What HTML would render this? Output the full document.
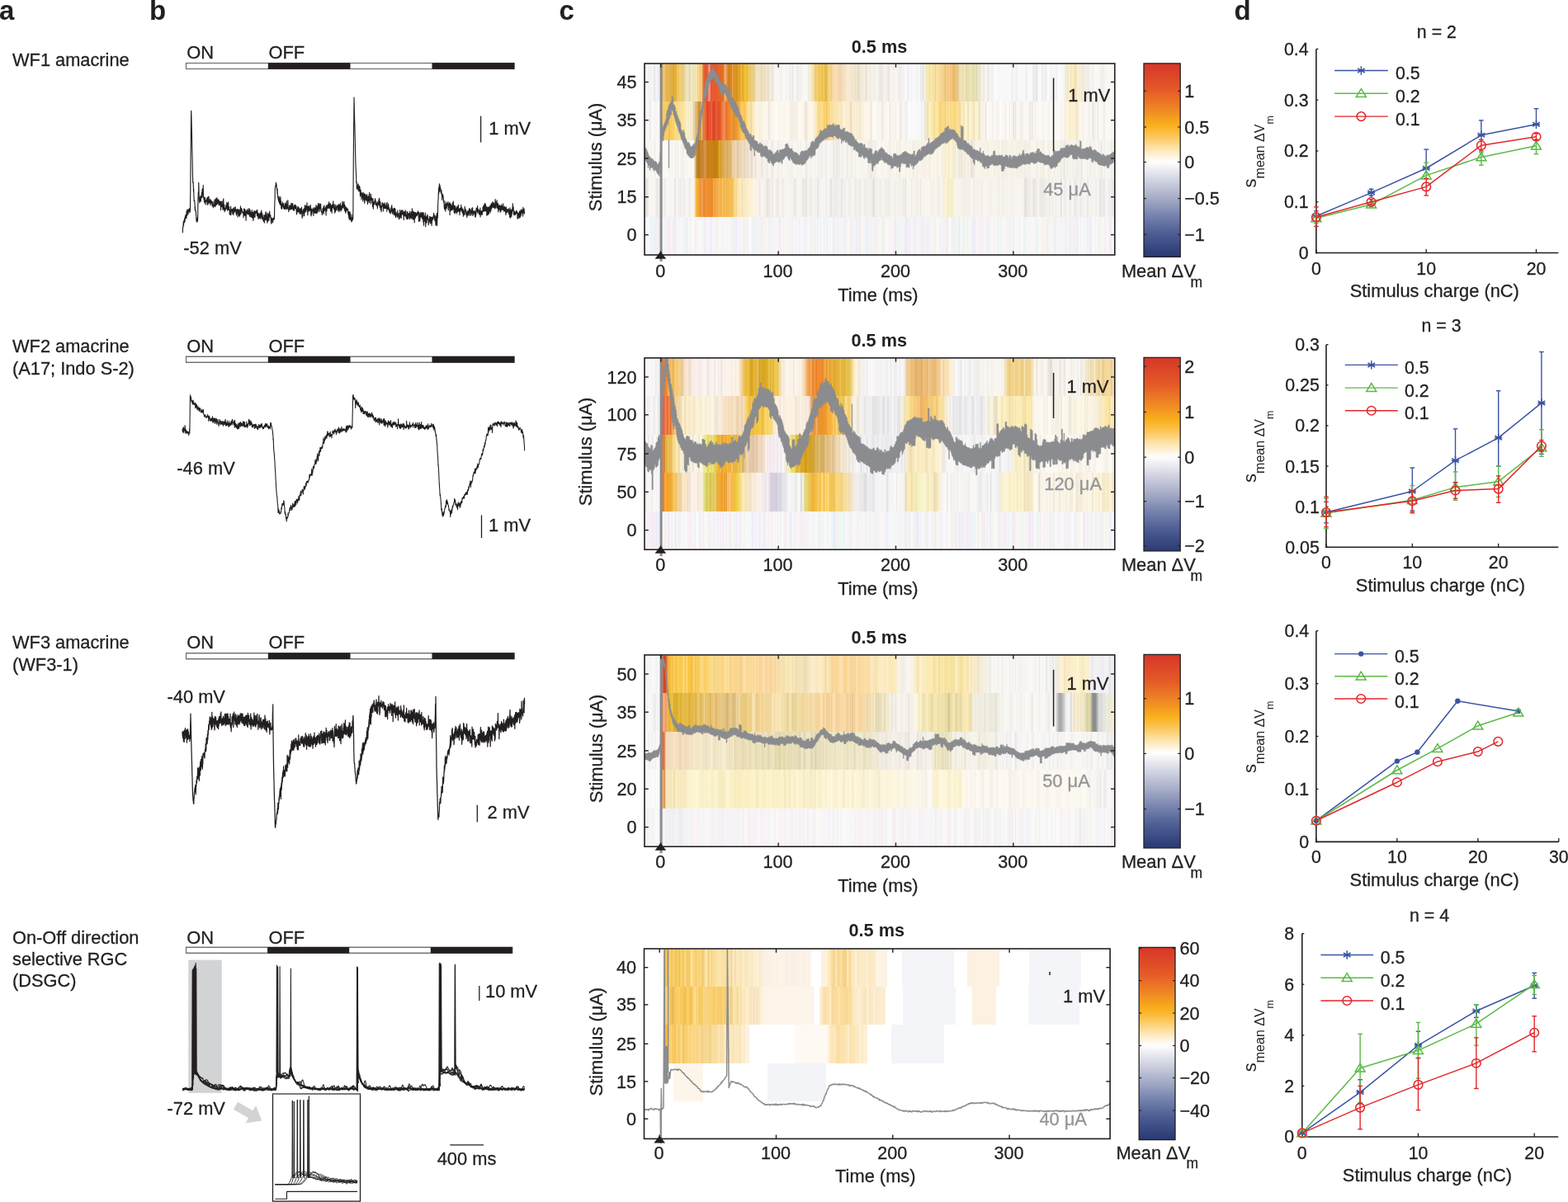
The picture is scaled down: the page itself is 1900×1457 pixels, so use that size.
<!DOCTYPE html>
<html><head><meta charset="utf-8"><title>Figure</title>
<style>
html,body{margin:0;padding:0;background:#fff;}
body{position:relative;width:1900px;height:1457px;overflow:hidden;}
svg{display:block;position:absolute;left:0;top:0;}
#hm div{position:absolute;}
text{font-family:"Liberation Sans",Arial,sans-serif;}
</style></head><body>
<div id="hm"><div style="left:781.8px;top:78.0px;width:568.2px;height:45.0px;background:linear-gradient(90deg,#f1f1f3 0.00%,#f2f2f4 0.21%,#f8f8f9 0.42%,#f6f6f8 0.63%,#eeeef0 0.84%,#f7f7f9 1.06%,#f0f0f2 1.27%,#f5f5f7 1.48%,#f6f6f8 1.69%,#e4e4e6 1.90%,#eeeef0 2.11%,#f6f6f8 2.32%,#f2f2f4 2.53%,#ededef 2.75%,#efeff1 2.96%,#f4f4f6 3.17%,#efd4a0 3.38%,#eec36e 3.59%,#ebb854 3.80%,#f3d396 4.01%,#eab145 4.22%,#eec26e 4.44%,#e2a42a 4.65%,#ebc370 4.86%,#e1a730 5.07%,#e7bd63 5.28%,#dfa62b 5.49%,#e7ba57 5.70%,#daa227 5.91%,#e5ac2c 6.12%,#e8b132 6.34%,#e2ae36 6.55%,#efc563 6.76%,#edc155 6.97%,#f1cc6f 7.18%,#f2ce72 7.39%,#f1cf75 7.60%,#e7c979 7.81%,#e6cd87 8.03%,#e4cf95 8.24%,#ead9a9 8.45%,#f0e1b3 8.66%,#efe2b6 8.87%,#f1e6c3 9.08%,#e5dab3 9.29%,#e0d7b1 9.50%,#eee6c3 9.71%,#f2ecd1 9.93%,#eadfb6 10.14%,#f0e2b4 10.35%,#f3e3b1 10.56%,#f5e4b0 10.77%,#f8e4ad 10.98%,#efd595 11.19%,#f8d890 11.40%,#f2c979 11.62%,#f8c76f 11.83%,#face8d 12.04%,#e18744 12.25%,#ea6a35 12.46%,#e7572d 12.67%,#e84f2a 12.88%,#ea5b3e 13.09%,#ea5638 13.31%,#f29a88 13.52%,#f1907c 13.73%,#ec684c 13.94%,#e84b28 14.15%,#ea5d3a 14.36%,#ea5e38 14.57%,#e25227 14.78%,#e96134 14.99%,#e45927 15.21%,#e85e27 15.42%,#e96a32 15.63%,#e56322 15.84%,#e46621 16.05%,#e66a20 16.26%,#e77023 16.47%,#e16f1c 16.68%,#efad7a 16.90%,#edad76 17.11%,#e7984f 17.32%,#e38931 17.53%,#db7c1b 17.74%,#d47b1c 17.95%,#dd841e 18.16%,#d8841f 18.37%,#e7a754 18.59%,#da8b1f 18.80%,#e19628 19.01%,#dd9320 19.22%,#d6911e 19.43%,#dc981f 19.64%,#e19d20 19.85%,#e6a62a 20.06%,#e4a320 20.27%,#eebf59 20.49%,#e3a823 20.70%,#e6ae26 20.91%,#efbe3e 21.12%,#f0c23f 21.33%,#eebf32 21.54%,#e9be3d 21.75%,#e7bf49 21.96%,#f3d67f 22.18%,#e1c15f 22.39%,#eece71 22.60%,#eed17e 22.81%,#e3ca84 23.02%,#e4cd91 23.23%,#eed8a4 23.44%,#f3e4c2 23.65%,#f2e2be 23.86%,#f3e4c4 24.08%,#f1e0bc 24.29%,#f1e1be 24.50%,#e8d8b5 24.71%,#f0dfbd 24.92%,#f0e1c1 25.13%,#f1e2c4 25.34%,#e8dbc1 25.55%,#f1e5cc 25.77%,#f3e9d4 25.98%,#e0d7c5 26.19%,#f3ebda 26.40%,#f0e9db 26.61%,#f4eee1 26.82%,#eae4da 27.03%,#e9e5dc 27.24%,#f6f2eb 27.46%,#f8f5ef 27.67%,#f8f7f3 27.88%,#f7f5f1 28.09%,#f8f7f3 28.30%,#f9f8f5 28.51%,#f0eeeb 28.72%,#f7f5f2 28.93%,#f3f1ef 29.14%,#f8f7f5 29.36%,#faf9f8 29.57%,#f8f7f5 29.78%,#f7f5f4 29.99%,#f4f2f1 30.20%,#f9f7f7 30.41%,#faf8f8 30.62%,#e9e7e6 30.83%,#f6f4f4 31.05%,#efeded 31.26%,#e7e5e5 31.47%,#f9f7f7 31.68%,#f7f5f4 31.89%,#f9f7f6 32.10%,#eeebe9 32.31%,#f1eeec 32.52%,#eeebe8 32.73%,#f8f6f2 32.95%,#f0ede9 33.16%,#f8f5f1 33.37%,#f9f7f3 33.58%,#faf7f4 33.79%,#faf8f4 34.00%,#faf8f3 34.21%,#f9f7f1 34.42%,#f8f4ed 34.64%,#eae6df 34.85%,#f8f1de 35.06%,#f9edcf 35.27%,#f7e6b8 35.48%,#f7e1a5 35.69%,#f9e5af 35.90%,#e8cc80 36.11%,#edcb74 36.33%,#f2cf73 36.54%,#f2ce6f 36.75%,#f1ca62 36.96%,#e8bd4a 37.17%,#f4d174 37.38%,#f1c44d 37.59%,#eabd43 37.80%,#f3ce6b 38.01%,#edc24b 38.23%,#dfb74a 38.44%,#deb74d 38.65%,#f2ce6b 38.86%,#f2cf71 39.07%,#f5d891 39.28%,#f4d285 39.49%,#f0ce88 39.70%,#f7d9a2 39.92%,#f9deb4 40.13%,#f5d6a7 40.34%,#fae3c2 40.55%,#f8dcb3 40.76%,#f7d9af 40.97%,#f8dbb3 41.18%,#f0d3ad 41.39%,#f1d5b0 41.61%,#f6dab5 41.82%,#f0d6b3 42.03%,#f9e3c7 42.24%,#f6debc 42.45%,#f6dfbf 42.66%,#f8e8d0 42.87%,#f7e8d0 43.08%,#f9efde 43.29%,#f4e3c6 43.51%,#f8eedd 43.72%,#f4e5ca 43.93%,#f4e6cc 44.14%,#f3e7cf 44.35%,#f3e8d0 44.56%,#ece1c8 44.77%,#eee4cb 44.98%,#f2ead4 45.20%,#e0d9c2 45.41%,#e9e1cb 45.62%,#ede5d0 45.83%,#f3ecda 46.04%,#f2ead8 46.25%,#f3ebda 46.46%,#f6f0e4 46.67%,#f2eadc 46.88%,#e6dfd3 47.10%,#f2eadf 47.31%,#f6efe5 47.52%,#f6f1e8 47.73%,#f0eae0 47.94%,#f6f0e8 48.15%,#f6f1e9 48.36%,#f6f2eb 48.57%,#f3eee8 48.79%,#f1ede7 49.00%,#f9f6f2 49.21%,#f8f5f0 49.42%,#f4f0ea 49.63%,#edeae4 49.84%,#ede9e4 50.05%,#eae7e1 50.26%,#e8e4df 50.48%,#f3efe9 50.69%,#f2eee9 50.90%,#f8f4f0 51.11%,#f3efea 51.32%,#f1ede8 51.53%,#f0ece7 51.74%,#e3dfdb 51.95%,#f7f3ee 52.16%,#f7f4ef 52.38%,#f9f6f2 52.59%,#f3efeb 52.80%,#f6f2ee 53.01%,#f5f1ed 53.22%,#fbf8f6 53.43%,#f8f4f0 53.64%,#f8f5f1 53.85%,#ece8e4 54.07%,#f7f3ef 54.28%,#ebe9e6 54.49%,#f5f3f2 54.70%,#f5f4f4 54.91%,#efeff1 55.12%,#f9f9fb 55.33%,#f9f9fa 55.54%,#f9f9fb 55.76%,#ececee 55.97%,#f1f1f3 56.18%,#f8f8fa 56.39%,#f9f9fa 56.60%,#f1f1f3 56.81%,#f9f9fa 57.02%,#fafafb 57.23%,#f8f8fa 57.44%,#f8f8fa 57.66%,#f2f2f4 57.87%,#f4f4f6 58.08%,#f8f8fa 58.29%,#f9f9fa 58.50%,#e7e7e9 58.71%,#f1f1f3 58.92%,#e8e8ea 59.13%,#e5e2da 59.35%,#faf4e1 59.56%,#f6edcd 59.77%,#f3e7bb 59.98%,#f6e7ae 60.19%,#fcecb4 60.40%,#eddca2 60.61%,#f8e5a7 60.82%,#fbe9b2 61.03%,#f6e1a2 61.25%,#fae4a6 61.46%,#f8e09e 61.67%,#ebd394 61.88%,#fae1a2 62.09%,#fae3aa 62.30%,#fae2aa 62.51%,#f3d590 62.72%,#f9de9f 62.94%,#f1d18a 63.15%,#f8d58f 63.36%,#f7d189 63.57%,#f6ce85 63.78%,#e5bb72 63.99%,#f7d195 64.20%,#f6c984 64.41%,#f5c780 64.63%,#f6ce90 64.84%,#f5c67f 65.05%,#f5c57b 65.26%,#f5c67d 65.47%,#e3b268 65.68%,#eebc6f 65.89%,#ebbf77 66.10%,#eac380 66.31%,#e7c688 66.53%,#e2c78f 66.74%,#f1daa5 66.95%,#f2e1b6 67.16%,#f1e3ba 67.37%,#efe0b3 67.58%,#ecdfb0 67.79%,#eee4bb 68.00%,#ede5bd 68.22%,#e1d9ab 68.43%,#e2daab 68.64%,#e8e0b0 68.85%,#e7dfaf 69.06%,#ece5bc 69.27%,#e9e2b4 69.48%,#e8e1b2 69.69%,#e3dbac 69.90%,#e7dfaf 70.12%,#e6deaf 70.33%,#ebe4ba 70.54%,#d6d0ab 70.75%,#efe9cb 70.96%,#efe9ce 71.17%,#e5e0c9 71.38%,#f3efdf 71.59%,#f4f0e4 71.81%,#f5f2e8 72.02%,#e6e3da 72.23%,#f7f5ee 72.44%,#f7f5ef 72.65%,#f7f5f1 72.86%,#e4e3e0 73.07%,#edecea 73.28%,#f8f8f7 73.50%,#eaeaea 73.71%,#f9f9f9 73.92%,#eaeaea 74.13%,#fafafa 74.34%,#f9f9f9 74.55%,#fcfcfc 74.76%,#f7f7f7 74.97%,#fafafa 75.18%,#f8f8f8 75.40%,#f5f5f5 75.61%,#fafafa 75.82%,#fafafa 76.03%,#f5f5f5 76.24%,#f9f9f9 76.45%,#f9f9f9 76.66%,#f8f8f8 76.87%,#f7f7f7 77.09%,#f7f7f7 77.30%,#f8f8f8 77.51%,#f9f9f9 77.72%,#fafafa 77.93%,#f2f2f2 78.14%,#ececec 78.35%,#f9f9f9 78.56%,#f6f6f6 78.78%,#f2f2f2 78.99%,#ededed 79.20%,#f8f8f8 79.41%,#f8f8f8 79.62%,#f7f7f7 79.83%,#f9f9f9 80.04%,#f9f9f9 80.25%,#f5f5f5 80.46%,#f9f9f9 80.68%,#f8f8f8 80.89%,#f2f2f2 81.10%,#ebebeb 81.31%,#f8f8f8 81.52%,#f7f7f7 81.73%,#fafafa 81.94%,#f9f9f9 82.15%,#f8f8f8 82.37%,#f9f9f9 82.58%,#e0e0e0 82.79%,#efefef 83.00%,#f0f0f0 83.21%,#dedede 83.42%,#ededed 83.63%,#f8f8f8 83.84%,#f9f9f9 84.05%,#f9f9f9 84.27%,#f8f8f8 84.48%,#e5e5e5 84.69%,#f8f8f8 84.90%,#efefef 85.11%,#f1f1f1 85.32%,#ebebeb 85.53%,#fafafa 85.74%,#fbfbfb 85.96%,#f8f8f8 86.17%,#f3f3f3 86.38%,#f2f2f2 86.59%,#f7f7f7 86.80%,#fbfbfb 87.01%,#f0f0f0 87.22%,#f9f9f9 87.43%,#f0f0f0 87.65%,#f5f5f5 87.86%,#f9f9f9 88.07%,#fbfbfb 88.28%,#f9f9f9 88.49%,#f8f8f8 88.70%,#f9f9f9 88.91%,#f8f8f7 89.12%,#f6f3ec 89.33%,#f4efe1 89.55%,#ede6d3 89.76%,#f7eed3 89.97%,#eee2c4 90.18%,#fcf1d2 90.39%,#fbecc5 90.60%,#f3e4ba 90.81%,#fdefc9 91.02%,#fcecc0 91.24%,#fcebb9 91.45%,#eedcaa 91.66%,#f3e2b5 91.87%,#fbecc6 92.08%,#fbf2d9 92.29%,#f9edd0 92.50%,#f6ecd5 92.71%,#f8f0e0 92.93%,#e9e2d4 93.14%,#f8f1e4 93.35%,#ebe5da 93.56%,#f2ede3 93.77%,#f5f1e8 93.98%,#edeae2 94.19%,#f3f0ea 94.40%,#edeae6 94.61%,#f6f4f0 94.83%,#faf8f5 95.04%,#f5f3ef 95.25%,#f0eeea 95.46%,#f8f6f3 95.67%,#f8f6f2 95.88%,#faf8f5 96.09%,#faf8f5 96.30%,#f8f7f3 96.52%,#f9f7f4 96.73%,#f8f7f3 96.94%,#f3f1ed 97.15%,#eeece8 97.36%,#f8f6f2 97.57%,#edebe7 97.78%,#f6f4f0 97.99%,#f9f7f3 98.20%,#f7f5f1 98.42%,#f9f7f4 98.63%,#faf9f6 98.84%,#f8f6f3 99.05%,#faf9f6 99.26%,#f9f7f3 99.47%,#f7f5f1 99.68%,#f9f8f5 99.89%)"></div><div style="left:781.8px;top:123.0px;width:568.2px;height:47.0px;background:linear-gradient(90deg,#f5f3f1 0.00%,#f1efee 0.21%,#f9f7f5 0.42%,#fbfaf9 0.63%,#f0eeec 0.84%,#eceae9 1.06%,#f9f7f6 1.27%,#fbfaf9 1.48%,#f9f7f5 1.69%,#f7f5f3 1.90%,#f7f5f3 2.11%,#f7f5f3 2.32%,#f9f7f5 2.53%,#faf9f7 2.75%,#f8f6f4 2.96%,#f5f3f1 3.17%,#f4dda6 3.38%,#f6cb5d 3.59%,#fcd061 3.80%,#f0c457 4.01%,#fcd168 4.22%,#fcd065 4.44%,#f7c652 4.65%,#fdd475 4.86%,#e3b54a 5.07%,#fcce61 5.28%,#f8c958 5.49%,#fcd167 5.70%,#fcd268 5.91%,#f9cf63 6.12%,#fddc85 6.34%,#fde195 6.55%,#f5d170 6.76%,#fde093 6.97%,#fce093 7.18%,#f9da83 7.39%,#fce39a 7.60%,#fadf91 7.81%,#fbe39c 8.03%,#fceab3 8.24%,#f3e2ad 8.45%,#fcedbf 8.66%,#fcf0c9 8.87%,#f8ecc6 9.08%,#f6eac6 9.29%,#fdf3d6 9.50%,#efe4c3 9.71%,#fcf2d6 9.93%,#e6dbbd 10.14%,#e3d2ae 10.35%,#ebcc95 10.56%,#dcb26d 10.77%,#e2ba7c 10.98%,#d69f4c 11.19%,#cc8a2b 11.40%,#d29541 11.62%,#ce8e36 11.83%,#e8c79e 12.04%,#d6853b 12.25%,#dd8141 12.46%,#e3763c 12.67%,#e56838 12.88%,#e64f26 13.09%,#de4526 13.31%,#e54828 13.52%,#eb5f42 13.73%,#e64928 13.94%,#ec6d51 14.15%,#de4826 14.36%,#d74625 14.57%,#e04927 14.78%,#e84e28 14.99%,#ec6643 15.21%,#e55127 15.42%,#df5126 15.63%,#e45427 15.84%,#ec5c28 16.05%,#ef6b36 16.26%,#f28756 16.47%,#f18148 16.68%,#f49966 16.90%,#ed7328 17.11%,#ee7828 17.32%,#eb7b27 17.53%,#ed8127 17.74%,#f19038 17.95%,#eb8828 18.16%,#f3a14c 18.37%,#ea8e2a 18.59%,#e88f2b 18.80%,#e18e2a 19.01%,#ef9a2e 19.22%,#e8992e 19.43%,#ec9f32 19.64%,#f6ac3a 19.85%,#f3ad39 20.06%,#f8bd54 20.27%,#fac767 20.49%,#facb6d 20.70%,#fac75e 20.91%,#f5be48 21.12%,#fccd64 21.33%,#fcd06a 21.54%,#fddd92 21.75%,#fde2a1 21.96%,#fcdf96 22.18%,#fce6ad 22.39%,#e5d3a1 22.60%,#fae8b7 22.81%,#f5e6bb 23.02%,#fcf0ce 23.23%,#fcf0d0 23.44%,#fdf4de 23.65%,#fdf5e3 23.86%,#fdf6e7 24.08%,#f8f0dd 24.29%,#f5eedc 24.50%,#fbf4e2 24.71%,#f8f1e0 24.92%,#fcf6e8 25.13%,#fcf6e7 25.34%,#fcf7e9 25.55%,#fcf6e8 25.77%,#fcf8ec 25.98%,#f6f1e4 26.19%,#e8e3d8 26.40%,#f7f2e7 26.61%,#faf5ea 26.82%,#fcf8ee 27.03%,#f8f3e9 27.24%,#fdf9f2 27.46%,#fcf8f0 27.67%,#fdfaf3 27.88%,#fdf9f3 28.09%,#fdf9f2 28.30%,#fcf8f0 28.51%,#f8f4eb 28.72%,#fcf9f1 28.93%,#fcf9f1 29.14%,#fdf9f2 29.36%,#f8f3ea 29.57%,#fcf8ef 29.78%,#fcf7ed 29.99%,#fdf9f1 30.20%,#fdf9f2 30.41%,#fdf9f0 30.62%,#f3eee3 30.83%,#fcf7ee 31.05%,#e9e3d9 31.26%,#fcf7ed 31.47%,#f1ebe0 31.68%,#fcf6ea 31.89%,#efe9de 32.10%,#fbf5e8 32.31%,#f9f2e6 32.52%,#fdf9f1 32.73%,#fefaf4 32.95%,#fdf8ee 33.16%,#fdf7ed 33.37%,#fcf6e9 33.58%,#fcf5e7 33.79%,#f6efe1 34.00%,#ebe4d6 34.21%,#ece5d8 34.42%,#fcf6e9 34.64%,#fcf5e7 34.85%,#fdf7ec 35.06%,#fbf4e4 35.27%,#fdf9f0 35.48%,#fdf6e9 35.69%,#f9eed5 35.90%,#fdf0d3 36.11%,#fce8b7 36.33%,#fde9b6 36.54%,#fadd91 36.75%,#f7d784 36.96%,#fcdc8b 37.17%,#fcdb86 37.38%,#fddd8e 37.59%,#fddf93 37.80%,#fcd36c 38.01%,#f8cc61 38.23%,#fcd677 38.44%,#f0c661 38.65%,#fcd068 38.86%,#fcd77d 39.07%,#f8d071 39.28%,#fde6ad 39.49%,#fbdb8c 39.70%,#f8dc97 39.92%,#fce5ab 40.13%,#fce4ab 40.34%,#fce7b3 40.55%,#f5e1ae 40.76%,#fae6b5 40.97%,#fae7b9 41.18%,#f9e7bc 41.39%,#fcecc5 41.61%,#f2e2be 41.82%,#fbebc7 42.03%,#fdf1d6 42.24%,#fdf2d9 42.45%,#fdf1d6 42.66%,#faebcb 42.87%,#fcf0d3 43.08%,#faebcc 43.29%,#fceecf 43.51%,#eee0c4 43.72%,#e8dbc0 43.93%,#faecd0 44.14%,#fcf1d9 44.35%,#f4e8cd 44.56%,#fcf1db 44.77%,#fcefd6 44.98%,#f4e8d0 45.20%,#fbefd7 45.41%,#f6ebd4 45.62%,#f1e6d1 45.83%,#faefda 46.04%,#fcf4e2 46.25%,#f7eedb 46.46%,#fcf5e5 46.67%,#fdf5e7 46.88%,#fcf5e7 47.10%,#fcf6e9 47.31%,#fcf5e7 47.52%,#fcf6ea 47.73%,#f7f1e5 47.94%,#ece6dc 48.15%,#f8f3e9 48.36%,#fdfaf3 48.57%,#fdfaf4 48.79%,#fcf9f2 49.00%,#fdfaf4 49.21%,#fcf9f1 49.42%,#f5f1e9 49.63%,#f6f2eb 49.84%,#fcf9f2 50.05%,#f6f2ea 50.26%,#f4f0e8 50.48%,#e5e1da 50.69%,#fdfbf6 50.90%,#f7f3eb 51.11%,#fcf8f0 51.32%,#fcf8f1 51.53%,#fbf7ef 51.74%,#fcf9f1 51.95%,#ece9e1 52.16%,#f6f2ea 52.38%,#fcf8f0 52.59%,#f8f4ec 52.80%,#f7f3eb 53.01%,#fdf9f3 53.22%,#f1ede5 53.43%,#fcf9f2 53.64%,#fdf9f3 53.85%,#fcf8f0 54.07%,#eeeae3 54.28%,#efece7 54.49%,#f2f0ed 54.70%,#f6f5f4 54.91%,#f6f6f8 55.12%,#f3f3f5 55.33%,#f0f0f2 55.54%,#efeff1 55.76%,#f7f7f9 55.97%,#fafafb 56.18%,#fbfbfc 56.39%,#f9f9fb 56.60%,#f8f8fa 56.81%,#f9f9fa 57.02%,#fafafb 57.23%,#fafafb 57.44%,#f9f9fb 57.66%,#f9f9fb 57.87%,#f9f9fb 58.08%,#f9f9fb 58.29%,#f6f6f8 58.50%,#f9f9fa 58.71%,#ebebed 58.92%,#f4f4f6 59.13%,#f9f8f2 59.35%,#ece7d8 59.56%,#ebe5cc 59.77%,#f7eeca 59.98%,#e5dbb1 60.19%,#f6e9b7 60.40%,#fdf2ca 60.61%,#fcebb2 60.82%,#fcecb8 61.03%,#fceaaf 61.25%,#f2dc9a 61.46%,#f6df98 61.67%,#fce49d 61.88%,#fde6a7 62.09%,#fde9b2 62.30%,#fce091 62.51%,#fad97f 62.72%,#f0cf75 62.94%,#fddf8f 63.15%,#f7d476 63.36%,#fcdb82 63.57%,#fddf8f 63.78%,#ebc970 63.99%,#fde4a2 64.20%,#f9d677 64.41%,#fde092 64.63%,#fcde8c 64.84%,#fcde8c 65.05%,#fcd97c 65.26%,#fcdb84 65.47%,#fddf90 65.68%,#f8d67b 65.89%,#f8d781 66.10%,#fbdb88 66.31%,#fce198 66.53%,#fcdf93 66.74%,#f3d894 66.95%,#f2da9a 67.16%,#fce6a9 67.37%,#fdf2d3 67.58%,#f4e2b0 67.79%,#f6e7b9 68.00%,#fdf2cf 68.22%,#fdf3d5 68.43%,#fcf0c8 68.64%,#e8ddb8 68.85%,#fbefc7 69.06%,#fcf1cc 69.27%,#fdf5db 69.48%,#f7ecc4 69.69%,#f8ecc5 69.90%,#ede1bc 70.12%,#faeec6 70.33%,#fdf6df 70.54%,#fdf3d4 70.75%,#fcf1ca 70.96%,#ede3c3 71.17%,#ede4ca 71.38%,#fbf4de 71.59%,#f9f2e3 71.81%,#f7f2e9 72.02%,#f8f4f0 72.23%,#f7f3ef 72.44%,#e4e0dd 72.65%,#fdf9f6 72.86%,#fdfaf7 73.07%,#fcf8f4 73.28%,#f8f4f1 73.50%,#fcf8f4 73.71%,#f9f5f1 73.92%,#f0ece8 74.13%,#fcf8f5 74.34%,#fcf9f5 74.55%,#fdf9f6 74.76%,#f0ede9 74.97%,#f9f5f1 75.18%,#f8f4f0 75.40%,#fcf9f5 75.61%,#fdfaf7 75.82%,#fdf9f6 76.03%,#fcf9f6 76.24%,#f4f0ec 76.45%,#fdfaf7 76.66%,#ede9e5 76.87%,#fdfaf6 77.09%,#fdf9f6 77.30%,#fcf8f4 77.51%,#f4f0ec 77.72%,#fcf8f4 77.93%,#f5f1ed 78.14%,#fcf9f5 78.35%,#dfdbd8 78.56%,#f9f5f1 78.78%,#e7e3df 78.99%,#fcf9f5 79.20%,#fcf8f5 79.41%,#fdf9f6 79.62%,#f4f0ec 79.83%,#f7f3ef 80.04%,#ede9e6 80.25%,#f6f2ee 80.46%,#f8f4f0 80.68%,#fcf8f4 80.89%,#f8f4f0 81.10%,#fcf8f4 81.31%,#fcf9f5 81.52%,#fcf8f4 81.73%,#e8e4e1 81.94%,#f2eeea 82.15%,#f4f0ec 82.37%,#e7e3df 82.58%,#fcf9f5 82.79%,#f8f4f0 83.00%,#f2eeea 83.21%,#fcf8f4 83.42%,#fcf9f5 83.63%,#f7f3ef 83.84%,#fcf9f6 84.05%,#fcf9f5 84.27%,#fcf8f4 84.48%,#fdfaf7 84.69%,#f0ede9 84.90%,#fdfbf9 85.11%,#fcf9f5 85.32%,#fcf8f5 85.53%,#fcf9f5 85.74%,#f5f1ee 85.96%,#f9f5f1 86.17%,#fdfbf8 86.38%,#fdf9f6 86.59%,#fcf8f4 86.80%,#fcf8f4 87.01%,#fdfaf7 87.22%,#fdfaf6 87.43%,#fcf8f4 87.65%,#fdfaf7 87.86%,#fcf9f5 88.07%,#fcf9f5 88.28%,#fcf9f5 88.49%,#f9f5f1 88.70%,#f4f0ec 88.91%,#fbf7f2 89.12%,#fcf7ef 89.33%,#f1eadc 89.55%,#fcf4e1 89.76%,#fdf5e2 89.97%,#fbf0d3 90.18%,#fcf0d1 90.39%,#f6eacb 90.60%,#fcf1d4 90.81%,#fcf1d3 91.02%,#fcf0d0 91.24%,#fcf2d6 91.45%,#fbefcf 91.66%,#f9edce 91.87%,#ece1c3 92.08%,#f6ecd1 92.29%,#fcf5e2 92.50%,#fcf6e7 92.71%,#fcf5e8 92.93%,#fbf6ee 93.14%,#f4f0ec 93.35%,#f6f2ee 93.56%,#fcf9f5 93.77%,#fcf8f5 93.98%,#f9f5f1 94.19%,#fcf9f5 94.40%,#f3efeb 94.61%,#f5f1ee 94.83%,#fdf9f6 95.04%,#f9f5f1 95.25%,#e4e0dd 95.46%,#f3efeb 95.67%,#f1eeea 95.88%,#fbf7f3 96.09%,#faf6f2 96.30%,#ebe7e4 96.52%,#f6f2ee 96.73%,#fdfaf8 96.94%,#fcf8f4 97.15%,#f8f4f0 97.36%,#fcf9f6 97.57%,#eeeae6 97.78%,#f3efeb 97.99%,#fcf9f5 98.20%,#fcf8f4 98.42%,#fcf9f5 98.63%,#fcf8f4 98.84%,#fcf8f5 99.05%,#fcf8f4 99.26%,#f5f1ed 99.47%,#f8f4f0 99.68%,#fcf8f4 99.89%)"></div><div style="left:781.8px;top:170.0px;width:568.2px;height:46.0px;background:linear-gradient(90deg,#faf7f3 0.00%,#f5f2ee 0.21%,#f8f5f1 0.42%,#f4f1ee 0.63%,#fbf8f4 0.84%,#fcfaf7 1.06%,#f0ede9 1.27%,#fcf9f6 1.48%,#fbf8f4 1.69%,#f3f0ec 1.90%,#f2efeb 2.11%,#fbf9f5 2.32%,#fbf8f4 2.53%,#f9f6f2 2.75%,#fbf8f4 2.96%,#fcfaf7 3.17%,#f6f3ef 3.38%,#fbf9f5 3.59%,#fcfaf7 3.80%,#fbf9f5 4.01%,#fdfbf8 4.22%,#fcf9f6 4.44%,#fbf9f5 4.65%,#fcf9f6 4.86%,#f5f2ee 5.07%,#f9f6f2 5.28%,#fbf8f4 5.49%,#f4f1ed 5.70%,#fbf8f4 5.91%,#fbf9f5 6.12%,#f2efec 6.34%,#f6f3ef 6.55%,#f8f5f1 6.76%,#f2f0ec 6.97%,#fcf9f6 7.18%,#fcf9f6 7.39%,#f4f1ed 7.60%,#f5f2ee 7.81%,#f1eeea 8.03%,#f5f2ef 8.24%,#fbf8f5 8.45%,#f7f4f0 8.66%,#fbf8f5 8.87%,#f8f5f1 9.08%,#fcf9f6 9.29%,#fbf9f5 9.50%,#f8f5f2 9.71%,#fcf9f6 9.93%,#fcfaf8 10.14%,#f5f2ee 10.35%,#e6cea6 10.56%,#d8af6e 10.77%,#c0801d 10.98%,#c3872d 11.19%,#af6e11 11.40%,#c48736 11.62%,#c28029 11.83%,#c88938 12.04%,#c67f27 12.25%,#d09144 12.46%,#d4974c 12.67%,#d5984b 12.88%,#cc811d 13.09%,#ca7f18 13.31%,#c78017 13.52%,#cb8518 13.73%,#c98316 13.94%,#c78114 14.15%,#ca8213 14.36%,#c27d11 14.57%,#c57e10 14.78%,#c07d0f 14.99%,#c58210 15.21%,#cb8810 15.42%,#cf8f15 15.63%,#dfb35d 15.84%,#d29319 16.05%,#daa644 16.26%,#d9a443 16.47%,#ddac56 16.68%,#dcaa53 16.90%,#e2ba74 17.11%,#deb162 17.32%,#d5a758 17.53%,#dfb56a 17.74%,#deb66e 17.95%,#d8b371 18.16%,#e2bc7d 18.37%,#eacda0 18.59%,#ecd2ac 18.80%,#e9cb9f 19.01%,#efd9bb 19.22%,#edd5b6 19.43%,#e2c5a0 19.64%,#e6caa7 19.85%,#eed7b8 20.06%,#ebd3b2 20.27%,#eed8ba 20.49%,#f0ddc2 20.70%,#eedbc0 20.91%,#e9d7be 21.12%,#e4d3bc 21.33%,#f5e8d6 21.54%,#e7d8c3 21.75%,#efe0cd 21.96%,#f5e9d8 22.18%,#f0e3d2 22.39%,#e8dccd 22.60%,#e8ded0 22.81%,#f6ede2 23.02%,#f8f0e6 23.23%,#ede4d9 23.44%,#f0e8de 23.65%,#f8f1e9 23.86%,#faf5ef 24.08%,#f4eee8 24.29%,#f9f4ef 24.50%,#ebe6e0 24.71%,#efe9e3 24.92%,#f1ebe6 25.13%,#f8f3ed 25.34%,#f6f0ea 25.55%,#f7f1ec 25.77%,#ebe6e1 25.98%,#faf6f1 26.19%,#f6f1eb 26.40%,#fbf7f4 26.61%,#f7f1ec 26.82%,#eae6e0 27.03%,#f5f0eb 27.24%,#f5f0ea 27.46%,#faf6f2 27.67%,#f9f5f0 27.88%,#f9f5f1 28.09%,#f3eee9 28.30%,#f3efe9 28.51%,#f8f4ef 28.72%,#f8f4ef 28.93%,#f4efea 29.14%,#f9f5f1 29.36%,#faf7f3 29.57%,#f9f5f1 29.78%,#f9f4f0 29.99%,#f7f3ee 30.20%,#f8f4ef 30.41%,#f4f0eb 30.62%,#f7f3ee 30.83%,#f8f4f0 31.05%,#f0ece7 31.26%,#f7f3ee 31.47%,#f8f5f0 31.68%,#faf7f4 31.89%,#f8f4ef 32.10%,#f8f5f0 32.31%,#f4f0ec 32.52%,#f9f5f1 32.73%,#f8f5f0 32.95%,#f4f0eb 33.16%,#f9f7f3 33.37%,#f9f6f1 33.58%,#f9f7f3 33.79%,#f8f5f1 34.00%,#f3f0ec 34.21%,#ebe8e3 34.42%,#f8f5f1 34.64%,#f9f7f3 34.85%,#f2f0eb 35.06%,#f8f5f1 35.27%,#f8f6f1 35.48%,#f8f5f1 35.69%,#f8f6f2 35.90%,#f8f5f1 36.11%,#f6f3ef 36.33%,#faf8f4 36.54%,#eeece7 36.75%,#f8f6f2 36.96%,#f1eeea 37.17%,#f5f3ef 37.38%,#efede9 37.59%,#f7f5f1 37.80%,#f4f2ee 38.01%,#f9f7f3 38.23%,#f0eeea 38.44%,#f1efeb 38.65%,#f8f6f3 38.86%,#f9f8f4 39.07%,#f7f5f1 39.28%,#faf9f6 39.49%,#f3f1ed 39.70%,#f8f6f2 39.92%,#e7e5e0 40.13%,#f0eee9 40.34%,#f0eee9 40.55%,#efece8 40.76%,#eae8e3 40.97%,#f0ede9 41.18%,#eceae5 41.39%,#f9f6f2 41.61%,#f4f2ed 41.82%,#f8f6f1 42.03%,#eeebe6 42.24%,#faf9f5 42.45%,#fbf9f5 42.66%,#f3f0eb 42.87%,#eeece7 43.08%,#f2efea 43.29%,#faf8f3 43.51%,#f4f1ec 43.72%,#f3f1eb 43.93%,#edeae4 44.14%,#f9f6f0 44.35%,#f9f6f1 44.56%,#f1eee8 44.77%,#f9f7f1 44.98%,#f9f6f0 45.20%,#f7f4ee 45.41%,#f9f6f0 45.62%,#f9f6f1 45.83%,#f9f6f0 46.04%,#f5f2ec 46.25%,#f9f6ef 46.46%,#f4f1ea 46.67%,#f9f5ef 46.88%,#faf7f2 47.10%,#f6f2ec 47.31%,#f2efe8 47.52%,#efebe5 47.73%,#f3f0e9 47.94%,#ebe7e0 48.15%,#f1eee7 48.36%,#f2eee7 48.57%,#f8f4ed 48.79%,#eeebe4 49.00%,#f7f3eb 49.21%,#f7f3ec 49.42%,#faf7f1 49.63%,#faf7f1 49.84%,#fbf9f4 50.05%,#f9f6ee 50.26%,#f5f1e9 50.48%,#faf7f0 50.69%,#faf6ef 50.90%,#f9f5ec 51.11%,#faf6ef 51.32%,#faf7f0 51.53%,#f7f3eb 51.74%,#f4f0e8 51.95%,#f6f1e9 52.16%,#f4efe7 52.38%,#fbf8f1 52.59%,#f6f2e9 52.80%,#f7f3ea 53.01%,#fbf8f1 53.22%,#faf6ef 53.43%,#f2eee5 53.64%,#f9f4eb 53.85%,#f9f5ec 54.07%,#eae5dd 54.28%,#faf6ed 54.49%,#faf6ed 54.70%,#fbf7f0 54.91%,#faf5ec 55.12%,#faf6ed 55.33%,#f6f1e8 55.54%,#faf5eb 55.76%,#faf6ed 55.97%,#faf6ed 56.18%,#f4f0e6 56.39%,#faf5eb 56.60%,#fbf7f0 56.81%,#f3eee4 57.02%,#f5f0e6 57.23%,#f3eee5 57.44%,#faf6ed 57.66%,#f5f0e6 57.87%,#f6f1e7 58.08%,#f6f1e7 58.29%,#faf5ea 58.50%,#faf5eb 58.71%,#f6f1e6 58.92%,#f8f2e8 59.13%,#f1ece2 59.35%,#faf6ec 59.56%,#f5f0e5 59.77%,#faf5ea 59.98%,#faf5ea 60.19%,#f6f0e5 60.40%,#f4efe4 60.61%,#f5f0e5 60.82%,#fbf7ef 61.03%,#faf4e8 61.25%,#faf5eb 61.46%,#f6f0e5 61.67%,#fcf9f2 61.88%,#faf5ea 62.09%,#f3eee2 62.30%,#f6f1e5 62.51%,#fbf5eb 62.72%,#fbf5eb 62.94%,#f7f0e3 63.15%,#f8f1e0 63.36%,#f7efdb 63.57%,#f8f0d8 63.78%,#f7eed3 63.99%,#fbf2d4 64.20%,#fcf2d4 64.41%,#f9eec9 64.63%,#f7ebc5 64.84%,#fdf5dd 65.05%,#fbf1d2 65.26%,#fbf2d6 65.47%,#ede4cb 65.68%,#faf2db 65.89%,#ebe4d0 66.10%,#f9f3e3 66.31%,#f8f2e4 66.53%,#f1ebde 66.74%,#eee8db 66.95%,#f1ebde 67.16%,#ede8db 67.37%,#eae5d8 67.58%,#f9f4e8 67.79%,#efe9dc 68.00%,#f4efe1 68.22%,#f4eee1 68.43%,#f9f4e8 68.64%,#ede8db 68.85%,#f9f4e8 69.06%,#f9f3e7 69.27%,#e5e0d4 69.48%,#ece6da 69.69%,#f0eade 69.90%,#ede7db 70.12%,#f8f3e7 70.33%,#f9f4e9 70.54%,#faf5ec 70.75%,#f8f2e5 70.96%,#f9f4e9 71.17%,#f7f2e5 71.38%,#f9f4e8 71.59%,#f8f3e6 71.81%,#f8f3e8 72.02%,#f3eee2 72.23%,#f9f4e9 72.44%,#f8f3e8 72.65%,#f8f3e7 72.86%,#f1ece0 73.07%,#faf6ec 73.28%,#f8f4e9 73.50%,#f8f3e7 73.71%,#f9f5eb 73.92%,#f9f4ea 74.13%,#f8f3e8 74.34%,#f1ece1 74.55%,#f8f4e9 74.76%,#f9f4ea 74.97%,#f5f0e5 75.18%,#f3eee3 75.40%,#f9f4ea 75.61%,#f9f4ea 75.82%,#f8f3e8 76.03%,#ece8dd 76.24%,#f8f3e8 76.45%,#f6f1e7 76.66%,#f3eee4 76.87%,#f6f1e6 77.09%,#f7f2e8 77.30%,#f8f4ea 77.51%,#f8f4ea 77.72%,#f5f0e6 77.93%,#f9f5ec 78.14%,#f2ede3 78.35%,#f8f4eb 78.56%,#f9f6ed 78.78%,#f5f0e6 78.99%,#f5f1e7 79.20%,#f2eee4 79.41%,#f8f4ea 79.62%,#f1ede3 79.83%,#f8f3e9 80.04%,#f5f0e7 80.25%,#f0ece2 80.46%,#f9f5ed 80.68%,#f2eee4 80.89%,#efebe1 81.10%,#f8f4eb 81.31%,#f7f3ea 81.52%,#eeeae1 81.73%,#f7f3ea 81.94%,#f5f1e8 82.15%,#f8f4eb 82.37%,#f9f6ef 82.58%,#f9f5ed 82.79%,#f9f6ee 83.00%,#f8f4eb 83.21%,#f9f5ed 83.42%,#ece8df 83.63%,#f8f5ec 83.84%,#faf8f2 84.05%,#f4f0e7 84.27%,#f8f5ec 84.48%,#f5f2e9 84.69%,#ece8e0 84.90%,#f8f4ec 85.11%,#f9f6ef 85.32%,#faf7f0 85.53%,#f8f5ed 85.74%,#f3efe7 85.96%,#f2efe7 86.17%,#f8f4ed 86.38%,#f7f4ec 86.59%,#f9f6f0 86.80%,#f9f5ee 87.01%,#f4f0e8 87.22%,#f6f2ea 87.43%,#f9f6f0 87.65%,#f8f5ee 87.86%,#f3f0e9 88.07%,#f9f6ef 88.28%,#f4f0e9 88.49%,#f1eee7 88.70%,#f3efe8 88.91%,#f8f5ee 89.12%,#e3e0d9 89.33%,#f5f2eb 89.55%,#f5f2eb 89.76%,#f3f0e9 89.97%,#f1eee7 90.18%,#f9f6f0 90.39%,#f3f0ea 90.60%,#f7f4ed 90.81%,#f9f7f1 91.02%,#eeebe5 91.24%,#faf8f3 91.45%,#f0ede7 91.66%,#f5f2ec 91.87%,#edebe5 92.08%,#f4f1eb 92.29%,#f1eee8 92.50%,#f4f2ec 92.71%,#f1eee8 92.93%,#e5e3dd 93.14%,#f9f7f2 93.35%,#f8f6f0 93.56%,#f9f6f1 93.77%,#f8f5f0 93.98%,#f8f6f0 94.19%,#f0eee8 94.40%,#faf9f5 94.61%,#f1efe9 94.83%,#eeece6 95.04%,#faf8f3 95.25%,#f4f2ec 95.46%,#f6f4ee 95.67%,#f0eee9 95.88%,#f8f6f1 96.09%,#f9f7f2 96.30%,#f9f7f2 96.52%,#efece8 96.73%,#f9f6f2 96.94%,#eeece7 97.15%,#e9e7e3 97.36%,#f8f6f1 97.57%,#f7f4f0 97.78%,#f4f1ed 97.99%,#f6f4ef 98.20%,#f9f7f3 98.42%,#f8f6f2 98.63%,#f4f2ee 98.84%,#f8f6f2 99.05%,#f4f2ee 99.26%,#eae8e5 99.47%,#f8f7f3 99.68%,#eceae6 99.89%)"></div><div style="left:781.8px;top:216.0px;width:568.2px;height:47.0px;background:linear-gradient(90deg,#f1edeb 0.00%,#ddd9d7 0.21%,#e9e5e3 0.42%,#f1edeb 0.63%,#f8f5f3 0.84%,#faf7f5 1.06%,#f8f4f2 1.27%,#faf7f5 1.48%,#f9f5f3 1.69%,#f8f4f2 1.90%,#f5f1ef 2.11%,#f1eeec 2.32%,#e3dfdd 2.53%,#f6f2f0 2.75%,#ece8e6 2.96%,#f9f5f3 3.17%,#fbf9f8 3.38%,#f3efed 3.59%,#f9f6f4 3.80%,#ede9e7 4.01%,#f2efed 4.22%,#f9f5f4 4.44%,#f8f5f3 4.65%,#f9f6f4 4.86%,#faf6f5 5.07%,#f8f5f3 5.28%,#f8f4f3 5.49%,#f9f6f4 5.70%,#f8f5f3 5.91%,#f9f5f3 6.12%,#dfdbd9 6.34%,#f8f4f2 6.55%,#f9f5f3 6.76%,#f6f2f0 6.97%,#f1edeb 7.18%,#eeeae8 7.39%,#eeeae8 7.60%,#f9f5f4 7.81%,#f2eeec 8.03%,#f0ecea 8.24%,#f5f1ef 8.45%,#f9f5f3 8.66%,#f9f5f3 8.87%,#f7f3f1 9.08%,#f2eeec 9.29%,#eeeae8 9.50%,#f6f2f0 9.71%,#f8f5f3 9.93%,#f8f4f2 10.14%,#f8f4f2 10.35%,#f9e3b5 10.56%,#f8c144 10.77%,#f1b13b 10.98%,#f5ad42 11.19%,#f09c34 11.40%,#f29b42 11.62%,#ed8d2e 11.83%,#f3a456 12.04%,#f1973f 12.25%,#ef8b2b 12.46%,#e78529 12.67%,#f1933b 12.88%,#f2943d 13.09%,#ee8929 13.31%,#f29131 13.52%,#ec8c2b 13.73%,#ee902c 13.94%,#e28a2b 14.15%,#ed932e 14.36%,#f6a94f 14.57%,#f5a13b 14.78%,#f29f35 14.99%,#f8b358 15.21%,#f3a63a 15.42%,#f9ba5e 15.63%,#f8b64f 15.84%,#f5af40 16.05%,#f5b041 16.26%,#fac876 16.47%,#f3b143 16.68%,#f2b244 16.90%,#f9c66d 17.11%,#edb045 17.32%,#f6b94b 17.53%,#f3b84e 17.74%,#f5bc52 17.95%,#fac157 18.16%,#efbb56 18.37%,#efbd5a 18.59%,#fccc6b 18.80%,#fcd585 19.01%,#fdde9d 19.22%,#fad78c 19.43%,#fce1a4 19.64%,#fde7b5 19.85%,#fce7b5 20.06%,#fdebc0 20.27%,#fce9b8 20.49%,#edddb2 20.70%,#fcedc3 20.91%,#f3e4bc 21.12%,#fdf0cf 21.33%,#faecc5 21.54%,#f9ebc6 21.75%,#fcf0cf 21.96%,#fcefcd 22.18%,#fcf0d1 22.39%,#fbf0d0 22.60%,#fbf0d5 22.81%,#fcf6e6 23.02%,#fbf4e4 23.23%,#faf2e2 23.44%,#faf3e9 23.65%,#f9f4ed 23.86%,#f9f3ee 24.08%,#f1ebe5 24.29%,#f1ece6 24.50%,#f9f5f0 24.71%,#f8f2ec 24.92%,#f9f4ef 25.13%,#f9f5f1 25.34%,#eee9e4 25.55%,#f8f3ee 25.77%,#e2ddd8 25.98%,#f1ece7 26.19%,#e8e3de 26.40%,#f5f0eb 26.61%,#f6f1ec 26.82%,#ede8e3 27.03%,#f2ede8 27.24%,#faf7f4 27.46%,#f8f3ef 27.67%,#f7f2ee 27.88%,#ede8e4 28.09%,#eae5e1 28.30%,#f7f2ed 28.51%,#f7f2ee 28.72%,#f7f3ef 28.93%,#f7f3ee 29.14%,#eae6e2 29.36%,#f7f3ee 29.57%,#f7f3ee 29.78%,#f7f3ef 29.99%,#f8f4f1 30.20%,#faf7f4 30.41%,#f7f3ef 30.62%,#f7f3f0 30.83%,#f7f4f0 31.05%,#f5f1ed 31.26%,#f6f3ef 31.47%,#efebe7 31.68%,#ece8e5 31.89%,#edeae6 32.10%,#f4f1ed 32.31%,#f9f6f4 32.52%,#f8f6f3 32.73%,#f6f3ef 32.95%,#f6f3f0 33.16%,#f6f3f0 33.37%,#e7e4e1 33.58%,#ece8e5 33.79%,#f0edea 34.00%,#e5e2df 34.21%,#efece9 34.42%,#f4f1ee 34.64%,#f6f3f0 34.85%,#f5f3f0 35.06%,#e6e3e0 35.27%,#f5f2f0 35.48%,#f2efec 35.69%,#f6f3f1 35.90%,#f5f2ef 36.11%,#f1eeec 36.33%,#f6f4f2 36.54%,#e3e1df 36.75%,#eeece9 36.96%,#f4f2f0 37.17%,#f7f5f3 37.38%,#f6f4f2 37.59%,#f7f5f3 37.80%,#f6f5f3 38.01%,#f8f7f5 38.23%,#f3f1ef 38.44%,#f1efed 38.65%,#f5f3f1 38.86%,#f6f5f3 39.07%,#f7f5f3 39.28%,#e4e2e0 39.49%,#e7e5e3 39.70%,#f6f4f2 39.92%,#eceae8 40.13%,#efedeb 40.34%,#f1eeec 40.55%,#edebe9 40.76%,#edebe8 40.97%,#f5f3f0 41.18%,#efecea 41.39%,#f7f5f3 41.61%,#e1dfdc 41.82%,#f5f3f0 42.03%,#ebe9e6 42.24%,#f7f5f3 42.45%,#efedea 42.66%,#f6f4f2 42.87%,#f7f5f2 43.08%,#f5f3f0 43.29%,#eeece9 43.51%,#f2efec 43.72%,#f5f3f0 43.93%,#f7f5f3 44.14%,#f6f4f1 44.35%,#f6f4f1 44.56%,#ece9e6 44.77%,#eeece8 44.98%,#f6f4f0 45.20%,#f0edea 45.41%,#f0eeea 45.62%,#ece9e5 45.83%,#f6f4f0 46.04%,#f6f3ef 46.25%,#f6f4f0 46.46%,#f1efeb 46.67%,#ece9e6 46.88%,#f7f5f2 47.10%,#eeebe7 47.31%,#f6f3ef 47.52%,#f3f0ec 47.73%,#f5f2ee 47.94%,#eeebe7 48.15%,#f7f5f1 48.36%,#e2dfdb 48.57%,#dedbd7 48.79%,#f7f5f1 49.00%,#efece8 49.21%,#f6f3ee 49.42%,#f6f3ef 49.63%,#f8f5f1 49.84%,#edeae6 50.05%,#f5f2ed 50.26%,#f7f4f0 50.48%,#f6f3ef 50.69%,#f6f3ee 50.90%,#f8f6f1 51.11%,#eae7e2 51.32%,#f6f3ee 51.53%,#efece7 51.74%,#eeebe6 51.95%,#f5f2ed 52.16%,#f6f3ee 52.38%,#f8f6f1 52.59%,#f6f3ee 52.80%,#f7f4ef 53.01%,#f4f1eb 53.22%,#f3f0eb 53.43%,#f7f4ee 53.64%,#f7f3ee 53.85%,#f0ede8 54.07%,#f8f5f1 54.28%,#f1ede8 54.49%,#f9f6f2 54.70%,#efece6 54.91%,#eeeae5 55.12%,#f4f1eb 55.33%,#e6e3de 55.54%,#f8f5f0 55.76%,#f8f6f1 55.97%,#f9f6f1 56.18%,#f9f6f2 56.39%,#f8f6f0 56.60%,#edeae4 56.81%,#f9f6f0 57.02%,#f6f3ec 57.23%,#f8f5ef 57.44%,#f5f1ea 57.66%,#f5f1ea 57.87%,#edeae3 58.08%,#f7f4ed 58.29%,#f7f4ed 58.50%,#ece8e1 58.71%,#f7f4ed 58.92%,#f8f5ef 59.13%,#f8f4ee 59.35%,#f8f4ed 59.56%,#f8f5ef 59.77%,#f8f5ef 59.98%,#f8f5ee 60.19%,#f9f6f1 60.40%,#f9f6f0 60.61%,#f6f2ea 60.82%,#f5f2ea 61.03%,#f8f4ec 61.25%,#f2eee7 61.46%,#f8f4ed 61.67%,#f9f5ee 61.88%,#f9f6ef 62.09%,#f1ede5 62.30%,#f5f1e9 62.51%,#efebe4 62.72%,#f9f5ee 62.94%,#f8f4ea 63.15%,#faf6ea 63.36%,#efead8 63.57%,#f9f4dd 63.78%,#f6f0d5 63.99%,#fbf5d7 64.20%,#fbf4d0 64.41%,#ece4bf 64.63%,#fcf5ce 64.84%,#f6eec8 65.05%,#f5eecd 65.26%,#f4eed1 65.47%,#f3edd4 65.68%,#faf5e1 65.89%,#faf5e5 66.10%,#faf6eb 66.31%,#f6f2e9 66.53%,#f4f0e8 66.74%,#f9f6f0 66.95%,#f7f3eb 67.16%,#f7f3eb 67.37%,#f5f1ea 67.58%,#f8f5ed 67.79%,#ece8e1 68.00%,#f8f4ec 68.22%,#f4f0e9 68.43%,#f1ede6 68.64%,#f9f6ef 68.85%,#ede9e2 69.06%,#f8f5ee 69.27%,#f8f5ee 69.48%,#f8f5ef 69.69%,#faf7f2 69.90%,#ece9e2 70.12%,#f8f5ee 70.33%,#f8f4ed 70.54%,#f4f0e9 70.75%,#f5f1ea 70.96%,#f8f4ed 71.17%,#f3efe8 71.38%,#f9f6f1 71.59%,#ece9e2 71.81%,#f8f4ed 72.02%,#f8f4ee 72.23%,#f8f4ee 72.44%,#f9f6f0 72.65%,#f8f4ee 72.86%,#f8f5ef 73.07%,#f5f1eb 73.28%,#f6f2eb 73.50%,#f3f0e9 73.71%,#f6f2ec 73.92%,#f8f5ef 74.13%,#f7f4ed 74.34%,#f8f5ef 74.55%,#f7f4ee 74.76%,#f5f1eb 74.97%,#f9f6f1 75.18%,#eeeae4 75.40%,#f7f3ed 75.61%,#f7f4ee 75.82%,#f5f1eb 76.03%,#f2eee8 76.24%,#f7f4ee 76.45%,#f2eee8 76.66%,#f7f4ee 76.87%,#faf7f3 77.09%,#f1eee8 77.30%,#f8f5ef 77.51%,#f7f4ee 77.72%,#f7f4ef 77.93%,#f7f4ef 78.14%,#f3efe9 78.35%,#f7f4ee 78.56%,#f7f3ee 78.78%,#f7f4ef 78.99%,#f7f3ee 79.20%,#f9f6f2 79.41%,#f7f5f0 79.62%,#f9f6f2 79.83%,#f8f5f0 80.04%,#f7f3ee 80.25%,#f6f3ee 80.46%,#f7f4ee 80.68%,#e8e5e0 80.89%,#e4e1dc 81.10%,#e2dfda 81.31%,#f6f3ee 81.52%,#ece9e4 81.73%,#efece7 81.94%,#f1eee9 82.15%,#f7f4f0 82.37%,#f0ede8 82.58%,#eae7e3 82.79%,#e6e3df 83.00%,#f1eee9 83.21%,#ece9e4 83.42%,#f6f3ee 83.63%,#f7f4ef 83.84%,#f3f0eb 84.05%,#eceae5 84.27%,#edeae5 84.48%,#efece8 84.69%,#e9e7e2 84.90%,#f1efea 85.11%,#edeae5 85.32%,#f6f3ef 85.53%,#f2efeb 85.74%,#f6f4ef 85.96%,#edeae6 86.17%,#f6f3ef 86.38%,#f7f5f1 86.59%,#ebe9e5 86.80%,#f7f4f0 87.01%,#f5f3ee 87.22%,#f3f1ec 87.43%,#f3f0ec 87.65%,#f6f4f0 87.86%,#f6f3ef 88.07%,#f6f3ef 88.28%,#f7f5f1 88.49%,#dbd9d5 88.70%,#f6f3ef 88.91%,#f7f5f2 89.12%,#f1eeea 89.33%,#efede9 89.55%,#f1eeea 89.76%,#f6f4f0 89.97%,#f8f7f4 90.18%,#f4f2ee 90.39%,#e9e7e3 90.60%,#f7f5f2 90.81%,#f6f3f0 91.02%,#f6f3f0 91.24%,#f2efec 91.45%,#e3e1de 91.66%,#f3f0ed 91.87%,#eceae7 92.08%,#f6f4f1 92.29%,#f3f1ee 92.50%,#f2f0ed 92.71%,#e7e5e2 92.93%,#f7f4f2 93.14%,#f1efec 93.35%,#f4f1ee 93.56%,#f6f5f2 93.77%,#f5f3f0 93.98%,#f5f3f0 94.19%,#e3e1df 94.40%,#f6f5f2 94.61%,#f6f5f2 94.83%,#f2efec 95.04%,#f5f2ef 95.25%,#f6f5f2 95.46%,#f6f4f1 95.67%,#f7f5f3 95.88%,#efedea 96.09%,#f5f3f1 96.30%,#f6f4f2 96.52%,#f5f3f1 96.73%,#e9e7e4 96.94%,#e8e5e3 97.15%,#eceae7 97.36%,#f6f4f2 97.57%,#e4e2e0 97.78%,#eeecea 97.99%,#f6f4f2 98.20%,#f6f4f2 98.42%,#f6f5f3 98.63%,#f1efed 98.84%,#edebe9 99.05%,#f4f2f0 99.26%,#ebe9e7 99.47%,#edebe9 99.68%,#eae8e6 99.89%)"></div><div style="left:781.8px;top:263.0px;width:568.2px;height:45.0px;background:linear-gradient(90deg,#f0f7f2 0.00%,#f9f6f2 0.21%,#fcf8f2 0.42%,#fafafc 0.63%,#faf7f9 0.84%,#f1eefa 1.06%,#ebf6ee 1.27%,#e6f6f6 1.48%,#f3f2f5 1.69%,#edf5f6 1.90%,#f0ecfa 2.11%,#f1f0f2 2.32%,#edf5f6 2.53%,#fae9f3 2.75%,#eeedf0 2.96%,#faf8f9 3.17%,#eaf6f7 3.38%,#f9f7f8 3.59%,#faf9fb 3.80%,#f5f7f6 4.01%,#f3effa 4.22%,#fcf1f7 4.44%,#ebf6f7 4.65%,#efecf6 4.86%,#f3eff9 5.07%,#fbe7f3 5.28%,#faf2f7 5.49%,#f1f8f3 5.70%,#fbe9f4 5.91%,#eee9fa 6.12%,#f1f3f5 6.34%,#eeeef1 6.55%,#f8f6f8 6.76%,#f9f8fa 6.97%,#ebf7f8 7.18%,#f9f8fa 7.39%,#faf6f1 7.60%,#eff6f7 7.81%,#f8f7f8 8.03%,#e7f6f6 8.24%,#eef8f1 8.45%,#efebf8 8.66%,#efeef1 8.87%,#f0f7f2 9.08%,#f8f7f9 9.29%,#f5f4f7 9.50%,#edf7ef 9.71%,#fdf8ee 9.93%,#f9f8fa 10.14%,#fef9ec 10.35%,#f6f5f7 10.56%,#ede8fa 10.77%,#fdf7ea 10.98%,#fbf9f8 11.19%,#f6f4fb 11.40%,#fbfafb 11.62%,#faf9fb 11.83%,#fcf6ea 12.04%,#f6f4fa 12.25%,#f6f4f6 12.46%,#ece7f4 12.67%,#f5f2f9 12.88%,#f7f5f4 13.09%,#fceaf5 13.31%,#fcf9f7 13.52%,#f3f1f5 13.73%,#efeafa 13.94%,#f3eff9 14.15%,#faf5f8 14.36%,#f6f4f6 14.57%,#eff5f7 14.78%,#f6f4fa 14.99%,#f4f2f4 15.21%,#fbebf5 15.42%,#fdf8eb 15.63%,#fcf7ee 15.84%,#faf9fb 16.05%,#fcedf6 16.26%,#f1f8f9 16.47%,#f8f7f9 16.68%,#f4f7f5 16.90%,#f8f5f1 17.11%,#fcf7ef 17.32%,#f4f1fb 17.53%,#faf9fa 17.74%,#fbf7f1 17.95%,#ebf4f5 18.16%,#f7f7f9 18.37%,#ecf6ef 18.59%,#efeef2 18.80%,#f5f3f9 19.01%,#f1f0f3 19.22%,#eee9fa 19.43%,#f5f6f8 19.64%,#f8f6f8 19.85%,#f2f1f4 20.06%,#f5f2f9 20.27%,#f2f8f9 20.49%,#fcf7ef 20.70%,#fbe9f4 20.91%,#f0eff1 21.12%,#f6f5f7 21.33%,#fbf8f5 21.54%,#eeeafa 21.75%,#f9f5f8 21.96%,#fafafb 22.18%,#fafafc 22.39%,#f0f9fa 22.60%,#eaf6f7 22.81%,#eeeaf8 23.02%,#fcf6ea 23.23%,#e6f5f6 23.44%,#edf7f0 23.65%,#f6f5f7 23.86%,#f0ecf5 24.08%,#f8f8f8 24.29%,#f4f2f2 24.50%,#f3eff8 24.71%,#f0eff2 24.92%,#f0f6f7 25.13%,#eff5f1 25.34%,#faf5ea 25.55%,#f2f0f3 25.77%,#fef8eb 25.98%,#f0f0f3 26.19%,#ecf6f7 26.40%,#faf0f6 26.61%,#e7f6f7 26.82%,#f3f2f5 27.03%,#f4f3f6 27.24%,#f5f3f6 27.46%,#fcf7f0 27.67%,#ebf7f7 27.88%,#fcf8ef 28.09%,#edf6f7 28.30%,#fce7f3 28.51%,#f0f2f4 28.72%,#fae7f2 28.93%,#f9f9fb 29.14%,#f9f0f6 29.36%,#faeef5 29.57%,#f9f6f4 29.78%,#fcf8f1 29.99%,#e8f6f7 30.20%,#fef8ea 30.41%,#faf5ec 30.62%,#eeedf1 30.83%,#f7f7f7 31.05%,#f1f0f4 31.26%,#faeef5 31.47%,#f9f7f9 31.68%,#f8f6f8 31.89%,#f2eef9 32.10%,#f7f6f7 32.31%,#f8f8fa 32.52%,#f4f2f1 32.73%,#f3effa 32.95%,#fcf4f9 33.16%,#f7f6f8 33.37%,#f9f8fa 33.58%,#fbf4f9 33.79%,#eee9fa 34.00%,#edf8f0 34.21%,#f1f7f8 34.42%,#f0f8f2 34.64%,#fef8ea 34.85%,#fcf8f1 35.06%,#ede9f8 35.27%,#f7f5f9 35.48%,#f0f7f8 35.69%,#efeef2 35.90%,#fbf6eb 36.11%,#efebfa 36.33%,#f9f9fb 36.54%,#eeeaf9 36.75%,#edf7f8 36.96%,#f9f8fa 37.17%,#eeedf0 37.38%,#f9f9fb 37.59%,#f7f6f8 37.80%,#f5f4f6 38.01%,#eef3f4 38.23%,#f4f5f7 38.44%,#f6f3f6 38.65%,#efedf0 38.86%,#f7f6f7 39.07%,#f9f8fa 39.28%,#e9f6f7 39.49%,#faf9fb 39.70%,#f2effa 39.92%,#e5f6f6 40.13%,#f0eff3 40.34%,#f9e7f2 40.55%,#faf9fb 40.76%,#efeef2 40.97%,#f1efee 41.18%,#faf7f6 41.39%,#f1edf9 41.61%,#f9f8fa 41.82%,#f5f3f6 42.03%,#ebf6f7 42.24%,#f2f0f3 42.45%,#f0edf7 42.66%,#f4f3f5 42.87%,#f7f4f9 43.08%,#fdf8ec 43.29%,#fbfafb 43.51%,#f3ecf1 43.72%,#f6f5f7 43.93%,#efecf5 44.14%,#f7f5f7 44.35%,#f6f7f7 44.56%,#eaf6f7 44.77%,#eeeef2 44.98%,#fce7f3 45.20%,#f9f4ea 45.41%,#f0eff2 45.62%,#ece6f9 45.83%,#faf9fb 46.04%,#f8eef4 46.25%,#fef8ea 46.46%,#eef7f0 46.67%,#f7f4f7 46.88%,#e8f5f6 47.10%,#ece7f8 47.31%,#f4f6f5 47.52%,#fbe8f3 47.73%,#faf7f6 47.94%,#eaf6f6 48.15%,#faedf5 48.36%,#f8f5f8 48.57%,#f1f1f4 48.79%,#ecf8ef 49.00%,#fbe7f3 49.21%,#f6f4f9 49.42%,#f1f5f2 49.63%,#fbf6ec 49.84%,#f0f8f2 50.05%,#fcf6eb 50.26%,#f4f1f6 50.48%,#e5f5f5 50.69%,#f1edf0 50.90%,#fdf7e9 51.11%,#faf6ee 51.32%,#f9f7fb 51.53%,#f9f8f9 51.74%,#fbf6ed 51.95%,#e9f4f5 52.16%,#f9f8fa 52.38%,#f5f2f7 52.59%,#f6f5f7 52.80%,#f4f1f1 53.01%,#fbe9f4 53.22%,#eee9f9 53.43%,#eff6f1 53.64%,#faf0f6 53.85%,#eaf7ee 54.07%,#f4f7f5 54.28%,#f3f2f4 54.49%,#edf7f8 54.70%,#f3f2f5 54.91%,#f7f6f8 55.12%,#f3f0f9 55.33%,#ece7f8 55.54%,#ede9f6 55.76%,#faeff6 55.97%,#f1edf9 56.18%,#f1edf8 56.39%,#f1f4f2 56.60%,#f7f5f9 56.81%,#f5f2f9 57.02%,#f5f3f5 57.23%,#ece7f8 57.44%,#f2f7f3 57.66%,#f1f0f3 57.87%,#f9f7f9 58.08%,#eef8f1 58.29%,#f6f3f1 58.50%,#fbebf5 58.71%,#ecf5f6 58.92%,#eeeef1 59.13%,#f8edf4 59.35%,#eeeef1 59.56%,#f2f7f4 59.77%,#f4f2f7 59.98%,#fbe7f3 60.19%,#f5f2f8 60.40%,#f5f2f2 60.61%,#f3f4f4 60.82%,#f3f7f4 61.03%,#fbf7f0 61.25%,#f2f3f3 61.46%,#fbf6ee 61.67%,#eeedf1 61.88%,#faf9fb 62.09%,#f0f8f2 62.30%,#faf9fa 62.51%,#fbf7f3 62.72%,#f0eff2 62.94%,#eef7f0 63.15%,#f7f6f8 63.36%,#fceaf4 63.57%,#f8f3eb 63.78%,#eef5f6 63.99%,#eeedf0 64.20%,#fbe7f3 64.41%,#f2eff8 64.63%,#faf9fb 64.84%,#f9f8fa 65.05%,#f4f3f5 65.26%,#f2f0f4 65.47%,#eaf6ed 65.68%,#f6f2ec 65.89%,#f2f1f2 66.10%,#ebf8ef 66.31%,#f3f0fa 66.53%,#f8f6f8 66.74%,#ebe6f7 66.95%,#ecf7ef 67.16%,#f8f7f9 67.37%,#f9f5ee 67.58%,#efebfa 67.79%,#ecf6ee 68.00%,#f2f6f7 68.22%,#f3f6f4 68.43%,#edf7f0 68.64%,#f1f0f3 68.85%,#fdf7ea 69.06%,#e9f7f7 69.27%,#fcfaf8 69.48%,#ede8fa 69.69%,#f1edf9 69.90%,#ededf0 70.12%,#efecf5 70.33%,#f6f4f5 70.54%,#f9f7f8 70.75%,#faf5f9 70.96%,#fbeaf4 71.17%,#f6f4f6 71.38%,#faecf4 71.59%,#f6f4f6 71.81%,#fbebf4 72.02%,#f8f8fa 72.23%,#f7f7f8 72.44%,#f2f0f2 72.65%,#f7f5f7 72.86%,#f3e9f0 73.07%,#f3f5f7 73.28%,#f5f2fb 73.50%,#f7f5f9 73.71%,#f7f7f8 73.92%,#fef9ed 74.13%,#f0f1f3 74.34%,#f1f7f3 74.55%,#f9f6f3 74.76%,#f7f5f7 74.97%,#f8eef5 75.18%,#ebf8ee 75.40%,#ecf7f7 75.61%,#eaf6f7 75.82%,#eff7f1 76.03%,#faf7f6 76.24%,#f9f9fb 76.45%,#f6f4f8 76.66%,#fdf8eb 76.87%,#faedf5 77.09%,#f8f6f8 77.30%,#f3f1f4 77.51%,#f4f3f5 77.72%,#f2f4f6 77.93%,#faf5ed 78.14%,#ecf7f8 78.35%,#ede8fa 78.56%,#fdf8ed 78.78%,#faf8f8 78.99%,#f5f4f7 79.20%,#faf9fa 79.41%,#f8f6f8 79.62%,#efeff2 79.83%,#faf9fb 80.04%,#f9f7f9 80.25%,#faf8fa 80.46%,#e7f6f7 80.68%,#edf5ef 80.89%,#ebf8ee 81.10%,#f8f6f8 81.31%,#edf6ef 81.52%,#fbfafb 81.73%,#f2f5f3 81.94%,#f4f7f5 82.15%,#f9f8fa 82.37%,#f7f6f7 82.58%,#fcf8ef 82.79%,#f9f8fa 83.00%,#f0f0f3 83.21%,#f1f8f3 83.42%,#eee9fa 83.63%,#fbfbfc 83.84%,#f4f9f6 84.05%,#fdf7ea 84.27%,#f9f8fa 84.48%,#f1f1f4 84.69%,#f4f2f4 84.90%,#fcf6e9 85.11%,#fef8e9 85.32%,#f0eef2 85.53%,#efeff1 85.74%,#f2f7f4 85.96%,#efeef2 86.17%,#fdf8ef 86.38%,#faf6f0 86.59%,#f4f3f5 86.80%,#f6f4f4 87.01%,#e7f6f6 87.22%,#f0e9ed 87.43%,#f7f7f9 87.65%,#f2eff9 87.86%,#f5f2f8 88.07%,#f9f9fb 88.28%,#e8f4eb 88.49%,#f9f8fa 88.70%,#f1f0f3 88.91%,#fbf3f8 89.12%,#f6f5f6 89.33%,#f1edfa 89.55%,#f9f1f7 89.76%,#f9ecf4 89.97%,#eff8f2 90.18%,#f1f6f7 90.39%,#eee9f9 90.60%,#f4f1f8 90.81%,#f4f2f5 91.02%,#eef6f0 91.24%,#f3f2f4 91.45%,#faecf5 91.66%,#f3f2f5 91.87%,#eeeafa 92.08%,#f0ecfa 92.29%,#f8f7f9 92.50%,#f8f8fa 92.71%,#ecf4ee 92.93%,#f3f8f9 93.14%,#fcfbfc 93.35%,#efeff2 93.56%,#faf9fb 93.77%,#f8eff5 93.98%,#edf6f7 94.19%,#efeef2 94.40%,#f7f5f7 94.61%,#ededf1 94.83%,#ede7fa 95.04%,#f8f7f8 95.25%,#f7f7f9 95.46%,#f9f8fa 95.67%,#f4f3f5 95.88%,#f7f2f6 96.09%,#f9f9fb 96.30%,#f9f4eb 96.52%,#f4f4f6 96.73%,#eff3f0 96.94%,#edf8f0 97.15%,#f5f8f6 97.36%,#fcf7f0 97.57%,#faf1f7 97.78%,#f1f3f5 97.99%,#fae7f3 98.20%,#f7f8f7 98.42%,#fcf8f0 98.63%,#f9ecf4 98.84%,#f1f0f4 99.05%,#efebf8 99.26%,#efeef2 99.47%,#faf9fb 99.68%,#eaf7ee 99.89%)"></div><div style="left:781.8px;top:435.0px;width:568.2px;height:45.0px;background:linear-gradient(90deg,#fbf9f8 0.00%,#fcfbfa 0.21%,#f9f8f6 0.42%,#f9f7f6 0.63%,#faf8f6 0.84%,#f9f7f6 1.06%,#f8f7f5 1.27%,#f8f6f4 1.48%,#f9f7f5 1.69%,#faf9f7 1.90%,#f1efed 2.11%,#efedeb 2.32%,#f6f4f2 2.53%,#f1efed 2.75%,#f8f7f5 2.96%,#f0eeec 3.17%,#efaa8d 3.38%,#ee875a 3.59%,#eb6e29 3.80%,#ef8136 4.01%,#e77a1f 4.22%,#f08928 4.44%,#ee9231 4.65%,#f4aa51 4.86%,#f7c175 5.07%,#eaae4b 5.28%,#f8cb7d 5.49%,#efb754 5.70%,#efb957 5.91%,#e7b558 6.12%,#fad693 6.34%,#f6c564 6.55%,#f9cf7d 6.76%,#eec370 6.97%,#fadaa1 7.18%,#ecc683 7.39%,#f4cf92 7.60%,#e7c694 7.81%,#edcda2 8.03%,#f9debd 8.24%,#f9dfc4 8.45%,#fae4d0 8.66%,#fbe9d9 8.87%,#f9e3cf 9.08%,#f1decd 9.29%,#eedcce 9.50%,#efdfd5 9.71%,#fceee7 9.93%,#f8ebe6 10.14%,#fbefeb 10.35%,#faefeb 10.56%,#f7ebe7 10.77%,#fcf1ed 10.98%,#fcf1ed 11.19%,#efe4e1 11.40%,#fdf4f0 11.62%,#efe5e1 11.83%,#fcf2ef 12.04%,#faf0ec 12.25%,#fdf5f2 12.46%,#fdf4f1 12.67%,#fcf2ee 12.88%,#f9efeb 13.09%,#ece3df 13.31%,#f1e8e4 13.52%,#fcf3f0 13.73%,#fcf4f0 13.94%,#f8efeb 14.15%,#fcf3f0 14.36%,#fcf4f1 14.57%,#e8e0dc 14.78%,#f9f1ed 14.99%,#fdf7f4 15.21%,#f8f0ec 15.42%,#f9f1ed 15.63%,#f5ede9 15.84%,#fcf4ee 16.05%,#e3dbd5 16.26%,#fcf5ef 16.47%,#f9f0e9 16.68%,#fdf5ef 16.90%,#f8efe7 17.11%,#fcf4ec 17.32%,#fcf4ec 17.53%,#fcf4ec 17.74%,#fcf2e8 17.95%,#fcf3ea 18.16%,#f7ede1 18.37%,#fcf1e5 18.59%,#fcf2e6 18.80%,#fdf6ed 19.01%,#f5eadc 19.22%,#fcf1e3 19.43%,#fbf0e0 19.64%,#fcf2e4 19.85%,#f8e6ca 20.06%,#f9e4be 20.27%,#efcd8b 20.49%,#f5d698 20.70%,#f0c263 20.91%,#eebe53 21.12%,#edbd4b 21.33%,#ebb93c 21.54%,#eaba3b 21.75%,#edc55a 21.96%,#e6b226 22.18%,#dcaa24 22.39%,#d4a322 22.60%,#deaa22 22.81%,#dda921 23.02%,#eac361 23.23%,#e0aa20 23.44%,#e4b53c 23.65%,#e5b947 23.86%,#e8c260 24.08%,#d2a01e 24.29%,#dca820 24.50%,#e1b02f 24.71%,#d3a11e 24.92%,#dfac25 25.13%,#d0a01f 25.34%,#deab23 25.55%,#dbaa24 25.77%,#deac26 25.98%,#e5b531 26.19%,#ecc863 26.40%,#ddae2b 26.61%,#e9bb3b 26.82%,#ebc149 27.03%,#dbaf34 27.24%,#edc550 27.46%,#edc245 27.67%,#f0cc62 27.88%,#ecc44c 28.09%,#ebc75c 28.30%,#f0d17a 28.51%,#f7e0a4 28.72%,#f3dfb1 28.93%,#faedd3 29.14%,#f9eede 29.36%,#f0e6d7 29.57%,#fcf4e9 29.78%,#fbf1e3 29.99%,#fcf6ed 30.20%,#fcf5eb 30.41%,#fcf5ec 30.62%,#fbf2e7 30.83%,#fbf3e7 31.05%,#fbf4e9 31.26%,#fbf2e7 31.47%,#ece4da 31.68%,#fcf5ec 31.89%,#fcf5ed 32.10%,#faf3e9 32.31%,#fbf3ea 32.52%,#f9f2e9 32.73%,#f4ede5 32.95%,#fcf4ec 33.16%,#fbead6 33.37%,#fae2c6 33.58%,#f9d6ad 33.79%,#fbdab5 34.00%,#f6bd7d 34.21%,#f4b36c 34.42%,#eca55a 34.64%,#ef9f4c 34.85%,#eb943c 35.06%,#f4b06c 35.27%,#f29d4c 35.48%,#e68327 35.69%,#f18b2f 35.90%,#f29644 36.11%,#f18b34 36.33%,#e97e21 36.54%,#f18e37 36.75%,#f19039 36.96%,#ee8425 37.17%,#f29744 37.38%,#e98527 37.59%,#ef8d2a 37.80%,#e98e2a 38.01%,#f2a74f 38.23%,#f2a94d 38.44%,#ea9a2e 38.65%,#efa130 38.86%,#f2b75c 39.07%,#e09d2d 39.28%,#e8a62f 39.49%,#ebac32 39.70%,#ebb33e 39.92%,#e8af30 40.13%,#d9a52d 40.34%,#deaa2f 40.55%,#e9b73e 40.76%,#e0ad31 40.97%,#e8b434 41.18%,#e7b435 41.39%,#eec869 41.61%,#e5b436 41.82%,#e9ba40 42.03%,#e4b537 42.24%,#ddb23a 42.45%,#e3b941 42.66%,#ecc34d 42.87%,#e5bf4c 43.08%,#e1be50 43.29%,#e3c256 43.51%,#e6c85f 43.72%,#ecd175 43.93%,#edd488 44.14%,#f9e8b7 44.35%,#fbebc2 44.56%,#fceece 44.77%,#fdf4e2 44.98%,#faeed4 45.20%,#fbf1dc 45.41%,#ebe4d3 45.62%,#f5efe2 45.83%,#f2ede6 46.04%,#f9f6f3 46.25%,#edecea 46.46%,#f5f3f1 46.67%,#f5f3f1 46.88%,#f8f6f5 47.10%,#ebeae8 47.31%,#f8f7f6 47.52%,#faf8f7 47.73%,#f9f8f7 47.94%,#faf9f8 48.15%,#f9f8f7 48.36%,#f8f7f6 48.57%,#f8f6f6 48.79%,#f8f7f6 49.00%,#f5f3f3 49.21%,#f1efef 49.42%,#f8f6f6 49.63%,#f0eeee 49.84%,#f8f7f7 50.05%,#edecec 50.26%,#f9f8f8 50.48%,#f5f4f4 50.69%,#f3f3f3 50.90%,#f1f1f1 51.11%,#f7f6f7 51.32%,#eae9e9 51.53%,#f7f6f6 51.74%,#f8f7f8 51.95%,#f7f6f7 52.16%,#e7e7e7 52.38%,#f7f7f8 52.59%,#f9f9f9 52.80%,#efeeef 53.01%,#f3f2f3 53.22%,#eaeaeb 53.43%,#f3f2f4 53.64%,#f6f6f7 53.85%,#f9f9fa 54.07%,#e7e7e8 54.28%,#f8f8fa 54.49%,#f5f5f7 54.70%,#f5f5f7 54.91%,#f4f4f6 55.12%,#f6ecdf 55.33%,#ebd7b9 55.54%,#ebcd9f 55.76%,#f0c887 55.97%,#f3cb8c 56.18%,#f3cd91 56.39%,#edc17c 56.60%,#e8bb78 56.81%,#f0c07a 57.02%,#eebe78 57.23%,#efbd76 57.44%,#daab6a 57.66%,#e9b671 57.87%,#e5b36f 58.08%,#e8b671 58.29%,#ebb973 58.50%,#e6b571 58.71%,#dcad6c 58.92%,#e6b572 59.13%,#f2c382 59.35%,#f1c07c 59.56%,#ecba76 59.77%,#f1bf7a 59.98%,#dfb070 60.19%,#f3c88e 60.40%,#f4cb93 60.61%,#eebc79 60.82%,#f2c382 61.03%,#e9b977 61.25%,#e9ba79 61.46%,#e8ba7a 61.67%,#e7ba7a 61.88%,#f3c685 62.09%,#ebc080 62.30%,#f5d098 62.51%,#f3c887 62.72%,#f6d49f 62.94%,#f9e4c2 63.15%,#f9e5c4 63.36%,#f1cb8c 63.57%,#f7dbaa 63.78%,#f9e5c1 63.99%,#f7dcaa 64.20%,#fae8c5 64.41%,#f8dfaf 64.63%,#fbe8c3 64.84%,#fdf2da 65.05%,#fcefd3 65.26%,#fbf2dd 65.47%,#f8f0df 65.68%,#f2ede4 65.89%,#f9f7f6 66.10%,#f8f8fa 66.31%,#fafafb 66.53%,#f2f2f4 66.74%,#efeef0 66.95%,#f6f5f6 67.16%,#e1e1e2 67.37%,#f6f6f7 67.58%,#f8f8f8 67.79%,#fafafa 68.00%,#eeeded 68.22%,#f8f7f7 68.43%,#f8f7f7 68.64%,#eeeded 68.85%,#f5f4f3 69.06%,#e5e4e3 69.27%,#f8f7f6 69.48%,#f9f8f7 69.69%,#f2f0ef 69.90%,#f5f3f1 70.12%,#f0efed 70.33%,#f2f0ee 70.54%,#ebe9e6 70.75%,#f0efec 70.96%,#f2f0ed 71.17%,#f0eeeb 71.38%,#f8f6f3 71.59%,#f9f7f3 71.81%,#eeebe8 72.02%,#f8f6f2 72.23%,#f9f7f4 72.44%,#f9f7f3 72.65%,#f6f4ef 72.86%,#f1eee9 73.07%,#f9f6f1 73.28%,#f7f4ef 73.50%,#f9f6f1 73.71%,#f3f0eb 73.92%,#f6f3ed 74.13%,#f9f6f0 74.34%,#faf7f2 74.55%,#f9f6f1 74.76%,#faf7f3 74.97%,#f8f4ed 75.18%,#faf7f1 75.40%,#f8f4ed 75.61%,#f9f6f0 75.82%,#f5f1e9 76.03%,#f9f6ef 76.24%,#f8f0de 76.45%,#f0e3c3 76.66%,#f4e3b7 76.87%,#f3dca4 77.09%,#f0d48f 77.30%,#eece7f 77.51%,#e9ca7c 77.72%,#f1d287 77.93%,#f1d48a 78.14%,#f1d48b 78.35%,#f2d691 78.56%,#f2d895 78.78%,#f0d181 78.99%,#edce7f 79.20%,#f1d48b 79.41%,#f3d896 79.62%,#f2d58f 79.83%,#f2d792 80.04%,#e8c97c 80.25%,#ebcc7d 80.46%,#f0d182 80.68%,#f7e5b9 80.89%,#f3d896 81.10%,#e8c97c 81.31%,#f2d58e 81.52%,#f2d792 81.73%,#eece7f 81.94%,#f3d99a 82.15%,#f3dba0 82.37%,#f3e0b4 82.58%,#f7eace 82.79%,#faf4e8 83.00%,#fbf7f1 83.21%,#ebe6de 83.42%,#f0ebe3 83.63%,#f9f3eb 83.84%,#fbf7f1 84.05%,#f3ede6 84.27%,#fbf7f0 84.48%,#eee9e2 84.69%,#fbf6f0 84.90%,#f8f3eb 85.11%,#fbf8f3 85.32%,#faf6ef 85.53%,#f4efe8 85.74%,#e8e3dd 85.96%,#eae6df 86.17%,#e3dfd8 86.38%,#ddd9d2 86.59%,#ede8e1 86.80%,#f9f4ed 87.01%,#f4efe8 87.22%,#f9f5ee 87.43%,#f4f0e9 87.65%,#f9f6ef 87.86%,#f9f5ee 88.07%,#eeebe4 88.28%,#ede9e2 88.49%,#ede9e3 88.70%,#faf8f3 88.91%,#f9f5ef 89.12%,#e7e4de 89.33%,#f0ece6 89.55%,#f9f5ef 89.76%,#fbf9f4 89.97%,#faf7f2 90.18%,#f9f6ef 90.39%,#faf7f2 90.60%,#f0ede7 90.81%,#f4f1eb 91.02%,#f7f4ee 91.24%,#f1eee8 91.45%,#faf8f4 91.66%,#f6f4ee 91.87%,#faf8f3 92.08%,#ebe8e3 92.29%,#f9f7f2 92.50%,#f7f5ef 92.71%,#e8e7e1 92.93%,#f0ede3 93.14%,#f5f0e2 93.35%,#f9f3e1 93.56%,#f3ebd6 93.77%,#f2e8cf 93.98%,#f0e5c9 94.19%,#f7e9c8 94.40%,#eddfbb 94.61%,#f6e6be 94.83%,#e4d4ad 95.04%,#f8e6b9 95.25%,#e9d7ab 95.46%,#f9e5b5 95.67%,#fae9c1 95.88%,#f4deab 96.09%,#ecd6a2 96.30%,#f6dea6 96.52%,#e3cc96 96.73%,#f5db9f 96.94%,#f7e3b6 97.15%,#f3d797 97.36%,#e6cb8e 97.57%,#e9cd8f 97.78%,#f4d99d 97.99%,#f4d797 98.20%,#f4d796 98.42%,#f5dba2 98.63%,#f4d99e 98.84%,#f4d697 99.05%,#f5daa2 99.26%,#dec080 99.47%,#f8e4bb 99.68%,#f3d28e 99.89%)"></div><div style="left:781.8px;top:480.0px;width:568.2px;height:47.0px;background:linear-gradient(90deg,#f6f4f2 0.00%,#f1efed 0.21%,#f2f0ee 0.42%,#f2f0ee 0.63%,#f5f3f1 0.84%,#f4f2f0 1.06%,#f9f8f6 1.27%,#f6f4f2 1.48%,#f6f4f2 1.69%,#e8e6e5 1.90%,#f5f3f1 2.11%,#faf9f8 2.32%,#faf8f7 2.53%,#e3e1df 2.75%,#f9f7f6 2.96%,#efeeec 3.17%,#df9780 3.38%,#e54f20 3.59%,#ea6034 3.80%,#ea6237 4.01%,#ed7954 4.22%,#f08864 4.44%,#ec622c 4.65%,#ee6e35 4.86%,#f4996b 5.07%,#e96c27 5.28%,#e0772e 5.49%,#f6a761 5.70%,#f7aa52 5.91%,#efaf57 6.12%,#fbd091 6.34%,#facf8b 6.55%,#f1cf93 6.76%,#f4dba8 6.97%,#e3d1a6 7.18%,#f5e3b5 7.39%,#e9d8ae 7.60%,#f8e6ba 7.81%,#fdf3d9 8.03%,#fcedc7 8.24%,#eadbb5 8.45%,#f6e6bf 8.66%,#fdf0cf 8.87%,#fcedc7 9.08%,#f8eac6 9.29%,#fbedc9 9.50%,#f6e9c7 9.71%,#fdf5e0 9.93%,#f0e4c5 10.14%,#f9eece 10.35%,#f2e7c9 10.56%,#fcf1d3 10.77%,#fcf3d9 10.98%,#fbf0d3 11.19%,#fcf1d6 11.40%,#fcf2d8 11.62%,#f0e6cc 11.83%,#fcf2da 12.04%,#fcf4de 12.25%,#fdf4df 12.46%,#fcf3de 12.67%,#f6ecd5 12.88%,#f9efd8 13.09%,#fcf3dd 13.31%,#fcf4e0 13.52%,#f7edd9 13.73%,#fcf3df 13.94%,#fcf4e2 14.15%,#fdf6e6 14.36%,#f8efdd 14.57%,#f5ecdb 14.78%,#e9e2d1 14.99%,#f2eada 15.21%,#ece5d6 15.42%,#f3ebda 15.63%,#fcf2e1 15.84%,#fbeed9 16.05%,#f2e4ce 16.26%,#fbecd7 16.47%,#eddbc2 16.68%,#fae8cf 16.90%,#f2dcbf 17.11%,#f7dfbf 17.32%,#f9e5ca 17.53%,#f1d9ba 17.74%,#f9e2c4 17.95%,#f5dcbc 18.16%,#f5dcbb 18.37%,#f1d8b7 18.59%,#f9e3c6 18.80%,#f9e3c6 19.01%,#f9e1c2 19.22%,#f2d8b6 19.43%,#e3cbab 19.64%,#f8ddbb 19.85%,#eed4b2 20.06%,#f9e1c2 20.27%,#f0d6b3 20.49%,#ebd1af 20.70%,#f9dfb8 20.91%,#f9deaa 21.12%,#f7d180 21.33%,#f9d37a 21.54%,#f9d066 21.75%,#efc145 21.96%,#f0c145 22.18%,#e4b841 22.39%,#f8cc53 22.60%,#e6ba41 22.81%,#f3c444 23.02%,#e9bc41 23.23%,#f6c644 23.44%,#f4c543 23.65%,#f0c141 23.86%,#f8ca48 24.08%,#f1c341 24.29%,#f9ce57 24.50%,#f2c340 24.71%,#e8bb3d 24.92%,#f1c33f 25.13%,#f8c945 25.34%,#f9d467 25.55%,#fada7e 25.77%,#f7ce54 25.98%,#f9d772 26.19%,#f8d567 26.40%,#f9dc82 26.61%,#f3d471 26.82%,#f7db89 27.03%,#fae6ac 27.24%,#fbe9bc 27.46%,#fbecce 27.67%,#f9eede 27.88%,#fdf3e6 28.09%,#f7ebdc 28.30%,#fdf3e7 28.51%,#ece1d2 28.72%,#faeede 28.93%,#fdf3e6 29.14%,#fbefdf 29.36%,#f7ebdc 29.57%,#faeede 29.78%,#fcf0e1 29.99%,#fdf3e7 30.20%,#fbefdf 30.41%,#fcf2e4 30.62%,#fcf1e3 30.83%,#fcf1e2 31.05%,#fcf1e1 31.26%,#fcf2e5 31.47%,#fcf2e3 31.68%,#f7ebdc 31.89%,#f2e7d7 32.10%,#f0e4d5 32.31%,#fdf3e6 32.52%,#f3e7d8 32.73%,#f6eadb 32.95%,#fcf2e4 33.16%,#fcf0e0 33.37%,#f3e7d8 33.58%,#fcf1e3 33.79%,#f6eadb 34.00%,#f3e7d8 34.21%,#f3e8d8 34.42%,#fcf0e1 34.64%,#f1e5d6 34.85%,#f3d7b7 35.06%,#e0b485 35.27%,#de9f5f 35.48%,#f29d47 35.69%,#f29c45 35.90%,#e68c2e 36.11%,#f39c41 36.33%,#f6b26a 36.54%,#f39a39 36.75%,#e9902e 36.96%,#ed942f 37.17%,#ef962f 37.38%,#e5902d 37.59%,#ed972e 37.80%,#ea952d 38.01%,#ef992e 38.23%,#ec992e 38.44%,#f29f31 38.65%,#f7a634 38.86%,#f9b24a 39.07%,#f8af3d 39.28%,#f5ae39 39.49%,#f8b643 39.70%,#f8ba45 39.92%,#fad282 40.13%,#f1b840 40.34%,#f8c44e 40.55%,#fad67e 40.76%,#f9cf63 40.97%,#e8bc45 41.18%,#efc24a 41.39%,#ecc04c 41.61%,#f9d063 41.82%,#edc252 42.03%,#e6be52 42.24%,#eec558 42.45%,#fadf97 42.66%,#fadb8b 42.87%,#f9d985 43.08%,#f4cc66 43.29%,#f3d079 43.51%,#f2d58f 43.72%,#f5dda8 43.93%,#fcedd1 44.14%,#fcf1e0 44.35%,#fbf1e3 44.56%,#faefe2 44.77%,#f9f0e5 44.98%,#ede5da 45.20%,#e8e1d8 45.41%,#f4ede5 45.62%,#f4efe8 45.83%,#f5f1ec 46.04%,#f4f1ed 46.25%,#f0edea 46.46%,#f1efee 46.67%,#e1e0e0 46.88%,#ececed 47.10%,#f2f2f4 47.31%,#ededef 47.52%,#f1f1f3 47.73%,#eeeef0 47.94%,#efeff0 48.15%,#f0f0f1 48.36%,#e0e0e2 48.57%,#e0e0e2 48.79%,#ededee 49.00%,#dddddf 49.21%,#eeeef0 49.42%,#e3e3e5 49.63%,#ededef 49.84%,#eaeaec 50.05%,#f1f1f3 50.26%,#ededef 50.48%,#dcdcdd 50.69%,#e4e4e6 50.90%,#e8e8ea 51.11%,#efeff1 51.32%,#eeeef0 51.53%,#dcdcde 51.74%,#ececee 51.95%,#eeeef0 52.16%,#ececee 52.38%,#efeff1 52.59%,#f9f9fa 52.80%,#ececee 53.01%,#e8e8ea 53.22%,#efeff0 53.43%,#eeeef0 53.64%,#e4e4e6 53.85%,#e4e4e6 54.07%,#e0e0e0 54.28%,#f5f3ea 54.49%,#f0e9d2 54.70%,#faf4db 54.91%,#f4e9ba 55.12%,#efe1ae 55.33%,#f5e3a9 55.54%,#fcebba 55.76%,#f9df99 55.97%,#fbe4a7 56.18%,#fadd92 56.39%,#f9d783 56.60%,#f8d275 56.81%,#f9d88d 57.02%,#f8d181 57.23%,#f6c973 57.44%,#f6c97b 57.66%,#f6cf8e 57.87%,#f4c072 58.08%,#f5c889 58.29%,#f4c485 58.50%,#f0b160 58.71%,#efb262 58.92%,#f1b664 59.13%,#f2b966 59.35%,#f0b967 59.56%,#f3bd69 59.77%,#f0bd69 59.98%,#edbd6a 60.19%,#f9d187 60.40%,#f5c770 60.61%,#f8cd7b 60.82%,#f1c672 61.03%,#f0c774 61.25%,#f9d489 61.46%,#f6ce7a 61.67%,#f9d588 61.88%,#e9c678 62.09%,#f1ce7e 62.30%,#f8d483 62.51%,#fadfa0 62.72%,#f9df9d 62.94%,#fbe7b5 63.15%,#f0d697 63.36%,#f8e1a9 63.57%,#f3e0b3 63.78%,#fcf2d9 63.99%,#f1e5cb 64.20%,#f5ecdb 64.41%,#fbf5ea 64.63%,#f3ede3 64.84%,#eeeae3 65.05%,#f6f4f1 65.26%,#f2f1f0 65.47%,#e4e4e6 65.68%,#e6e6e8 65.89%,#ececee 66.10%,#e7e7e9 66.31%,#e8e8e9 66.53%,#eeeef0 66.74%,#e2e2e4 66.95%,#e3e3e5 67.16%,#e3e3e5 67.37%,#f0f0f2 67.58%,#efeff1 67.79%,#f1f1f3 68.00%,#e3e3e5 68.22%,#e7e7e9 68.43%,#eeeef0 68.64%,#f0f0f2 68.85%,#efeff1 69.06%,#f6f6f7 69.27%,#eaeaec 69.48%,#e8e8ea 69.69%,#e0e0e2 69.90%,#e9e9eb 70.12%,#f3f3f4 70.33%,#f0f0f2 70.54%,#eaeaec 70.75%,#f2f2f3 70.96%,#e9e9eb 71.17%,#efeff1 71.38%,#e0e0e2 71.59%,#e2e2e3 71.81%,#efefef 72.02%,#eceae8 72.23%,#f3f0ec 72.44%,#f7f4ed 72.65%,#f8f4eb 72.86%,#eee9dd 73.07%,#ece6d8 73.28%,#f7f1df 73.50%,#faf4e2 73.71%,#f9f1da 73.92%,#fbf4df 74.13%,#eae2c7 74.34%,#ede3c6 74.55%,#e9dfc0 74.76%,#e4dab9 74.97%,#fdf5df 75.18%,#fcf0cd 75.40%,#fdf5dd 75.61%,#fceec2 75.82%,#efe1b2 76.03%,#fceebf 76.24%,#fcecb7 76.45%,#fdf1ca 76.66%,#fceec1 76.87%,#f9e9b4 77.09%,#fcecb8 77.30%,#f6e5b0 77.51%,#f0e0ab 77.72%,#f1e1ac 77.93%,#fcecba 78.14%,#f0dfa9 78.35%,#fcebb5 78.56%,#fcebb4 78.78%,#f7e5ad 78.99%,#fcecb8 79.20%,#fdefc4 79.41%,#fcecb6 79.62%,#fcecb7 79.83%,#fdedbb 80.04%,#fceaae 80.25%,#fbe8ac 80.46%,#f2e0a5 80.68%,#f4e2a6 80.89%,#efdda2 81.10%,#fceaae 81.31%,#fcecb5 81.52%,#fbe8a8 81.73%,#fce8a9 81.94%,#fcecb8 82.15%,#eedfb3 82.37%,#fcf0cd 82.58%,#f8efd7 82.79%,#fcf6e9 83.00%,#faf6ee 83.21%,#fcf8f1 83.42%,#fcf8f0 83.63%,#f5f1e8 83.84%,#fcf8f0 84.05%,#fcf8ef 84.27%,#fcf8ef 84.48%,#fdfaf4 84.69%,#fdf9f1 84.90%,#efebe2 85.11%,#fcf8f0 85.32%,#fdf9f0 85.53%,#f1ece2 85.74%,#fdf9f0 85.96%,#fdf9f1 86.17%,#fdfbf5 86.38%,#f6f1e6 86.59%,#f9f4e8 86.80%,#f5f0e5 87.01%,#f6f1e5 87.22%,#f8f3e7 87.43%,#efe9de 87.65%,#fcf7eb 87.86%,#ece7db 88.07%,#fcf7eb 88.28%,#f8f3e6 88.49%,#e8e3d7 88.70%,#fcf6e9 88.91%,#fdf9f0 89.12%,#fefbf5 89.33%,#f9f3e6 89.55%,#fcf7ec 89.76%,#fdf9ef 89.97%,#faf4e5 90.18%,#efeadc 90.39%,#ede7d9 90.60%,#efe9da 90.81%,#fcf6e7 91.02%,#fcf6e8 91.24%,#f2ebdd 91.45%,#fcf7e9 91.66%,#f3eddd 91.87%,#fcf6e6 92.08%,#fdf7ea 92.29%,#fdf7e9 92.50%,#fcf5e5 92.71%,#fbf4e3 92.93%,#f9f2e2 93.14%,#fdf7e9 93.35%,#fdf7e8 93.56%,#f1ead9 93.77%,#f8f1e0 93.98%,#f4eddb 94.19%,#f7efde 94.40%,#fdf7e9 94.61%,#fbf3e1 94.83%,#faf3e0 95.04%,#fcf6e5 95.25%,#f6efdc 95.46%,#faf2df 95.67%,#fbf3e0 95.88%,#f2ead7 96.09%,#fcf4e1 96.30%,#f0e8d4 96.52%,#f9efd5 96.73%,#f3e8c8 96.94%,#f7e9c3 97.15%,#faeabf 97.36%,#fae8b7 97.57%,#fdedc0 97.78%,#fce8ae 97.99%,#fce4a1 98.20%,#fae29f 98.42%,#fce7aa 98.63%,#fbe3a0 98.84%,#edd797 99.05%,#fde9b3 99.26%,#fdeab5 99.47%,#fce8ad 99.68%,#fce8af 99.89%)"></div><div style="left:781.8px;top:527.0px;width:568.2px;height:46.0px;background:linear-gradient(90deg,#faf9f7 0.00%,#faf8f7 0.21%,#fbfaf9 0.42%,#e2e0de 0.63%,#f8f6f4 0.84%,#f9f7f5 1.06%,#f4f2f0 1.27%,#efedeb 1.48%,#efedeb 1.69%,#fbf9f8 1.90%,#fbfaf9 2.11%,#f0eeec 2.32%,#f4f2f0 2.53%,#faf8f7 2.75%,#faf9f7 2.96%,#f8f6f4 3.17%,#e49e86 3.38%,#e57045 3.59%,#e6894c 3.80%,#d17b1e 4.01%,#e2a12b 4.22%,#e8b855 4.44%,#e6af3c 4.65%,#ecc164 4.86%,#e9b748 5.07%,#ecbd52 5.28%,#edbf56 5.49%,#e6ba51 5.70%,#f7e1ad 5.91%,#f4d381 6.12%,#f7da91 6.34%,#fbe7b2 6.55%,#fceab7 6.76%,#f4e2b1 6.97%,#e4d4ab 7.18%,#f8e7bf 7.39%,#fdf0d4 7.60%,#fceed2 7.81%,#f5e7cd 8.03%,#fdf4e5 8.24%,#fef7ef 8.45%,#fdf3e6 8.66%,#fcf2e3 8.87%,#ebe1d1 9.08%,#f8eddc 9.29%,#efe5d5 9.50%,#fdf4e6 9.71%,#fcf4e5 9.93%,#e2d9c9 10.14%,#fcf3e3 10.35%,#fcf4e4 10.56%,#fbf2df 10.77%,#f9f0de 10.98%,#fcf5e5 11.19%,#e7dfcd 11.40%,#fcf4e0 11.62%,#fdf7e8 11.83%,#fcf6e3 12.04%,#f7efbe 12.25%,#f2ea9e 12.46%,#eee787 12.67%,#ede783 12.88%,#efe991 13.09%,#ddd458 13.31%,#e8dd5b 13.52%,#eae069 13.73%,#f0e892 13.94%,#e3d654 14.15%,#f1e893 14.36%,#e6d851 14.57%,#e8d851 14.78%,#e6c845 14.99%,#efc551 15.21%,#efaf2e 15.42%,#f1b03b 15.63%,#f1ad34 15.84%,#f3b950 16.05%,#f1af36 16.26%,#db9c27 16.47%,#f3bd59 16.68%,#f1ae33 16.90%,#f0ae30 17.11%,#f0ae30 17.32%,#f3bc54 17.53%,#efad2d 17.74%,#f2b849 17.95%,#e9aa2d 18.16%,#f4c66c 18.37%,#f4c363 18.59%,#e7ab30 18.80%,#f0bc4f 19.01%,#e9b136 19.22%,#e8b239 19.43%,#ebbb48 19.64%,#ecc35e 19.85%,#e8b948 20.06%,#ebc56b 20.27%,#ecca7e 20.49%,#d8b263 20.70%,#d6b26d 20.91%,#e8c381 21.12%,#e9c792 21.33%,#eacda3 21.54%,#eed7ba 21.75%,#eed6b9 21.96%,#dec19d 22.18%,#eacca8 22.39%,#e4c6a4 22.60%,#e4c7a5 22.81%,#d9be9f 23.02%,#e9cdac 23.23%,#e9ceae 23.44%,#e4c9ac 23.65%,#dfc6a9 23.86%,#f0dac2 24.08%,#f0d8bf 24.29%,#f0dac2 24.50%,#ecd3b9 24.71%,#ecd4bb 24.92%,#f3e0cd 25.13%,#f0dac7 25.34%,#f7e8de 25.55%,#fcf4f2 25.77%,#f4e7e8 25.98%,#f3e8ec 26.19%,#fcf1f5 26.40%,#ebe1e5 26.61%,#f7edf1 26.82%,#f3eaee 27.03%,#fbf3f7 27.24%,#ebe2e6 27.46%,#f9f1f5 27.67%,#faf2f6 27.88%,#f0e8ec 28.09%,#eee7eb 28.30%,#faf3f7 28.51%,#f9f4f7 28.72%,#e9e4e8 28.93%,#f3eef2 29.14%,#fbf9fb 29.36%,#f9f6f9 29.57%,#f0eae2 29.78%,#f0e9d1 29.99%,#f1eac1 30.20%,#f6edbb 30.41%,#f8f1c4 30.62%,#f6eeb2 30.83%,#efe17a 31.05%,#eadc67 31.26%,#ead859 31.47%,#f2e18a 31.68%,#efd670 31.89%,#dbb83b 32.10%,#e3b834 32.31%,#e0b02b 32.52%,#e7bc51 32.73%,#e7bc54 32.95%,#dea620 33.16%,#dca420 33.37%,#dfab2e 33.58%,#dda625 33.79%,#d7a01f 34.00%,#cc981e 34.21%,#d69f1f 34.42%,#dca831 34.64%,#d9a225 34.85%,#d8a227 35.06%,#d09c28 35.27%,#d4a02e 35.48%,#dbab41 35.69%,#c69834 35.90%,#daac49 36.11%,#dcb155 36.33%,#ddb662 36.54%,#d8ab4d 36.75%,#ddb769 36.96%,#e0bf7b 37.17%,#d9b263 37.38%,#cda85d 37.59%,#dab469 37.80%,#cfab65 38.01%,#d8b36d 38.23%,#e8cfa1 38.44%,#e0bc7b 38.65%,#e0bc7d 38.86%,#e2bf83 39.07%,#e5c590 39.28%,#e5c590 39.49%,#eacfa3 39.70%,#e0c18f 39.92%,#dcbd8f 40.13%,#e7c99b 40.34%,#ecd0a7 40.55%,#eed5af 40.76%,#efd9b6 40.97%,#f1ddbf 41.18%,#e3d0b2 41.39%,#f2e0c3 41.61%,#f7ebd8 41.82%,#f3e5ce 42.03%,#efe3cf 42.24%,#efe4d2 42.45%,#f1e6d5 42.66%,#efe5d6 42.87%,#f9f2e6 43.08%,#ede5d9 43.29%,#f0e9de 43.51%,#e9e3d9 43.72%,#f9f5ef 43.93%,#ede8e1 44.14%,#e9e5df 44.35%,#f6f3ef 44.56%,#f4f1ef 44.77%,#f6f5f4 44.98%,#f9f9f9 45.20%,#f0f0f2 45.41%,#f8f8f9 45.62%,#efeff1 45.83%,#dcdcdd 46.04%,#f3f3f5 46.25%,#efeff1 46.46%,#ededef 46.67%,#f7f7f8 46.88%,#eeeef0 47.10%,#e4e4e6 47.31%,#eeeef0 47.52%,#f3f3f4 47.73%,#f1f1f3 47.94%,#ededef 48.15%,#e8e8ea 48.36%,#e5e5e7 48.57%,#e5e5e7 48.79%,#eeeef0 49.00%,#eeeef0 49.21%,#efeff1 49.42%,#dfdfe1 49.63%,#f2f2f3 49.84%,#f0f0f2 50.05%,#f0f0f2 50.26%,#e8e8ea 50.48%,#efeff0 50.69%,#eaeaec 50.90%,#efeff1 51.11%,#eaeaec 51.32%,#e6e6e8 51.53%,#efeff1 51.74%,#e7e7e9 51.95%,#eeeef0 52.16%,#eaeaec 52.38%,#eaeaec 52.59%,#f5f5f7 52.80%,#ededef 53.01%,#f1f1f2 53.22%,#ededef 53.43%,#f1f1f3 53.64%,#eeeef0 53.85%,#f2f2f3 54.07%,#efeff1 54.28%,#f6f6f7 54.49%,#e0e0e2 54.70%,#f1f1f3 54.91%,#f4f4f6 55.12%,#e4e0d7 55.33%,#f6efdc 55.54%,#f5e9cb 55.76%,#fcedc6 55.97%,#f5e5bb 56.18%,#f5e5bb 56.39%,#e7d8b0 56.60%,#f1e2b8 56.81%,#f5e6bb 57.02%,#f1e1b7 57.23%,#fdf2d2 57.44%,#fcecc1 57.66%,#fcefc9 57.87%,#f9e9bd 58.08%,#f1e2b8 58.29%,#fceec6 58.50%,#fcedc3 58.71%,#f8e8bd 58.92%,#fcedc4 59.13%,#fceec5 59.35%,#f8e8bd 59.56%,#f8e8bd 59.77%,#efdfb6 59.98%,#f5e5ba 60.19%,#fdf0ce 60.40%,#fceec8 60.61%,#fcedc3 60.82%,#fcefca 61.03%,#f8e9bd 61.25%,#f4e5ba 61.46%,#fbebbf 61.67%,#fceec8 61.88%,#fdf2d2 62.09%,#fcf0ce 62.30%,#fcf0d1 62.51%,#fcf4de 62.72%,#fbf2db 62.94%,#faf1dd 63.15%,#eee6d6 63.36%,#eee8dc 63.57%,#ede8e1 63.78%,#f2eeeb 63.99%,#f7f3f0 64.20%,#faf7f5 64.41%,#f9f7f4 64.63%,#f8f5f3 64.84%,#f9f6f4 65.05%,#f9f7f6 65.26%,#faf8f7 65.47%,#f9f8f6 65.68%,#f8f6f5 65.89%,#f2f0ef 66.10%,#f7f6f5 66.31%,#efeeed 66.53%,#eceaea 66.74%,#f8f7f7 66.95%,#f7f6f6 67.16%,#f0efef 67.37%,#f1f1f2 67.58%,#f7f6f7 67.79%,#f7f6f8 68.00%,#f4f4f5 68.22%,#f4f4f6 68.43%,#f6f6f7 68.64%,#f7f7f8 68.85%,#f6f6f8 69.06%,#f2f2f3 69.27%,#f3f3f5 69.48%,#eeeef0 69.69%,#f5f5f6 69.90%,#e6e6e7 70.12%,#e9e9eb 70.33%,#f7f7f8 70.54%,#f5f5f6 70.75%,#ededef 70.96%,#f7f7f8 71.17%,#f4f4f5 71.38%,#f2f2f3 71.59%,#eaeaeb 71.81%,#f0f0f1 72.02%,#f6f6f7 72.23%,#f1f1f2 72.44%,#f8f8f9 72.65%,#f7f7f8 72.86%,#f8f8f9 73.07%,#f8f8f8 73.28%,#f2f2f3 73.50%,#f8f8f8 73.71%,#ececed 73.92%,#f7f7f7 74.13%,#f7f7f7 74.34%,#f2f2f3 74.55%,#f4f4f5 74.76%,#f3f3f4 74.97%,#f8f8f8 75.18%,#efeff0 75.40%,#dfdfdf 75.61%,#e8e8e8 75.82%,#f8f8f8 76.03%,#f7f7f8 76.24%,#f6f6f6 76.45%,#f5f5f5 76.66%,#f3f3f3 76.87%,#f9f9fa 77.09%,#ececec 77.30%,#efefef 77.51%,#f0f0f0 77.72%,#f4f4f4 77.93%,#eceae4 78.14%,#f9f4e5 78.35%,#faf3db 78.56%,#f6ecca 78.78%,#f8ecc5 78.99%,#f6eac3 79.20%,#f8ecc5 79.41%,#f9edc6 79.62%,#fcf1ca 79.83%,#f5eac3 80.04%,#fcf1cd 80.25%,#fcf2ce 80.46%,#f6eac3 80.68%,#e7dcb8 80.89%,#f6eac3 81.10%,#f6ebc4 81.31%,#fcf0c9 81.52%,#e6dbb6 81.73%,#f9edc6 81.94%,#efe4c1 82.15%,#f3e9cb 82.37%,#f7eed5 82.58%,#f7f0dc 82.79%,#faf4e5 83.00%,#fcf8ef 83.21%,#f1ede5 83.42%,#fcf8f1 83.63%,#f6f2eb 83.84%,#fcf8f0 84.05%,#eae7df 84.27%,#fcf9f1 84.48%,#fcf8f1 84.69%,#f8f4ec 84.90%,#f5f1e9 85.11%,#fbf7ef 85.32%,#fcf8f0 85.53%,#fdf9f3 85.74%,#fdfaf3 85.96%,#fcf8f0 86.17%,#fcf8f1 86.38%,#fcf9f2 86.59%,#fbf7f0 86.80%,#fdf9f3 87.01%,#fcf9f2 87.22%,#fdf9f3 87.43%,#fcf8f0 87.65%,#fcf8f0 87.86%,#f7f3eb 88.07%,#f7f3eb 88.28%,#fcf8f1 88.49%,#fdfaf3 88.70%,#efebe4 88.91%,#f7f4ec 89.12%,#fcf8f1 89.33%,#fcf9f1 89.55%,#f4f0e8 89.76%,#f3f0e8 89.97%,#f9f5ed 90.18%,#fcf8f0 90.39%,#f9f6ee 90.60%,#f3efe7 90.81%,#fbf7ef 91.02%,#f4f0e8 91.24%,#f7f3eb 91.45%,#fcf8f1 91.66%,#f8f4ec 91.87%,#fcf8f1 92.08%,#fcf8f1 92.29%,#f8f4ec 92.50%,#f0ece5 92.71%,#f8f4ec 92.93%,#f3efe7 93.14%,#fdf9f3 93.35%,#fbf7ef 93.56%,#fcf8f1 93.77%,#f2eee6 93.98%,#f5f2ea 94.19%,#faf6ee 94.40%,#efebe3 94.61%,#f3efe8 94.83%,#fcf9f2 95.04%,#fcf9f2 95.25%,#f6f2ea 95.46%,#f9f5ed 95.67%,#f5f1e9 95.88%,#faf6ee 96.09%,#fdf9f3 96.30%,#fcf9f1 96.52%,#fdfbf6 96.73%,#fdfaf5 96.94%,#fdf9f3 97.15%,#fcf8f0 97.36%,#fcf9f2 97.57%,#f9f5ed 97.78%,#f7f3eb 97.99%,#f7f3eb 98.20%,#f4f0e8 98.42%,#f2eee7 98.63%,#fdf9f3 98.84%,#fcf9f1 99.05%,#fcf9f2 99.26%,#fcf9f2 99.47%,#f4f0e8 99.68%,#edeae2 99.89%)"></div><div style="left:781.8px;top:573.0px;width:568.2px;height:47.0px;background:linear-gradient(90deg,#f7f5f3 0.00%,#eceae8 0.21%,#f8f6f4 0.42%,#f9f7f6 0.63%,#f8f6f4 0.84%,#f8f6f4 1.06%,#f4f2f0 1.27%,#efedeb 1.48%,#faf9f7 1.69%,#f9f7f6 1.90%,#fbfaf8 2.11%,#f3f1ef 2.32%,#fbf9f8 2.53%,#f6f4f2 2.75%,#f8f6f4 2.96%,#f9f7f5 3.17%,#f3ba9f 3.38%,#ef9060 3.59%,#eb7520 3.80%,#eb851f 4.01%,#f9b960 4.22%,#f8a529 4.44%,#f1a026 4.65%,#f0a329 4.86%,#f8ac31 5.07%,#e9a32f 5.28%,#f4ae36 5.49%,#f0ae38 5.70%,#f9c25b 5.91%,#f9c562 6.12%,#f9c764 6.34%,#eec26b 6.55%,#ecc87c 6.76%,#f3d491 6.97%,#f2d89d 7.18%,#e4cc98 7.39%,#f0d8a6 7.60%,#f1daac 7.81%,#fdeccd 8.03%,#fce7c3 8.24%,#f6e1c1 8.45%,#fcead0 8.66%,#f0dfc8 8.87%,#efdfcd 9.08%,#f3e3d6 9.29%,#f1e2d6 9.50%,#f8e9dc 9.71%,#fdf4ec 9.93%,#fcf0e5 10.14%,#fbedde 10.35%,#fcf2e8 10.56%,#fbefe2 10.77%,#fbf0e3 10.98%,#f3e6d5 11.19%,#f5e9d7 11.40%,#f9eddb 11.62%,#f9efdf 11.83%,#f6ead3 12.04%,#f7f1d7 12.25%,#e4da99 12.46%,#e6de8e 12.67%,#dcd366 12.88%,#d5cd4f 13.09%,#d7cb4e 13.31%,#e6dc86 13.52%,#d7c74c 13.73%,#cfbc47 13.94%,#e5d374 14.15%,#e1c959 14.36%,#e4cb64 14.57%,#e4c960 14.78%,#ecd07c 14.99%,#e2b23d 15.21%,#e6ad39 15.42%,#f3b445 15.63%,#f1a42f 15.84%,#f8a830 16.05%,#e69c2d 16.26%,#efa22e 16.47%,#f9b248 16.68%,#de962b 16.90%,#f8ad3b 17.11%,#e2992c 17.32%,#fac677 17.53%,#f9b958 17.74%,#fac36f 17.95%,#fbc87d 18.16%,#f8ac37 18.37%,#f8bd53 18.59%,#f5ba38 18.80%,#f3c23c 19.01%,#e8c23b 19.22%,#eecf42 19.43%,#eccf51 19.64%,#f3d764 19.85%,#edd371 20.06%,#f7df86 20.27%,#f8e196 20.49%,#fbe7a9 20.70%,#fceab9 20.91%,#fcebbc 21.12%,#f1deb2 21.33%,#fbe9bd 21.54%,#f2e1ba 21.75%,#fceccb 21.96%,#f2e1c2 22.18%,#ebdbc0 22.39%,#f6e6cd 22.60%,#fcefdc 22.81%,#faead7 23.02%,#faebd9 23.23%,#f1e3d4 23.44%,#fbf1e7 23.65%,#fbefe5 23.86%,#faeee5 24.08%,#faefe7 24.29%,#fbf5f1 24.50%,#f9efea 24.71%,#f8eeea 24.92%,#f0e6e3 25.13%,#f7eeed 25.34%,#ece3e3 25.55%,#ede4e6 25.77%,#f9f4f5 25.98%,#ede5ea 26.19%,#f0e9ef 26.40%,#ded7e0 26.61%,#d5ced9 26.82%,#d7cfdd 27.03%,#d6cfde 27.24%,#d8d1e0 27.46%,#d5cfdd 27.67%,#d2ccd9 27.88%,#d3cddb 28.09%,#dfdae7 28.30%,#dcd7e4 28.51%,#d8d3df 28.72%,#dbd8e3 28.93%,#e2dfe9 29.14%,#eceaf1 29.36%,#dddae1 29.57%,#eae9ee 29.78%,#e9e8eb 29.99%,#eaeaec 30.20%,#f3f3f4 30.41%,#f9f9f9 30.62%,#f2f2f2 30.83%,#f8f8f8 31.05%,#eeeeed 31.26%,#f9f9f8 31.47%,#f0f0f0 31.68%,#f4f4f3 31.89%,#e3e3e2 32.10%,#f0f0ef 32.31%,#f9f9f8 32.52%,#f9f9f8 32.73%,#fafaf8 32.95%,#dcdcdb 33.16%,#dededc 33.37%,#f8f6e9 33.58%,#f1ebc1 33.79%,#e1d583 34.00%,#e6d77a 34.21%,#e8d476 34.42%,#e9d06f 34.64%,#e8c657 34.85%,#ebc558 35.06%,#edbf4e 35.27%,#eeb83f 35.48%,#f0b336 35.69%,#efb031 35.90%,#f3bc4c 36.11%,#f4bc48 36.33%,#f5c050 36.54%,#f6c458 36.75%,#f8ce72 36.96%,#f7bf44 37.17%,#f8c147 37.38%,#fbd889 37.59%,#fad57f 37.80%,#f8c650 38.01%,#f3c047 38.23%,#fbe09c 38.44%,#f6c54d 38.65%,#fbdf9a 38.86%,#f9d474 39.07%,#f3c653 39.28%,#f5ca57 39.49%,#ecc356 39.70%,#f2ca5b 39.92%,#e8c259 40.13%,#e8c35e 40.34%,#f9d675 40.55%,#f9d46f 40.76%,#fada83 40.97%,#fad880 41.18%,#f6d47c 41.39%,#fad984 41.61%,#ebcc80 41.82%,#f7d88b 42.03%,#f3d68e 42.24%,#fce7b4 42.45%,#f5d998 42.66%,#fbdfa2 42.87%,#f9e1aa 43.08%,#f7e1b1 43.29%,#ead7b0 43.51%,#f9e8c5 43.72%,#e8dac0 43.93%,#f9eeda 44.14%,#eae0d3 44.35%,#f8f0e8 44.56%,#f2ebe5 44.77%,#f3ede8 44.98%,#f2ede9 45.20%,#f2efed 45.41%,#edeae9 45.62%,#e9e7e8 45.83%,#ecebed 46.04%,#e7e7ea 46.25%,#e9e9ec 46.46%,#e1e1e5 46.67%,#dddde0 46.88%,#dfdfe2 47.10%,#ededf0 47.31%,#ececef 47.52%,#f1f1f4 47.73%,#e7e7ea 47.94%,#eaeaed 48.15%,#f1f1f3 48.36%,#dddddf 48.57%,#eeeef0 48.79%,#ebebed 49.00%,#f5f5f7 49.21%,#f7f7f8 49.42%,#ececee 49.63%,#f7f7f8 49.84%,#f6f5f6 50.05%,#f6f6f7 50.26%,#f4f3f4 50.48%,#f4f3f4 50.69%,#f5f4f5 50.90%,#f7f7f7 51.11%,#f2f1f1 51.32%,#e4e4e4 51.53%,#e4e4e4 51.74%,#f7f6f6 51.95%,#f6f5f5 52.16%,#f7f6f6 52.38%,#f6f5f5 52.59%,#f7f6f5 52.80%,#f9f7f7 53.01%,#f9f8f8 53.22%,#f9f7f7 53.43%,#ecebea 53.64%,#f8f7f6 53.85%,#f9f8f7 54.07%,#f9f7f6 54.28%,#f3f1ef 54.49%,#f8f6f4 54.70%,#f8f7f5 54.91%,#f3f1ef 55.12%,#f2ecde 55.33%,#e3dac0 55.54%,#eee0b9 55.76%,#fcedc0 55.97%,#fbe8b1 56.18%,#fcedc0 56.39%,#f8e8b2 56.60%,#ebddaa 56.81%,#f9ebb7 57.02%,#f4e7b4 57.23%,#f8edbc 57.44%,#f3e9b7 57.66%,#ece4b3 57.87%,#f8f3ce 58.08%,#f5f0c0 58.29%,#f6f1c7 58.50%,#f6f2c8 58.71%,#f7f3cf 58.92%,#f7f3cd 59.13%,#faf6dd 59.35%,#f8f2ca 59.56%,#f9f3d2 59.77%,#f8f1c9 59.98%,#f2e9bc 60.19%,#f2e8bb 60.40%,#f9f0c8 60.61%,#fbf3d2 60.82%,#f9edc0 61.03%,#faefc7 61.25%,#f2e5b9 61.46%,#e7dab1 61.67%,#eedfb5 61.88%,#f2e3b8 62.09%,#f0e2bd 62.30%,#faeece 62.51%,#fbf3de 62.72%,#f6efde 62.94%,#f6f1e7 63.15%,#f8f6f3 63.36%,#f7f5f3 63.57%,#fbfaf8 63.78%,#faf8f7 63.99%,#f9f7f6 64.20%,#e7e6e4 64.41%,#f9f8f6 64.63%,#faf9f7 64.84%,#f8f7f5 65.05%,#edebe9 65.26%,#f9f7f6 65.47%,#f0eeed 65.68%,#f5f3f2 65.89%,#f6f4f3 66.10%,#f8f7f5 66.31%,#edecea 66.53%,#f8f6f5 66.74%,#f9f7f6 66.95%,#f7f6f5 67.16%,#f2f1f0 67.37%,#f7f6f5 67.58%,#f6f5f3 67.79%,#f2f0ef 68.00%,#f7f6f5 68.22%,#f5f4f3 68.43%,#f3f1f0 68.64%,#f3f2f1 68.85%,#ebeae9 69.06%,#f8f7f6 69.27%,#f8f7f6 69.48%,#f7f6f5 69.69%,#f6f5f4 69.90%,#fafaf9 70.12%,#f7f6f5 70.33%,#f9f9f8 70.54%,#f1f0f0 70.75%,#f0efee 70.96%,#ececeb 71.17%,#ebeae9 71.38%,#ecebeb 71.59%,#eeedec 71.81%,#f7f6f6 72.02%,#f3f3f2 72.23%,#f7f7f6 72.44%,#f1f0f0 72.65%,#f0efef 72.86%,#eeeeee 73.07%,#f3f3f2 73.28%,#f7f7f7 73.50%,#dcdcdb 73.71%,#f6f6f5 73.92%,#f7f7f7 74.13%,#f4f4f3 74.34%,#f7f7f6 74.55%,#f8f7f7 74.76%,#ececec 74.97%,#f6f6f6 75.18%,#ececea 75.40%,#eeebe0 75.61%,#f2ecd8 75.82%,#f9f0d2 76.03%,#fcf1cb 76.24%,#fbefc7 76.45%,#fdf5d9 76.66%,#fdf4d7 76.87%,#fdf3d4 77.09%,#fdf5da 77.30%,#fcf1cb 77.51%,#f8ecc5 77.72%,#f8ecc5 77.93%,#fdf4d6 78.14%,#fdf3d1 78.35%,#f6eac3 78.56%,#fcf1ca 78.78%,#fdf3d4 78.99%,#fcf0c9 79.20%,#efe4be 79.41%,#fcf1ca 79.62%,#fdf3d4 79.83%,#f7ebc4 80.04%,#fcf0c8 80.25%,#fcf0c8 80.46%,#fcf1cc 80.68%,#eadfba 80.89%,#f3e8c1 81.10%,#f2e7c0 81.31%,#f3e7c1 81.52%,#f3e7c1 81.73%,#eee3bd 81.94%,#faefca 82.15%,#efe5c6 82.37%,#f5ecd1 82.58%,#faf2db 82.79%,#fdf7ea 83.00%,#fdfaf2 83.21%,#fcf7ed 83.42%,#fcf6ea 83.63%,#faf4e7 83.84%,#dbd6cb 84.05%,#f4eee2 84.27%,#fcf7ec 84.48%,#f8f2e5 84.69%,#faf4e6 84.90%,#fdf8ee 85.11%,#f8f2e5 85.32%,#f7f1e3 85.53%,#f7f0e3 85.74%,#fdf8ee 85.96%,#faf4e6 86.17%,#f4ede0 86.38%,#fcf6e9 86.59%,#fdf8ed 86.80%,#f4eee0 87.01%,#ece6d8 87.22%,#fdf7eb 87.43%,#faf3e4 87.65%,#fdf7eb 87.86%,#fdf7ec 88.07%,#f3ecdd 88.28%,#f1eadc 88.49%,#fdf7ea 88.70%,#f9f2e2 88.91%,#fcf6e6 89.12%,#f7f0e0 89.33%,#fdf7e9 89.55%,#f5eede 89.76%,#f7f0e0 89.97%,#fdf7ea 90.18%,#fcf5e6 90.39%,#f0e9d9 90.60%,#fcf5e3 90.81%,#ebe4d4 91.02%,#fcf6e8 91.24%,#fdf8eb 91.45%,#fcf6e6 91.66%,#f3ecda 91.87%,#eae3d2 92.08%,#f8f0de 92.29%,#efe8d6 92.50%,#f9f2df 92.71%,#f0e8d6 92.93%,#f6eedc 93.14%,#fcf5e2 93.35%,#faf2df 93.56%,#fcf5e4 93.77%,#fcf5e3 93.98%,#f5edda 94.19%,#fdf8ec 94.40%,#fcf5e4 94.61%,#fcf5e3 94.83%,#fdf5e4 95.04%,#fcf5e1 95.25%,#e8e0ca 95.46%,#fdf7e6 95.67%,#fdf6e3 95.88%,#faf0d6 96.09%,#fcf3dc 96.30%,#fcf3db 96.52%,#f6ebce 96.73%,#fcf3d9 96.94%,#fcf2d8 97.15%,#fdf6e2 97.36%,#ebe0c2 97.57%,#f9edcd 97.78%,#f0e4c6 97.99%,#fdf3d8 98.20%,#f3e7c8 98.42%,#f6eacb 98.63%,#f6eacb 98.84%,#fcf2d5 99.05%,#fcf2d7 99.26%,#fcf1d3 99.47%,#f2e6c7 99.68%,#f1e6c7 99.89%)"></div><div style="left:781.8px;top:620.0px;width:568.2px;height:45.0px;background:linear-gradient(90deg,#f9f9fb 0.00%,#f7f6f8 0.21%,#fbe7f3 0.42%,#f9f7f9 0.63%,#f1edf9 0.84%,#f4f1fb 1.06%,#faeef5 1.27%,#fbe7f3 1.48%,#f1f0f3 1.69%,#fae9f3 1.90%,#f5f4f6 2.11%,#ece7fa 2.32%,#edf7f8 2.53%,#eee9f9 2.75%,#e5f6f6 2.96%,#fcf7eb 3.17%,#f5f3f6 3.38%,#f8f6fa 3.59%,#faf7f5 3.80%,#fbf7f1 4.01%,#fbe6f3 4.22%,#faf6ee 4.44%,#f7f5f7 4.65%,#f1eef5 4.86%,#eee9f9 5.07%,#f9f7f5 5.28%,#f9f5f8 5.49%,#efeff2 5.70%,#f7f6f8 5.91%,#faf9fb 6.12%,#ece8f8 6.34%,#fbe8f4 6.55%,#f4f4f6 6.76%,#f5f7f6 6.97%,#f1eef8 7.18%,#ebf5f6 7.39%,#f4f6f8 7.60%,#faf4f8 7.81%,#f7f8f7 8.03%,#f5f2f8 8.24%,#faf9fb 8.45%,#fbf9f6 8.66%,#f6f4f9 8.87%,#f9f2f7 9.08%,#fbeaf4 9.29%,#f9f2f6 9.50%,#fbeaf4 9.71%,#f3f4f4 9.93%,#f9f5f1 10.14%,#f9f7f9 10.35%,#eeeaf9 10.56%,#f7f5f7 10.77%,#fafafc 10.98%,#faf9fb 11.19%,#f4f5f5 11.40%,#eeeaf8 11.62%,#f2f0f5 11.83%,#f9f7f5 12.04%,#f3f0f8 12.25%,#f9ecf4 12.46%,#fbf8f2 12.67%,#fbf8fa 12.88%,#f8f8f8 13.09%,#faf5f9 13.31%,#f5f2ee 13.52%,#f3eff9 13.73%,#f2f1f3 13.94%,#f9f8fa 14.15%,#f4f2f4 14.36%,#f4f1f7 14.57%,#f3f5f4 14.78%,#f4f1f7 14.99%,#f8f7f9 15.21%,#efebf9 15.42%,#f9f5f8 15.63%,#fceef6 15.84%,#fce7f3 16.05%,#f6f7f9 16.26%,#f4f1f9 16.47%,#fbe9f4 16.68%,#f9f8fa 16.90%,#ebf7ee 17.11%,#f3f0f5 17.32%,#f6f5f7 17.53%,#f8f6f8 17.74%,#ededf1 17.95%,#f0ecf8 18.16%,#f8f5f2 18.37%,#fbf6eb 18.59%,#fcf7eb 18.80%,#e7f6f6 19.01%,#faf2f7 19.22%,#ede7fa 19.43%,#f6f5f7 19.64%,#eff7f8 19.85%,#fce7f3 20.06%,#f6eff4 20.27%,#f4f2f4 20.49%,#f9f7f9 20.70%,#f3f7f4 20.91%,#fdf7e9 21.12%,#ebf7f7 21.33%,#f9f8fa 21.54%,#f8f8fa 21.75%,#f4f7f8 21.96%,#faf7f5 22.18%,#faf7fa 22.39%,#ecf8f9 22.60%,#ece6fa 22.81%,#eff7f8 23.02%,#faebf4 23.23%,#faf8f7 23.44%,#ede8fa 23.65%,#f4f8f9 23.86%,#f7f6f8 24.08%,#e9f2f3 24.29%,#edebee 24.50%,#fcf9f3 24.71%,#f6f3fa 24.92%,#f0eff3 25.13%,#fbeaf4 25.34%,#f9ebf4 25.55%,#f5f3f5 25.77%,#faf9fb 25.98%,#fae7f2 26.19%,#f7f6f8 26.40%,#f8f6f8 26.61%,#f8f3e9 26.82%,#faeff6 27.03%,#f8f7f9 27.24%,#f9f8fa 27.46%,#edf7f0 27.67%,#fcf8f1 27.88%,#faf9fb 28.09%,#efebfa 28.30%,#fdf8ed 28.51%,#fdf8ec 28.72%,#f1f0f3 28.93%,#faf9fb 29.14%,#f9f8fa 29.36%,#f8f4f1 29.57%,#faecf4 29.78%,#ededf1 29.99%,#f8f6f8 30.20%,#faf9fb 30.41%,#f0f3f4 30.62%,#f3f7f4 30.83%,#ede7fa 31.05%,#f3eff9 31.26%,#f9f7f9 31.47%,#f3f8f4 31.68%,#f1edf8 31.89%,#f0f5f6 32.10%,#f7f6f8 32.31%,#f7f6f8 32.52%,#faeff6 32.73%,#f5f4f6 32.95%,#f1f0f3 33.16%,#edf8f0 33.37%,#faecf5 33.58%,#fbeaf4 33.79%,#f6f4f6 34.00%,#f7f4f4 34.21%,#f8eef4 34.42%,#faf2f7 34.64%,#f3f7f8 34.85%,#f4f2f5 35.06%,#faf7f4 35.27%,#faf9fb 35.48%,#ebf6ee 35.69%,#f5f4f7 35.90%,#f9f7f9 36.11%,#fbf5f9 36.33%,#f8f6f9 36.54%,#fdf7ec 36.75%,#f2f0f3 36.96%,#f5ecf2 37.17%,#edf6ef 37.38%,#f9f8fa 37.59%,#eaf8ed 37.80%,#f4f3f5 38.01%,#f9f8fa 38.23%,#fafafc 38.44%,#f5f4f6 38.65%,#f0f8f8 38.86%,#edf8f0 39.07%,#fdf7ea 39.28%,#faf9fb 39.49%,#e9f6f7 39.70%,#e5f5f6 39.92%,#f5f1f4 40.13%,#ebe6f7 40.34%,#edecf0 40.55%,#f7f6f8 40.76%,#eeeaf7 40.97%,#fbf6ed 41.18%,#ecf7ef 41.39%,#ebf7ee 41.61%,#fcf7f0 41.82%,#e9f6f7 42.03%,#eef6f7 42.24%,#e5f6f6 42.45%,#f5f9fa 42.66%,#f9f5f2 42.87%,#f4f7f5 43.08%,#f1f7f2 43.29%,#f7f2f6 43.51%,#f2eef9 43.72%,#f3f2f4 43.93%,#f5f4f6 44.14%,#faf8f7 44.35%,#f9f9fb 44.56%,#fcf7e9 44.77%,#f6f5f7 44.98%,#eaf7f7 45.20%,#fbecf5 45.41%,#faf0f6 45.62%,#f7f5f8 45.83%,#f4f5f5 46.04%,#f1f4f6 46.25%,#fef8e9 46.46%,#f3f8f4 46.67%,#f3f1f4 46.88%,#f7ecf3 47.10%,#fbf7f3 47.31%,#efeff2 47.52%,#f9f9fb 47.73%,#f0eff3 47.94%,#f5f3f4 48.15%,#f4f7f5 48.36%,#f3f7f4 48.57%,#fbebf4 48.79%,#fbedf5 49.00%,#f4f1f9 49.21%,#eaf8ed 49.42%,#eef8f1 49.63%,#efeef1 49.84%,#faf8f8 50.05%,#f7f6f8 50.26%,#f9f9fb 50.48%,#f9f8fa 50.69%,#fbf4f8 50.90%,#f3f2f5 51.11%,#f8f7f8 51.32%,#eee9f9 51.53%,#f6f3f9 51.74%,#f4f5f5 51.95%,#f5f4f7 52.16%,#f5f8f9 52.38%,#fafafc 52.59%,#eaf8ee 52.80%,#f9f9fa 53.01%,#ebf7ee 53.22%,#f9f6f1 53.43%,#f9f7f9 53.64%,#eaf7ed 53.85%,#f8f6f8 54.07%,#f5f3f7 54.28%,#f3f1f5 54.49%,#f7f5f7 54.70%,#f7f6f8 54.91%,#f2f8f4 55.12%,#f1f5f3 55.33%,#ede9f8 55.54%,#eff5f0 55.76%,#f6f5f7 55.97%,#f6eff4 56.18%,#efeef1 56.39%,#f6f4f6 56.60%,#faf9fb 56.81%,#f7f5f8 57.02%,#f8f0f5 57.23%,#ecf6ee 57.44%,#e8f3f4 57.66%,#f0eff2 57.87%,#fbe6f2 58.08%,#ece6fa 58.29%,#fbf9f8 58.50%,#f2eef8 58.71%,#f2f8f9 58.92%,#fdf8eb 59.13%,#f3f7f4 59.35%,#f7f5f7 59.56%,#eaf6ed 59.77%,#f3f1f3 59.98%,#f1edf6 60.19%,#f5f4f6 60.40%,#f7f6f8 60.61%,#faf9fb 60.82%,#f9f5ee 61.03%,#fbe9f4 61.25%,#eef5f6 61.46%,#ecf8ef 61.67%,#ece7f9 61.88%,#f9f5ec 62.09%,#fcf7eb 62.30%,#faf7f4 62.51%,#faf6f0 62.72%,#faebf4 62.94%,#f3f6f8 63.15%,#ecf6f7 63.36%,#faf9fb 63.57%,#faf9fb 63.78%,#f9f8fa 63.99%,#f3f1f3 64.20%,#f7f5f9 64.41%,#f8f8f8 64.63%,#fafafc 64.84%,#fdf7ec 65.05%,#fae9f3 65.26%,#f9f1f6 65.47%,#f0eff2 65.68%,#f7f5f8 65.89%,#faecf5 66.10%,#ece6fa 66.31%,#f9f8f9 66.53%,#eef4ef 66.74%,#fce6f3 66.95%,#ece7fa 67.16%,#f7f6f8 67.37%,#f5ebf1 67.58%,#f2f0f5 67.79%,#f3f0ef 68.00%,#f8f5f2 68.22%,#f0edf7 68.43%,#fae9f3 68.64%,#efebf8 68.85%,#f4f3f6 69.06%,#fbe8f3 69.27%,#eff8f9 69.48%,#edf6f0 69.69%,#f1f0f3 69.90%,#f7f7f9 70.12%,#e5f6f6 70.33%,#fafafb 70.54%,#f8f7f9 70.75%,#eeedf0 70.96%,#f7f3f6 71.17%,#faf8fa 71.38%,#fff8e8 71.59%,#ededf1 71.81%,#efeff2 72.02%,#f4f2f4 72.23%,#fae7f2 72.44%,#f8f7f9 72.65%,#f3f2f5 72.86%,#f0eff2 73.07%,#faf9fb 73.28%,#efeef2 73.50%,#eeeef1 73.71%,#fdf7e9 73.92%,#eff0ef 74.13%,#f9f9fb 74.34%,#faf7f5 74.55%,#faf9fb 74.76%,#f1f7f8 74.97%,#f6f7f6 75.18%,#f0eff1 75.40%,#efecf6 75.61%,#f4f2f4 75.82%,#f3f1f3 76.03%,#faf5e9 76.24%,#f9ecf4 76.45%,#f3eff9 76.66%,#fbeaf4 76.87%,#f9f3f7 77.09%,#f3f3f4 77.30%,#e9f6f6 77.51%,#f9f9fa 77.72%,#ebf7ee 77.93%,#fbf7f2 78.14%,#efeafa 78.35%,#fbebf4 78.56%,#f6e9f1 78.78%,#f6f5f7 78.99%,#faf5ed 79.20%,#f6f4f6 79.41%,#faf7f6 79.62%,#f2f1f4 79.83%,#f6f9f7 80.04%,#e9f8ed 80.25%,#eff0ef 80.46%,#f9f5f0 80.68%,#faf6ef 80.89%,#f4f7f9 81.10%,#ebf6f7 81.31%,#f8f7f9 81.52%,#fce7f3 81.73%,#eeeaf5 81.94%,#efebf9 82.15%,#f2f5f3 82.37%,#fbe5f2 82.58%,#f4f2f2 82.79%,#f7f6f8 83.00%,#fafafc 83.21%,#f2f4f6 83.42%,#f1edf8 83.63%,#edf8f0 83.84%,#eff8f8 84.05%,#f4edf1 84.27%,#f9f6f9 84.48%,#f8f5f3 84.69%,#fafafb 84.90%,#fbe8f3 85.11%,#fcf7ee 85.32%,#f9f8fa 85.53%,#f8edf4 85.74%,#fcf7eb 85.96%,#e7f6f7 86.17%,#f0eff2 86.38%,#e5f6f6 86.59%,#f0f6f8 86.80%,#f5f4f6 87.01%,#edecf0 87.22%,#f9f8f9 87.43%,#faf9fa 87.65%,#eef8f1 87.86%,#f5f4f6 88.07%,#f8f1f6 88.28%,#f7f8f9 88.49%,#f4f2f4 88.70%,#faf9fb 88.91%,#faf9fb 89.12%,#f2f1f3 89.33%,#f6f3f9 89.55%,#faeaf4 89.76%,#f5f3fa 89.97%,#f2eef7 90.18%,#f6f3f0 90.39%,#eff1f2 90.60%,#f8f6f8 90.81%,#fafafc 91.02%,#f9f7f9 91.24%,#f8f6f8 91.45%,#edecef 91.66%,#f4f2f4 91.87%,#e7f6f6 92.08%,#fef7e8 92.29%,#f5f4f6 92.50%,#fef8e8 92.71%,#faf9fb 92.93%,#faf9fb 93.14%,#fef8eb 93.35%,#ece6fa 93.56%,#fbe6f3 93.77%,#fafafc 93.98%,#f3f0f7 94.19%,#f0edf8 94.40%,#f4f7f5 94.61%,#f0f4f5 94.83%,#f1f3f2 95.04%,#fae8f3 95.25%,#f8f6f8 95.46%,#faf7f9 95.67%,#e9f7f7 95.88%,#f0eef0 96.09%,#fbf5e8 96.30%,#eff2f0 96.52%,#f9f7f9 96.73%,#f2eff4 96.94%,#ecf5f6 97.15%,#efedf0 97.36%,#f6edf3 97.57%,#f1f5f6 97.78%,#fef8ea 97.99%,#ebf8ee 98.20%,#f2f1f4 98.42%,#f9f8fa 98.63%,#edf8f0 98.84%,#f2eef9 99.05%,#f0ecf9 99.26%,#f6f5f7 99.47%,#f9f8fa 99.68%,#f1f8f3 99.89%)"></div><div style="left:781.8px;top:795.0px;width:568.2px;height:45.0px;background:linear-gradient(90deg,#f6f6f8 0.00%,#eeeef0 0.21%,#f4f4f6 0.42%,#f8f8fa 0.63%,#f0f0f2 0.84%,#f9f9fb 1.06%,#f3f3f5 1.27%,#f9f9fb 1.48%,#f9f9fa 1.69%,#f8f8fa 1.90%,#f8f8fa 2.11%,#f1f1f3 2.32%,#f2f2f4 2.53%,#fafafb 2.75%,#f9f9fb 2.96%,#f8f8fa 3.17%,#e99f90 3.38%,#e16c53 3.59%,#de5b40 3.80%,#d74020 4.01%,#d33f1f 4.22%,#de5f44 4.44%,#e48635 4.65%,#eeb54c 4.86%,#f1b131 5.07%,#f5bc3d 5.28%,#f9c752 5.49%,#f8c242 5.70%,#f7c143 5.91%,#fbcf67 6.12%,#fbcc5b 6.34%,#f2c044 6.55%,#fbc748 6.76%,#fcce5d 6.97%,#fccc57 7.18%,#f9c647 7.39%,#fccc56 7.60%,#f7c447 7.81%,#fdd778 8.03%,#fdd981 8.24%,#fcc848 8.45%,#fcc848 8.66%,#fddc89 8.87%,#f9c647 9.08%,#f9c647 9.29%,#fcc849 9.50%,#efbf47 9.71%,#f0c049 9.93%,#f7c64e 10.14%,#fddc89 10.35%,#f3c450 10.56%,#f5c753 10.77%,#fcce5c 10.98%,#f2c555 11.19%,#fbcd5a 11.40%,#fccf5c 11.62%,#fdde8e 11.83%,#fcd061 12.04%,#fdde8f 12.25%,#f8ce63 12.46%,#fad065 12.67%,#fcd26c 12.88%,#f6cd67 13.09%,#fcd67a 13.31%,#fcd67a 13.52%,#fddc8d 13.73%,#fcd67b 13.94%,#fdde96 14.15%,#fddc90 14.36%,#f9d176 14.57%,#fcd886 14.78%,#fbd47a 14.99%,#fddd95 15.21%,#f4cf79 15.42%,#fddd95 15.63%,#fcd67f 15.84%,#fcd888 16.05%,#fcdb8f 16.26%,#f5d17f 16.47%,#fcd98a 16.68%,#fcda8d 16.90%,#fde7b4 17.11%,#fbd788 17.32%,#fcde9b 17.53%,#fcde9b 17.74%,#fcdb93 17.95%,#f2cf85 18.16%,#f8d589 18.37%,#fcdb95 18.59%,#fcda92 18.80%,#f8d58a 19.01%,#fcd88d 19.22%,#f8d48b 19.43%,#fad68d 19.64%,#fcda94 19.85%,#f5d28b 20.06%,#f7d48d 20.27%,#f2cf8a 20.49%,#fad68f 20.70%,#fcdc9d 20.91%,#fde6b7 21.12%,#fcd995 21.33%,#fcdda0 21.54%,#fad692 21.75%,#fcd997 21.96%,#fcd998 22.18%,#fcdca0 22.39%,#fbd795 22.60%,#fcdca1 22.81%,#fbd796 23.02%,#fcd898 23.23%,#fde4b6 23.44%,#f7d395 23.65%,#fcda9d 23.86%,#fcd899 24.08%,#f9d598 24.29%,#f7d497 24.50%,#fbd79a 24.71%,#f7d498 24.92%,#fde0b0 25.13%,#fde2b6 25.34%,#f6d299 25.55%,#f7d49a 25.77%,#fad79d 25.98%,#fcd89e 26.19%,#fcdba6 26.40%,#f8d59d 26.61%,#f3d09a 26.82%,#fcdba8 27.03%,#fbd9a2 27.24%,#fbdba4 27.46%,#f5d6a0 27.67%,#fadba5 27.88%,#fbe1b0 28.09%,#f5d9a4 28.30%,#fae1ae 28.51%,#f3daa6 28.72%,#fae6b9 28.93%,#f7e0ac 29.14%,#f7e2ae 29.36%,#f0ddaa 29.57%,#f9e7b9 29.78%,#f8e5b2 29.99%,#f9e7bb 30.20%,#f8e6b8 30.41%,#f5e2b1 30.62%,#f9eac1 30.83%,#f9eac3 31.05%,#f7e5b6 31.26%,#f4e2b4 31.47%,#f8e6b9 31.68%,#f8e6b8 31.89%,#f2e1b4 32.10%,#ecdbb1 32.31%,#f7e6ba 32.52%,#f2e1b7 32.73%,#f2e1b7 32.95%,#f7e6bc 33.16%,#f5e4bb 33.37%,#efdfb7 33.58%,#f0e0b9 33.79%,#f2e2bb 34.00%,#e6d7b2 34.21%,#f2e3bd 34.42%,#f0e1bc 34.64%,#f8e8c2 34.85%,#f3e4bf 35.06%,#fbebc6 35.27%,#fcefd0 35.48%,#faeac6 35.69%,#fdefd2 35.90%,#f9e8c3 36.11%,#fcebc4 36.33%,#f5e4be 36.54%,#fcebc4 36.75%,#fcecc7 36.96%,#fbe9bf 37.17%,#fdeecb 37.38%,#fce9bd 37.59%,#fce9bc 37.80%,#fae7b9 38.01%,#f7e4b5 38.23%,#eddaad 38.44%,#f3ddad 38.65%,#fdeac0 38.86%,#fce4b2 39.07%,#fbdfa7 39.28%,#fce1ab 39.49%,#f5d69c 39.70%,#f6d599 39.92%,#f8d596 40.13%,#fcda9e 40.34%,#fbd798 40.55%,#f8d495 40.76%,#fcd99a 40.97%,#fcd99b 41.18%,#fcdea8 41.39%,#fde2b2 41.61%,#fddfaa 41.82%,#fde0ac 42.03%,#fcda9c 42.24%,#f8d596 42.45%,#f7d495 42.66%,#fbd797 42.87%,#fcd898 43.08%,#fde3b6 43.29%,#fbd797 43.51%,#fcda9d 43.72%,#f4d193 43.93%,#fbd798 44.14%,#f9d696 44.35%,#fcd99c 44.56%,#f3d193 44.77%,#fde0ac 44.98%,#fcdea6 45.20%,#fad899 45.41%,#fcdb9e 45.62%,#f6d598 45.83%,#fcdca1 46.04%,#fcdfa8 46.25%,#f9d89c 46.46%,#fcdda2 46.67%,#fcdfa8 46.88%,#fcdea5 47.10%,#fce0a9 47.31%,#f6d9a1 47.52%,#f9dda5 47.73%,#fce1ab 47.94%,#fde8bc 48.15%,#fce8bc 48.36%,#fce9bc 48.57%,#f3dfaf 48.79%,#fdecc5 49.00%,#eddaad 49.21%,#fbe7b7 49.42%,#fce9bb 49.63%,#fce8b8 49.84%,#fdefce 50.05%,#fceabe 50.26%,#fdecc5 50.48%,#fbe7b8 50.69%,#fdf2d7 50.90%,#f7e4b5 51.11%,#fcebc2 51.32%,#fdeeca 51.53%,#fdecc6 51.74%,#fce9bb 51.95%,#fce9bc 52.16%,#f8e5b5 52.38%,#fcebc0 52.59%,#fce8b9 52.80%,#fceabf 53.01%,#fce8b8 53.22%,#fcedc9 53.43%,#f9eac7 53.64%,#fbf2dd 53.85%,#faf4e7 54.07%,#f3efe7 54.28%,#f4f0e8 54.49%,#efebe3 54.70%,#f6f2ea 54.91%,#ede9e1 55.12%,#f8f4ec 55.33%,#f4f0e8 55.54%,#f9f5ee 55.76%,#f9f5ee 55.97%,#fbf9f4 56.18%,#f9f5ee 56.39%,#f7f3eb 56.60%,#f8f4ec 56.81%,#f9f4e8 57.02%,#faf1dc 57.23%,#f7ebcd 57.44%,#fceeca 57.66%,#fcecc0 57.87%,#eddeb3 58.08%,#f9e9ba 58.29%,#fcedc1 58.50%,#fdf2d2 58.71%,#fdefc8 58.92%,#fcecbd 59.13%,#fcecbb 59.35%,#fcedbd 59.56%,#fceab4 59.77%,#fdeec1 59.98%,#f9e7ae 60.19%,#fdedbd 60.40%,#fbe8ac 60.61%,#fceab2 60.82%,#fcebb3 61.03%,#fcebb4 61.25%,#eedb9e 61.46%,#fce8aa 61.67%,#f4e1a2 61.88%,#fbe7a7 62.09%,#fcecb8 62.30%,#f8e4a4 62.51%,#ebd89b 62.72%,#fbeab2 62.94%,#f8e4a4 63.15%,#f9e5a4 63.36%,#fbeab2 63.57%,#f7e3a2 63.78%,#f7e3a2 63.99%,#f3e0a0 64.20%,#f9e5a3 64.41%,#f6e3a1 64.63%,#f7e4a2 64.84%,#fae6a4 65.05%,#f2df9e 65.26%,#f6e2a0 65.47%,#f8e4a2 65.68%,#f0dd9c 65.89%,#faecba 66.10%,#fbefc6 66.31%,#f9e8ae 66.53%,#fae9b0 66.74%,#f9e7aa 66.95%,#f2de9c 67.16%,#f5e29e 67.37%,#f7e4a2 67.58%,#f6e3a5 67.79%,#faebb9 68.00%,#faeab8 68.22%,#fae9b5 68.43%,#f6e5b2 68.64%,#f5e5b5 68.85%,#fcebbe 69.06%,#fcefca 69.27%,#f3e5bd 69.48%,#f8e9c3 69.69%,#fbefce 69.90%,#f5e9c6 70.12%,#f8ebca 70.33%,#f6eacb 70.54%,#f7ecce 70.75%,#ebe1c6 70.96%,#f0e6cd 71.17%,#f9f0da 71.38%,#efe7d1 71.59%,#faf3e3 71.81%,#f2ebd9 72.02%,#f9f3e4 72.23%,#f4eee0 72.44%,#f2ede1 72.65%,#f8f4ea 72.86%,#f5f1e9 73.07%,#f8f5ee 73.28%,#ebe8e4 73.50%,#f0eeea 73.71%,#f9f8f5 73.92%,#f9f7f3 74.13%,#f6f4f0 74.34%,#f8f6f2 74.55%,#f9f7f3 74.76%,#f6f4f0 74.97%,#f5f3ef 75.18%,#f4f2ee 75.40%,#f9f7f3 75.61%,#f9f8f5 75.82%,#f5f3ef 76.03%,#efede9 76.24%,#f9f7f3 76.45%,#faf8f5 76.66%,#f9f7f4 76.87%,#f8f6f2 77.09%,#f9f7f4 77.30%,#fbfaf7 77.51%,#f0eeea 77.72%,#f9f7f3 77.93%,#f8f6f2 78.14%,#f5f3ef 78.35%,#f6f4f0 78.56%,#f7f5f1 78.78%,#f1efec 78.99%,#f8f6f2 79.20%,#faf8f5 79.41%,#f6f4f0 79.62%,#f0eeea 79.83%,#f8f6f2 80.04%,#f3f1ed 80.25%,#f7f5f1 80.46%,#f7f5f1 80.68%,#f5f3ef 80.89%,#f8f7f3 81.10%,#f5f3f0 81.31%,#f9f7f4 81.52%,#f7f5f1 81.73%,#faf9f6 81.94%,#f9f8f4 82.15%,#f9f8f5 82.37%,#f9f7f4 82.58%,#f9f7f4 82.79%,#f6f4f0 83.00%,#f0eeea 83.21%,#faf8f5 83.42%,#f9f7f3 83.63%,#f8f6f2 83.84%,#eceae6 84.05%,#faf9f6 84.27%,#f7f6f2 84.48%,#f7f6f4 84.69%,#f5f5f2 84.90%,#f7f7f5 85.11%,#f6f6f4 85.32%,#e6e6e4 85.53%,#efefed 85.74%,#f4f4f2 85.96%,#f5f5f3 86.17%,#ececea 86.38%,#f4f4f2 86.59%,#f0f0ee 86.80%,#e7e7e5 87.01%,#f5f5f4 87.22%,#efefed 87.43%,#eeeeec 87.65%,#f4f1e8 87.86%,#ebe4d4 88.07%,#faefd7 88.28%,#fcf1d7 88.49%,#fcefcf 88.70%,#fdf2d8 88.91%,#fdf2d9 89.12%,#f3e4c1 89.33%,#f8e9c5 89.55%,#f8e9c5 89.76%,#fceeca 89.97%,#f6e8c3 90.18%,#faecc7 90.39%,#fcedc8 90.60%,#fcefcd 90.81%,#fbecc7 91.02%,#fcf0ce 91.24%,#fcefca 91.45%,#fcf0cf 91.66%,#fcf0ce 91.87%,#fcefcb 92.08%,#fdf7e3 92.29%,#fcefc9 92.50%,#fcefc8 92.71%,#fbeec7 92.93%,#f2e6c0 93.14%,#faedc6 93.35%,#f7eac4 93.56%,#fbeec7 93.77%,#fdf3d4 93.98%,#fcefc8 94.19%,#fbf0ca 94.40%,#f8f1db 94.61%,#f4f0e4 94.83%,#f1f1f2 95.04%,#e9e9ed 95.25%,#e9e9ed 95.46%,#f2f2f5 95.67%,#f0f0f4 95.88%,#f1f1f4 96.09%,#f4f4f7 96.30%,#eeeef2 96.52%,#f2f2f5 96.73%,#f1f1f5 96.94%,#ececf0 97.15%,#efeff3 97.36%,#eeeef1 97.57%,#eeeef2 97.78%,#f4f4f7 97.99%,#f2f2f5 98.20%,#f4f4f7 98.42%,#f1f1f5 98.63%,#efeff3 98.84%,#e2e2e6 99.05%,#ebebef 99.26%,#f0f0f4 99.47%,#ebebef 99.68%,#eeeef2 99.89%)"></div><div style="left:781.8px;top:840.0px;width:568.2px;height:47.0px;background:linear-gradient(90deg,#f9f9f9 0.00%,#f9f9f9 0.21%,#f1f1f1 0.42%,#f9f9f9 0.63%,#f6f6f6 0.84%,#fafafa 1.06%,#f2f2f2 1.27%,#f9f9f9 1.48%,#eeeeee 1.69%,#f0f0f0 1.90%,#e6e6e6 2.11%,#f9f9f9 2.32%,#efefef 2.53%,#f9f9f9 2.75%,#efefef 2.96%,#f9f9f9 3.17%,#f5cbaf 3.38%,#ec8e4f 3.59%,#f29d64 3.80%,#f6bf9b 4.01%,#f09253 4.22%,#f2a16c 4.44%,#f5b14f 4.65%,#f1bb3d 4.86%,#dead36 5.07%,#eab737 5.28%,#eebc3a 5.49%,#eec554 5.70%,#e5b62f 5.91%,#dcae2e 6.12%,#daad2d 6.34%,#deb02e 6.55%,#d7aa2d 6.76%,#e3b430 6.97%,#e8bf4e 7.18%,#e4b433 7.39%,#deaf2f 7.60%,#e4b73d 7.81%,#e6be51 8.03%,#e3b842 8.24%,#e6bf56 8.45%,#e0b032 8.66%,#e6bf59 8.87%,#e3b742 9.08%,#dfb13a 9.29%,#deb13d 9.50%,#e2b541 9.71%,#e4ba4c 9.93%,#e2b646 10.14%,#e8c364 10.35%,#e2b74b 10.56%,#dbb24c 10.77%,#e3b951 10.98%,#ebc976 11.19%,#e9c469 11.40%,#e8c163 11.62%,#d5b056 11.83%,#eac66f 12.04%,#e0b95e 12.25%,#efd28f 12.46%,#edce87 12.67%,#e2bb61 12.88%,#ebc878 13.09%,#e6be65 13.31%,#e9c26b 13.52%,#e2bb65 13.73%,#dbb563 13.94%,#e9c473 14.15%,#e9c371 14.36%,#ecca83 14.57%,#ebc982 14.78%,#ddb769 14.99%,#e0ba6b 15.21%,#e9c479 15.42%,#ebc884 15.63%,#e4be70 15.84%,#edd097 16.05%,#e6c074 16.26%,#e9c98a 16.47%,#e5c178 16.68%,#e9cb90 16.90%,#dcba76 17.11%,#debc78 17.32%,#d0b172 17.53%,#e3c485 17.74%,#e1c07f 17.95%,#e8d1a2 18.16%,#e3c487 18.37%,#debf7d 18.59%,#dcbd7b 18.80%,#dcbd7b 19.01%,#ddbe7b 19.22%,#efd9a8 19.43%,#e9ca82 19.64%,#eed599 19.85%,#f0d69b 20.06%,#efd492 20.27%,#e8c87c 20.49%,#ebcc7e 20.70%,#e7c97c 20.91%,#eccc7f 21.12%,#e4c67c 21.33%,#e8c97f 21.54%,#efcf84 21.75%,#f3d692 21.96%,#e6c880 22.18%,#f4d692 22.39%,#e5c782 22.60%,#f8e3b5 22.81%,#f7dfaa 23.02%,#f8e5b9 23.23%,#f6d898 23.44%,#edce8b 23.65%,#e7c988 23.86%,#f6d897 24.08%,#ebcd8c 24.29%,#f8dba1 24.50%,#f7d99a 24.71%,#eccd8f 24.92%,#f9dba1 25.13%,#f4d597 25.34%,#f3d698 25.55%,#f4d79b 25.77%,#eed298 25.98%,#f7dba0 26.19%,#eed49c 26.40%,#f5dca3 26.61%,#ead39d 26.82%,#f9e5b5 27.03%,#f9e6b8 27.24%,#f5dea6 27.46%,#f7e2af 27.67%,#f7e2ae 27.88%,#f9e8bf 28.09%,#f7e2af 28.30%,#f6e3b1 28.51%,#f9ecca 28.72%,#f6e3b1 28.93%,#f5e0aa 29.14%,#f4dfa6 29.36%,#f5e2ae 29.57%,#edd99f 29.78%,#f4e3b1 29.99%,#e7d39b 30.20%,#dfcb95 30.41%,#f3e1ac 30.62%,#f4e3b2 30.83%,#f2e0aa 31.05%,#eeda9f 31.26%,#decc94 31.47%,#f1dea5 31.68%,#e1ce96 31.89%,#efda9f 32.10%,#edd79d 32.31%,#f4e1af 32.52%,#efd99e 32.73%,#f4dea8 32.95%,#f3dba0 33.16%,#eed69d 33.37%,#e9d199 33.58%,#f5dfaa 33.79%,#ebd29a 34.00%,#f7e1b2 34.21%,#f1d79d 34.42%,#f6daa0 34.64%,#f8e1b1 34.85%,#eed39b 35.06%,#f8deaa 35.27%,#f1d49c 35.48%,#f8deaa 35.69%,#f9ddaa 35.90%,#f9deac 36.11%,#f1d39b 36.33%,#f6d79e 36.54%,#efd09a 36.75%,#f7d79e 36.96%,#f6d69e 37.17%,#fbdca8 37.38%,#fce5c0 37.59%,#fbdaa4 37.80%,#efcd98 38.01%,#fcd9a3 38.23%,#fcdaa4 38.44%,#f0ce99 38.65%,#f0ce98 38.86%,#f9d59e 39.07%,#edcb96 39.28%,#fcdeae 39.49%,#edcb97 39.70%,#fad79f 39.92%,#fde5bf 40.13%,#fcddac 40.34%,#fcddad 40.55%,#ecca96 40.76%,#fbd79f 40.97%,#f4d19b 41.18%,#f8d49d 41.39%,#fcdaa5 41.61%,#f8d49d 41.82%,#fde0b3 42.03%,#f9d59e 42.24%,#fcdcaa 42.45%,#fcdaa4 42.66%,#f3d09a 42.87%,#f1cf99 43.08%,#f3d09a 43.29%,#fddfb2 43.51%,#eac995 43.72%,#f8d59e 43.93%,#e2c28f 44.14%,#f8d49d 44.35%,#f0ce99 44.56%,#f8d59d 44.77%,#fddfb0 44.98%,#fcdaa6 45.20%,#fcd8a0 45.41%,#f4d29d 45.62%,#fad9a3 45.83%,#efd19e 46.04%,#f8daa6 46.25%,#f9dca9 46.46%,#efd4a4 46.67%,#f9e1b3 46.88%,#f5ddad 47.10%,#ebd5a8 47.31%,#f0daad 47.52%,#f5e1b4 47.73%,#ebd8ac 47.94%,#f4e3bb 48.15%,#f4e5c1 48.36%,#f0e0b6 48.57%,#f3e7c8 48.79%,#f1e7c6 49.00%,#dfd3ad 49.21%,#ede2bc 49.42%,#e0d5b0 49.63%,#e0d6b2 49.84%,#eee4c1 50.05%,#e4dab7 50.26%,#f0e8c9 50.48%,#f2eacd 50.69%,#e8dfbe 50.90%,#e4dbbb 51.11%,#f0e7c6 51.32%,#f1eacd 51.53%,#f2ebd1 51.74%,#f1ead1 51.95%,#f5f0dd 52.16%,#f6f1e1 52.38%,#e6e2d6 52.59%,#efebe3 52.80%,#f9f5ee 53.01%,#f3efe7 53.22%,#e8e4dd 53.43%,#f8f4ec 53.64%,#f9f5ee 53.85%,#f8f4ec 54.07%,#f8f4ed 54.28%,#f9f5ed 54.49%,#eeebe3 54.70%,#f6f2ea 54.91%,#f9f6ef 55.12%,#f8f4ed 55.33%,#f8f4ed 55.54%,#f0ece5 55.76%,#faf7f1 55.97%,#e3dfd8 56.18%,#f6f2ea 56.39%,#f3efe7 56.60%,#f5f1e9 56.81%,#f5f1e9 57.02%,#f4f1e9 57.23%,#f9f6ee 57.44%,#fbf5e6 57.66%,#fbf4dd 57.87%,#fcf2cf 58.08%,#f9edc4 58.29%,#f2e6be 58.50%,#fcf1ce 58.71%,#fbeec2 58.92%,#ecdfb5 59.13%,#f3e5b9 59.35%,#ecdfb2 59.56%,#f4e6b7 59.77%,#faedc1 59.98%,#faeec2 60.19%,#f3e4b2 60.40%,#f2e4b0 60.61%,#f0e1ad 60.82%,#e7d8a5 61.03%,#eddea8 61.25%,#f1e1aa 61.46%,#f6e6ae 61.67%,#f6e7b4 61.88%,#f5e6b1 62.09%,#f5e8b8 62.30%,#ecdca6 62.51%,#f3e4b0 62.72%,#f1e1a9 62.94%,#f2e5b8 63.15%,#ebdca4 63.36%,#f2e6bd 63.57%,#eddea8 63.78%,#eddda8 63.99%,#e9d9a1 64.20%,#ebdda9 64.41%,#d6c794 64.63%,#d2c491 64.84%,#ecddaa 65.05%,#ebdba3 65.26%,#f1e3b3 65.47%,#f0e0a8 65.68%,#f6ecc7 65.89%,#e9daa4 66.10%,#e6d7a2 66.31%,#e2d3a0 66.53%,#f8e8b0 66.74%,#eddda8 66.95%,#eadba6 67.16%,#e8d9a5 67.37%,#eedea9 67.58%,#f9ebb9 67.79%,#f6e6af 68.00%,#f8e9b4 68.22%,#f8e9b5 68.43%,#faedc2 68.64%,#f8e9b3 68.85%,#f2e2ab 69.06%,#f0e1ae 69.27%,#e1d6af 69.48%,#f4eccf 69.69%,#f2ecd7 69.90%,#f1eee3 70.12%,#eeeadf 70.33%,#f1ede1 70.54%,#f1eee3 70.75%,#f1ede2 70.96%,#ede9dd 71.17%,#f1ede2 71.38%,#f1ede1 71.59%,#f0ece0 71.81%,#ece8dc 72.02%,#f3f0e7 72.23%,#e2ded3 72.44%,#f3efe5 72.65%,#f0ede1 72.86%,#f0ece0 73.07%,#f0ece1 73.28%,#ede9dd 73.50%,#ebe7dc 73.71%,#efebdf 73.92%,#ece8dc 74.13%,#f2efe4 74.34%,#e4e0d5 74.55%,#eae6db 74.76%,#e7e3d8 74.97%,#f2efe5 75.18%,#f2eee4 75.40%,#f4f2e9 75.61%,#f7f5ef 75.82%,#f3f1eb 76.03%,#f1efeb 76.24%,#f9f7f4 76.45%,#f8f7f3 76.66%,#f9f7f4 76.87%,#faf9f6 77.09%,#f6f4f0 77.30%,#f8f7f3 77.51%,#f5f3ef 77.72%,#eeece8 77.93%,#f0eeea 78.14%,#f8f6f2 78.35%,#f5f3ef 78.56%,#faf8f5 78.78%,#f8f6f2 78.99%,#f6f4f0 79.20%,#f3f1ed 79.41%,#f9f7f3 79.62%,#f7f5f1 79.83%,#f1efeb 80.04%,#f3f1ee 80.25%,#f4f2ee 80.46%,#f9f8f4 80.68%,#f5f3ef 80.89%,#faf9f6 81.10%,#f9f8f5 81.31%,#f9f8f5 81.52%,#f8f7f3 81.73%,#f9f7f4 81.94%,#f5f3ef 82.15%,#f1efeb 82.37%,#e7e5e2 82.58%,#f9f7f3 82.79%,#f9f7f3 83.00%,#f8f7f3 83.21%,#f8f7f3 83.42%,#f9f7f4 83.63%,#f9f7f3 83.84%,#efede9 84.05%,#f9f7f4 84.27%,#f7f5f1 84.48%,#f7f5f1 84.69%,#f9f7f3 84.90%,#faf8f5 85.11%,#f6f4f0 85.32%,#f3f1ed 85.53%,#f4f2ee 85.74%,#f0eeea 85.96%,#eae9e5 86.17%,#f9f7f4 86.38%,#f3f1ed 86.59%,#f9f7f3 86.80%,#faf8f5 87.01%,#f8f6f3 87.22%,#f7f5f1 87.43%,#e1e0de 87.65%,#cccccc 87.86%,#b8b8b8 88.07%,#acacac 88.28%,#a4a4a4 88.49%,#aeaeae 88.70%,#b5b5b5 88.91%,#c2c2c2 89.12%,#cecece 89.33%,#dddddd 89.55%,#f0f0f0 89.76%,#f2f2f2 89.97%,#f4f4f4 90.18%,#f3f3f3 90.39%,#f0f0f0 90.60%,#d6d6d6 90.81%,#eeebe3 91.02%,#f7f1e1 91.24%,#eee4ca 91.45%,#f2e6c7 91.66%,#fcf1d3 91.87%,#f8edcd 92.08%,#eee2c4 92.29%,#fcf0d0 92.50%,#f4e8c9 92.71%,#f1e5c7 92.93%,#f2e7c8 93.14%,#f0e5c6 93.35%,#f3eac8 93.56%,#e7deb4 93.77%,#e6dfb8 93.98%,#d1c99c 94.19%,#e0d8a8 94.40%,#ddd5a6 94.61%,#ded6a7 94.83%,#d1ccad 95.04%,#a6a394 95.25%,#8d8d8d 95.46%,#8f8f8f 95.67%,#8e8e8e 95.88%,#8e8e8e 96.09%,#a8a8a8 96.30%,#bebebe 96.52%,#d9d9d9 96.73%,#d9d9d9 96.94%,#e0e0e0 97.15%,#d3d3d3 97.36%,#e2e2e2 97.57%,#e4e4e4 97.78%,#e4e4e1 97.99%,#e9e7de 98.20%,#efece0 98.42%,#f1edda 98.63%,#e9e5d2 98.84%,#ece8d4 99.05%,#f0ecd8 99.26%,#ede9d5 99.47%,#f2eedd 99.68%,#f2efde 99.89%)"></div><div style="left:781.8px;top:887.0px;width:568.2px;height:46.0px;background:linear-gradient(90deg,#fbfbfb 0.00%,#fafafa 0.21%,#fbfbfb 0.42%,#f3f3f3 0.63%,#efefef 0.84%,#fbfbfb 1.06%,#f3f3f3 1.27%,#f3f3f3 1.48%,#f5f5f5 1.69%,#f9f9f9 1.90%,#ededed 2.11%,#fbfbfb 2.32%,#f5f5f5 2.53%,#fbfbfb 2.75%,#fbfbfb 2.96%,#fbfbfb 3.17%,#e5a788 3.38%,#e57942 3.59%,#e2682c 3.80%,#e57b46 4.01%,#eb9c6d 4.22%,#f9e3c6 4.44%,#f4ddbd 4.65%,#efd8b9 4.86%,#f7dfbf 5.07%,#eed7b8 5.28%,#f7dfbf 5.49%,#f5ddbd 5.70%,#f7dfc0 5.91%,#fae7cf 6.12%,#f5ddbd 6.34%,#f8e0c0 6.55%,#f8e1c3 6.76%,#f4ddbd 6.97%,#eed7b8 7.18%,#f0d9ba 7.39%,#e7d0b3 7.60%,#f9e6cc 7.81%,#f0d9ba 8.03%,#f9e3c7 8.24%,#eed7b8 8.45%,#f2dbbc 8.66%,#f2dcbd 8.87%,#f1dcbd 9.08%,#f3dfc0 9.29%,#f7e6c9 9.50%,#f4e2c2 9.71%,#efdebf 9.93%,#f7e8cc 10.14%,#f6e9cd 10.35%,#f4e6c6 10.56%,#f5e8ca 10.77%,#f4e8c8 10.98%,#eee3c3 11.19%,#f5eacd 11.40%,#f5eacc 11.62%,#f4e8c8 11.83%,#f5eacd 12.04%,#f3e7c7 12.25%,#eee2c3 12.46%,#f5e9cb 12.67%,#ece1c2 12.88%,#eadec0 13.09%,#f5e9cb 13.31%,#eee3c3 13.52%,#f3e7c7 13.73%,#f8efda 13.94%,#f5ebcf 14.15%,#f5eace 14.36%,#ece1c2 14.57%,#ede1c2 14.78%,#eee2c3 14.99%,#f4e9c9 15.21%,#f1e5c6 15.42%,#f2e6c6 15.63%,#f5ebcf 15.84%,#efe3c3 16.05%,#f4e9cb 16.26%,#f5ebd0 16.47%,#f5ecd3 16.68%,#f7efda 16.90%,#f4e9cc 17.11%,#f0e5c2 17.32%,#f1e6c4 17.53%,#f1e5c2 17.74%,#e9ddbb 17.95%,#f1e6c4 18.16%,#ede1bd 18.37%,#f1e6c5 18.59%,#f4ebd1 18.80%,#e1d6b3 19.01%,#e9ddb8 19.22%,#e9ddb8 19.43%,#ede1bb 19.64%,#eadeb8 19.85%,#eee3be 20.06%,#ede2bc 20.27%,#e9ddb6 20.49%,#eadeb6 20.70%,#e3d7b1 20.91%,#e5d9b2 21.12%,#efe5c3 21.33%,#e6dab3 21.54%,#eee3be 21.75%,#eee3bf 21.96%,#e8dcb4 22.18%,#e3d7b0 22.39%,#eee4c0 22.60%,#eee3c0 22.81%,#f0e7c9 23.02%,#eadeb5 23.23%,#ece1bb 23.44%,#e3d7af 23.65%,#e9ddb4 23.86%,#eee4c2 24.08%,#ebdfb6 24.29%,#ebdfb7 24.50%,#eee4c1 24.71%,#e3d8af 24.92%,#e9ddb3 25.13%,#e8dcb3 25.34%,#ede2be 25.55%,#ede3c0 25.77%,#eadeb4 25.98%,#e3d7ae 26.19%,#e2d7ae 26.40%,#eadfb7 26.61%,#ede4c1 26.82%,#eadeb5 27.03%,#f2ead0 27.24%,#e7dbb0 27.46%,#eadeb4 27.67%,#dcd0a8 27.88%,#ebe1ba 28.09%,#e7dbb0 28.30%,#dfd3aa 28.51%,#dfd3aa 28.72%,#e7dbaf 28.93%,#ebe0b9 29.14%,#e8dcb0 29.36%,#e4d9ad 29.57%,#e3d7ad 29.78%,#e9deb5 29.99%,#eadfb6 30.20%,#e9deb5 30.41%,#e0d5ad 30.62%,#ece2be 30.83%,#e1d7af 31.05%,#eae0b8 31.26%,#ebe1ba 31.47%,#e8deb6 31.68%,#e4dab4 31.89%,#ede4c2 32.10%,#e2d9b3 32.31%,#ece4c0 32.52%,#dcd4b0 32.73%,#dfd6b2 32.95%,#e8dfba 33.16%,#ede5c3 33.37%,#f1ecd2 33.58%,#dbd4b2 33.79%,#dfd8b6 34.00%,#eae2be 34.21%,#efe8c9 34.42%,#ece4c1 34.64%,#f1ebd0 34.85%,#ece5c1 35.06%,#e6debb 35.27%,#dfd7b5 35.48%,#e0d9b6 35.69%,#ece4c0 35.90%,#e8e0bc 36.11%,#d5cead 36.33%,#e4dcb9 36.54%,#e8e0bd 36.75%,#e6debb 36.96%,#e7e0bc 37.17%,#e1d9b7 37.38%,#eee6c6 37.59%,#e1d9b7 37.80%,#e9e1bd 38.01%,#f0eace 38.23%,#e8e0bc 38.44%,#e5debb 38.65%,#eee7c6 38.86%,#ebe3c0 39.07%,#f0eace 39.28%,#e5ddbb 39.49%,#efe9cb 39.70%,#eae2bf 39.92%,#efe8ca 40.13%,#ede6c4 40.34%,#e5debc 40.55%,#f0e9cb 40.76%,#eee6c4 40.97%,#efe8c9 41.18%,#ede5c3 41.39%,#efe8c8 41.61%,#efe7c7 41.82%,#f1eace 42.03%,#f1eace 42.24%,#e9e1c0 42.45%,#ede5c3 42.66%,#eee6c4 42.87%,#e6debe 43.08%,#e9e1c0 43.29%,#f2ecd1 43.51%,#ebe4c2 43.72%,#ebe3c2 43.93%,#efe7c7 44.14%,#f1eacd 44.35%,#ded7b8 44.56%,#e7dfbf 44.77%,#efe7c6 44.98%,#f1eace 45.20%,#f0e9ca 45.41%,#eee6c6 45.62%,#f0e8c7 45.83%,#f0e8c8 46.04%,#f3ecd2 46.25%,#e9e1c2 46.46%,#e4dcbe 46.67%,#e7dfc0 46.88%,#ebe3c4 47.10%,#f2ebd0 47.31%,#e8e0c3 47.52%,#f1e9cc 47.73%,#e6dfc5 47.94%,#efe8ce 48.15%,#ede6ce 48.36%,#f3ecd7 48.57%,#efe8d3 48.79%,#eee7d2 49.00%,#f2ecd8 49.21%,#ebe4d3 49.42%,#eae4d3 49.63%,#f5efe1 49.84%,#efe9db 50.05%,#f5f0e5 50.26%,#e9e3d8 50.48%,#f4eee3 50.69%,#f4efe5 50.90%,#ebe5dc 51.11%,#f0eae1 51.32%,#e7e1d8 51.53%,#f6f2ea 51.74%,#f3ede4 51.95%,#f2ece3 52.16%,#f0eae1 52.38%,#f8f3ed 52.59%,#f5f0e7 52.80%,#f7f2ea 53.01%,#f5f0e7 53.22%,#f1ebe3 53.43%,#f5f0e7 53.64%,#f1ece3 53.85%,#f6f1e9 54.07%,#e7e2da 54.28%,#f4eee6 54.49%,#f5f0e7 54.70%,#f2ede5 54.91%,#f4efe7 55.12%,#f4efe7 55.33%,#e8e4dc 55.54%,#efebe3 55.76%,#f5f0e8 55.97%,#dbd7d0 56.18%,#f3eee6 56.39%,#f7f3ec 56.60%,#f4f0e8 56.81%,#f8f4ee 57.02%,#f4efe8 57.23%,#f7f3ec 57.44%,#f7f3ed 57.66%,#f2ede6 57.87%,#e4e0d9 58.08%,#ede9e2 58.29%,#f5f1ea 58.50%,#eeeae3 58.71%,#ece8e1 58.92%,#f0ece5 59.13%,#f9f5ef 59.35%,#f0ece6 59.56%,#eeeae4 59.77%,#f1ede7 59.98%,#f8f4ed 60.19%,#f1ede7 60.40%,#f8f4ee 60.61%,#f3efe9 60.82%,#f4efe5 61.03%,#f2ecd9 61.25%,#f3eed9 61.46%,#ebe3bf 61.67%,#e4dcba 61.88%,#f1ebcf 62.09%,#efe8ca 62.30%,#e9e1be 62.51%,#eee7c6 62.72%,#eae2be 62.94%,#eee6c5 63.15%,#e0d8b6 63.36%,#e8e0bd 63.57%,#eee7c8 63.78%,#e5ddba 63.99%,#e6dfbc 64.20%,#ece4c0 64.41%,#e5debf 64.63%,#f0ead1 64.84%,#eae4cc 65.05%,#e5e0cd 65.26%,#f5f1e4 65.47%,#f5f1e6 65.68%,#f6f2e8 65.89%,#ebe8dc 66.10%,#efebdf 66.31%,#f3efe3 66.53%,#f7f4eb 66.74%,#f3efe3 66.95%,#f5f1e5 67.16%,#f4f0e5 67.37%,#efebdf 67.58%,#f4f0e4 67.79%,#f4f1e5 68.00%,#e2ded3 68.22%,#f6f3e9 68.43%,#f5f1e5 68.64%,#f5f1e6 68.85%,#f6f2e8 69.06%,#f1ede2 69.27%,#f7f4ec 69.48%,#f8f5ed 69.69%,#f5f1e6 69.90%,#f7f4eb 70.12%,#f7f4eb 70.33%,#f4f0e4 70.54%,#f5f2e7 70.75%,#f5f1e6 70.96%,#e6e2d7 71.17%,#efebdf 71.38%,#f4f0e5 71.59%,#f0ece1 71.81%,#f5f1e6 72.02%,#ede9dd 72.23%,#f2eee2 72.44%,#efebdf 72.65%,#f5f1e6 72.86%,#f5f1e6 73.07%,#f3efe3 73.28%,#f5f1e6 73.50%,#f6f3ea 73.71%,#f2eee4 73.92%,#f6f3eb 74.13%,#f7f4ed 74.34%,#f1eee7 74.55%,#ece9e4 74.76%,#eae7e3 74.97%,#f5f3f0 75.18%,#f5f3f1 75.40%,#f9f8f6 75.61%,#f4f2f0 75.82%,#f6f4f2 76.03%,#f6f4f2 76.24%,#f2f0ee 76.45%,#f8f6f4 76.66%,#f9f7f6 76.87%,#e8e7e5 77.09%,#f9f7f6 77.30%,#f2f0ee 77.51%,#f4f2f0 77.72%,#eeecea 77.93%,#f9f7f5 78.14%,#f9f7f5 78.35%,#f9f7f5 78.56%,#f8f6f4 78.78%,#e2e0de 78.99%,#f3f1ef 79.20%,#f3f1ef 79.41%,#f7f5f3 79.62%,#f9f7f5 79.83%,#f5f3f1 80.04%,#f8f6f4 80.25%,#f8f6f5 80.46%,#f9f7f5 80.68%,#f9f7f5 80.89%,#f9f7f5 81.10%,#f6f4f2 81.31%,#f1efed 81.52%,#f9f7f6 81.73%,#f9f7f5 81.94%,#faf8f7 82.15%,#f3f2f0 82.37%,#f3f1ef 82.58%,#eeecea 82.79%,#f9f7f5 83.00%,#f8f6f4 83.21%,#faf9f8 83.42%,#f6f4f2 83.63%,#f8f7f5 83.84%,#f8f7f5 84.05%,#f8f6f4 84.27%,#f8f6f4 84.48%,#f7f5f3 84.69%,#f2f0ee 84.90%,#f8f6f4 85.11%,#f0efed 85.32%,#faf8f7 85.53%,#f9f7f6 85.74%,#faf8f6 85.96%,#edebe9 86.17%,#f8f6f4 86.38%,#f8f6f4 86.59%,#f8f6f4 86.80%,#f0eeec 87.01%,#f6f4f2 87.22%,#f8f7f5 87.43%,#f9f7f5 87.65%,#f2f0ee 87.86%,#edebe9 88.07%,#f8f6f4 88.28%,#f5f3f1 88.49%,#f3f1ef 88.70%,#f5f3f1 88.91%,#f8f7f5 89.12%,#f1efed 89.33%,#f9f7f5 89.55%,#f9f7f6 89.76%,#f9f7f5 89.97%,#faf8f7 90.18%,#f8f6f4 90.39%,#f5f3f1 90.60%,#f4f2f0 90.81%,#f2f0ee 91.02%,#f8f6f4 91.24%,#f6f4f2 91.45%,#f8f6f5 91.66%,#f9f7f5 91.87%,#f9f8f6 92.08%,#f8f7f5 92.29%,#f8f6f4 92.50%,#f9f8f6 92.71%,#f9f7f5 92.93%,#f5f3f1 93.14%,#f5f3f1 93.35%,#f5f3f1 93.56%,#f8f6f4 93.77%,#f8f6f4 93.98%,#edebe9 94.19%,#f8f6f4 94.40%,#f5f3f1 94.61%,#f8f6f5 94.83%,#efedeb 95.04%,#ebeae8 95.25%,#f9f7f5 95.46%,#faf8f7 95.67%,#faf9f8 95.88%,#f8f6f4 96.09%,#f7f5f3 96.30%,#f3f1ef 96.52%,#eeecea 96.73%,#f9f7f6 96.94%,#faf8f7 97.15%,#f8f6f4 97.36%,#edebe9 97.57%,#f8f7f5 97.78%,#f7f5f3 97.99%,#f9f7f5 98.20%,#edecea 98.42%,#ebe9e7 98.63%,#eceae9 98.84%,#f8f6f4 99.05%,#eceae8 99.26%,#eae8e6 99.47%,#f1efed 99.68%,#f6f4f2 99.89%)"></div><div style="left:781.8px;top:933.0px;width:568.2px;height:47.0px;background:linear-gradient(90deg,#f7f7f7 0.00%,#fafafa 0.21%,#f9f9f9 0.42%,#f8f8f8 0.63%,#fafafa 0.84%,#f7f7f7 1.06%,#fafafa 1.27%,#fbfbfb 1.48%,#fbfbfb 1.69%,#fbfbfb 1.90%,#f5f5f5 2.11%,#fbfbfb 2.32%,#fafafa 2.53%,#fafafa 2.75%,#fbfbfb 2.96%,#f7f7f7 3.17%,#f5c595 3.38%,#f4b06b 3.59%,#f5b371 3.80%,#e5892e 4.01%,#e7ab64 4.22%,#fdefcb 4.44%,#f5e6bb 4.65%,#f4e5ba 4.86%,#f6e7bc 5.07%,#f5e6bb 5.28%,#f1e2b8 5.49%,#fcedc3 5.70%,#faeabe 5.91%,#ebddb3 6.12%,#f4e5ba 6.34%,#fcecc1 6.55%,#fcefc9 6.76%,#f5e5bb 6.97%,#fcecc0 7.18%,#f8e8bd 7.39%,#f6e6bb 7.60%,#fcedc2 7.81%,#faeabe 8.03%,#f8e9bf 8.24%,#f4e8c1 8.45%,#f5ecc7 8.66%,#fcf4d0 8.87%,#f6eecb 9.08%,#fcf4d2 9.29%,#fcf4d0 9.50%,#fcf4d0 9.71%,#fcf3ce 9.93%,#fcf4d1 10.14%,#fcf4cf 10.35%,#fcf4cf 10.56%,#fdf6d8 10.77%,#fdf6db 10.98%,#fdf7dd 11.19%,#fcf3cd 11.40%,#f8efc9 11.62%,#f9f1ca 11.83%,#fbf2cb 12.04%,#f8efc8 12.25%,#f8efc8 12.46%,#fdf5d5 12.67%,#f6edc6 12.88%,#fcf4d1 13.09%,#faf1c9 13.31%,#fcf3cd 13.52%,#fcf4d0 13.73%,#fbf1c8 13.94%,#fbf1c8 14.15%,#f9efc6 14.36%,#f8eec5 14.57%,#fdf5d3 14.78%,#fcf2c8 14.99%,#fdf5d4 15.21%,#f8eec4 15.42%,#f8eec4 15.63%,#f5ebc1 15.84%,#faefc5 16.05%,#efe5bc 16.26%,#faefc4 16.47%,#f5eac0 16.68%,#faefc4 16.90%,#fcf2c8 17.11%,#fcf3cd 17.32%,#fdf6d8 17.53%,#fdf6d9 17.74%,#fcf2c9 17.95%,#f8edc0 18.16%,#fcf2c8 18.37%,#f8edc0 18.59%,#fcf2c9 18.80%,#fbefc1 19.01%,#f2e7bb 19.22%,#fcf2c7 19.43%,#f5eabc 19.64%,#fcf0c1 19.85%,#f7ecbd 20.06%,#f9edbe 20.27%,#f8ecbe 20.49%,#fcf0c1 20.70%,#fbefbf 20.91%,#fcf3cb 21.12%,#fcf1c5 21.33%,#f9eebf 21.54%,#fbefc0 21.75%,#fcf2c8 21.96%,#faeec0 22.18%,#fcf2ca 22.39%,#fcf3cb 22.60%,#fcf1c3 22.81%,#fdf5d4 23.02%,#fcf2c8 23.23%,#fdf5d3 23.44%,#f7ecbf 23.65%,#f4e9bd 23.86%,#faefc2 24.08%,#fcf2c9 24.29%,#fcf3cc 24.50%,#fcf2c9 24.71%,#fcf2ca 24.92%,#fcf1c6 25.13%,#f6ebbf 25.34%,#fcf2c7 25.55%,#fcf1c5 25.77%,#fdf4cf 25.98%,#fcf3ca 26.19%,#fcf1c5 26.40%,#fcf2c8 26.61%,#fdf6db 26.82%,#faefc4 27.03%,#fcf1c6 27.24%,#f6ecc1 27.46%,#fcf2c7 27.67%,#fcf3cd 27.88%,#f8eec4 28.09%,#fbf1c6 28.30%,#fcf2c9 28.51%,#f8eec4 28.72%,#fdf4d1 28.93%,#fbf1c6 29.14%,#fdf4d2 29.36%,#f5ebc3 29.57%,#f3e9c1 29.78%,#f8eec5 29.99%,#fcf3cd 30.20%,#fbf1c8 30.41%,#f9f0c7 30.62%,#f4eac2 30.83%,#fbf1c8 31.05%,#fcf4cf 31.26%,#fcf4d1 31.47%,#faf0c8 31.68%,#f9f0c8 31.89%,#fbf2ca 32.10%,#fdf6d9 32.31%,#fdf5d5 32.52%,#fcf4d0 32.73%,#f8efc8 32.95%,#fcf4ce 33.16%,#fcf3ce 33.37%,#fcf3cc 33.58%,#eae2be 33.79%,#fdf6d7 34.00%,#f6eec8 34.21%,#fbf2cc 34.42%,#f9f0ca 34.64%,#fcf3ce 34.85%,#f6eec8 35.06%,#f6edc8 35.27%,#f2eac5 35.48%,#fcf4cf 35.69%,#f6edc9 35.90%,#f4ecc8 36.11%,#f4ebc7 36.33%,#fcf5d4 36.54%,#fcf5d3 36.75%,#f4ecc8 36.96%,#f8efcb 37.17%,#fcf3cf 37.38%,#f5edc9 37.59%,#fcf6d6 37.80%,#fcf5d3 38.01%,#fdf7dd 38.23%,#f4edca 38.44%,#fbf3d0 38.65%,#fdf6db 38.86%,#fcf4d2 39.07%,#fcf4d0 39.28%,#fdf7dd 39.49%,#fdf7df 39.70%,#fcf4d1 39.92%,#faf2d0 40.13%,#fcf5d5 40.34%,#f7efcd 40.55%,#f8f0ce 40.76%,#fcf4d3 40.97%,#fcf4d3 41.18%,#fcf6d9 41.39%,#fdf6da 41.61%,#fcf4d3 41.82%,#faf2d1 42.03%,#f8f0cf 42.24%,#f0e8c8 42.45%,#fcf4d3 42.66%,#fdf7de 42.87%,#fbf3d2 43.08%,#f9f1d0 43.29%,#fdf7e0 43.51%,#fdf6dc 43.72%,#fcf5d9 43.93%,#f8f0d0 44.14%,#f4eccd 44.35%,#fcf6db 44.56%,#fdf6dc 44.77%,#fcf4d4 44.98%,#fcf4d6 45.20%,#fcf4d6 45.41%,#fbf3d4 45.62%,#f8f0d1 45.83%,#faf2d3 46.04%,#f9f1d2 46.25%,#f3ecce 46.46%,#f3ebce 46.67%,#fcf5d8 46.88%,#fcf5d9 47.10%,#f8f0d2 47.31%,#f9f2d3 47.52%,#fdf6de 47.73%,#fcf5d8 47.94%,#fcf5d9 48.15%,#fdf6df 48.36%,#f9f1d4 48.57%,#fdf6df 48.79%,#f5eed1 49.00%,#fcf4d7 49.21%,#f4edd0 49.42%,#fcf4d8 49.63%,#f2eace 49.84%,#f5edd1 50.05%,#fcf6dd 50.26%,#fcf4d9 50.48%,#fcf5dc 50.69%,#fdf7e2 50.90%,#fdf6df 51.11%,#faf2d6 51.32%,#fcf5da 51.53%,#fcf5db 51.74%,#fcf5da 51.95%,#fcf5dc 52.16%,#fcf5dd 52.38%,#fcf5dc 52.59%,#fcf6e0 52.80%,#fdf7e5 53.01%,#fcf5dd 53.22%,#fdf7e5 53.43%,#fcf5df 53.64%,#f9f2db 53.85%,#f8f1db 54.07%,#fcf6e2 54.28%,#fcf6e3 54.49%,#fdf9ea 54.70%,#fcf6e3 54.91%,#fcf5e1 55.12%,#f5efdb 55.33%,#f7f0dd 55.54%,#fbf5e2 55.76%,#fcf7e7 55.97%,#faf4e2 56.18%,#fcf7e8 56.39%,#fbf6e4 56.60%,#fcf6e6 56.81%,#fdf8eb 57.02%,#fcf8ea 57.23%,#fcf7e7 57.44%,#fdf9ee 57.66%,#fbf6e7 57.87%,#fcf8ec 58.08%,#f7f2e5 58.29%,#fcf8ed 58.50%,#fcf7eb 58.71%,#f7f2e6 58.92%,#f5f0e5 59.13%,#fcf8ed 59.35%,#f9f4e9 59.56%,#f4f0e6 59.77%,#f3eee5 59.98%,#fcf9f1 60.19%,#fdfaf3 60.40%,#fdfaf3 60.61%,#fdfaf4 60.82%,#fcf9ee 61.03%,#faf4e0 61.25%,#f5eed2 61.46%,#fcf4d1 61.67%,#faf2cf 61.88%,#f9f1ce 62.09%,#f8f0cd 62.30%,#fcf4d0 62.51%,#fdf7dd 62.72%,#fdf6d9 62.94%,#fefae9 63.15%,#fdf8df 63.36%,#fcf5d3 63.57%,#fcf5d5 63.78%,#fdf7dd 63.99%,#fdf8e2 64.20%,#f8f0cd 64.41%,#fcf4d1 64.63%,#f3ebc9 64.84%,#fcf5d4 65.05%,#fcf5d6 65.26%,#fdf7dd 65.47%,#fdf7dc 65.68%,#f7efcc 65.89%,#faf2ce 66.10%,#fcf5d5 66.31%,#fcf4d0 66.53%,#fcf4d2 66.74%,#f9f1ce 66.95%,#f6eecb 67.16%,#fcf4d0 67.37%,#fdf7de 67.58%,#fdf8e5 67.79%,#fdf9ec 68.00%,#fcf8ee 68.22%,#faf6ee 68.43%,#f9f5ed 68.64%,#fdf9f3 68.85%,#fcf8f0 69.06%,#fbf7ef 69.27%,#f7f3eb 69.48%,#faf6ee 69.69%,#fcf9f2 69.90%,#f7f3ec 70.12%,#f8f4ec 70.33%,#fcf8f0 70.54%,#fdfaf4 70.75%,#fcf8f0 70.96%,#fdfbf6 71.17%,#fbf7ef 71.38%,#f7f3eb 71.59%,#f9f5ed 71.81%,#f1ede5 72.02%,#f9f5ed 72.23%,#fcf8f1 72.44%,#fcf8f1 72.65%,#fcf9f1 72.86%,#fcf9f2 73.07%,#fcf8f0 73.28%,#f7f3eb 73.50%,#f5f1ea 73.71%,#f6f2ea 73.92%,#f6f2ea 74.13%,#fcf9f2 74.34%,#fcf9f2 74.55%,#f7f3eb 74.76%,#faf6ee 74.97%,#f6f2ea 75.18%,#fcf8f1 75.40%,#fdf9f3 75.61%,#fcf9f1 75.82%,#fcf9f2 76.03%,#fcf8f0 76.24%,#fbf7ef 76.45%,#fdf9f3 76.66%,#fcf9f1 76.87%,#fdfaf5 77.09%,#fdfaf4 77.30%,#f6f2ea 77.51%,#f5f1e9 77.72%,#f3efe8 77.93%,#f8f4ec 78.14%,#f7f3ec 78.35%,#fcf8f0 78.56%,#f3efe7 78.78%,#fcf8f0 78.99%,#f8f4ec 79.20%,#fcf9f1 79.41%,#f8f4ec 79.62%,#fcf9f2 79.83%,#fdfaf5 80.04%,#fcf9f1 80.25%,#fcf8f0 80.46%,#f5f1e9 80.68%,#faf6ee 80.89%,#f8f4ec 81.10%,#fdfaf4 81.31%,#fcf8f0 81.52%,#fcf8f0 81.73%,#fcf8f0 81.94%,#fcf9f2 82.15%,#f9f5ed 82.37%,#fcf8f0 82.58%,#f9f5ed 82.79%,#fdfaf5 83.00%,#fcf9f2 83.21%,#faf6ee 83.42%,#fbf7ef 83.63%,#f4f0e9 83.84%,#f9f5ed 84.05%,#fcf8f1 84.27%,#fcf8f1 84.48%,#fcf9f1 84.69%,#fcf9f1 84.90%,#faf6ee 85.11%,#fdfaf3 85.32%,#f5f1ea 85.53%,#f9f5ed 85.74%,#f7f3ec 85.96%,#fcf8f1 86.17%,#fbf7ef 86.38%,#fcf8f0 86.59%,#fcf8f1 86.80%,#fdfaf5 87.01%,#fdfaf4 87.22%,#fcf8f1 87.43%,#f7f3ec 87.65%,#faf6ee 87.86%,#fcf8f1 88.07%,#f6f2ea 88.28%,#fcf8f0 88.49%,#f8f4ec 88.70%,#fcf8f0 88.91%,#fdfaf3 89.12%,#fcf9f2 89.33%,#fcf8f0 89.55%,#fcf8f0 89.76%,#fcf8f0 89.97%,#fcf9f2 90.18%,#faf6ee 90.39%,#fcf8f0 90.60%,#fdf9f3 90.81%,#fcf9f1 91.02%,#fcf8f0 91.24%,#fcf9f2 91.45%,#fcf8f1 91.66%,#fcf8f1 91.87%,#fdfaf3 92.08%,#faf6ee 92.29%,#fdfaf4 92.50%,#f8f4ec 92.71%,#fcf8f0 92.93%,#fcf8f1 93.14%,#fcf9f2 93.35%,#fdfaf4 93.56%,#fcf8f1 93.77%,#fdf9f3 93.98%,#f7f3ec 94.19%,#fcf8f0 94.40%,#f8f4ec 94.61%,#f0ede7 94.83%,#f8f6f3 95.04%,#f9f7f5 95.25%,#f8f6f4 95.46%,#f7f5f3 95.67%,#f8f6f4 95.88%,#f7f5f3 96.09%,#f5f3f1 96.30%,#eeecea 96.52%,#f7f5f3 96.73%,#ebeae8 96.94%,#f0eeec 97.15%,#f7f5f3 97.36%,#f8f7f5 97.57%,#f4f2f0 97.78%,#ebe9e8 97.99%,#f4f2f0 98.20%,#f3f1ef 98.42%,#f9f7f6 98.63%,#fbf9f8 98.84%,#faf8f6 99.05%,#f6f4f2 99.26%,#f7f5f3 99.47%,#f8f6f4 99.68%,#f0eeec 99.89%)"></div><div style="left:781.8px;top:980.0px;width:568.2px;height:45.0px;background:linear-gradient(90deg,#efedf7 0.00%,#faf5f9 0.21%,#f1f1f3 0.42%,#f5f6f8 0.63%,#f6f0f5 0.84%,#f2f8f4 1.06%,#f5f5f8 1.27%,#f6f7f9 1.48%,#f1f1f3 1.69%,#f6f8f8 1.90%,#f7f8fa 2.11%,#f7f9fa 2.32%,#fafafc 2.53%,#f5f5f8 2.75%,#faf6ed 2.96%,#f3f2f1 3.17%,#ebe9f3 3.38%,#ece9f6 3.59%,#ecf5f0 3.80%,#f5f7f8 4.01%,#f3f3f6 4.22%,#eeeef2 4.44%,#f3eef4 4.65%,#ecf3f0 4.86%,#f7eef5 5.07%,#ececf0 5.28%,#f2f2f5 5.49%,#efeef6 5.70%,#eeeef2 5.91%,#f9eff6 6.12%,#edf1f1 6.34%,#f0eff6 6.55%,#f5f5f8 6.76%,#f0f0f3 6.97%,#eeebf8 7.18%,#eeedee 7.39%,#e6eef0 7.60%,#ededf1 7.81%,#f0f0f4 8.03%,#f4f4f7 8.24%,#f3eaf2 8.45%,#f1f8f4 8.66%,#f8eff5 8.87%,#f5f3f6 9.08%,#faf7fa 9.29%,#edf3ee 9.50%,#f8f3f6 9.71%,#fbf2f7 9.93%,#fcebf5 10.14%,#fdf6f7 10.35%,#f1f9f3 10.56%,#fdf5f4 10.77%,#fbf3f7 10.98%,#f0f5f7 11.19%,#fbf3f7 11.40%,#f9eff5 11.62%,#fbf8fa 11.83%,#edf6f7 12.04%,#f2f6f2 12.25%,#f1f7f2 12.46%,#faf3f7 12.67%,#faf6f9 12.88%,#fdf6f0 13.09%,#f9f5f8 13.31%,#fbf8fa 13.52%,#faf7f9 13.73%,#f0f3f5 13.94%,#faf3ee 14.15%,#f6eff8 14.36%,#f9f4f7 14.57%,#f2f4f6 14.78%,#f4f6f8 14.99%,#f1f8f2 15.21%,#eff5ef 15.42%,#fbf6f9 15.63%,#fbeaf4 15.84%,#eef6f8 16.05%,#edf1f3 16.26%,#f7f0f9 16.47%,#f4f1f2 16.68%,#fbedf5 16.90%,#fcf5f8 17.11%,#f7f4f4 17.32%,#f9edf3 17.53%,#fdf3f8 17.74%,#f1f6f1 17.95%,#eef6f7 18.16%,#f4f7f9 18.37%,#f4edf7 18.59%,#f8f6f9 18.80%,#f4f3f6 19.01%,#f8f2f5 19.22%,#eff5f0 19.43%,#f2f5f8 19.64%,#f3eff3 19.85%,#f0f4f6 20.06%,#fbf5f9 20.27%,#faf3f6 20.49%,#f4f2f5 20.70%,#f5eff2 20.91%,#f8f4f7 21.12%,#fef8f0 21.33%,#fbf7fa 21.54%,#fdf6ef 21.75%,#fbecf4 21.96%,#f5f0fa 22.18%,#f9f4fa 22.39%,#f6f2f5 22.60%,#f9f3f9 22.81%,#fcebf4 23.02%,#f8f7f9 23.23%,#f5f8f4 23.44%,#fcebf5 23.65%,#f4f8f9 23.86%,#faf7f9 24.08%,#fbf8fa 24.29%,#fceef6 24.50%,#eef6f7 24.71%,#f6f3f6 24.92%,#f5f2f5 25.13%,#f9f3f9 25.34%,#fdf8f7 25.55%,#f3eef0 25.77%,#fcf5f7 25.98%,#f1f9f3 26.19%,#f0f6f7 26.40%,#f5f1f4 26.61%,#fcf7fa 26.82%,#fdf8fb 27.03%,#f4f5f7 27.24%,#f7f7f6 27.46%,#f0f6f1 27.67%,#f8f4f7 27.88%,#fbf8fb 28.09%,#fdf7f5 28.30%,#fcf6f9 28.51%,#f5f1f4 28.72%,#f5f5f8 28.93%,#faf5f8 29.14%,#f9f3f6 29.36%,#fcf3f7 29.57%,#f1f5f7 29.78%,#edf3f4 29.99%,#f8f7f9 30.20%,#f9f5f8 30.41%,#f6f6f5 30.62%,#fbf4f2 30.83%,#f6f1f4 31.05%,#f2f3f1 31.26%,#fceff6 31.47%,#fbf4ef 31.68%,#faf5f8 31.89%,#eef6f8 32.10%,#f3f4f2 32.31%,#fbf8fb 32.52%,#f7eff3 32.73%,#fceff6 32.95%,#f7f1f5 33.16%,#f5f7f4 33.37%,#fdf7f2 33.58%,#efefee 33.79%,#f9f4f7 34.00%,#fcf9fb 34.21%,#f3f7f8 34.42%,#f2ecf9 34.64%,#fcf6f2 34.85%,#f5f6f8 35.06%,#fdf8f2 35.27%,#f9f5f8 35.48%,#fcf1f7 35.69%,#f6f2f5 35.90%,#f3f0f3 36.11%,#f6f6f8 36.33%,#fcf7f5 36.54%,#fcf9fb 36.75%,#fcf5f8 36.96%,#fdf7f1 37.17%,#fdf8fa 37.38%,#f5f6f4 37.59%,#f5f2f5 37.80%,#fbf7fa 38.01%,#fcf6f7 38.23%,#faeef5 38.44%,#f8f7f9 38.65%,#fbf8fb 38.86%,#f3edf6 39.07%,#f5f7f4 39.28%,#f5f5f7 39.49%,#fbf6f8 39.70%,#f1f6f8 39.92%,#f2f0f4 40.13%,#f7f5f5 40.34%,#fcf7f9 40.55%,#f6f5f4 40.76%,#eef6f7 40.97%,#f2f6f7 41.18%,#fdf9fb 41.39%,#f8f6f6 41.61%,#eef5f6 41.82%,#fbf9fb 42.03%,#f9f8f9 42.24%,#fbf8fa 42.45%,#fbf9fb 42.66%,#faf8f8 42.87%,#f2f8f3 43.08%,#fbf7fa 43.29%,#f4f6f4 43.51%,#f8f6f8 43.72%,#f9f4f7 43.93%,#f8f5f7 44.14%,#faf7f9 44.35%,#f3f6f7 44.56%,#f9f3ed 44.77%,#f8f2f7 44.98%,#fbf7f9 45.20%,#f3f3f1 45.41%,#faf7fa 45.62%,#f9ebf3 45.83%,#f9f3f6 46.04%,#fdf7ef 46.25%,#f3f2f4 46.46%,#fbf8fa 46.67%,#fcf0f6 46.88%,#fcf6f9 47.10%,#f7f6f5 47.31%,#f3eef4 47.52%,#fbf3f7 47.73%,#f9f3f6 47.94%,#fbf7f9 48.15%,#f2f7f3 48.36%,#fdf7f0 48.57%,#f2eff2 48.79%,#fbf1f6 49.00%,#f3f2f1 49.21%,#f8f4f7 49.42%,#f5f1f4 49.63%,#f7f4f6 49.84%,#f5ebf0 50.05%,#f8f6f8 50.26%,#f4eff5 50.48%,#f2eff2 50.69%,#fcf8fa 50.90%,#f6f4f6 51.11%,#ebf4f5 51.32%,#edf6f7 51.53%,#fcfafb 51.74%,#fcf7f9 51.95%,#fdfbfc 52.16%,#fdf8f3 52.38%,#fbf4f7 52.59%,#f2ecf9 52.80%,#f9f3ec 53.01%,#f5edf1 53.22%,#f6f2f4 53.43%,#fbf9fb 53.64%,#faf7f7 53.85%,#f7f2f9 54.07%,#faf6f8 54.28%,#f8f3f8 54.49%,#f4eef8 54.70%,#fcf0f7 54.91%,#faeff5 55.12%,#fbf7f9 55.33%,#f5f8f4 55.54%,#f8f3f7 55.76%,#f6f1f3 55.97%,#f3f2f1 56.18%,#f6f3f5 56.39%,#f8f8f7 56.60%,#f7f2f9 56.81%,#fbf8f9 57.02%,#f5f1f4 57.23%,#f8f3f7 57.44%,#fbf9fb 57.66%,#f7f4f7 57.87%,#f8f6f8 58.08%,#fcf4f8 58.29%,#f8ecf3 58.50%,#f1f4f5 58.71%,#f8f5f6 58.92%,#f8f3f8 59.13%,#faf5f5 59.35%,#f9f1f5 59.56%,#fbf8fa 59.77%,#f4eff7 59.98%,#fbf8fa 60.19%,#f6f6f8 60.40%,#edf7f8 60.61%,#fcf9f7 60.82%,#f0ebf9 61.03%,#fcfafb 61.25%,#edf5f6 61.46%,#fbf5f0 61.67%,#f9ecf3 61.88%,#f2f1f2 62.09%,#fbf9fa 62.30%,#eef3f4 62.51%,#fdf9f4 62.72%,#f3f2f4 62.94%,#f1f6f7 63.15%,#f9f4f4 63.36%,#fcf8f7 63.57%,#f9f7f8 63.78%,#fbf7f6 63.99%,#faf6f8 64.20%,#fcf3f8 64.41%,#f1eef0 64.63%,#f4eff9 64.84%,#f2eff2 65.05%,#fbf4f7 65.26%,#fcf9fa 65.47%,#fcf9f8 65.68%,#f2f6f7 65.89%,#f2eff2 66.10%,#f0f4f5 66.31%,#fbf7f9 66.53%,#fbfafb 66.74%,#fbfafb 66.95%,#f8f8f9 67.16%,#fcf3f7 67.37%,#fbf9fa 67.58%,#faf8f9 67.79%,#edf6f7 68.00%,#f3eff9 68.22%,#f0eff2 68.43%,#fcf7ed 68.64%,#eff5f5 68.85%,#faf1f6 69.06%,#fef9f0 69.27%,#f6f5f6 69.48%,#fbf8f9 69.69%,#fbf8f9 69.90%,#faf1f6 70.12%,#f3f1f4 70.33%,#f1eff1 70.54%,#f6eff2 70.75%,#fbf8f9 70.96%,#f0eef1 71.17%,#f7f4f6 71.38%,#faf7f8 71.59%,#f6f5f6 71.81%,#edf6f7 72.02%,#f3f0f1 72.23%,#f8f4f7 72.44%,#f4f0f6 72.65%,#eff6f0 72.86%,#f2eef4 73.07%,#f5eff1 73.28%,#f0f8f9 73.50%,#f8f5f7 73.71%,#f8f8f9 73.92%,#fcfbfb 74.13%,#fdf9f2 74.34%,#efeaf3 74.55%,#f0f6f7 74.76%,#fbf5f8 74.97%,#f2f0f3 75.18%,#f8f6f7 75.40%,#f5f3f5 75.61%,#edf6f6 75.82%,#fcf8f3 76.03%,#faf5f7 76.24%,#f6f8f6 76.45%,#f8f8f6 76.66%,#fbf8fa 76.87%,#faf7fa 77.09%,#f2f7f2 77.30%,#f3f2f1 77.51%,#f3eff4 77.72%,#f3f1f4 77.93%,#f0f3f4 78.14%,#faecf4 78.35%,#f6f2f9 78.56%,#fdf9f2 78.78%,#eee9f4 78.99%,#fbf9fa 79.20%,#faf8f9 79.41%,#f5f7f8 79.62%,#f5f2f3 79.83%,#f8eef3 80.04%,#f1f8f2 80.25%,#eeecee 80.46%,#f3f8f3 80.68%,#f9f7f8 80.89%,#fbf3f6 81.10%,#ebf4f5 81.31%,#fbeff6 81.52%,#f4f0fa 81.73%,#f3f8f8 81.94%,#f4f0fa 82.15%,#fbf8fa 82.37%,#fdf9f5 82.58%,#f5f9f5 82.79%,#fcfaf9 83.00%,#f3f1f3 83.21%,#f1f5f5 83.42%,#fdf8f0 83.63%,#f8f5f6 83.84%,#f7eef2 84.05%,#faf8f9 84.27%,#f6f6f4 84.48%,#fdf9f3 84.69%,#fbfafb 84.90%,#f7f9f6 85.11%,#f8f5fa 85.32%,#f5f9f9 85.53%,#f7f5f7 85.74%,#f9f7f9 85.96%,#fbf9fa 86.17%,#fbfafa 86.38%,#f3f2f4 86.59%,#f6f9fa 86.80%,#f8f6fb 87.01%,#fdf9f2 87.22%,#f1f5f6 87.43%,#faf9fa 87.65%,#fcfafb 87.86%,#fdf8ef 88.07%,#faf9f9 88.28%,#f4f5f6 88.49%,#f8f0f4 88.70%,#f6f4f5 88.91%,#f8f4f5 89.12%,#f9f7f8 89.33%,#fcf1f7 89.55%,#f9f6f3 89.76%,#fcf9f9 89.97%,#f7f4fa 90.18%,#fbedf4 90.39%,#fbf0f6 90.60%,#fcfbfb 90.81%,#f6f9f6 91.02%,#faf8fa 91.24%,#faf7f8 91.45%,#f9f5f6 91.66%,#ecf3f3 91.87%,#f2f8f8 92.08%,#f8f6f9 92.29%,#f3f1ef 92.50%,#f0ecf7 92.71%,#eeeced 92.93%,#f9f4f6 93.14%,#f7f4f0 93.35%,#f3f2f4 93.56%,#f1eff2 93.77%,#fcf9f3 93.98%,#f5f4f6 94.19%,#f3f2f1 94.40%,#fcf8f0 94.61%,#ecf7f7 94.83%,#f5f6f4 95.04%,#f7f5f5 95.25%,#fbf9fa 95.46%,#f6fafa 95.67%,#faf7f8 95.88%,#f7f6f8 96.09%,#fbf1f6 96.30%,#edf4f4 96.52%,#f0f7f7 96.73%,#f6f5f4 96.94%,#f2eef9 97.15%,#fcfbfc 97.36%,#fbf4f7 97.57%,#f6f4f5 97.78%,#f2eef6 97.99%,#fcf9f5 98.20%,#f8f7f9 98.42%,#fbf1f6 98.63%,#fbf1f6 98.84%,#fcf9f5 99.05%,#f4f3f5 99.26%,#f1edf7 99.47%,#f9edf4 99.68%,#f2f8f2 99.89%)"></div><div style="left:781.0px;top:1151.0px;width:205.0px;height:45.0px;background:linear-gradient(90deg,#ffffff 0.00%,#ffffff 0.59%,#ffffff 1.17%,#ffffff 1.76%,#ffffff 2.34%,#ffffff 2.93%,#ffffff 3.51%,#ffffff 4.10%,#ffffff 4.68%,#ffffff 5.27%,#ffffff 5.85%,#ffffff 6.44%,#ffffff 7.02%,#ffffff 7.61%,#ffffff 8.20%,#ffffff 8.78%,#ffffff 9.37%,#ffffff 9.95%,#ffffff 10.54%,#ffffff 11.12%,#e8a62d 11.71%,#edb037 12.29%,#facc67 12.88%,#e1b242 13.46%,#f5c24a 14.05%,#fcdc94 14.63%,#facc61 15.22%,#facb5c 15.80%,#f1c152 16.39%,#fcda8d 16.98%,#f5c558 17.56%,#facb5c 18.15%,#ebbf59 18.73%,#fbd06d 19.32%,#fbcd63 19.90%,#e6bc5a 20.49%,#facd62 21.07%,#fbd373 21.66%,#fbd06a 22.24%,#efc45f 22.83%,#f8cc64 23.41%,#fcdc90 24.00%,#fcd780 24.59%,#ecc361 25.17%,#fbd372 25.76%,#e9c161 26.34%,#fcd77d 26.93%,#fcdd91 27.51%,#fde6b0 28.10%,#fbd371 28.68%,#fcd475 29.27%,#fcd374 29.85%,#f5cd6e 30.44%,#fcd375 31.02%,#fcd67f 31.61%,#f9d174 32.20%,#fbd376 32.78%,#fcd67d 33.37%,#f5cf76 33.95%,#efca74 34.54%,#f4cf79 35.12%,#fde09c 35.71%,#fde4aa 36.29%,#fde8b8 36.88%,#f0ce7e 37.46%,#f1d081 38.05%,#fcdf99 38.63%,#fcdd94 39.22%,#f3d387 39.80%,#fcdf9a 40.39%,#fcdf99 40.98%,#f5d68e 41.56%,#fde4aa 42.15%,#fce19f 42.73%,#fde2a1 43.32%,#fde7b2 43.90%,#fde09c 44.49%,#fde8b5 45.07%,#f8dd9c 45.66%,#fde4a9 46.24%,#f8dea0 46.83%,#fde4a8 47.41%,#f6dea3 48.00%,#f8e0a5 48.59%,#fde8b5 49.17%,#f7e0a8 49.76%,#fde5ae 50.34%,#f4dea9 50.93%,#ead4a3 51.51%,#fde9b9 52.10%,#fdebc1 52.68%,#f6e0af 53.27%,#f2ddae 53.85%,#fde9bc 54.44%,#fbe7b7 55.02%,#fdecc4 55.61%,#f7e3b7 56.20%,#fae6ba 56.78%,#fae7bc 57.37%,#fbe8be 57.95%,#fef0d3 58.54%,#fce9c1 59.12%,#f7e5be 59.71%,#f8e6bf 60.29%,#f9e7c1 60.88%,#fdecc8 61.46%,#fdedcb 62.05%,#f8e8c4 62.63%,#fdecc9 63.22%,#f7e7c4 63.80%,#fdeecf 64.39%,#fdeece 64.98%,#fdefd3 65.56%,#fdeed0 66.15%,#fdefd1 66.73%,#fdf0d4 67.32%,#f9eacc 67.90%,#f9eacf 68.49%,#faedd6 69.07%,#faeedd 69.66%,#fdf3e6 70.24%,#f6ece0 70.83%,#fcf2e5 71.41%,#fcf2e5 72.00%,#f8efe2 72.59%,#fcf2e5 73.17%,#fcf2e6 73.76%,#faf0e3 74.34%,#fbf1e4 74.93%,#fcf2e6 75.51%,#fdf3e6 76.10%,#fdf3e6 76.68%,#fdf4e8 77.27%,#fcf2e6 77.85%,#faf0e4 78.44%,#fdf3e7 79.02%,#fdf5ea 79.61%,#fdf4e8 80.20%,#fdf3e6 80.78%,#fdf4e8 81.37%,#fdf3e7 81.95%,#fcf2e6 82.54%,#fbf1e5 83.12%,#fbf1e5 83.71%,#f7ede2 84.29%,#fcf2e6 84.88%,#fbf1e5 85.46%,#fcf2e6 86.05%,#faf0e4 86.63%,#faf0e4 87.22%,#f9efe4 87.80%,#faf0e5 88.39%,#fbf1e6 88.98%,#fbf2e6 89.56%,#f9efe4 90.15%,#faf0e5 90.73%,#fcf2e7 91.32%,#fdf3e7 91.90%,#fdf3e8 92.49%,#f9efe4 93.07%,#fcf2e7 93.66%,#fbf1e6 94.24%,#f9efe4 94.83%,#fdf3e8 95.41%,#fdf4ea 96.00%,#fbf1e6 96.59%,#fbf1e6 97.17%,#fdf3e9 97.76%,#fefaf5 98.34%,#ffffff 98.93%,#ffffff 99.51%)"></div><div style="left:781.0px;top:1196.0px;width:205.0px;height:46.0px;background:linear-gradient(90deg,#ffffff 0.00%,#ffffff 0.59%,#ffffff 1.17%,#ffffff 1.76%,#ffffff 2.34%,#ffffff 2.93%,#ffffff 3.51%,#ffffff 4.10%,#ffffff 4.68%,#ffffff 5.27%,#ffffff 5.85%,#ffffff 6.44%,#ffffff 7.02%,#ffffff 7.61%,#ffffff 8.20%,#ffffff 8.78%,#ffffff 9.37%,#ffffff 9.95%,#ffffff 10.54%,#ffffff 11.12%,#ffffff 11.71%,#e9d39f 12.29%,#eacd89 12.88%,#f9d37b 13.46%,#fcd988 14.05%,#fbce68 14.63%,#f1c45b 15.22%,#f3c55b 15.80%,#e3b754 16.39%,#ecbe57 16.98%,#f2c358 17.56%,#fbc95b 18.15%,#fbcc64 18.73%,#fbd06f 19.32%,#f7c657 19.90%,#fcd683 20.49%,#fac858 21.07%,#fac756 21.66%,#fbce6b 22.24%,#f4c152 22.83%,#fac85a 23.41%,#eebc4f 24.00%,#f6c251 24.59%,#fbd279 25.17%,#fbcb66 25.76%,#fbcc67 26.34%,#f4c152 26.93%,#f2c155 27.51%,#f6c65a 28.10%,#fcd478 28.68%,#fcdb8e 29.27%,#fcda8b 29.85%,#fcdd94 30.44%,#f8ca62 31.02%,#fcda8b 31.61%,#f0c460 32.20%,#f9cc64 32.78%,#f9cc65 33.37%,#f6ca65 33.95%,#f8cc66 34.54%,#fde1a4 35.12%,#f5c966 35.71%,#fcdb90 36.29%,#f7cb69 36.88%,#fcd786 37.46%,#f7cc6b 38.05%,#fbd47b 38.63%,#fbcf6e 39.22%,#fbd06f 39.80%,#fbd071 40.39%,#f4ca6d 40.98%,#f7cc6c 41.56%,#fbd276 42.15%,#fbd47b 42.73%,#f4c966 43.32%,#f7cb65 43.90%,#fbd275 44.49%,#f5c860 45.07%,#fbcd64 45.66%,#fbd171 46.24%,#fcd886 46.83%,#ecc772 47.41%,#f3cf7f 48.00%,#fddf9e 48.59%,#e4c47e 49.17%,#f5d48a 49.76%,#f7d68e 50.34%,#f0d18c 50.93%,#f0d18e 51.51%,#f4d592 52.10%,#fde9bc 52.68%,#fde2a9 53.27%,#fde2a9 53.85%,#f9dd9f 54.44%,#efd49a 55.02%,#fde5b0 55.61%,#fde7b7 56.20%,#f8dea8 56.78%,#fae0ab 57.37%,#feecc6 57.95%,#fde8bb 58.54%,#fde6b6 59.12%,#fdebc6 59.71%,#fef0d4 60.29%,#fdecc9 60.88%,#fdecc7 61.46%,#fde9c0 62.05%,#fbe6bb 62.63%,#f5e1b8 63.22%,#feefd2 63.80%,#efdcb7 64.39%,#f9e6c0 64.98%,#fdeac5 65.56%,#f5e3c0 66.15%,#f9e7c5 66.73%,#f6e5c4 67.32%,#fcebca 67.90%,#fdeed1 68.49%,#fdf1dc 69.07%,#fdf3e2 69.66%,#fdf3e6 70.24%,#fdf3e6 70.83%,#fdf3e6 71.41%,#fcf2e5 72.00%,#fdf3e7 72.59%,#fdf4e7 73.17%,#fdf4e8 73.76%,#fdf4e7 74.34%,#faf1e4 74.93%,#fdf3e7 75.51%,#fdf3e7 76.10%,#fdf4e9 76.68%,#fdf4e8 77.27%,#fdf4e8 77.85%,#f9efe3 78.44%,#faf0e4 79.02%,#fdf3e7 79.61%,#fdf4e8 80.20%,#f9efe3 80.78%,#fcf2e6 81.37%,#fdf3e7 81.95%,#fdf3e8 82.54%,#fdf4ea 83.12%,#f9efe3 83.71%,#faf0e4 84.29%,#fdf4e8 84.88%,#fdf4e8 85.46%,#fdf4ea 86.05%,#fdf4ea 86.63%,#fbf1e5 87.22%,#fdf5ea 87.80%,#fdf4ea 88.39%,#faf0e5 88.98%,#fcf2e6 89.56%,#fdf4e9 90.15%,#fdf3e8 90.73%,#fdf4e9 91.32%,#fcf3e7 91.90%,#fdf5eb 92.49%,#fcf2e7 93.07%,#fdf3e8 93.66%,#fdf3e7 94.24%,#fbf1e6 94.83%,#fdf3e8 95.41%,#fdf3e9 96.00%,#fdf3e8 96.59%,#f8efe4 97.17%,#fdf4e9 97.76%,#fbf1e6 98.34%,#fbf1e6 98.93%,#fbf1e6 99.51%)"></div><div style="left:781.0px;top:1242.0px;width:181.0px;height:47.0px;background:linear-gradient(90deg,#ffffff 0.00%,#ffffff 0.66%,#ffffff 1.33%,#ffffff 1.99%,#ffffff 2.65%,#ffffff 3.31%,#ffffff 3.98%,#ffffff 4.64%,#ffffff 5.30%,#ffffff 5.97%,#ffffff 6.63%,#ffffff 7.29%,#ffffff 7.96%,#ffffff 8.62%,#ffffff 9.28%,#ffffff 9.94%,#ffffff 10.61%,#ffffff 11.27%,#ffffff 11.93%,#ffffff 12.60%,#f8c567 13.26%,#f8c666 13.92%,#f3b337 14.59%,#f8bd49 15.25%,#f8c04d 15.91%,#fad17b 16.57%,#facf72 17.24%,#fbd47d 17.90%,#fbcb5f 18.56%,#f7c95f 19.23%,#fbcc62 19.89%,#eabf5d 20.55%,#fcd782 21.22%,#fbcf69 21.88%,#fbd173 22.54%,#f3c865 23.20%,#fbd06f 23.87%,#fcdc93 24.53%,#fbd277 25.19%,#eac166 25.86%,#f4ca6c 26.52%,#f8cd6f 27.18%,#fbd275 27.85%,#f8cf73 28.51%,#fbd276 29.17%,#fcda8d 29.83%,#fad279 30.50%,#f9d27b 31.16%,#fcd98a 31.82%,#fcd785 32.49%,#fad581 33.15%,#f7d281 33.81%,#fcde9b 34.48%,#f2cf82 35.14%,#fcda8e 35.80%,#f7d487 36.46%,#fcdc95 37.13%,#fcd98d 37.79%,#eece86 38.45%,#f0cf88 39.12%,#fcde9d 39.78%,#f3d38d 40.44%,#f6d690 41.10%,#f9d892 41.77%,#fcdb95 42.43%,#edcf8e 43.09%,#f7d895 43.76%,#ecce90 44.42%,#fcde9d 45.08%,#fadc9b 45.75%,#fcdfa0 46.41%,#f4d79a 47.07%,#fde3ad 47.73%,#f3d89d 48.40%,#fde3ac 49.06%,#fde5b1 49.72%,#fde4b1 50.39%,#f3d8a1 51.05%,#fde7b8 51.71%,#efd6a2 52.38%,#fdeac1 53.04%,#fde9c0 53.70%,#fde6b6 54.36%,#feeecc 55.03%,#fde8bb 55.69%,#eed8a9 56.35%,#fde8bb 57.02%,#fde9bf 57.68%,#fde7ba 58.34%,#fce6b9 59.01%,#f6e1b6 59.67%,#fdeac3 60.33%,#fde9be 60.99%,#f8e5bb 61.66%,#fdeac3 62.32%,#fbe8c1 62.98%,#f5e3bd 63.65%,#fae8c2 64.31%,#fcebc6 64.97%,#fdecc9 65.64%,#fdefd1 66.30%,#f5e7ca 66.96%,#fef3dd 67.62%,#fef2dd 68.29%,#fef3e1 68.95%,#f9efe0 69.61%,#fefaf3 70.28%,#ffffff 70.94%,#ffffff 71.60%,#ffffff 72.27%,#ffffff 72.93%,#ffffff 73.59%,#ffffff 74.25%,#ffffff 74.92%,#ffffff 75.58%,#ffffff 76.24%,#ffffff 76.91%,#ffffff 77.57%,#ffffff 78.23%,#ffffff 78.90%,#ffffff 79.56%,#ffffff 80.22%,#ffffff 80.88%,#ffffff 81.55%,#ffffff 82.21%,#ffffff 82.87%,#ffffff 83.54%,#ffffff 84.20%,#ffffff 84.86%,#ffffff 85.52%,#ffffff 86.19%,#ffffff 86.85%,#ffffff 87.51%,#ffffff 88.18%,#ffffff 88.84%,#ffffff 89.50%,#ffffff 90.17%,#ffffff 90.83%,#ffffff 91.49%,#ffffff 92.15%,#ffffff 92.82%,#ffffff 93.48%,#ffffff 94.14%,#ffffff 94.81%,#ffffff 95.47%,#ffffff 96.13%,#ffffff 96.80%,#ffffff 97.46%,#ffffff 98.12%,#ffffff 98.78%,#ffffff 99.45%)"></div><div style="left:816.0px;top:1289.0px;width:36.0px;height:46.0px;background:#fef5ea"></div><div style="left:983.0px;top:1151.0px;width:12.0px;height:45.0px;background:#ffffff"></div><div style="left:995.0px;top:1151.0px;width:8.0px;height:45.0px;background:#fdf2dc"></div><div style="left:1003.0px;top:1151.0px;width:72.0px;height:45.0px;background:linear-gradient(90deg,#f7e1ac 0.00%,#feeec9 2.08%,#fde6b3 4.17%,#fbde9f 6.25%,#f8da99 8.33%,#f3d492 10.42%,#fada95 12.50%,#fde8bd 14.58%,#f7d58f 16.67%,#f8d58e 18.75%,#fcdd9e 20.83%,#fcdd9d 22.92%,#fcd88f 25.00%,#f3cf86 27.08%,#f5d28a 29.17%,#f5d38c 31.25%,#fdecc7 33.33%,#fcde9f 35.42%,#f3d492 37.50%,#fde5b3 39.58%,#fde8bc 41.67%,#fde9c3 43.75%,#fdeac6 45.83%,#fef3dd 47.92%,#f9e5be 50.00%,#fdeac5 52.08%,#fce8c1 54.17%,#feefd3 56.25%,#fbe7c1 58.33%,#fdebc7 60.42%,#f8e6c0 62.50%,#fef1d6 64.58%,#fdecca 66.67%,#fdebc6 68.75%,#fae8c3 70.83%,#fae9c5 72.92%,#fbeac5 75.00%,#fdecc7 77.08%,#f9e8c5 79.17%,#fef5e4 81.25%,#fef5e7 83.33%,#fef4e5 85.42%,#fef5e7 87.50%,#fef5e6 89.58%,#fef4e5 91.67%,#fcf2e2 93.75%,#fef4e4 95.83%,#fdf3e4 97.92%,#fcf2e2 100.00%)"></div><div style="left:1092.5px;top:1151.0px;width:63.0px;height:45.0px;background:#f4f5f8"></div><div style="left:1172.0px;top:1151.0px;width:38.7px;height:45.0px;background:#fdf1e2"></div><div style="left:1247.2px;top:1151.0px;width:63.0px;height:45.0px;background:#f4f5f8"></div><div style="left:930.0px;top:1196.0px;width:55.0px;height:46.0px;background:#fdf4ea"></div><div style="left:993.0px;top:1196.0px;width:80.0px;height:46.0px;background:linear-gradient(90deg,#fbedd9 0.00%,#feeed3 1.88%,#fde9c4 3.75%,#fae3b6 5.62%,#fae0aa 7.50%,#fbdea3 9.38%,#fde1a7 11.25%,#fde3ae 13.12%,#fde5b3 15.00%,#feecc8 16.88%,#f7da9d 18.75%,#f4d79a 20.62%,#fcde9f 22.50%,#f6d89b 24.38%,#fdde9f 26.25%,#fde0a2 28.12%,#fde6b6 30.00%,#fcdd9c 31.87%,#fbdc9b 33.75%,#fadb9a 35.62%,#f6d897 37.50%,#f9da98 39.38%,#f2d494 41.25%,#fcdc99 43.12%,#fcdd9b 45.00%,#f8da9a 46.88%,#fde5b4 48.75%,#fae2b2 50.62%,#feeed0 52.50%,#fde9c4 54.37%,#fde8c1 56.25%,#fef0d6 58.13%,#feefd4 60.00%,#fdedcf 61.88%,#fdeccc 63.75%,#fce8c3 65.62%,#f8e5c0 67.50%,#f8e4c0 69.38%,#fbe8c3 71.25%,#fef2db 73.12%,#fbe8c4 75.00%,#f8e5c2 76.88%,#fdeac7 78.75%,#fdebc8 80.62%,#fef0d6 82.50%,#fdedcd 84.38%,#fae8c6 86.25%,#fdedcd 88.12%,#fdedce 90.00%,#fceac9 91.88%,#fdf0d6 93.75%,#fdedce 95.62%,#fdedce 97.50%,#fdeed2 99.38%)"></div><div style="left:1093.6px;top:1196.0px;width:64.1px;height:46.0px;background:#f4f5f8"></div><div style="left:1177.6px;top:1196.0px;width:29.8px;height:46.0px;background:#fdf1e2"></div><div style="left:1246.0px;top:1196.0px;width:62.0px;height:46.0px;background:#f4f5f8"></div><div style="left:963.0px;top:1242.0px;width:40.0px;height:47.0px;background:#fefaf3"></div><div style="left:1003.0px;top:1242.0px;width:47.5px;height:47.0px;background:linear-gradient(90deg,#fdefd1 0.00%,#fef4df 3.16%,#fdeac3 6.32%,#fbe6bb 9.47%,#fce5b7 12.63%,#fde8bd 15.79%,#fde7bb 18.95%,#fbe0ab 22.11%,#f9dda5 25.26%,#fbdea7 28.42%,#f9dda5 31.58%,#fde5b7 34.74%,#fce0a8 37.89%,#fde2ad 41.05%,#fde4b2 44.21%,#fde6ba 47.37%,#fde7bd 50.53%,#fef0d4 53.68%,#f7dba4 56.84%,#fde5b5 60.00%,#fde6b9 63.16%,#fbdea7 66.32%,#fde9c1 69.47%,#fdeac4 72.63%,#f9e6bf 75.79%,#fdf1d6 78.95%,#fdeecf 82.11%,#fdedcc 85.26%,#fbeccc 88.42%,#fdefd0 91.58%,#fdf1d7 94.74%,#fbeed1 97.89%)"></div><div style="left:1080.3px;top:1242.0px;width:64.1px;height:47.0px;background:#f4f5f8"></div><div style="left:930.4px;top:1289.0px;width:70.3px;height:46.0px;background:#f3f4f7"></div></div>
<svg width="1900" height="1457" viewBox="0 0 1900 1457">
<text x="-1.0" y="23.6" font-size="33" text-anchor="start" font-weight="bold" fill="#231f20" >a</text>
<text x="181.0" y="23.6" font-size="33" text-anchor="start" font-weight="bold" fill="#231f20" >b</text>
<text x="677.5" y="23.6" font-size="33" text-anchor="start" font-weight="bold" fill="#231f20" >c</text>
<text x="1495.5" y="23.6" font-size="33" text-anchor="start" font-weight="bold" fill="#231f20" >d</text>
<text x="15.0" y="79.8" font-size="21.8" text-anchor="start" font-weight="normal" fill="#231f20" stroke="#231f20" stroke-width="0.3" >WF1 amacrine</text>
<text x="15.0" y="426.5" font-size="21.8" text-anchor="start" font-weight="normal" fill="#231f20" stroke="#231f20" stroke-width="0.3" >WF2 amacrine</text>
<text x="15.0" y="453.6" font-size="21.8" text-anchor="start" font-weight="normal" fill="#231f20" stroke="#231f20" stroke-width="0.3" >(A17; Indo S-2)</text>
<text x="15.0" y="785.8" font-size="21.8" text-anchor="start" font-weight="normal" fill="#231f20" stroke="#231f20" stroke-width="0.3" >WF3 amacrine</text>
<text x="15.0" y="812.5" font-size="21.8" text-anchor="start" font-weight="normal" fill="#231f20" stroke="#231f20" stroke-width="0.3" >(WF3-1)</text>
<text x="15.0" y="1143.7" font-size="21.8" text-anchor="start" font-weight="normal" fill="#231f20" stroke="#231f20" stroke-width="0.3" >On-Off direction</text>
<text x="15.0" y="1170.0" font-size="21.8" text-anchor="start" font-weight="normal" fill="#231f20" stroke="#231f20" stroke-width="0.3" >selective RGC</text>
<text x="15.0" y="1196.0" font-size="21.8" text-anchor="start" font-weight="normal" fill="#231f20" stroke="#231f20" stroke-width="0.3" >(DSGC)</text>
<rect x="225.50" y="76.50" width="397.60" height="7.00" fill="#fff" stroke="#6d6e71" stroke-width="1.2" />
<rect x="324.90" y="76.20" width="99.40" height="7.60" fill="#231f20" stroke="none" stroke-width="1" />
<rect x="523.70" y="76.20" width="99.40" height="7.60" fill="#231f20" stroke="none" stroke-width="1" />
<rect x="225.50" y="76.50" width="397.60" height="7.00" fill="none" stroke="#6d6e71" stroke-width="1.0" />
<rect x="324.90" y="76.20" width="99.40" height="7.60" fill="#231f20" stroke="none" stroke-width="1" />
<rect x="523.70" y="76.20" width="99.40" height="7.60" fill="#231f20" stroke="none" stroke-width="1" />
<text x="226.3" y="70.9" font-size="21.85" text-anchor="start" font-weight="normal" fill="#231f20" stroke="#231f20" stroke-width="0.3" >ON</text>
<text x="325.5" y="70.9" font-size="21.85" text-anchor="start" font-weight="normal" fill="#231f20" stroke="#231f20" stroke-width="0.3" >OFF</text>
<rect x="225.50" y="432.30" width="397.60" height="7.00" fill="#fff" stroke="#6d6e71" stroke-width="1.2" />
<rect x="324.90" y="432.00" width="99.40" height="7.60" fill="#231f20" stroke="none" stroke-width="1" />
<rect x="523.70" y="432.00" width="99.40" height="7.60" fill="#231f20" stroke="none" stroke-width="1" />
<rect x="225.50" y="432.30" width="397.60" height="7.00" fill="none" stroke="#6d6e71" stroke-width="1.0" />
<rect x="324.90" y="432.00" width="99.40" height="7.60" fill="#231f20" stroke="none" stroke-width="1" />
<rect x="523.70" y="432.00" width="99.40" height="7.60" fill="#231f20" stroke="none" stroke-width="1" />
<text x="226.3" y="426.5" font-size="21.85" text-anchor="start" font-weight="normal" fill="#231f20" stroke="#231f20" stroke-width="0.3" >ON</text>
<text x="325.5" y="426.5" font-size="21.85" text-anchor="start" font-weight="normal" fill="#231f20" stroke="#231f20" stroke-width="0.3" >OFF</text>
<rect x="225.50" y="791.70" width="397.60" height="7.00" fill="#fff" stroke="#6d6e71" stroke-width="1.2" />
<rect x="324.90" y="791.40" width="99.40" height="7.60" fill="#231f20" stroke="none" stroke-width="1" />
<rect x="523.70" y="791.40" width="99.40" height="7.60" fill="#231f20" stroke="none" stroke-width="1" />
<rect x="225.50" y="791.70" width="397.60" height="7.00" fill="none" stroke="#6d6e71" stroke-width="1.0" />
<rect x="324.90" y="791.40" width="99.40" height="7.60" fill="#231f20" stroke="none" stroke-width="1" />
<rect x="523.70" y="791.40" width="99.40" height="7.60" fill="#231f20" stroke="none" stroke-width="1" />
<text x="226.3" y="785.8" font-size="21.85" text-anchor="start" font-weight="normal" fill="#231f20" stroke="#231f20" stroke-width="0.3" >ON</text>
<text x="325.5" y="785.8" font-size="21.85" text-anchor="start" font-weight="normal" fill="#231f20" stroke="#231f20" stroke-width="0.3" >OFF</text>
<rect x="225.50" y="1148.30" width="395.20" height="7.00" fill="#fff" stroke="#6d6e71" stroke-width="1.2" />
<rect x="324.30" y="1148.00" width="98.80" height="7.60" fill="#231f20" stroke="none" stroke-width="1" />
<rect x="521.90" y="1148.00" width="98.80" height="7.60" fill="#231f20" stroke="none" stroke-width="1" />
<rect x="225.50" y="1148.30" width="395.20" height="7.00" fill="none" stroke="#6d6e71" stroke-width="1.0" />
<rect x="324.30" y="1148.00" width="98.80" height="7.60" fill="#231f20" stroke="none" stroke-width="1" />
<rect x="521.90" y="1148.00" width="98.80" height="7.60" fill="#231f20" stroke="none" stroke-width="1" />
<text x="226.3" y="1143.7" font-size="21.85" text-anchor="start" font-weight="normal" fill="#231f20" stroke="#231f20" stroke-width="0.3" >ON</text>
<text x="325.5" y="1143.7" font-size="21.85" text-anchor="start" font-weight="normal" fill="#231f20" stroke="#231f20" stroke-width="0.3" >OFF</text>
<path d="M221.3 282.3l.2-4.8.2-3 .3-.6.2-4.4.2.8.1 3.6.1-5.6.2-1 .3 2.4.2.2.2-1.4.2-3.9.2 2.3.1 1.9.2-5.9.2 3 .2-4.4.2.8.2-2 .3 3.8.2-3.1.2 3.5.2.1.1-.6.1-8.2.3 4.8.2.9.2-1.3.2-6.3.2 2.7.3-1.7.2.6.2 4.5.1-5.3.1.8.2 2.2.3-3.9.2 1.1.2.7.2-.3.2-2.5.3 3 .2 2 .2-4.5.2 3.2.2-.9 0-4.9.3-22.7.2-25.6 0-2.9.2-18.3.2-20.5.2-20.7.1-5.6.2 5.9.2 8.1.2 8.4.1 3.1.1 6.2.2 10.6.3 11.9.2 9.5.2 11.3.1 5.2.1 3.7.2 3.3.3-1.4.2 4.8.2 7 .2-2.8.2 8.4.1 1.4.2 4.6.2.2.2-1 .2 1.6.2 2.2.3 7.9.2-3.7 0 .8.2 3.9.2-.7.2 1.4.3-.3.2 4.8.2 1.4.2 6.1 0-1.8.2-1.8.3 2.6.2-2.9.2 4.9.2-3.2.2 2.1.3-5.5 0 4.1.2-14.5.2-11.3.2-3.9 0-2.1.2-2.4.3-.1 0-11 .2 4.5.2 9.9.2 6.6.1 1.1.1 0 .3 2.3.2-2 .2-4.2.2 2.7.2-.9.3-3.9.1 4.3.1-2.7.2 5.1.2-2.5.2-1.2.3-3.3.2 2.1.2-5.9.2.7.2 3.3.2-7.5.1 9.5.2-9.9.2 5.8.2-7 .2 4.2.3-3.7 0-4.3.2 10.5.2 4.2.2-.1.2 2.3.3-2.3.2 6.2.2-3.9.2 2 .2-2.5.3.6.2-2 .2 8 .2-3.4 0 3.5.2-2.5.3-2 .2.6.2-.8.2 1.4.2-1.5.3 0 .2-2.4.2 2.1.2 5.8.2-7.3.3-2 .2 4.2.2 4.5.2-9 .2 4.5.3-1.8.2-3.4.2 7.9.2-2.2.2-.5 0-.5.3 3.3.2-2.1.2 1.4.2-3.5.2-.4.3 7.4.2-5.5.2 2.4.2-.6.2-2.2.3.5.2 3.2.2-2 .2.6.2.9.3 3.5.2-.6.2-.2.2-1.7.2-3.1.3 7.2.2.6.2-3.5.2 1.5.2-.2.3-.1.2-.6.2-4 .2 5 0-7.9.2 5.7.3-.3.2.4.2 2.8.2-1.5.2-7.6.3-.8.2 7.7.2-5.7.2 2.7.2 2.9.3-8 .2-.6.2 7.6.2-.4.2-1.2.3.8.2-3.2.2-1.5.2 3.8.2-1.7.3-2.1.2 7 .2-1.1.2.3.2-4.5.3.8.2.2.2.5.2 3.6.2-3.8.3 3.2.2.2.2 6.5.2-10.7.2 6.8.3-2.5.2 0 .2-4 .2 2.5.2 3.8.3-1 .2.3.2-.3.2 4.4.1-4.9.1-6 .3 4.6.2-3.8.2-3.1.2 8.7.2 4.9.3-2.9.2-3.4.2 2.1.2 6.6.2-3.6.3-.1.2-.6.2-.3.2 2.7.2-1.2.3-1.3.2-3.6.2 4 .2-4.4.2 4.6.3-7.7.2 4.9.2 0 .2-4 .2 9.1.3-.6.2-4.4.2 4 .2-.5.2-9 .3 9.1.2-1 .2 1.5.2-3.6.2 3.1.3 1.1.2 4.9.2-2.3.2-2.4.2 5.1.3-6 .2.4.2-4.6.2 10.5.2-2.8.3-1.4.2-1.1.2-1.2.2.9.2-1.7.3 1.2.2.1.2 4.6.2-2.3.2-2.3.3-1.8.2.4.2 7.4.2-3.3.2-1.7.3-2.1.2-2.1.2 2.7.2 3 .2-3.6.3.4.2.3.2 1.3.2-4.7.2 4.6.3-.8.2 4.4.2-4.9.2 3.5.2 3 .3-5.5.2-1.1.2 2.9.2-.1.2-3.2.3 4.7 0 4.8.2-7.6.2 1.3.2-2.7.2 4.8.3-4.8.2.2.2 7.3.2-7.2.2 5.9.3 2 .2-4.4.2.2.2 2.9.2-6.8.3-1.7.2-2.6.2 4.8.2 4.8.2-1.5.3-5.5.2.2.2.7.2 2.1.2-1.6.3 3.4.2.3.2-.6.2.6.2.3.3-1 .2 2.1.2 4.6.2-3.7.2-1.6.3-5.3.2 7.4.2-7.7.2 1.6.2 7 .3.2.2-2.4.2-4.8.2 4.9.2-1.1.3 4.1.2 5.1.2-6.4.2-4.3.2-.8.3 3.7.2-1.1.2-4 .2 3 .2-3.8.2 5.2.1.1.2.3.2-3.2.2 4 .2-1.6.3-1.2.2-1.5.2-3 .2.1.2 7.8.3-2.5.2 2.2.2 2.1.2-8.4.2 2.3.3 2.1.2.8.2-2.5.2 6.5.2-1.5.3-3.8.2-.1.2 5.1.2-1.3.2-7.1.3 9.4.2-2.6.2 2.6.2-4.6.2 1.1.3-3.3.2 10.4.2-8.6.2 6.3.2-6.9.3 2.8.2-5.7.2 3.3.2 4.4.2-7 .3 7 .2-2.1.2-4.7.2 1.3.2.2.3.6.2-1.8.2-.7.2 1.7.2-1.2.3-1.4.2 4.4.2 2.2.2-7.3.2 5.6.3-1.5.2-.8.2 5.4.2-3.5.2 6 .3-6.8.2 3 .2-1.3.2-.6.2 4.3.3-2 .2 2.2.2-3 .2-2.8 0 3.1.2 1 .3 2.6.2-5.8.2 2.9.2-5.2.2 5.8.3-5 .2-2.9.2 5.1.2 5 .2-7 .3 1.9.2.6.2-.4.2 5.3.2-2.6.3.7.2 4.1.2-3.8.2 4.3.2-3.9.3-.9.2-3.1.2 9.9.2-6.9.2.3.3-1.2.2-.1.2-1.5.2 6 .2-8.5.3-1.6.2 2.3.2-.1.2 6.1.2 1.6.3-4.8.2-.1.2 3.5.2 5 .2-12.1.3 9.4.2-5.5.2 6.3.2-7.6.2 1.1.3-2.8.2 1.1.2 7.1.2-2.6.2-4.4.3-1.3.2-2.7.2 4.6.2 1.9.2-.1.3.7.2-2.6.2 3.3.2 0 .2 4.3.3 2.9.2-5.6.2-1.6.2 2.4.2-.9.3-.3.2 2.3 0-2.6.2 5 .2-2 .2 1.3.3-2.8.2-1.3.2-.7.2 1.5.2-1.3.3 1.5.2-.2.2-4.1.1 3.2.1-9 .2-7.6.3-7.2.2-13.9.1-.1.1 0 .2-1 .2-1.2.3-.9.2-2.9.1 2.4.1-.6.2 3.1.2-3.1.3 5.4.2 1.3.2.9.2.5.1 3.6.1-5.8.3 8.9.2.3.2-.1.2 3.3.2-2.4.3 2.5.2 3.1.2-.2.1-.6.1-5.6.2 6 .3 2.6.2.1.2-1.9.2-4 .2 7.3.3-3.2.2-6.4.2 8.6.2-4.1.1 1.5.1 2.3.3 5.4.2-4.9.2 1.1.2 5 .2-.7.3-5.6.2.5.2-2.8.2 1.9.2 3.4.3-.4.2-.9.2 3.3.2-5.7.2 2.4.3 2 .2.3.2 2.5.2-2.5.2-1.6.3 2.3.2-4.5.2-1.3.2 7 .2-.9.3 1.6.2-6.3.2 4.7.2-1.6.2-1.5.3-5.4.2 5.6.2 4.1.2-1.3.2-2.9.3 2.4.2 1.3.2-10.2.2 8.1.2 1.3.3 1.1.2 3.4.2-.9 0-2.7.2-.5.2.8.3-4.1.2.6.2 2.2.2 2.3.2-5.1.3-.2.2.5.2 3.5.2-3.1.2 3.8.3-7.3.2 2.8.2.2.2 2.9.2 1 .3-6.6.2 1.5.2 4.7.2-3.3.2-2.7.3 7.6.2-.7.2-.4.2-2.8.2 4.1.3-3.9.2 4.6.2-6.3.2-.5.2 3.3.3-3.1.2 4 .2-1 .2-3.8.2 4.1.3-1.8.2 3.3.2-4 .2.7.2 6 .3 3.6.2-1.2.2-4.8.2.2.2 3.1.3-3.9.2-2.8.2 4.2.2 2 .2-3.1.3-2.5.2.3.2 5.6.2-4.4.2 2.2.3 2.1.2 2.2.2-3.9.2 2.5.2-4.7.3 2.1.2-2.5.2 6.7.2-3.8.2-1.2.3 2.1 0 .1.2 1.6.2-6.9.2 2.6.2 1.7.3 9 .2-5 .2-3 .2 2.5.2 3.2.3-7.1.2-1.1.2 4 .2-1.3.2.2.3-4.1.2 8.9.2-.2.2-3.5.2-.4.3-8.7.2 8.3.2-3 .2 2 .2.8.3-3.4.2-4.3.2 5.2.2-5.3.2 1.1.3-1 .2 1.6.2-5.1.2 10.9.2-2.3.3 2.4.2 4 .2-5.3.2-5.1.2 2.9.3-.1.2 1.1.2 1.4.2-6.4.2 6.7.3-5.6.2 5.5.2-1 .2-1.5.2 0 .3-1.6.2.5.2-3.8.2 6.7.2 5.7.3 1 .2-2.5.2-1.3.2-5.1.2 6.3.3-4.6.2.6.2-.9.2 1.5.2-1.5.3.3.2-2.5.2 1.5.2 7.7.2-6.6.3.3.2 2.8.2 0 .2-6.5.2 2.7.3 3.1.2-1.7.2-1 .1 4 .1-6.3.2 2.8.3-2.8.2 6.3.2-9.9.2 4.2.2.9.3 3.4.2-.9.2 2.2.2-8.5.2 7.3.3-3.7.2-.9.2 3.9.2-5.4.2-4.7.3 4.8.2-3.6.2 2.9.2 3.4.2-.5.3 3.3.2-5.6.2-4.2.2 1.9.2-.4.3-.6.2 5.4.2-3 .2-2.8.2 7.9.3-1.8.2 2.5.2.4.2 1.2.2-1 .3 3.9.2-2.8.2-.2.2.7.2-5.6.3 2.9.2.5.2.5.2-5.8.2 8.6.3-3.9.2-4.4.2-2.1.2 4.8.2.9.3-1.4.2 1.8.2-2.1.2 2.8.2-4.2.3 2.1.2 3.2.2 4.2.2-11.6.2 2.4.3-1.2.2 5.1.2-7 .2 2.5.2 1.6.3-3 .2.3.2 2.1.2-4.7.2 1.6.3 2.2.2.6.2-1.9.2-5.3.2 4.5.3 3.7.2-1.6.2-1.5.2-2.6.2 4.1.1-4.6.2-.1.2 2.6.2 7 .2-3.7.2 2.6.3-5.9.2 4 .2-4.7.2 1.6.2 8.2.3-5.5.2-4.2.2-.5.2.8.2 2.9.3-4.1.2-3.9.2 5.6.2 1.2.2.6.3 2.3.2-3.4.2 2.2.2-4.6.2 6.5.3 4 .2-4 .2-2.3.2-.3.2 4.8.3-8.1.2 2.3.2 2.4.2 1.7.2-3.8.3 1.2.2-1.1.2 1 .2-.6.2-2.3.3 4.1.2 2.2.2-5.5.2 1.8.2 2.6.3-6.5.2 4.1.2-4.2.2 6.1.2 3 .3-1.3.2-7.5.2 2.5.2-1.6.2.5.3 4.9.2-7.9.2 7.8.2-3.5.2 5.2.3-4.2.2-2.3.2 3.3.2 1.5.2-2.1.3.9.2-4.2.2-4.7.2 7.9.2-.6.3-1.3.2-1.5.2 2.7.2-4.1.2-1.5.3 2.6.1 2.8.1-6.8.2 9.1.2-5.1.2-.4.3 7.8.2-4.8.2-1.7.2 2.9.2 3.8.3 2.3.2-6.2.2 3.8.2.7.2-5.1.3 3.5.2-.6.2-2 .2.8.2 1.3.3.4.2-1.3.2 0 .2 5.8.2-2.5.3 2.7.2 1.9.2-1.7.2 5 .2-8.5.3 4.7.2-2.5.2 7.6.2.7.2-9.7.3 3 .2 5.4.2.4.2.1 0-2.1.2 2.5.3.7.2-1.7.2 3.6.2-8.8.2 6.9.3-3.8.2 4.4.2-2.3.2-1 .2 1.8.3-1.3.1.1.1-11.9.2-30.2.2-31.3.1-11.4.1-14.6.3-22.6.2-22.7 0-2.1.2 8 .2 8.8.2 8.4.2 6.5.1 2.6.2 9.5.2 8.1.2 11.5.2 7.4.3 11.5 0-1.1.2 6.2.2 4 .2 2.1.2 10.3.3-1.8.2 7 .2 2 0-4.6.2 1.3.2 3.2.3-.7.2.7.2-1.4.2-4.5.2 5.5.2-5.5.1 8.3.2-2.3.2-.3.2.8.2 2.2.3-5.3.2-1.1.2 2.9.2-1.6.2 4.1.3 7.2.2-7.9.2 6.4.2-6.3.2 4.3.3-.6.2 1.5.2 2.8 0 3.6.2-3.9.2-.5.3-3.5.2 5.1.2-2.2.2 2.7.2-1.8.3 6.2.2-10.8.2 4.9.2 3.8.2-3.7.3-2.4.2 2.4.2-3.4.2 4.7.2 7.1.3-4.4.2-7.1.2 1.4.2 0 .2 4.6.2-4.7.1 1 .2 5.5.2 0 .2-2.2.2-2.6.3-1.1.2 2.8.2-4.1.2 8.5.2-2.7.3 2.8.2 3.3.2-2.3.2-7.2.2 5.7.3.1.2-5.6.2.1.2 2.6.2-5.2.3 9.7.2-12.2.2 4.4.2 2.6.2.6.3 1.6.2.2.2-1.3.2 5.6.2-11.5.3 6.6.2-1.3.2 1.7.2.1.2-2.6.3.7.2 5.2.2-1.1.2-2.7.1 8.4.1.2.3-9.7.2 5.6.2 6.6.2-4.5.2-.4.3-1.8.2-1.1.2-.2.2-1 .2 3.7.3-3.7.2-.7.2-2.8.2 3.5.2-2 .3 2.2.2 4.1.2-2.4.2 2.4.2.4.3-.7.2-.4.2-1.5.2 3.7.2-5.3.3 8.1.2-4.9.2-1.4.2-.1.2-.1.3 0 .2-2.9.2 5.3.2-5.1.2-3.1.3 4.3.2-3.4.2 5.5.2 4.3.2-1.5.3-5.3.2 1.5.2 8.3.2-5 .2-.1.3 3.3.2 4.3.2-3 .2-3.8.2.4.3.5.2-4.3.2-.8.2 3.6.2-2.6.3 2.8.2-.3.2 6.8.2-9.1.2 2.3.3 0 .2 1.8.2 1.6.2-3.6.2-1.7.3-1.4.2 2.2.2 5 .2-.6.2-3.5.3 1.1.2 1 .2 1.5.2-2.9.2 1.6.3-4.7.2 2.3.2 7.5.2-11 .2 5.6.3 1.7.2-1.2.2-.5.1 2.9.1 0 .2-.9.3-5.7.2 5.2.2-2.3.2 1.6.2 2.4.3 1.8.2 1.2.2-4 .2 4 .2.6.3.2.2 1 .2-3.8.2.1.2 2.7.3-6.4.2 4.7.2-2.6.2-.1.2-4.8.3 3.1.2 2.8.2 3.5.2 1.1.2-3.1.3-.8.2-2.2.2 2.9.2-2.2.2 3.2.3 3.6.2-4.2.2-4.1.2 2.3.2-2.3.3.7.2 7.6.2-2.6.2-4.8.2 6.8.3 3.5.2-5.2.2-1 .2.1.2 1 .3 1.3.2 1.6.2.2.2.6.2 1.3.3-2.1.2-6.2.2 3.4.2 1.6.2-1.7.3 4.3.2-2.4.2-1.8.2 7.3.2-1.8.3-1.7.2 1.3.2 1.1.2-1.8.2-8.3.3 5.2.2.1.2-1.6.2 2.5.2 2.8.3-5 .2-3.3.1 9.2.1-7.4.2-2.3.2 3.2.3 1 .2-3.7.2 4.4.2-4.1.2-.8.3 3.7.2 2.2.2-3.2.2 2.4.2-1.8.3 8.3.2-10.2.2 5 .2-3.9.2.6.3 3 .2.8.2.3.2-3.9.2-3.2.3 1.3.2 3.9.2.5.2 3.1.2-2.3.3 2.6.2 1.3.2-4.1.2-4.8.2 1.1.3-.6.2 8.8.2-7.7.2 5.8.2-1.7.3 2.7.2-1.3.2-4.1.2-.8.2 1.6.3.6.2-1.6.2 1.2.2 5.3.2-9.7.3 6 .2-2.8.2 2.9.2 1.7.2-2.8.3 3.5.2-7.7.2 8 .2-5.5.2 3.8.3-1.5.2-8.8.2 5.1.2 2.8.2 5.2.3-3.9.2-.2.2-5.7.2 8.3.2 1.4.3-4.9.2.2.2-3.9.2 6.9.2 5.7.3-7 .2 1.3.2-2.2.2-4.5.2 6.9.3-6.7.2 2.1.2.9.2 1.6.2-1.5.3.6.2-2.8.2-.3.2 3.1.2-2.3.3-1.4.2.3.2 1.6.2-3.7.2 2.4.3-1 .2 5.8.2.9.2 4.6.2-11.3.3 3.7.2 4.9.2-3.3.2-.3.2 5.8.3-6.3.2-3.4.2-.1.2 4.7.2-.5.1-5 .2 1.5.2 3.4.2.9.2-3.6.2 3.8.3.8.2-6.6.2 4.7.2 3.1.2-3.1.3-4.2.2 5.9.2 2.4.2 3.3.2-11.9.3 15.5.2-11.5.2 5.8.2 1.2.2-.4.3-4 .2-3.2.2 5.5.2-4.2.2-4.4.3 16.6.2-6.3.2 2.5.2-8.2.2 7.1.3.2.2-.3.2-4.1.2-4 .2 3.8.3-5.3.2.9.2 5.1.2-3.5.2 3 .3.9.2 6.2.2-2 .2-3.7.2 3.3.3-5.3.2.4.2 3.1.2-6.2.2 3.3.3-3 .2 4.2.2 4 .2-6.8.2 2.9.3-3.3.2-.2.2-.1.2 7.6.2 2.6.3-6.3.2-3.5.2 3.5.2-4 .2 3.1.3-1 .2-.4.2.9.2-3.7.2-.7.3-3.1.2 4 .2-2.3.2 3.8.2-1.7.3 3.7.2 1.6.2-6.1.2 3.3.2-.3.3 5.5.2 3.4 0-2.7.2-3.4.2 4.8.2-9.9.3 8.9.2-6.8.2-5.6.2 14.9.2-4 .3-7.9.2 2.8.1-1.2.1-1.8.2-11.9.2-4.7.3-4.1.2-7.4.1-.2.1-4.4.2 6.6.2-8.9.3 2.3.2-5.7.2 2 .2 7.2.2-7.9 0 5.6.3.3.2-3.6.2 1.7.2 1.1.2 1.7.3 3.2.2.5.2-3.6.2-.3 0 3.6.2-.4.3 3.3.2 5.1.2-4.1.2-1.6.2-.6.3-.5.2 1.3.2.4.2 2.8.2.9.3 4.9.2-2.3.1 2 .1-2.4.2 9.2.2-3.1.3 4.6.2-3 .2 2.3.2-5.5.2 2.2.3 6.2.2-11.6.2 7.7.2.6.2-3.7.3 1.2.2 2.2.2-5.7.2 3 .2-3.8.1.4.2.7.2.6.2.8.2.7.2-4.7.3 10.2.2-2.5.2-1.2.2-3.6.2 1.5.3 2.5.2.1.2-5.9.2 8.3.2 6.5.3-14.2.2 9.1.2-2.1.2-1.3.2 3.5.3-7.7.2 3.8.2 3 .2-4.5.2-.3.3 1.4.2-1.7.2 5.4.2-7.9.2 5.1.3-6.5.2 7.9.2-2.2.2-7.2.2 8.9.3-3.8.2 1.7.2 6.7.2-8.4.2.9.3 8 .2-2.9.2 3.9.2-4.9.2-4.4.3 2.9.2 4.4.2 0 .2-3.2.2-.4.3 0 .2-1.4.2 6.9.2-6.3.2-2.4.3 2.6.2 4 .2-1.5.2-2.7.2-1.9 0 2.5.3-4.9.2.9.2 6.8.2-3.6.2 2.7.3 1.9.2-2.1.2-1.3.2 7 .2-4.9.3-3.3.2 4 .2-.7.2-2.9.2 2.6.3-.8.2-6.2.2 5.8.2.6.2-.4.3-2.9.2 4.9.2 1.2.2-.2.2-3.8.3 5.2.2-5.4.2 3.4.2 5.5.2-6.2.3-.2.2 4.4.2-4.3.2-.9.2 1.5.3 3.8.2-10.2.2 3.5.2-.8.2.2.3.6.2.7.2 3.7.2-3.3.2 4.1.3 1.9.2-3.6.2 1.4.2 5 .2-3.3.3-2.6.2 1.3.2-3.1.2 3.7.2 1.6.3-5 .2-.2.2 3.8.2-4.9.2 2.3.3-4.5.2.6.2.6.2 7.6.2-7.3.3-.9.2.4.2.3.2 3 .2-1.8.3 5.7.2-5 .2 4.1.2-3.5.2.6.3-4.7.2 4.7.2 1.1.2-1.5.2-5 .3 9.7.1-3.1.1-.1.2.3.2-.3.2 2.1.3-4.7.2.3.2 2.9.2-.8.2-1.3.3.2.2-.8.2 2.7.2 4 .2-6.6.3 7 .2-2.1.2-4.1.2 3.5.2-6.7.3-1.7.2 1.4.2 2.4.2.3.2-1.3.3 1.1.2-6.4.2 8.7.2-5.3.2 2.3.3.3.2-1.8.2.7.2.6.2 3.3.3 1 .2.8.2-4.5.2-.8.2.1.3 3.6.2-6.6.2 10.9.2-5.4.2-1.8.3 3.7.2 1.2.2-2.4.2 1.3.2-3.8.3 4 .2-.3.2-3.4.2 4 .2-4.9.3-.3 0-3.5.2 1.8.2 2.4.2-5.4.2 6.2.3-.4.2-.4.2-7.1.2 5.3.2 2 .3-4.5.2 2 .2-6.9.2 9.7.2-3.6.3 3.3.2-7.9.2 7.6.2-2.4.2 2.7.3-5.1.2 1.5.2 9.1.2-8.6.2-.2.3.5.2-1.7.2 7.7.2 1.7.2-6 .3-3.5.2 8.6.2-.2.2-1.7.2.6.3-7 .2 2.8.2-3.9.2-.2.2 5.8.3-5.2.2 7.3.2-6.5.2-3 .2 3.6.3 3.4.2-4.3.2-4.7.2 4 .2 2.4.3-5.8.2-.1.2 4.3.2-2 .2-4.6.3 2.4.2-1.1.1 2.3.1.9.2 2.4.2-.7.3-5.3.2 4.9.2.6.2-.5.2 1.3.3-4.2.2-.2.2 5.5.2-6.1.2-5.4.3 10.4.2-6 .2 1 .2-2.2.2.4.3 1.1.2 3.1.2 2.5.2-9 .2 9.2.3-5.5.2 1.4.2 4.7.2-1.6.2-4.4.3 10.3.2-7.7.2 3.2.2-.5.2 2.1.3-5.3.2 4.6.2-4.6.2 5.7.2-5.2.3.8.2 7 .2-5 .2-.6.2 5.5.3-5.4.2-2.5.2 4.2.2-5.4.2 6.3.3.5.2-5 .2.7.2 2.7.2-.5.3-2.7.2 4.4.2-7.3.2 5.3.2 1.5.3 1.2.2-4 .2 5.4.2-2.7.2-1.8.3-1.5.2.9.2 4.5.2-4.1.2 2.7.3 2.2.2.9.2 3 .2-6.3.2-3.2.3 6.4.2-1.9.2 2.2.2-4 .2 3.9.3-2 .2 0 .2 0 .2-.5.2-1.2.3.3.2 3.4.2-4.7.2 6.5.2-4.5.3 4 .2-2.4.2-.1.2 6.9.2-8.1.3-3.3.2 2.6.2 2.1.2 7.7.2-5.2.3 2.3.2-6.9.2 3.9.2.9.2 3.3.1-7 .2 4.2.2-1.7.2-4.9.2 1.4.2-1.8.3-6 .2 8.7.2.2.2-2.3.2-2.4.3 8.6.2-3.4.2 2.8.2 2 .2-5.1.3 4.2.2-2.9.2 0 .2.3.2 0 .3 2.8.2-3 .2 0 .2-.6.2 2.3.3-3.9.2.9.2 2.2.2-1.3.2 1.2.3-1 .2 7.9.2-2.4.2-2.8.2-1.3.3 6.5.2-5.6.2-1.2.2 1.1.2-.4.3 3.4.2-3.2.2 5.1.2-8.1.2 4.8.3-5.4.2 8 .2-6.2.2.5.2 2.4.3 1.4.2-7.2.2 3.5.2-4 .2 5.2.3-1.9.2-.5.2-1.4.2.9.2-1.4.3 4 .2 3.4.2-10.7.2 6.5.2-2.4.3 2 .2-4.2.2 2.4.2-2.6.2 6.2.3-2.5 0-.3" stroke="#231f20" stroke-width="1.15" fill="none" stroke-linejoin="round" />
<line x1="582.60" y1="140.70" x2="582.60" y2="172.60" stroke="#231f20" stroke-width="1.3" />
<text x="592.2" y="162.6" font-size="21.85" text-anchor="start" font-weight="normal" fill="#231f20" stroke="#231f20" stroke-width="0.3" >1 mV</text>
<text x="222.3" y="308.4" font-size="21.85" text-anchor="start" font-weight="normal" fill="#231f20" stroke="#231f20" stroke-width="0.3" >-52 mV</text>
<path d="M221 520l.4 4 .3-5 .3.7.4-2 .3 7 .4-4.5.3.4.4-1.8.2 3.3.1-6.6.4 4.3.3 5.4.4-4.4.3 1.5.4 2.5.3-2.4.4 1.3.3 2 .1-1.4.3.2.3-1.4.4 1.5.3-.4.4 3.4.3-2.1.4-2.4.3-3.8.1 5.8.3-17.7.3-24.3.1-4.4.3 2 .3 4.5.4-3.9 0 1.5.3 2 .4 2.5.3-1.8 0 .4.4.1.3 4.1.3-.7.1-2.3.3-2 .4 1.8.2 2.5.1-2.4.4 3.5.3-.6.2-.2.2.7.3-.1.4-2.1.1 1.1.2 5.4.4-5.7.3 1.3.1 3.4.3-2.6.3-.6.4.2 0 3.5.3 1.4.4 1.3.3-2.5 0 1.5.4-3.5.3 2.8.3-1.1.1 1.3.3 1.5.4 1.4.2-4.1.1 4.1.4-2.7.3-.6.2 2.2.2-2.3.3 3.4.4 1.3.1-.7.2.9.4-1.7.3 1.5.1-3.2.3 3.5.3-2 .4 1.2 0 .2.3.9.4-3.8.3 1.1 0 2.7.4 2.3.3.5.3.7.1 1.5.3-1.1.4-.2.2-1.2.1-.1.4 1.5.3 2.2.2-.6.2-.3.3-.6.4 1.4.1-.6.2-.5.4-.4.3-1.1.1-1.1.3 3.3.3-.4.4-1.1 0 .7.3 5.4.4-6.4.3 2.2 0 1.6.4-2.6.3 1.8.3 3 .1-1.1.3-.5.4-.2.2.4.1 1.7.4-2.8.3-.7.2.9.2 2.3.3-1 .4 1 .1-5.2.2 6.2.4 1.5.3-1.6.1-3.2.3-.6.3 2.7.4-2.6 0 3.5.3-2 .4 3.5.3 1.2 0-6.5.4 4.5.3-2.1.3-1.5.1 1.4.3 1.4.4 2.5.2-5.5.1 4.6.4 2.2.3-2.7.2.1.2-.4.3-2.9.4 3.2.1 0 .2 1.3.4 3.7.3-3.4.1-1.1.3 2.2.3-5.5.4-.1 0 2.2.3-.1.4 2.5.3-2.8 0 4.2.4-.7.3-.6.3-2.3.1 1.4.3 1.3.4-3.5.2 2.6.1 1.2.4-.9.3 2.8.2 0 .2-5.1.3 2.3.4-1.6.1 2.5.2-3.5.4 4 .3-2 .1 1.2.3-2.4.3-3.2.4 7.6 0-4.6.3 3 .4-1.9.3.8 0 2.5.4-2.4.3 2.4.3-5.7.1 5.1.3-2.4.4.8.2.4.1.2.4 3.3.3-6.9.2 3.6.2-1.3.3 3.8.4-3.4.1 1.4.2-1.9.4 2.2.3.9.1-3.5.3.8.3-3.1.4 3.4 0 .7.3-2.6.4 3.5.3-6.7 0 .2.4 1.5.3 1.7.3 1 .1-.2.3.2.4 2.2.2-2.8.1-1.5.4.3.3 7.4.2-9.1.2 4.5.3 3.4.4-1.5.1-2.6.2 2.1.4 2.3.3 1 .1-3.9.3 3.3.3-.8.4 1.8 0 1.1.3-3.8.4-2.5.3 3.3 0 2.7.4-2.3.3-1.5.3 3.7.1-6.8.3 3.4.4-3.5.2 1.3.1.5.4 3.4.3-4.7.2.5.2-2.1.3 4.6.4-2 .1 1.7.2-3.1.4 1.4.3 2.7.1-3 .3 1.6.3-.3.4-1.5 0-2.7.3 5.1.4-.5.3 1.6 0-5.9.4.3.3-.4.3 2.3.1 4.2.3-.7.4-1 .2.6.1.9.4-2.1.3 1.4.2-.2.2-5.2.3 4 .4 3.1.1-3.5.2.6.4-1.6.3.1.1 3 .3-2.9.3-1.2.4-4.5 0 5 .3-3.3.4 0 .3 5.3 0-.4.4-5.6.3 5.8.3-.8.1-2.8.3 3.3.4-4.2.2 1.5.1-.5.4 1.3.3 4.8.2-4 .2.7.3.4.4 2.6.1-.8.2 1.5.4-2.8.3-.9.1.8.3.7.3-1.5.4 2 0 3 .3-4.8.4 1.3.3 2.4 0-4.1.4-.1.3 0 .3 3.7.1 0 .3-.9.4.8.2 2.2.1-.4.4-3.6.3 2.8.2.5.2 1.3.3-2.6.4-.6.1.2.2-3 .4 3.7.3-1.3.1 1.8.3-3.4.3.8.4-1.1 0-.1.3 3.1.4-2.6.3 1.6 0-3.1.4 2.3.3-3.1.3 2.9.1.1.3 2.3.4-.2.2-.7.1 2.3.4-1 .3.6.2 0 .2-2.3.3-.9.4.6.1-1.7.2 1.3.4 1.6.3-.6.1-2.4.3-1.9.3 2.5.4-.4 0 1.9.3-3.2.4.7.3 1.3 0-2.3.4 1 .3 3.4.3.2.1-1.2.3 0 .4-1.1.2 3.7.1-1.6.4 1 .3-1.7.2.2.2-.6.3 1.2.4 1.6.1-2.4.2-4.9.4 1.2.3-1.1.1 1.3.3 2.9.2 0 .1-.9.4 3.4.3 1 .4 1.3.3 3 .4 3.5.1 5.2.2-2 .4 10.7.3 5.2.4 2.4.3 5.9.4 3.6 0 1.2.3 6.9.4 4.3.3 8 .4 6.8.3 4.7.3 5.6.1.2.3 4.1.4.8.3 6.4.4 3.2.3 2.2.2 7.9.2-5 .3 1.4.4 3.5.3-2.8.4 4.5.1-1.2.2.3.4.7.3-.4.4 0 .3-2.4.2 1.1.2-2.2.3-3.5.4 1.6.3-4.8.4-2 .3 2.5.1-1.2.3-.9.3 1.4.4-.6.3-4.7.2 2.7.2-1.5.3 5.9.4 1.4.3 7.2.3-.2.1-2 .3 3.4.4-.2.3 4.4.4 2.3.3 1.8 0-5.1.4 1.6.3.2.4-1.3.3.1.3-5.7.1 3.9.3-3.4.4.4.3-1 .4-.4.3-3.5 0 1.4.4-3.5.3-.5.4 3.5.3-2.5.4-3.8.3 1.3.4 1.8.3 2.9.4-1.1.3-1.7.4-5.4.3 2.8 0 1.7.4-.6.3-.9.4-1.5.3 2.9.4-1.7.3-4.1.4-1.1.3 5.8.4-5.8.3 2.2.4 1.6.3-6 .4 1.8.3-2 .1 2.5.3-.6.3 2.7.4-3.6.3-2 .4 2.1.3-4.6.4-.2.3 5 .4-6.4.3-.3.4.5.3-2.6.4-2.5.3 5.8.4-4.5.3.1.4-.7.3-2 .4-.7.3 1.9.4 4 .3-4.2.4-.5.3-4.9.4 2.6.3-2.5.4 3.7.3-3.1.3.5.1-.8.3-1.8.4-2.7.3 3.6.4-4.9.3-.7.4 1.3.3-1.7.4 1.7.3.4.4-1.7.3-.9.4-1.1.3.2.4-6.3.3 3.9.4-3.2.3-1.3.4 1.6.3-1.2.4.8.3 0 .4-7.7.2 4.1.1 4.1.4-2.9.3-.3.4-4 .3-3.8.4-.2.3 2.7.4-.7.3-4.1.4 0 .3-.7.4-5.1.3 1.8.4 3.4.3 0 .4-5.7.3 3.1.4-5.4.3-1.7.4-3 .2 6.8.1-2.7.4 4.9.3-5.7.4-1.3.3-5.1.4 5.8.3-4.9.4 0 .3-5 .4 4.9.3-1 .4-4.4.3 1.2.4.2.3.2.4-3.1.3 2.6.4-5.3.3-2 .4-.1.2-5 .1 3.7.4 3.2.3-2.7.4-2.9.3 2.2.4-5.5.3 2.3.4 1.1.3-.4.4-3.9.3 2.2.4.8 0-4.4.3 2 .4-5.1.3-.6.4 5.5.3-1.6.4 0 .3-1.7.4.5.3 2.1.4 2.1.3-3.9.4-2.6.3 5.4.4-1.4.3.4.4-1 .3 4.4.4-4.5.3.8.4-5.2 0 2.3.3-.5.4.8.3 0 .4-2.2.3 3.8.4-5.1.3.7.4 1.3.3-3.2.4 3.9.3-.2.4-1.6.3 4.6.4-3.7.3 1.1.4-2.6.3-1.4.4 1.9.3 0 .4-.3 0 2.8.3-6.4.4 2.7.3-1.4.4 5.9.3-3.9.4 0 .3-1.7.4 4.2.3-3 .4 1.1.3-4.7.4 6 .3-2.3.4.2.3 1 .4-2.8.3.7.4 1.9.3-.5.4-1.5.3.7.4-.6.3 2 .4.3.3-1.9.4 3.7.3-7.5.4 2.6.3 4 .4-4.5.3-3 .4 5.4.3-1.5.4-3.3.3 3.5.4-3.5.3-.3.4 1.9.3-1.1.4-1.5.3 2 .4-.8.3 2.3.4-.1.3 1.4.4-2.9.3-1.2.4-.3 0 2.7.3-12.4.4-18.7.1-8.5.2 3.4.4-3.5.3 5.1.1-2.8.3 2.4.3.8.4-1.5 0 .8.3-1.3.4 2.8.3 3.6 0 5.7.4-6.3.3-.4.3-1.9.1 3.7.3-4.9.4 2 .2 2 .1-2.4.4 5.3.3-.2.2-3 .2.7.3-1.2.4.5.1 3.5.2.8.4.2.3.1.1-1.1.3 2.2.3-3.1.4 2.9 0 3 .3.5.4-2.6.3 1.1 0 3.3.4.7.3-6.7.3 2.4.1.7.3 2.2.4-3.6.2 2.9.1-2.3.4 6 .3-3 .2-.5.2.4.3 3.4.4 0 .1-2.6.2 2.5.4-2.8.3 1.5.1-1.5.3-.5.3 1.6.4-.3 0 2.7.3 1.1.4-2.2.3-1.5 0 4.3.4-5.2.3.5.3 5.9.1 0 .3.6.4-2.4.2-2.1.1 1.3.4 2.6.3-3 .2.1.2-1.5.3.7.4 4.3.1-.7.2-3.1.4.6.3.7.1 1.5.3-2.9.3 1.9.4-3.8 0 1.4.3 3.7.4.8.3-3.7 0 .7.4 3.3.3-1.8.3 0 .1 2.8.3 0 .4 2.8.2-.6.1-2.3.4 1 .3.5.2-2.3.2 1 .3 4.5.4-5.6.1 5.1.2-1.7.4-.7.3 1.1.1-.1.3 1.4.3-3.3.4.8 0-.7.3 4.7.4-1.6.3-4.1 0 1.3.4-.5.3 1.8.3.6.1 4.6.3-8.4.4 5.7.2-1.2.1-2.4.4 1.8.3-.4.2 1.1.2 1.9.3-5.4.4 5.1.1-3.3.2 3.8.4-2.2.3 1.2.1-1.4.3.6.3-2.3.4-1.1 0 3.5.3.8.4 3.3.3-8.2 0 4.5.4 2.7.3-5.1.3 2.3.1 5 .3-1.6.4-5 .2 4.6.1-.6.4-.4.3-.8.2.2.2-1.1.3.6.4 2.9.1-1.3.2 3.8.4-4.2.3-4.2.1 3.8.3.6.3.1.4-1.7 0-1.5.3 4.2.4-3.9.3 3.4 0-1.6.4-1.7.3 5.3.3-7.2.1 3.6.3 3.2.4-1.8.2 3 .1-2.5.4-1.1.3 4.5.2-4.9.2.5.3-2.3.4.5.1 2.9.2.1.4-1.1.3-1.8.1 2.9.3-4.1.3 2.6.4-.3 0-.8.3 1.8.4-2 .3 0 0 4.8.4-1.3.3.6.3-2.4.1 2.6.3.1.4.1.2 2.8.1-5 .4.6.3-.1.2-7.5.2 5 .3 2.6.4 1.4.1-2.5.2 3.7.4.2.3-3.3.1 4.1.3.6.3-2.3.4-3.3 0 5.3.3-3.7.4-.7.3 1.1 0-1.1.4 3.4.3-.9.3.2.1-.7.3-3.3.4 1.2.2 1.9.1-2.8.4 7 .3-6.6.2-.5.2 4.4.3-.4.4-1.6.1.3.2 1.1.4.9.3.8.1-2.3.3 1.6.3.3.4-.8 0-7.8.3 4.3.4.3.3 1.2 0 .7.4 1 .3-.9.3-1.6.1.7.3 4.2.4-4.4.2 1.3.1 2.4.4-3 .3-4.5.2 5.2.2-.9.3.4.4 1.5.1-1.5.2-1.6.4 2.4.3-1 .1-.1.3 0 .3-.3.4-1.5 0-.2.3 1.1.4-2.1.3-.8 0 5.5.4-3.3.3.9.3.2.1-.1.3-.3.4.1.2-1.2.1 4.3.4-3.4.3 3 .2-5.7.2 1.5.3 4.1.4-2.1.1-.9.2 2.3.4-2.8.3 1.9.1-4.3.3 3.7.3-.3.4 2.6 0 1 .3-3.7.4 5.5.3-4.1 0-3.3.4-1.5.3 8 .3-3 .1-1 .3-.5.4-1 .2 5 .1-3.3.4 3.2.3-3.9.2-4 .2 6.5.3-2.8.4-.1.1 3.5.2-3.1.4 3.1.3-2.2.1-1 .3 2.7.3-2.2.4 3.8.3-1.3.4 1.6.3-.2 0-1.8.4 2.2.3-2.3.3 1.7.1-2.8.3 1.7.4.2.2-3.2.1.7.4-.1.3 2.4.2-2.5.2 2.6.3 1.9.4-2.6.1-4.3.2 4 .4 2.2.3-3 .1 2 .3-.9.3-.3.4-1.8 0-.4.3.8.4.6.3.6 0-.1.4-1.5.3 1 .3.7.1-4.3.3 1.7.4.2.2 1 .1 0 .4-.2.3-1.2.2 3.6.2-.2.3-4.1.4 3.6.1-2 .2 5.6.4-4.2.3.6.1 1.7.3-.5.1.3.2 4.3.4-.4.3 3.4.4 2.7.3-2.4.4 7.2 0-2.2.3 4.9.4 2.2.3 8.4.4 4.5.3 3.5.3 9.6.1-1.9.3 4.7.4 7.6.3 7.3.4 6.8.3 4.4.2 4.3.2 2.7.3-1.5.4 4.9.3 2.9.4 5.8.3 5.8.1-.8.3-1.5.3 4.3.4 4.1.3-1.3.3 1.8.1.8.3-5.6.4 4.5.3-1.4.4-.8.3-4 .1-.8.3-1 .3-.4.4-1.8.3-2 .4 1.7.3-2.4 0-4.5.4-.8.3 3.6.4-4.7.2 3 .1 2.2.4-2.9.3 2.3.4 2.4.3-.2.2.5.2 2 .3 3.4.4-1 .3 2.2.4.2.3-.1.4 6.8.2-7.3.1 2.8.4 1.2.3-5.1.4 3.3.3.3.4-5.8.1 2 .2-4 .4 1.2.3-1.9.4-1.6.3.4.4-3 .3.1.2-2 .2-2.8.3 3.6.4.8.3-2.7.3 6.3.1-2.1.3 1.7.4-1.7.3 3.3.4 1.4.3-.3.2 1 .2-4.4.3 6.6.4-5.7.3-3.2.4 2.1.3-.6.1 2.9.3-3.1.3 2.1.4-2.6.3 5.7.4-3.5.3 2.1.4-5.7.3 2.6.4-3.6.3 2.2.4-.3.3-5.6.4.7.3.3.4-1.9.3 1 .4-1.5.1-.9.2 2.6.4 0 .3-4.6.4 1.1.3-.2.4-1.9.3-1.3.4 2.4.3-.2.4-1 .3-2.2.4 3.4.3-1.3.4-4.7.3-.2.4 1.5.3-4.3.4 1.6.3-2.4.4-2.3.3.3.4-2.9.3 1.5.1-3.4.3 7.8.3-2.6.4-2.1.3-2.6.4 1.6.3-.6.4-1.7.3-1.1.4-5.4.3 1.1.4-2.9.3-1.5.4-.7.3 1.6.4.2.3-5.8.4 5.7.3-1.6.4-3.9.3-.4.4-.1.3 1.4.4-3.2 0-.7.3 2.4.4-5.6.3 3.5.4 1.2.3-3 .4-.2.3-1.5.4-.9.3-2.4.4-2.7.3-.2.4-.5.3 1.1.4-.3.3-2.8.4-3 .3-.6.4.1.3 1.9.4-3.4 0-1 .3-3.2.4 2.5.3-2.8.4-1.9.3-1.8.4 1.8.3-5.3.4 2.6.3-2.5.4-3.4.3.6.4-3.8.3-2.5.4-.3.1-1.5.2 2.4.4-1.5.3.1.4.6.3-9.4.4 5.8.3-5.4.4 2.8.3-3.5.4 2.4.3 1.5.3-6.3.1 4.1.3-1.5.4-3 .3 5.5.4-.8.3-1.1.4-.4.3 6.2.4-7.7.3-3.4.4 1.3.3.8.4-.4.3-.1.4-2.2.3 3.2.4-2.4.3-1.4.4.7.3.3.4 2.3.3-1.1.4-1.7.2.5.1.2.4 3.5.3-5.5.4 1.8.3.7.4-3.1.3 2.9.4-.2.3-1.4.4 2.1.3 1.4.4-.1.3-3.2.4 1.3.3 4.2.4-7 .3 1.4.4 1.6.3-1.6.4 1.2.3-1 .4 1 .3 1.9.2-3.5.2 1.2.3-.4.4-.1.3.9.4-2 .3 3.6.4 1.7.3 0 .4-.5.3-4.4.4 5.2.3-4.4.4 1.5.3 3.4.4-5.2.3 3.8.4-1.5.3-.6.4-1.2.3 2.9.4-2.3.3 2.9.4.4.1-4.9.2 1.1.4.5.3-.7.4.1.3 2.3.4-.9.3-2.6.4 2.7.3 2 .4-3.4.3.9.4 5.4.3-1.2.4-5.7.3.4.4 3.6.3-3 .4 1.5.3-.5.4 2.2.1-6.4.2.2.4 2.4.3 4.6.4-2.5.3-2.5.4 5.3.3 1.2.4-2 .3.8.4 1.8.3 2.2.4-2.1.3 1 .4-.3.2-.6.1-1.5.4 2.3.3-.2.4.5.3 3.4.4-.6.3 1.5.4-4.4.3 4.2.1-2.2.3 1 .3 1.1.4 5.4.3.8.2-2.9.2 1.9.3 6.3.4 3.2.2 7" stroke="#231f20" stroke-width="1.1" fill="none" stroke-linejoin="round" />
<line x1="583.50" y1="624.50" x2="583.50" y2="652.00" stroke="#231f20" stroke-width="1.3" />
<text x="592.0" y="643.6" font-size="21.85" text-anchor="start" font-weight="normal" fill="#231f20" stroke="#231f20" stroke-width="0.3" >1 mV</text>
<text x="214.3" y="574.8" font-size="21.85" text-anchor="start" font-weight="normal" fill="#231f20" stroke="#231f20" stroke-width="0.3" >-46 mV</text>
<path d="M221 886.7l.2 5.2.2-.1.2 1.8.2 1.2.2-8.4.2 1.5.2 10.8.2-4.7.2.2.2-.2.2 5.4.2-14.1.2 10.6.2-10.2.2 7 .2 2.6.2-12.6.2 7.7.2-3 .2 1.4 0 1.6.2-4.8.2 0 .2 7.8.2 1 .2-6.3.2-4 .2 16.1.2-5.2.2-2.6.2-7 .2 1 .2 2.2.2-4.7.2 12.3.2-5.7 0 1 .2-5.4.2 2 .2 1.4.2 5.4.2-2.8.2-.7.2 2.5.2.8.2 3.9.2-5.3.2-2 .1 3.7.1.3.2-13.8.2-6.9.2-9.4 0 2 .2 7.6.2 5.6.2 9.8.2 10.5 0 .7.2 7.2.2 7.6.2 5.9.2 7.5.2 9.2.2 4.8.2 9.2.2 5.1.1 6.4.1.4.2.8.2 5.1.2 0 .2 2 .1 1.4.1-2.2.2 2.6.2-6.6.2-.4.2-6.8.2-.4.2-2 .2-1.7 0-1.5.2 1.5.2 3.3.2-6.9.2-1.4.2.2.2 11.3.2-5.8.2-4.3.2.3.2-7.4.2 1.6.2 1.8.2-4 .2-4.1.2-.3.2 3.6.2-2.8.2-10.7.2 7.9.2 5.3 0-8.1.2 2.4.2-7.4.2 10.2.2-8.3.2-1.2.2 4.7.2 10 .2-13.7.2-3.2.2 6.5.2-.6.2 4.5.2-14.1.2-2.6.2 5.4 0 3.3.2-.1.2 1.8.2-13.3.2 2.6.2 2.6.2 4 .2-4 .2-4.9.2-3.9.2 7.8.2-.7.2 8.4.2-13.8.2 7.7.2-12.4.2 1.6.2-2 .2.9 0-1 .2.3.2 1.3.2-2.2.2 4.4.2-4 .2.5.2 5.6.2-7.8.2-1.1.2-2.2.2-.6.2.7.2-6.5.2 7.6.2 1.6.2-3 .2-9.1 0-3.7.2 2.7.2 2 .2 2.2.2-6.5.2-1.6.2 7.3.2-11.1.2 6.7.2-.1.2-11 .2 5.4.2-4 .2-4.1.2-4.2.2-.9.2 6.6.2-6.1.2 1 0-5.4.2 1.4.2.9.2-6.8.2-.5.2 8.6.2-1.5.2-5 .2 2.2.2 3.4.2 4.4.2-11.1.2 6.8.2 7.7.2-9.6.2 6.1.2-17.6.2 19.5.2-5.9.2-8.9.2 11.2.2 1.4.2.1.2-5.7.2-4.2.2.8.2 2 .2 2.3.2-4.8.2 2.9.2 4.3.2-2.7.2 9.4.2-1 .2-15.7.2 3.7.2-2.1.2.4.2 6.8.2-7.8.2-.2.2 4.3.2 5.7.2-4.7.2-.3.2 6.2.2-2.6.2 1.8.2 2.5.2-8.3.2 5.3.2-4.9.2 8.2.2-2 .2-7.4.2 10.7.2-12.4.2 8.9.2-4.5.2-5.2.2-1.7.2 4.5.2.4.2-3.6.2 6.9.2-8.4.2 5.8.2-.8.2-8.3.2 10.6.2-7.5.2-5.4.2 8.4.2 1.6.2 5 .2-6.3.2 7.9.2-1.4.2-.3.2.6.2-4.4.2-3.7.2 4.9 0 3.1.2-2.1.2-2.7.2-5.3.2 10.4.2-1.9.2-6.4.2 5.5.2.9.2-4.1.2 4.3.2-1.8.2-9.5.2 5.6.2 1.5.2 3.1.2 3.8.2-14.4.2 7.3.2 4.3.2 1.1.2.7.2-11.2.2 2 .2-4 .2 8.4.2-8.1.2 11.7.2-.5.2-.7.2-11.3.2 7 .2 6.6.2-10.3.2 4.6.2-.2.2 4.9.2-2 .2-1 .2-3.1.2 2.7.2-1 .2 3.9.2-3.4.2 5.1.2-13.4.2 15.5.2-4.9.2 6.1.2-4.3.2 5.9.2 3.2.2-10.1.2 3 .2-3 .2.5.2-8.6.2 6 .2-2.2.2-3.5.2 3.7.2-7.4.2 13.9.2-4 .2 6.6.2-14.3.2-.2.2 5.8.2-9.9.2 10 .2-5.1.2 1.4.2 1 .2.3.2 7.3.2-4 .2-8.4.2 10.1.2-9.9.2 6.3.2-5.1.2 3.5.2 9 .2-8.1.2-.2.2 1.2.2.4.2 8.8.2-11.3.2-1.6.2 9 .2-11.2.2 5.5.2 5.6.2-4.2.2-2.6.2-2.2.2-1 .2 1.2.2 3.2.2 6 0-.8.2-6.9.2-1.2.2 7.2.2-10.5.2 5.4.2 1.3.2-4.3.2 0 .2 5.6.2-9.3.2 3.8.2-.2.2 3.4.2-5.9.2 10.7.2-7.4.2.8.2-.2.2-3.9.2-.6.2 11.1.2-4.9.2.1.2 6.3.2-7.9.2 5.9.2-.4.2-3 .2 7.2.2-10.4.2 7.4.2-7.1.2 4.7.2 5.5.2-4.2.2-6 .2 1.6.2-.4.2-3.1.2.6.2 7.8.2 1.9.2-10.5.2 7.8.2 3.9.2-2.4.2-5.5.2 9.3.2-13.3.2 9.6.2 4.9.2-17.2.2 10.3.2 0 .2.1.2-3.6.2 3.3.2-7.2.2 7.8.2 3.1.2-5 .2-1.1.2 2.2.2 1.7.2 1.7.2.9.2.9.2-7.7.2-6.5.2 15.4.2 3.3.2-14.5.2 1.7.2 3.9.2 2.3.2-1 .2 2.1.2-6.7.2 3.2.2 1.4.2-3 .2 7.3.2-2.7.2 1.5.2-5.6.2 6.2.2-8.4.2 6.2.2-13.7.2 6.8.2 7.5.2-5 .2 2.4.2-8.2.2 12.5.2-4.2.2-2.9.2 2.9.2.6.2 4.6 0-6.7.2-7.2.2 5.1.2 6.1.2-2.5.2-4.4.2 3.5.2-2.4.2 3.5.2-10.8.2 4.7.2 7.7.2-3.4.2 1.6.2 8.4.2-10.2.2 3.3.2-3.1.2 0 .2 2.5.2-7.9.2-2.3.2 15.4.2-5.9.2 6 .2-3.3.2-2 .2 2.5.2-.5.2-8.7.2 11 .2-10.9.2 3.6.2 10.2.2-9.6.2 8.5.2-7.4.2 5 .2-1.8.2 2.3.2-4.9.2-.9.2 6 .2-8.8.2 4 .2 6.4.2-7.2.2-1.4.2-1.8.2 6.5.2-1.5.2.1.2-3.8.2 10.2.2-10.8.2-6 .2 9.4.2 0 .2.4.2-6.1.2 14.3.2-6.1.2 1.5.2-5.9.2 10.9.2-3.3.2 5.4.2-8.2.2-4.2.2 6.2.2-5.4.2 5.3.2-7.4.2 5 .2.2.2 1.5.2-2.7.2-.3.2 4.1.2-2.4.2 3.7.2-1.4.2-8.2.2 9.5.2 7.2.2-6.9.2 1.3.2-1 .2-4.5.2-2.8.2 7.5.2 1 .2-1.2.2 1 .2.5.2-2.2.2.8.2-1.8.2 1.9.2-3.3.2.6 0 3.4.2-9.7.2-11.8.2.7.1-9.7.1 19.1.2 14 .2 17.6.2 14.7.1 7.6.1 5.7.2 8 .2 6.4.2 9 .2 8.2.2 7.8.2 5.4.2 6.6.2 10.3.2 6.6 0 1.8.2.4.2-.7.2-4.1.2.6.2-1 .2-3.9.2-.5.2.3 0-2.3.2-3 .2-2.5.2 1.6.2-3.5.2 2.4.2-6.6.2 5.8.2-1 .2-11.2.2 8 .2-7.2.2 6.3.2-5.6.2-2.6.2 1.1 0-6.5.2 3.6.2-1.1.2-5.5.2 1.6.2-6.6.2 6.2.2-9.2.2 6.9.2-2.5.2-.1.2-6.4.2 14.4.2-15.6.2.2.2-3.5.2 7.8.2-10.4.2 4.5.2-9.1.2 3.8 0-2.7.2 4.8.2-8.4.2-3.4.2 4.5.2-6.6.2 1.7.2 6.3.2-13.3.2 10.2.2-4.2.2-1.2.2 5.7.2.8.2-6.6.2 1.7.2 5.9.2-.9.2-5.6.2-4.8.2-2.6.2.5.2 5.4.2-1.6.2-2.4.2 5.5.2-7.1.2-1.5.2-.2.2 9.1.2-19.5 0 10.3.2-1 .2-3.9.2 9.3.2-5.8.2-.7.2-7.1.2 6.8.2-4.1.2 2.4.2-.2.2-2.9.2 5.6.2 1.8.2-4.3.2-3.6.2-9 .2 11.1.2-.4.2-7.3.2-3.2.2 4.7.2-7.2.2 4.7.2-9.2.2-.6.2 3.7.2-7.2.2 6.6.2 2.3.2-7.5 0 10.4.2-6.4.2 5.3.2-1.6.2-3.7.2-1 .2-5.3.2 3.5.2-.6.2 9.2.2-1.7.2-11.2.2 10.2.2-2.4.2-2.6.2 3.4.2.4.2-6.5.2.1.2 1.4.2-5 .2 6 .2-3.3.2-3.3.2.1.2 6.9.2 2.8.2-1.4.2-5.2.2 6.3.2-.1.2 3 .2 1.4.2-10.1.2 3.2.2-2.8.2-1.8.2 11.6.2-6.2.2-11.7.2 9.9 0-4.6.2 6.7.2-4.1.2.4.2 1.9.2 2.4.2-1.7.2-2.3.2 1.3.2 2.7.2-8 .2 2.7.2.4.2-3.6.2 4.5.2-6.6.2 4.1.2-2.7.2 6.8.2-4 .2.9.2 2.9.2-8.5.2 7.8.2-4.7.2 2 .2.4.2 4.6.2-1.1.2 3.5.2-7.4.2-2.5.2-1.5.2 6.6.2 5 .2-5.7.2-3.5.2 4.2.2.8.2-1.9.2-2.2.2-8.1.2 8.4.2 5.8.2-2.8.2-9.2.2 9.8.2-8.1.2 15.7.2-7.9.2-6.4.2 9.3.2-7.1.2 4 .2-2.6.2-4.7.2 7.9.2-7.9.2 11 .2-5 .2-5.6.2-3.4.2 14.4.2.6.2-12.3.2 12.6.2-7.1.2-2.2.2 1.7.2-.1.2 6.8.2-7.2.2-7.5.2 15.2.2-3.9.2-8.8.2 2.5.2-1.3.2 5.8.2 2.8.2-2.2.2-2.6.2-1.3.2 7.3.2-3.2.2 7.4.2-14 .2 6.4.2-2.8.2-2.6.2 8.2.2-5.3.2-5.2.2 2.1.2 4.5.2-10.4.2 12.2.2-3.6.2-2.9.2 7.1.2.1 0-3.3.2-1.3.2 8.6.2-1.2.2-9.6.2 3.1.2.3.2-.1.2-4.9.2 9.8.2-3.7.2-1.7.2 3.9.2-9.5.2 1.2.2 2.4.2-3.5.2 2.3.2 2.4.2-1.6.2 5.4.2-7.8.2 5.8.2-9.1.2 5.4.2-2.9.2 10.3.2-4 .2-.4.2 4.6.2-2.9.2-2.3.2-5 .2-5.1.2 4 .2.1.2-1.5.2 1.4.2-4.9.2 15.1.2-11.3.2 3.7.2 7 .2-10.4.2 9.7.2 1 .2-7 .2-3.3.2 2.7.2-6.1.2 13.1.2-6 .2-2 .2-1.4.2 6.4.2 3.5.2-12.7.2 4.2.2-4.6.2 9.8.2-4 .2 9.9.2-10.5.2-2.1.2-1.7.2 4.9.2-11.3.2 9.2.2-1.4.2-4.5.2-.3.2 9 .2 3.5.2-8.9.2 4.9.2 6.5.2-10.2.2 1.9.2-3.9.2 4.4.2-1 .2-1.1.2-.2.2-3.8.2 3.4.2 1.8.2 6 .2-5.5.2-.4.2 5.1.2-2.9 0-6.5.2-1.1.2 4.9.2-1.8.2-4.7.2 4.4.2-.3.2 5.6.2-7.6.2 6.9.2-1.2.2-7.3.2 7.9.2-.8.2-9.8.2 15.4.2-12.4.2 1.1.2 3.2.2 5.5.2.8.2-2.4.2 6.6.2-5.4.2 3.3.2 7.3.2-13 .2-12.3.2 8.1.2-2.2.2 6.1.2-.1.2-7.7.2-.6.2 5.1.2-.9.2-10.4.2 15 .2-7 .2.5.2 3.5.2-6.2.2 3.2.2 5.4.2-.1.2-2.4.2-2.4.2-2 .2 9.5.2-5.2.2-2.4.2-7.3.2 5.8.2-5 .2 13.6.2-5.7.2-6.1.2 2.8.2 12.6.2-5.5.2-11.3.2 4.6.2-3 .2-2.5.2 10.3.2 11.2.2-5.6.2-7.1.2-3.2.2 4.2.2 2 .2-11.6.2-2.5.2 16.9.2-6 .2 5.6 0-4.3.2 4.8.2-8.5.2 4.1.2 3.6.2-4.5.2-7.4.2 5.7.2-7.6.2-3.7.2 8.7.2 4.5.2-2 .2-9.4.2 10.5.2-.2.2-6 .2-9.7.2 16.4.2 1.1.2-1.2.2-8.8.2.9.2 9.6.2-.6.2-1.3.2-4.3.2 3.2.2-3.3.2 1 .2-4.1.2 6.9.2-2.2.2 5.8.2-.9.2-9.5.2 11.4.2-13.2.2 8.5.2 2.6.2 1 .2-16 .2 14.5.2 2.7.2 1.3.2-17.8.2 6.6.2 2.7.2-1.7.2 8.3.2-9 .2 7.7.2-2.2.2-8.1.2 1.2.2 1.8.2 1 .2 3.5.2-4.5.2 4.1.2-9.5 0-4.6.2 7 .2-1.7.2-6.1.2-5.5.2 0 0 3.5.2 5.5.2 9.4.2 10.2.2 15.8.2 7.5 0 1.1.2 3.4.2 1.8.2-.8.2 5 .2 2 .2 2.2.2 3.1.2 0 .2 2.7.2 1.4.2 5 .2-.9.2 4.4.1-1.6.1 1.7.2-2.5.2-.9.2-.2.2-3 .2-2.2.2-7.1.2 9.1.2-8 .2.4.2-3.2.2 6.5 0-7.9.2 5.7.2 1.1.2 1 .2-2.9.2-4 .2-9.6.2 10.8.2-1.3.2-2.3.2-1.2.2-3.9.2-3.9.2 6.9.2-.5.2-13 0 10.2.2-3.5.2 1.7.2-3.4.2 2.9.2-1.6.2-.6.2-11.4.2 8.3.2-5.2.2-5.4.2 6.2.2-11.3.2 10.7.2 2.4.2-9.6.2 6.4.2-2.1.2.3.2-8.7.2 9.1.2-4 .2 2.6.2-6.8.2 3.5.2-4.8.2.6.2 2.4.2-5.5.2 3.6.2-4.8 0 3.9.2-5.7.2 4.7.2 2 .2-7.2.2 4.1.2-2.7.2-8.8.2 5.6.2 4.9.2-8.9.2-6.1.2 9 .2-6.5.2 10.6.2-9.2.2-.7.2-4 .2 3.7.2-6.4.2-4 0 3.3.2-5.2.2 8.5.2-13.8.2 3.3.2-4 .2-2.9.2 13.2.2-17.6.2 16.1.2-12.7.2 6.6.2 8.9.2-21.4.2 1.5.2 11.1.2-6.5.2-3.6.2-.2.2-4.7.2 2.8.2 6.4.2-8.6.1 1.2.1 5.3.2 2 .2-10.6.2 4 .2-1.3.2-2.4.2 1.4.2-.9.2-4.5.2.1.2 6.1.2 3.9.2 3 .2-7 .2.9.2 4.9.2-.9.2-4.8.2-.9.2 7.7.2-10.4.2 0 .2-3.8.2 9.4.2-3 .2 10.2.2-10.1.2 6.1.2 1.9.2 2.9.2-14.2.2 11.9.2-7.5.2-2 .2-.2.2-.4.2.2.2-9.6.2 12.3.2-1.8.2-2.5.2 5.2.2 10 0-8.3.2-4 .2 10 .2-12.1.2 2.7.2-3.6.2.2.2 5 .2-1.6.2-5.8.2 3.5.2 1.9.2-1 .2 2.5.2-1.1.2-.7.2 3.9.2-5.4.2 5.5.2-2.3.2-5.7.2 2 .2-.4.2 2.4.2 1.4.2-1.4.2-3 .2 9.2.2-.7.2-4 .2 4.7.2-3.8.2-1.9.2 1.2.2 12.6.2-7 .2.3.2-6 .2 4.7.2 8.4.2-8.2.2 4.1.2.6.2-1.3.2 3.4.2-5 .2.9.2-6 .2 14.1.2-10.9.2-.2 0 4.3.2-7.8.2 1.5.2-4.7.2 5 .2-2.8.2 5.3.2-2.9.2-1.7.2.3.2.8.2-.2.2 6.6.2-.6.2-4 .2-7.1.2 7 .2-5.6.2 6 .2-1.1.2-3.3.2-1.6.2 1.1.2 12.3.2-9.9.2-1 .2 6.5.2-1.6.2 2.1.2-9.6.2 1.5.2 19.4.2-14.5.2-.9.2 1.6.2 3.3.2-8.8.2 6.4.2-1.6.2 3 .2-1 .2-3.1.2-1.9.2-6.3.2 15.3.2-10.1.2 4.5.2 9.4.2-11 .2 4.2.2-2.7.2 3.2.2-3.1.2-2.7.2 8.8.2-5.2.2-4.7.2 5.4.2 3.2.2-7 .2 9.1.2-.6.2 6.2.2-13.4.2 5.8.2-9.5.2 6.1.2 3.3.2.1.2-1.3.2-1 .2-1.9.2 2.4.2 1 .2.6.2-.4.2 3.3.2 1.1.2-13.7.2 5.2.2.1.2-1.3.2 7.5.2-1.4.2-4.2.2.1.2 7.5.2-6.1.2 1.4.2 5.1.2-3.3.2 4 .2-4.9.2 4.3.2-6.3.2-2.9.2 4.5.2-9.9.2 15 .2 4 .2-3.5.2-3.2.2 4.2.2-4.6.2 4.4.2 3.7.2-7.5.2.6.2-4 .2.7.2.7.2-.3.2 5.1.2-11.8.2 6.3.2 5.3.2-4.9.2 2 .2-2 .2 5.2.2 1.6.2 3.7.2-3.6.2-6.8.2 4.7.2 2.5.2 3.7.2-15.1.2 9.7.2-9.3.2 12.6.2-.2.2.3.2.3.2-2.7.2-5.7.2 5.2.2 3.3.2-7.9.2-.6.2-5.3.2 11.7.2-7.8.2-1.1.2.1.2-2 .2 6.1.2 7.3.2-2.6.2 1.9.2.5 0-11.5.2 7.2.2 4.8.2 2.2.2-17.4.2.6.2 9.7.2-4 .2-1.1.2 5.1.2-4.5.2-6.5.2 11.1.2.6.2 1 .2 2.9.2-2.9.2-.8.2-2.3.2-5 .2 6 .2 5.1.2-.9.2 5.5.2-10 .2-6.3.2 11.9.2 1.6.2-10.8.2-1.1.2 7.2.2 3 .2-8.2.2 2.6.2-2.8.2-2.6.2-.2.2 7.2.2-1.7.2-.5.2-8.3.2 18.1.2-11.1.2 2.7.2-3.3.2 7.3.2-8.1.2 6.6.2-2.2.2 4.6.2-9 .2 2.9.2.2.2 9.4.2-15.4.2 8 .2-2.1.2 6.4.2 1.7.2-1.9.2 2 .2-.6.2-3 .2 1.9.2-7.5.2 4.8.2 1.1.2 2.8.2 4.7.2.4.2.3.2 2.4.2-14.6.2 12.2.2-4 .2-1.8.2-5.6.2 7.4.2 1 .2.7.2-6 .2 4.5.2.5.2 5.3.2-3.2.2-3.4.2 1.6.2.3.2 1.7.2-3.4.2 6.1.2-6.7.2.5.2 3.6.2-4.8.2-.6.2-8.7.2 12.6.2-3.8.2-.1.2 2.2.2-1.8.2-4.4.2 12.3.2-10.6.2 5.7.2 4.9.2-11.6.2 1.9.2-2.7.2 8.5.2-5.5.2-1.4.2 11.8.2-2 .2-6.5.2 10.6.2-4 .2 10.9.2-4.7.2-11.8.2 1.4.2-1.9.2 3.4.2.4.2 2.2.2-1.5.2-6.1.2 3.6.2 7.9.2-2.2.2-4.7.2-.4.2-.3.2-.5.2-4.4 0 7.7.2-11.4.2-3.9.2-14.1.2 1.9.2-2.1 0-8.7.2 23.9.2 12.9.2 14.3.2 15.1.2 21.2 0-1 .2 7.9.2 6.7.2 6.6.2 9.8.2 4.5.2 9.5.2 4.2.2 8 .1 2.6.1 3.1.2-5.8.2-.5.2 2.4.2-1.6.2 2.3.2-2.6.2-4 .2-1.6.2-9.9.2 1.4.2-.5 0 .9.2-5.9.2 1 .2-1.6.2 6.1.2-3.2.2-4.7.2-.6.2-.3.2-6.1.2.1 0-5.5.2 8.3.2-1 .2-4.1.2-1.6.2-1.6.2 7 .2-10.5.2-7.9.2.5.2 6.1.2 1.3.2-2.6.2 0 .2-5.3.2-6.6.2 1.1.2-8.1.2 5.9.2-6.9.2 4 .2-3.7.2-9.8.2 9.6.2-1.5.2-9.7 0 7.2.2 2 .2-5 .2 3.7.2-2.5.2 3.5.2-5 .2-2.9.2 1.9.2.4.2-2.7.2-1.9.2-3 .2.4.2-2.5.2 3.2.2-1.2.2-1.2.2-1.3.2-.9.2 6.7.2-2.6.2-5.8.2 3.8.2-5.1.2-.3.2-1.8.2-2 .2-3.9.2-5.9.2 9.7 0 4.8.2-7.8.2 5.2.2-3.9.2.1.2-6 .2 1.4.2-.4.2-10.5.2 9.5.2-2.1.2-9.1.2 14.7.2-3 .2 2.4.2-.4.2-4.8.2-1.3.2 3 .2-1.8.2 11.3.2-2.5.2-12.2.2.5.2 3.5.2-.9.2-5.5.2-2.2.2 11.8.2-3.3.2-11.5 0 .2.2 4.3.2 3.7.2 1.5.2-3.5.2-4.5.2 8.4.2 3.5.2-3.6.2-2 .2 5.9.2-2.6.2-5.8.2 4.9.2-6.8.2 8.9.2-2.6.2-6.5.2 5.9.2 4.1.2-13.6.2 9 .2 7.9.2-13.9.2 7.7.2-6.5.2 4.7.2-11.1.2 4.3.2 5.3.2 3.1.2.6.2-.6.2 3.5.2-2.1.2.2.2-8.3.2 3.8.2 14.6.2-4.8.2-5.8.2-.6.2 1.9.2-6 .2 9.9.2-11.8.2 1.2.2 9.9.2-19.6.2 10.6.2-9.9.2 5.5.2 3 .2.2.2 3.3.2-4.9.2 2.2.2-4.8.2 4.8.2-5.1.2 9.6.2-8 .2 8.2.2-3.9.2 1.1.2 7.1 0-4.9.2-8.3.2 11.3.2-16.3.2 14.5.2-3.2.2-4.9.2 5.9.2-2.2.2 10.7.2-11.7.2 10.6.2-2.1.2-8.6.2-.3.2 12.2.2-7.3.2 1.2.2-1.3.2-3.8.2 3.7.2-3.3.2-3.1.2 5 .2 11.2.2-1.3.2-7.7.2 1.4.2 2.7.2 4.8.2-3.9.2-3.4.2-1.2.2 7.6.2 5.4.2-16.3 0-7.7.2 12 .2-3.9.2 1.2.2 5.8.2-5.3.2-5.2.2-1.7.2 9.6.2-3.7.2 6.1.2-8.2.2 4.3.2-4.4.2 5.1.2.9.2 4.7.2 4.3.2-7.4.2-2.9.2 13.8.2-7.4.2 1.5.2.5.2 4.2.2-2.6.2-.9.2 2.1.2-7.1.2 1.3.2 1.4.2 0 .2-.6.2 1.6.2-.2.2-3.5.2-5.8.2 11.8.2.2.2-7 .2 6 0-1.1.2-3.1.2-7.8.2 2.7.2 1.3.2 9.9.2-12.1.2.7.2-2.4.2 4.3.2 2.1.2-11.8.2-2.7.2 15.7.2-2.8.2-1.2.2 6.1.2-1.3.2-13.1.2 9.1.2 5 .2-8 .2 1 .2 6.9.2-6.7.2-4.1.2 2.3.2-2.7.2 9.2.2-9.8.2 12.8.2-13.4.2 8.9.2-7.3.2 4.5.2 6.6.2-.3.2-.5.2-6 .2.7.2.4.2 1.8.2-4.1.2 6 .2-3 .2 4.9.2-3.6.2 2 .2-7 .2 1.9.2-4.3 0 4.3.2-1.2.2 4.6.2-9.7.2 18.9.2-14.5.2 5.8.2 0 .2-15.3.2 12 .2 7 .2-17.1.2 14.2.2-8.5.2 2 .2 1.5.2-10.7.2 7.9.2-3.6.2-.2.2 6.5.2 12.8.2-13.8.2 1.4.2-3.8.2-2.9.2 4.4.2 6 .2-6.2.2 3.1.2-6.8.2 12 .2-18.4.2 10.7.2-1.3.2-1.3.2-5.9.2-.4.2 5.3.2 1.6.2-6.5.2 1.1.2 7.2.2 1.1.2-6.7.2-.2.2-1.1.2 14.6.2-10.3.2-3.4.2 5.6 0 6 .2-5.8.2-12.8.2 5.7.2-1.6.2 1.4.2-3.3.2 3.5.2-4.1.2 6.2.2-1.5.2-6.4.2-2.9.2 4.5.2 3.5.2-.5.2-2.4.2-14.9.2 13.9.2-1.7.2 3.9.2-2.9.2 3.9.2-.5.2 14.6.2-10.2.2-5.2.2 1.6.2-1.3.2-.4.2-2.5.2.6.2 7.3.2.7.2-2.3.2 3.6.2-4.9.2-5 .2-3.3.2 5 .2 1 .2 1.3.2 2.7.2-7.4.2-.4.2 8.3.2 1.5.2-8.5.2 4 .2 4.9.2-4.2.2-.5.2-10.1.2 14.5.2-1.7.2-1.3.2-2.4.2-3.2.2 3.7.2-1.4.2 4.9.2-9.3.2 10.1.2-7.6.2 5.7.2-10.5.2 6.7.2 5.4.2-5.8.2-7.9.2 5.8.2 4.4.2-10.1.2-1.3.2 8 .2-7.6.2 8.6.2-9.1.2-2.4.2 4.1.2 10.1.2-10.1.2 4.5.2.5.2-5.8.2 9.9.2-5.8.2.8.2-9 .2-1.3.2-5.9.2 14.2.2-1 .2 3.3.2 2.9.2-8.3.2-1.4.2 4.9.2 6.1.2-12.9.2 8.5 0-3 .2.8.2 6.4.2-6.5.2-3 .2 5.9.2-3.1.2-2.5.2-.3.2 2.4.2-4 .2 4.2.2-.7.2 5.6.2-.5.2-2.7.2-4.8.2 1.3.2-5.2.2 16.4.2-14.9.2 4.3.2 3.7.2-12.6.2 1.9.2.7.2-2.4.2-.6.2 4.3.2 8.2.2-2.8.2-2.2.2.5.2-7.4.2 10.8.2-1.4.2-7.3.2 5.4.2-2.3.2-2.3.2-3 .2 1.9.2-2.1.2 5.7.2-1.7.2-.6.2-1.2.2-.5.2 11 .2-17.1.2 14.2 0-3.3.2-1.3.2-3 .2.1.2-4.3.2-1.2.2 4.4.2-5.2.2 10.4.2 1.7.2-21.7.2 8.1.2 6.6.2 0 .2-.4.2-.8.2 2 .2-.6.2 3 .2-9 .2 3.3.2-13.1.2 6.2.2-5.3.2 10.6.2 3.2.2-8.6.2-9.1.2 6.2 0 .6" stroke="#231f20" stroke-width="1.25" fill="none" stroke-linejoin="round" />
<line x1="578.30" y1="975.80" x2="578.30" y2="996.60" stroke="#231f20" stroke-width="1.3" />
<text x="590.5" y="992.0" font-size="21.85" text-anchor="start" font-weight="normal" fill="#231f20" stroke="#231f20" stroke-width="0.3" >2 mV</text>
<text x="202.5" y="851.8" font-size="21.85" text-anchor="start" font-weight="normal" fill="#231f20" stroke="#231f20" stroke-width="0.3" >-40 mV</text>
<rect x="228.30" y="1163.60" width="40.40" height="161.20" fill="#d1d3d4" stroke="none" stroke-width="1" />
<path d="M221.2 1320l.4-.4.3-.3.3.4.4.1.3-.2.4-.3.3.1.4.1.3.9.4-.1.3-.5.4.5.3.5.4 0 .3-.6.4-.3.3-.4.4.6.3 1.1.4-.7.3 1 .4-.2.3-.5.4.4.3-1.3.4-.1.3-.3.4 0 .3-.7.4-.6.3.8.4-.4.3.4.4-2.8-.3-7 .4-133.2.4 134.2.5 5-.7-9.4.4-10.4.3.6.4.4-.3-3.6.4-118.8.4 119.8.5 5-.7-1 .4-.3.3 0 .4.6-.1-4.2.4-123.9.4 124.9.5 5-.9-2 .4 1.1.3-.3.4.5.3-.2.4 0 .3.1.4.2.3.6.4 1.2.3 1.2.4.9.3 1.6.4.5.3.3.4-.2.3 1 .4.8.3.4.4.1.3.9.4.4.3.3.4 1.2.3.1.4.5.3.6.4-.5.3.3.4.2.3-.3.4 1.5.3-.3.4-.1.3.9.4.9.3.8.4-.9.3.8.4-.3.3.1.4 1.1.3-.7.4-.3.3 0 .4.6.3-.5.4-.8.3.9.4-.9.3-.4.4-.6.3.4.4-.5.3.4.4.4.3.1.4.5.3 1.2.4.6.3 1 .4.6.3 0 .4 1.6.3.3.4-.6.3.2.4-.1.3.3.4.5.3-.6.4.2.3-.5.4.7.3.6.4.3.3 0 .4-.2.3.2.4 0 .3.4.4 0 .3-.5.4 0 .3.2.4-.3.3-.3.4.6.3-.5.4 0 .3-1 .4-.7.3-.8.4-.4.3-1 .4-.3.3-.2.4.6.3 0 .4.8.3.5.4 1 .3.5.4.8.3-.6.4-.2.3.1.4.4.3-1.1.4.6.3 1.5.4-.7.3-.9.4.3.3.7.4-.3.3.2.4-.5.3.1.4-.6.3-.3.4-.5.3-.5.4.6.3-.7.4.6.3-.1.4.7.3.9.4.8.3 0 .4.4.3 0 .4-.3.3-.8.4.6.3-.9.4.2.3-.7.4.8.3-.7.4.8.3-.1.4.6.3-.1.4-.9.3 0 .4.2.3.2.4-1.1.3-.2.4-.5.3 0 .4-.1.3-.3.4-.4.3.1.4.2.3.4.4-.4.3 1 .4-.7.3 0 .4-.1.3.8.4-.5.3.9.4.3.3-.3.4.8.3 1 .4-1.1.3-.5.4-.5.3.1.4-.2.3.3.4-.3.3.6.4.3.3-.6.4.7.3-.2.4-.5.3.5.4.3.3-.3.4.1.3-.4.4.9.3.2.4-.2.3-.5.4.1.3-.1.4.8.3-.4.4.5.3-1 .4.5.3-.6.4-.1.3-.3.4.5.3.1.4.8.3.2.4-.8.3.1.4.1.3.2.4-.5.3 0 .4-.2.3-.1.4 1 .3-.6.4.5.3.4.4-.6.3.3.4 0 .3.6.4.3.3-.2.4-.3.3.3.4.1.3.2.4-.9.3.3.4.1.3-.8.4.8.3-.9.4.6.3 0 .4-.1.3.2.4-.1.3.7.4 0 .3-.8.4.4.3-.4.4.3.3.2.4-.4.3.1.4-.3.3.3.4-.5.3-.2.4-.2.3-.2.4-.3.3.7.4-.7.3.5.4 0 .3.1.4.4.3-.2.4.9.3-.2.4-.5.3.1.4-.1.3-.4.4.5.3-.1.4.5.3-.8.4.3.3.2.4 0 .3-.7.4-.4.3.2.4-.2.3.3.4-6.2.3-7 .4-3.4-.3-3.9.4-129.2.4 130.2.5 5-.7-1.9.4.6.3-.5.4.5.3-.1.4.2.3.7.4-1 .3.8.4 0 .3-.9.4.6.3.3.4.7.3-.9.4 0 .3.3.4.6.3.4.4-.2.3-.8.4-.9.3.5.4.3.3-.3.4.2.3-.2.4.5.3-.1.4.3.3-.9.4-.8.3-.2.4-.4.3-.2.4-.2.3-.4.4 1.4.3.3.4 0 .3 1.1.4.7.3.8.4-2.2.3-4.5.4-2.5.3.5.4 1.2-.1-3.9.4-120.7.4 121.7.5 5-.9-1.9.4 1.4.3 1.2.4 1.1.3.9.4 1.5.3.5.4.4.3 1 .4.2.3 1 .4.4.3-.4.4.9.3.8.4.2.3 1.5.4.4.3.1.4 1.3.3.9.4.1.3.3.4.3.3-.7.4.9.3-.3.4.6.3-.4.4 1.2.3.3.4.6.3.5.4 1.4.3.8.4 0 .3-1.5.4 1.3.3-.2.4-.8.3-.1.4.2.3-.1.4-.4.3.2.4-.6.3.3.4 0 .3.4.4-.3.3-.7.4.5.3-.8.4 1 .3.6.4-.6.3.1.4.4.3.5.4 0 .3.6.4-.1.3-.1.4-.3.3.8.4.4.3-1.2.4-1 .3.4.4.3.3 0 .4.1.3 0 .4.4.3-.2.4.6.3-.1.4-.4.3.6.4-.6.3-.3.4-.2.3.7.4-.6.3.2.4.8.3-.7.4.2.3.5.4.1.3-.5.4.4.3-.5.4.6.3 0 .4-.2.3.3.4-.3.3 0 .4 0 .3.6.4-1 .3.1.4-.7.3.6.4.4.3-1 .4.7.3.2.4-.4.3-.4.4.9.3-.8.4 0 .3-.4.4.6.3-.5.4.4.3.6.4-.1.3-.1.4.6.3.2.4-.5.3.7.4-.3.3-.1.4.4.3-1.1.4-.4.3 1.5.4-.4.3-.6.4.8.3.7.4-.6.3.3.4.1.3-.5.4-.7.3 0 .4-.4.3-.1.4.4.3.4.4-.1.3 1.5.4-.4.3-.2.4-.2.3.6.4-.1.3-.9.4.3.3 0 .4-.2.3 0 .4.4.3.1.4-.9.3-.1.4 0 .3.8.4.2.3-.3.4.8.3-.4.4.8.3-.7.4 1 .3-1.2.4-1 .3-.2.4.5.3-.7.4-.6.3.5.4-.6.3.8.4 0 .3-.2.4.1.3.3.4.5.3-.3.4.4.3-.9.4 0 .3.8.4-.5.3-.1.4.2.3.4.4.4.3.1.4-.3.3-.7.4 1 .3-.8.4.5.3-.7.4 0 .3.6.4-.3.3-.3.4-.6.3-.2.4-.2.3-.1.4.5.3-.7.4-.5.3-1.2.4-.3.3-.3.4.7.3-.2.4.9.3-.2.4 1.3.3 1.1.4.4.3.7.4-.8.3-.5.4.3.3-.3.4.1.3-.6.4-3.3.3-11.3-.3-5.3.4-127 .4 128 .5 5-.6-10.2.3 3 .4 1 .3 2.7.4 2 .3 1 .4 1.4.3 1.6.4.2.3-.2.4 1.2.3.8.4-.1.3 1.5.4.7.3.8.4 1.1.3.5.4.2.3.3.4.6.3-.8.4 0 .3-1.4.4-.8.3-1.8.4-.4.3.9.4.8.3 1.2.4 1.6.3 2.5.4 1.2.3.7.4.3.3.4.4 0 .3.2.4-.7.3-.4.4-.3.3-.3.4 0 .3.9.4 0 .3-.8.4.2.3 1.5.4-.7.3-.5.4-.3.3-.1.4 0 .3.2.4-.3.3.1.4.3.3.3.4 0 .3.6.4-.1.3.8.4.5.3 0 .4-1 .3.5.4.2.3 1 .4-.5.3.4.4-1.3.3-.5.4 1.1.3-.7.4.4.3-.7.4-.3.3.4.4-.1.3.8.4-1 .3.5.4.3.3-.1.4.1.3-.7.4.6.3.1.4 0 .3-.1.4.3.3-.3.4 0 .3.1.4.5.3-.6.4 0 .3.3.4-.1.3.5.4.5.3-.3.4.4.3-.5.4-.5.3-.7.4-.3.3-.5.4-.9.3-1.2.4-.9.3 0 .4.8.3.2.4.9.3.2.4 1.3.3.3.4 0 .3.2.4 0 .3 0 .4-.4.3-.1.4.4.3.4.4.7.3.3.4-.1.3-.3.4-.2.3-.4.4-.4.3 0 .4-.6.3-.2.4.5.3.3.4 1.3.3-.2.4 0 .3.3.4-.1.3 0 .4-.4.3.5.4-1.7.3.3.4-.1.3-.3.4.9.3-.4.4.3.3.6.4.5.3-.8.4 0 .3.4.4-.3.3.4.4-1 .3-.5.4-.4.3-.2.4.2.3.3.4.5.3-.5.4.5.3.7.4-.1.3 0 .4-.6.3-.5.4-.9.3-1 .4-.5.3-.1.4-.2.3.9.4.6.3.5.4.8.3.6.4-.1.3.8.4-.2.3-.3.4.1.3.3.4-.4.3-.7.4-.5.3-.3.4.5.3 0 .4.5.3-.9.4.9.3-.3.4.4.3.2.4.3.3.1.4.7.3 0 .4-.6.3.1.4-.6.3.9.4-.4.3-1 .4 0 .3 0 .4.1.3.7.4 0 .3.2.4-.2.3.6.4-.5.3.8.4 0 .3-.5.4 0 .3.2.4.4.3-.7.4 1.4.3-.7.4.5.3-.3.4.4.3 0 .4-.8.3.6.4-1.3.3 1 .4 0 .3.1.4-.9.3-.5.4-.3.3-.2.4.5.3.2.4-.6.3-.1.4.9.3.7.4.8.3-.5.4.3.3-.8.4-.4.3.1.4-.9.3-.4.4.1.3-.1.4-.1.3.6.4-.4.3.9.4.3.3.7.4-.1.3 0 .4-.3.3.2.4-.7.3.9.4-1.6.3 1.5.4-1.1.3.9.4-.1.3 1 .4-.4.3-.3.4-.4.3-.6.4-5.8-.1-13 .4-133.4.5 134.4.4 5-.9-3.5.4-6.9.3-.1.4.7.3.1.4 0 .3-.1.4.3.3-.2.4 1.4.3-.2.4.2.3-.2.4.5.3.8.4-.1.3.2.4-.1.3-.5.4.2.3-.2.4.3.3.3.4.3.3.1.4 0 .3-.5.4-.1.3.2.4.3.3-.8.4.3.3-.1.4 0 .3.4.4.5.3-.7.4 1 .3-1.4.4.5.3.3.4.3.3-.6.4.3.3.7.4-.9.3.7.4.4.3-.1.4-.2.3.2.4.5.3.1.4-1.3.3-3.9.4-3.4-.4-4 .4-120.4.5 121.4.4 5-.6-2.5.4-.8.3 1.8.4 1.1.3.2.4.7.3 1 .4 1 .3.6.4 3.1.3-.1.4.8.3.7.4 1.4.3 1.3.4.3.3.4.4.7.3 1.3.4-.1.3-1.5.4-2.7.3.7.4 1.3.3.4.4 1.3.3-.2.4-.1.3 1.1.4.8.3.5.4.4.3 1.2.4-.2.3.7.4 1.2.3.2.4 1.1.3 0 .4 0 .3.5.4.4.3.1.4 0 .3-.1.4-.4.3.3.4-.3.3-.7.4 0 .3-.9.4.1.3-.4.4.6.3.5.4 1.2.3 1 .4 1.1.3.4.4 0 .3.3.4.1.3.7.4-1.2.3.9.4-.5.3-.2.4-.5.3-.4.4-.6.3-.1.4.5.3-.4.4.4.3 1 .4-.3.3.8.4-.4.3.3.4-.8.3-.5.4-.3.3.1.4 0 .3 1.2.4.4.3.6.4-.6.3.6.4.6.3-.1.4-.8.3.1.4.4.3-.1.4-.3.3-.2.4.6.3.6.4-.7.3.2.4-.3.3-1.7.4.3.3.4.4-.3.3 0 .4.4.3.6.4-.1.3 1.7.4-.6.3.2.4.6.3.3.4-1 .3.1.4-.3.3.1.4-.2.3-.2.4.4.3.8.4.8.3-.3.4-.8.3.8.4-1.3.3-.5.4-.9.3-.7.4.1.3-.2.4.4.3.1.4.8.3-.2.4.8.3.2.4.3.3.3.4.2.3-.2.4.6.3.1.4.1.3-.1.4.8.3-.4.4.6.3-.9.4.3.3-.4.4-.2.3-.8.4.3.3-.5.4.8.3-.8.4.6.3.6.4.1.3.4.4-.6.3.3.4-.9.3.1.4-.1.3-1.2.4 1.6.3-.7.4.1.3-.5.4 1.1.3-.2.4-.6.3.3.4.1.3-.5.4-.2.3-.2.4.4.3-1.2.4-.1.3 0 .4 0 .3.7.4 1.1.3-.7.4.3.3.2.4-.3.3-.1.4-.5.3-.7.4 0 .3 0 .4.3.3.3.4-.4.3.8.4 1.2.3.2.4.1.3.6.4-.4.3-.9.4.9.3-.8.4-1.2.3.2.4-1.2.3-1.2.4-.2.3.1.4.3.3.6.4 0 .3 1.1.4.8.3-.3.4.5.3.4.4-.2.3.1.4-.1.3-.3.4.4.3.3.4.7.3-.6.4.4.3-.3.4.1.3 1.1.4 0 .3-1 .4-.4.3.3.4-.6" stroke="#231f20" stroke-width="1.05" fill="none" stroke-linejoin="round" />
<path d="M221.2 1321.6l.4.2.3.1.3-.5.4 0 .3-.9.4.3.3-.9.4-.4.3-.8.4-.2.3.3.4.1.3 0 .4-.2.3.6.4-.5.3.9.4-.2.3.5.4.1.3-.1.4.7.3 0 .4.7.3.1.4-1 .3-.5.4.1.3 0 .4.1.3-.4.4-.2.3-.2.4.6.3-6.5.4-9.6-.3-4 .3-124.9.4 125.9.5 5-.6-7.2.4.2.3.8.4-.4 0-3.5.3-123.8.4 124.8.5 5-.9-1.9.4.2.3 1.2.4-.3.3 0-.1-3.6.4-130.1.4 131.1.5 5-.8-1.8.3.3.4-.8.3-.5.4-.1.3.1.4 1 .3.7.4.1.3.9.4.8.3 1.3.4-.3.3.8.4 1.3.3-.4.4 1.9.3-.3.4 1 .3.6.4.4.3 1 .4-.6.3.3.4-.4.3-.2.4.1.3-.5.4.4.3.4.4-.9.3.2.4.7.3.8.4 1.2.3 0 .4-.2.3 0 .4.6.3-1.2.4-.4.3.6.4.2.3.2.4.5.3.6.4 1.2.3.5.4.3.3.1.4 1.5.3.3.4.4.3-.8.4-.1.3-.1.4-.1.3 0 .4-.7.3-.8.4 1.1.3.6.4-1 .3 0 .4.1.3-.7.4-.7.3-.1.4-.4.3 0 .4.1.3.6.4 1.7.3.9.4.5.3.9.4 1 .3-.4.4.2.3.1.4-1.1.3 1.3.4.2.3-.6.4-.6.3-.1.4.3.3.2.4-.4.3.5.4-.7.3.5.4 0 .3 1 .4-.3.3-.2.4.8.3-.6.4 0 .3 0 .4.2.3.2.4.5.3-.4.4-.2.3.1.4-.1.3.3.4-.5.3-.8.4-.5.3.1.4.9.3-.6.4-.4.3-.3.4.8.3.2.4.8.3-.2.4 0 .3 1.2.4-.9.3.6.4-.5.3-.6.4-.1.3-.4.4-.8.3.3.4-.2.3-.3.4 1.7.3-.9.4.7.3.4.4.3.3.1.4.1.3.1.4-.3.3.3.4-.6.3.3.4.1.3.4.4.2.3-.1.4-.3.3 0 .4.9.3-1.3.4.2.3-.7.4-.8.3.3.4.3.3 0 .4-.2.3.7.4-.4.3-.1.4-.2.3.9.4.2.3-1 .4 0 .3-.3.4.2.3-.3.4-.2.3.3.4-.1.3.9.4 0 .3.1.4-.3.3.3.4-.2.3-.6.4-.8.3.2.4.9.3-.7.4 0 .3 1 .4 0 .3-.4.4 0 .3 0 .4.6.3-.4.4.2.3-.1.4-.9.3.3.4-.6.3.7.4-.7.3.9.4.7.3-.3.4.2.3.1.4.6.3-.3.4.1.3-.5.4 0 .3 0 .4-.1.3.1.4.9.3 0 .4-.7.3-.6.4-.6.3-.4.4.4.3-.4.4-1.5.3-.3.4.7.3-.6.4-.2.3.8.4.3.3-.4.4.4.3.9.4-.3.3 0 .4 1.1.3.3.4-.5.3.4.4.2.3-.1.4.5.3-.9.4-.3.3-.7.4-.4.3.1.4.9.3-1 .4-.2.3-.1.4-.1.3.1.4-.1.3-.9.4-1.3.3.4.4.4.3 0 .4.6.3 1.8.4 0 .3.2.4.5.3.4.4-.7.3.6.4.2.3 0 .4-.6.3.9.4 0 .3.1.4.5.3-.1.4-.3.3.7.4-.5.3.4.4-.7.3-.2.4.5.3-8.6.4-8.7.3-2.6.4.3.3.2.4-.6-.4-4 .4-125 .4 126 .5 5-.6-1.5.4.2.3-.1.4 1 .3.1.4-.9.3.7.4.1.3.6.4.2.3-.2.4.2.3-.4.4.3.3.2.4-.1.3 0 .4-.2.3 0 .4-.3.3.3.4 0 .3.8.4.4.3.2.4-.3.3-.3.4-.4.3 0 .4-.1.3-.3.4-.1.3.7.4-.2.3-.3.4 2 .3-.5.4.4.3-.4.4-.4.3-1.5.4-3.7.3-3.5.4-1.8.3.1.4.4.3 1.2.4 1.4.3 1.5.4 2.1.3.6.4 1.6.3 1.4.4.2.3.8.4 1.5.3 1 .4.7.3.7.4.5.3.8.4.7.3-.3.4 1.1.3.6.4 0 .3-.1.4.8.3-.2.4-.4.3-.2.4.2.3-.1.4 1.2.3 0 .4 0 .3.5.4.1.3 0 .4.7.3.4.4-.2.3.8.4-.6.3 1.1.4.4.3-.6.4.4.3-.3.4.9.3.7.4.5.3-.1.4.1.3.2.4-.3.3.4.4-.4.3.8.4-1.2.3 0 .4.1.3 0 .4.6.3.4.4-.2.3.9.4-.7.3.7.4-.4.3-.8.4-.1.3 1.6.4.2.3-.7.4.3.3.2.4 0 .3 1.4.4-.4.3-1.1.4.3.3-1 .4.6.3 0 .4-.9.3.3.4-.3.3.8.4.1.3-.4.4-.2.3.3.4-.4.3 1.1.4-.3.3-.3.4.7.3.5.4.2.3.3.4-1.1.3.6.4 0 .3-1.1.4.8.3-.3.4.4.3.1.4-.8.3.7.4-.9.3.6.4-.9.3-.2.4.6.3-.3.4-.3.3.1.4.4.3.9.4-.9.3.4.4-.5.3-.2.4.6.3-.5.4.1.3-.4.4-.2.3.2.4.6.3 1 .4-.2.3-.2.4.2.3-.9.4.9.3-.7.4-.2.3-.5.4-1.6.3.2.4-.3.3-.3.4-.3.3-.5.4-.2.3.7.4.9.3.7.4 1.1.3.7.4-.6.3.1.4.7.3.8.4-1 .3 0 .4-.1.3.6.4-.4.3.8.4.2.3-.3.4.3.3-.6.4.7.3-1.4.4.4.3-.7.4-.4.3.6.4-.8.3.3.4.5.3.2.4.1.3-.4.4-.2.3 0 .4.2.3.8.4-.1.3.3.4-.3.3-.2.4-.1.3-.5.4 1 .3-.7.4 0 .3.7.4-1 .3.4.4.1.3-.2.4-.5.3-.1.4.7.3-1 .4-.1.3.9.4-.2.3-.7.4.1.3-.2.4.8.3-1.1.4-.1.3.3.4-.3.3.3.4-.5.3.5.4 0 .3.6.4-.5.3.9.4-.3.3.8.4-.3.3-.5.4 1 .3-.3.4 0 .3.1.4-.6.3.4.4.1.3.7.4.4.3-.6.4.5.3-5.2.4-10.4-.4-4 .4-128.8.5 129.8.4 5-.6-10 .4 2.2.3 1.1.4 1.2.3 1.5.4.2.3 1.3.4.2.3.9.4 1.9.3.3.4.9.3 1.3.4.5.3.2.4.9.3.3.4.9.3.8.4.9.3-.3.4.4.3.9.4-.2.3 1 .4.3.3-1.2.4.5.3.2.4.2.3.8.4.3.3-.8.4 0 .3.4.4.1.3.4.4.3.3-.1.4.3.3-.3.4.7.3-.6.4-.2.3.9.4 0 .3-.3.4.5.3 0 .4-.1.3.5.4-.3.3 0 .4-1.6.3.9.4.1.3-.4.4.1.3-.1.4 0 .3.9.4 1.1.3-.6.4.1.3-.2.4.4.3.6.4-.2.3-.4.4-.7.3.1.4.1.3.6.4-.3.3-.7.4.7.3-.8.4.4.3-.3.4-.6.3.1.4.1.3-.3.4.2.3.1.4-.2.3.2.4-.2.3-.4.4.7.3.2.4 0 .3.1.4.6.3.1.4-.6.3-.2.4.9.3-.2.4 1 .3.4.4-.2.3.2.4-.6.3.1.4 0 .3-.3.4-.2.3 0 .4-.9.3 1.2.4-.2.3-.1.4 1.1.3-1.4.4 1.1.3.2.4.2.3-.5.4.1.3-.4.4-.1.3.5.4-.1.3-.1.4-.4.3 1 .4-.5.3-.2.4-.7.3-.3.4.1.3-.6.4.9.3-1.6.4 1.4.3-.8.4-.2.3.2.4.3.3-.3.4-.9.3.5.4 0 .3-.8.4.6.3-.1.4 0 .3-.2.4 1.1.3-1 .4-.9.3.2.4-1.2.3-1.3.4 0 .3.3.4.1.3 1.2.4 1.9.3 1.3.4 0 .3.3.4 0 .3-.1.4-.5.3.2.4-.5.3.3.4.5.3.1.4 1 .3-.8.4.7.3.5.4 1.1.3-.5.4-.7.3.1.4-.4.3-.1.4-.1.3-.3.4-.3.3.3.4-.5.3.4.4-.1.3.3.4-.3.3-.1.4-.1.3.9.4-.2.3-.8.4.5.3-.6.4-.2.3.4.4-.6.3-.4.4.1.3.4.4.3.3.3.4.5.3 0 .4.4.3-.4.4-.3.3 0 .4-.4.3.9.4-.2.3-.1.4-.2.3-.2.4 1.3.3-.1.4-.2.3-.4.4-.7.3.1.4.2.3 0 .4-.7.3.6.4-.2.3-.5.4 1 .3 0 .4-.6.3.2.4.2.3-.8.4-.2.3 1 .4.7.3-1 .4.3.3-.5.4.7.3.3.4-.9.3-.1.4-.5.3.6.4-.2.3.8.4-.1.3.4.4-.3.3.2.4-.9.3-.9.4-.7.3-.1.4 0 .3-.1.4-.1.3.6.4.7.3-.4.4 1.2.3.5.4-.4.3.7.4-.2.3.3.4-.7.3-.2.4-.2.3-.4.4.4.3-.9.4-.2.3.1.4-.7.3.2.4-.5.3-.6.4-1 .3-6.1.4-10.3.3-9-.1-3.5.3-119.8.5 120.8.4 5-.7-1.3.3.5.4 1.2.3.4-.2-3.4.4-121.2.5 122.2.4 5-.7-1.2.3 1.5.4-.6.3-.2.4.4.3.1.4-1.4.3.6.4.2.3-.4.4.7.3-.3.4.5.3-.8.4-.2.3-.7.4-.1.3-.5.4-.9.3-.7.4.2.3.3.4-.7.3 1 .4 1.2.3.2.4 1.4.3.2.4-.2.3.9.4.2.3.7.4-.4.3-.7.4-.3.3-.9.4 0 .3-1.4.4-.7.3.8.4.8.3.1.4.6.3.4.4.8.3-.5.4-.1.3-1.2.4-.8.3.3.4-2 .3-1.9.4 1 .3 1.2.4 1.7.3 1.7.4 1.7.3 1.2.4 1.9.3.9.4.3.3.8.4 0 .3.5.4.8.3.9.4.1.3.8.4.9.3.2.4 1.6.3-.2.4.7.3 1.4.4-.4.3-.5.4 1.1.3-.1.4.2.3.8.4-.2.3-.2.4.2.3.9.4.1.3.2.4-.6.3-.2.4.4.3-1 .4.2.3-1.3.4-.8.3.4.4.5.3.4.4.5.3 2 .4-.2.3.7.4 1 .3 0 .4.6.3.5.4-.1.3 1.2.4-1 .3.7.4.3.3.9.4-1.5.3-.2.4.8.3-1.2.4.4.3-.3.4-.7.3.7.4-.7.3.8.4-.9.3.1.4-.7.3.4.4 0 .3-.1.4.2.3.2.4.9.3 1.8.4-.8.3-.1.4.7.3 0 .4.5.3-.5.4-.4.3.1.4.3.3.4.4.1.3.5.4.3.3 1.3.4 0 .3-.8.4.1.3-.5.4-.3.3.3.4.2.3-.7.4-.3.3-.9.4.6.3.6.4.1.3-1.1.4 0 .3.8.4-.3.3.6.4-.9.3-.5.4-.5.3.1.4-.8.3-.4.4-.5.3-.8.4.4.3-.5.4 1 .3 0 .4.7.3.9.4 1.2.3.2.4 0 .3 1.1.4-.7.3 1.3.4-.4.3 0 .4-.7.3 1 .4.1.3-1 .4.3.3.7.4-.3.3.5.4 0 .3-1.1.4.2.3-.2.4.7.3-1.8.4.5.3.2.4-.4.3.2.4-.4.3.2.4-.7.3-.2.4.1.3-.5.4-.3.3-.5.4-.5.3 1.2.4-1 .3 1 .4.7.3.5.4.9.3 0 .4.1.3.5.4-.9.3-.3.4.5.3-.4.4 0 .3.2.4-.1.3.2.4-.1.3 0 .4.2.3 0 .4.4.3-.6.4.7.3-.3.4.8.3-.3.4-.2.3.7.4-.4.3.7.4-.2.3.4.4-.2.3-.3.4.2.3-1 .4.7.3-.9.4-.1.3 0 .4.7.3-.4.4.5.3 0 .4-.5.3.2.4 0 .3 0 .4.2.3-.9.4.5.3.7.4 0 .3.4.4-.4.3.3.4-.6.3 0 .4 0 .3 0 .4.2.3-.8.4.6.3-.7.4.1.3.7.4-.3.3.6.4-.4.3.2.4 0 .3.5.4-1.1.3.3.4.1.3-1.3.4.2" stroke="#231f20" stroke-width="1.05" fill="none" stroke-linejoin="round" />
<path d="M221.2 1320l.4.1.3-.6.3.4.4-.7.3-.1.4-.1.3.1.4.2.3.5.4.3.3.3.4 0 .3.3.4-.1.3.3.4.3.3-.7.4-.2.3 0 .4-.3.3.1.4-.4.3-.2.4.8.3-1.1.4.2.3.6.4-.6.3.4.4.1.3.2.4-.1.3.1.4.5.3-2.6.4-8.2.3-9-.3-4.3.4-120.5.4 121.5.5 5-.6-3.5.3.6.4.5.3-1.1.4.9.3.4.4.1-.1-4 .3-125.4.4 126.4.5 5-.8-2 .4 1 .3-.2.4.1.3.1.4-.1.3.5.4.5.3-.8.4.2.3.5.4 1.2.3.3.4.9.3.3.4-.2.3.5.4.8.3-.1.4-.4.3.5.4 1.1.3 0 .4 0 .3.3.4-.8.3 2 .4.2.3.5.4.9.3-.8.4.6.3.2.4.7.3-.6.4-1.5.3.6.4-.5.3-.1.4.1.3.3.4.2.3.7.4.6.3 1.3.4-.2.3.6.4 0 .3.4.4.5.3.7.4.5.3-.1.4-.3.3.1.4.1.3.2.4.5.3-.2.4-.4.3.7.4.6.3.1.4.1.3.2.4-.9.3.1.4 1 .3.3.4.4.3-.5.4-.1.3.6.4.5.3-.4.4.4.3-.3.4-1.3.3-.2.4-.1.3-.3.4-.8.3.7.4-.3.3.1.4.4.3-.2.4 0 .3-.5.4 1.3.3-.7.4.2.3.5.4-.8.3.2.4.1.3 0 .4.3.3.2.4 1 .3-.1.4 1.4.3.7.4-.6.3.3.4.5.3.1.4-.1.3.9.4-.6.3 1.4.4-.4.3.7.4 0 .3-.2.4-.1.3-.4.4-.5.3-.6.4-.1.3.5.4-.7.3.6.4.6.3 0 .4-.6.3.5.4.1.3-.3.4-1 .3 1.1.4-1.2.3 1.2.4-.4.3-.3.4-.2.3-.4.4-.3.3 0 .4 0 .3-.6.4 1.2.3.1.4.3.3.4.4-.1.3.2.4.2.3 0 .4-.7.3 1.1.4.8.3-.7.4-.1.3.7.4-.2.3-.4.4.1.3-.4.4-1 .3-.5.4.5.3-.2.4-.1.3-.2.4-.3.3 0 .4.3.3 0 .4 1 .3.6.4-.9.3-.4.4 0 .3-.7.4 0 .3-.3.4 0 .3.4.4-.2.3 1 .4-.2.3.3.4-.6.3.3.4-.1.3-.5.4.4.3-.5.4.5.3 0 .4.9.3-.4.4-.2.3.1.4.3.3.5.4-.5.3-.1.4-.4.3.2.4-.1.3-1.2.4 0 .3.4.4 0 .3-.1.4.5.3.1.4.5.3.6.4-.4.3.5.4-.6.3.3.4 0 .3-.2.4.7.3-.4.4.1.3-.2.4-.2.3.8.4 0 .3-.6.4.6.3.8.4-.7.3 1.2.4-.1.3-.3.4-.3.3 1.2.4-1.3.3.4.4.7.3-1.2.4-.5.3.5.4-.8.3-.2.4 0 .3-.6.4.1.3-.5.4-.5.3.9.4-.2.3.6.4-.2.3.4.4-.6.3.3.4 0 .3-.8.4 1.9.3-.2.4-.3.3.5.4.7.3-.5.4-.2.3 1.4.4-.3.3-.9.4.1.3.6.4-1.1.3.5.4-.8.3-.6.4-.8.3.9.4-1.3.3.5.4-.6.3 1.2.4.3.3-.3.4.1.3-2 .4-6.3.3-5.6.4-1.1.3.8.4.4.3.6.4-1.3.3.3.4-.4.3 0 .4.9 0-4.7.3-129.6.5 130.6.4 5-.9-2.1.4.9.3-.4.4.5.3.2.4.1.3-.4.4-.5.3-1.2.4-.5.3 0 .4 0 .3.4.4-.4.3.8.4 1 .3.7.4 1 .3-.2.4.1.3 0 .4-.1.3.7.4-.5.3-.2.4-.4.3.7.4-.1.3-.5.4.4.3 0 .4 0 .3.2.4-2.8.3-6.5.4-3.8.3-.1.4-.3.3 2 .4 1.2.3.8.4.8.3.7.4 2.2.3.3.4 1.3.3.6.4.8.3 1.4.4 1.5.3.6.4.1.3.8.4 1 .3.7.4 1 .3.1.4 0 .3.1.4-.2.3.8.4.4.3-.1.4-.4.3.2.4.9.3 1.1.4.1.3-.1.4.6.3-.4.4-.6.3.5.4-.5.3-1 .4-2.1.3-.6.4-1.2.3.1.4-.5.3 1.5.4.1.3 1.4.4 1.6.3 1.4.4 1 .3.4.4.7.3.5.4-.2.3 1 .4-.5.3-.1.4.3.3-.6.4-.2.3.2.4.2.3 0 .4-.3.3.1.4.8.3-.4.4-.1.3-.3.4 1.2.3.6.4-.3.3.1.4-.1.3 0 .4 0 .3.3.4-.6.3.5.4-1.5.3-.1.4-.5.3-.1.4-.6.3.5.4 1.4.3-.2.4 1.1.3.2.4.3.3.9.4-.7.3.8.4-.3.3 0 .4.4.3-.3.4-.3.3.3.4-.4.3-.2.4.3.3-.3.4.1.3.4.4-.6.3.1.4.3.3-.7.4-.7.3-1.2.4-.1.3-1.1.4-.6.3-.4.4-.7.3 1.5.4 1 .3 1.3.4.5.3 1.2.4 0 .3.5.4 1 .3 0 .4-1.5.3.4.4-.3.3-.2.4.4.3-.6.4-1.1.3.2.4.2.3-.1.4.8.3.1.4-.4.3.1.4.6.3-.6.4-.2.3.2.4.3.3 0 .4-.1.3-1.9.4.2.3-1 .4-.1.3-.4.4-.8.3.2.4.5.3 1.3.4.6.3 0 .4 1.1.3.5.4-.3.3-.4.4-.3.3-.6.4-.4.3-1.2.4-.4.3-.2.4.9.3-.5.4 1.6.3.2.4 0 .3 1 .4 1 .3-.2.4.5.3-.3.4.2.3-.1.4-.2.3-.7.4-.2.3.8.4 0 .3-.6.4-.1.3.4.4-.6.3.3.4.7.3-.3.4-1.3.3.6.4.2.3.9.4-.6.3-.1.4.6.3.2.4.5.3-.7.4 1.6.3-.1.4-.4.3-.3.4 0 .3-.4.4.1.3-.2.4-.5.3-.6.4.7.3-.6.4.2.3.5.4 0 .3.1.4.4.3 0 .4-.3.3 1.1.4-1.3.3-.2.4 0 .3.3.4-1.2.3-.1.4.6.3-.4.4 1 .3-.8.4-.1-.2-4.2.4-142.2.4 143.2.5 5-.8-2.2.4-8 .3-9.3.4-3.1.3 1.5.4 1.2.3 2.8.4 1.2.3 1.5.4 1 .3 1.7.4 1.2.3.5.4.2.3 1.3.4-.4.3 1.1.4.7.3.5.4.2.3.3.4.2.3 1.3.4.8.3-.5.4 1.3.3-.1.4.3.3.3.4-.3.3-.1.4.9.3-.6.4-.5.3 1.3.4-.7.3.5.4.4.3.5.4-.2.3-.3.4.9.3-.7.4.6.3-.8.4.5.3-.3.4.2.3-.4.4.2.3-.1.4.4.3 0 .4.2.3.3.4-.3.3.3.4-.2.3.3.4.1.3-.1.4.2.3.3.4.1.3-.7.4 1.3.3-.6.4-.4.3-.1.4-1.2.3.4.4-1.1.3 1 .4-.1.3-.4.4.4.3.5.4-.3.3 0 .4.3.3.2.4 0 .3 0 .4 0 .3-.2.4 1.1.3-1 .4-.7.3.1.4-.7.3-.2.4 1.1.3-.5.4.3.3.8.4 0 .3-.2.4 1.1.3-.6.4.4.3-.7.4.2.3-.3.4-.4.3-.1.4.1.3.2.4-.3.3.4.4 0 .3-.1.4-.5.3.6.4.3.3 0 .4-1.3.3 1.1.4-.8.3.6.4-.7.3.4.4-.9.3 1.1.4-.2.3-.8.4-.7.3.9.4.2.3-.5.4-.5.3-.6.4-.3.3.1.4.6.3-.6.4 0 .3.8.4.5.3-.6.4 1.2.3-.3.4.3.3-.1.4.8.3-.4.4.2.3-.7.4-.7.3.8.4-.4.3-.3.4-.5.3.2.4.3.3 0 .4 0 .3.2.4.7.3.1.4.4.3 0 .4-.4.3.4.4.2.3.5.4-1.3.3.3.4.5.3-.1.4.5.3-.4.4-.3.3-.8.4-.3.3-.4.4-.6.3.4.4-.2.3.9.4-.3.3-.2.4 0 .3.2.4-.7.3-.7.4.3.3-1.5.4-.2.3.6.4-.1.3.9.4.9.3.1.4.7.3.8.4.6.3.1.4.1.3.4.4-.2.3.2.4.5.3-.9.4.7.3-.6.4-.1.3.4.4-.2.3-.3.4.7.3-1 .4-.9.3.1.4.9.3-.2.4-.4.3 0 .4-.6.3.7.4.2.3.1.4-.8.3.8.4-.1.3 0 .4.2.3 0 .4-.1.3-.2.4-.3.3.6.4.1.3 0 .4-.1.3-.3.4.4.3-.5.4.5.3-.2.4-.2.3.2.4-.8.3.9.4-.5.3.2.4.4.3-.1.4.1.3.5.4-.5.3.6.4-.2.3.1.4-.5.3-.1.4.6.3-.9.4.4.3-.5.4 1 .3-.7.4.2.3.4.4.4.3.8.4-.2.3-.9.4-.4.3.2.4-.1.3-1.2.4.6.3-.5.4.4.3.2.4.1.3.7.4.8.3-.5.4-.3.3.5.4-.6.3-.3.4.7.3.6.4-5.4-.3-6.3.4-143.2.4 144.2.5 5-.7-7.5.4-6.5.3.2.4-.1.3-.7.4.3.3-.1.4-.4.3.4.4.2.3-1.2.4.1.3-.1.4.2.3-1 .4.3.3 0 .4.1.3 0 .4.6.3-.6.4.6.3-.3.4-1.1.3.3.4-.3.3-.4.4.7.3.5.4-.7.3.2.4.5.3.4.4.5.3.2.4.4.3.1.4.7.3.2.4-.2.3 0 .4-.1.3.6.4-.5.3.6.4-.3.3-.5.4.6.3-1 .4.9.3-1 .4.1 0-4.7.3-127.4.5 128.4.4 5-.9-2.1.4-.8.3-.8.4-.1.3.9.4-.4.3.7.4.2.3 1 .4-.3.3 1.8.4 0 .3.2.4.2.3-1 .4-4.1.3-2.2.4.6.3.5.4.6.3.9.4.5.3 1.9.4.8.3 1.6.4 1 .3.8.4 2 .3.6.4.8.3.8.4.3.3.3.4-.3.3 1.3.4.1.3.8.4.7.3-.5.4.4.3 1.7.4.2.3-.7.4 0 .3-.2.4-.7.3.6.4.9.3-.2.4.5.3.2.4.5.3.5.4-.1.3.6.4.1.3-.2.4 0 .3.1.4-.3.3.7.4-.5.3-.2.4.4.3.9.4-.4.3.8.4-.2.3 1.4.4-.7.3-.1.4.1.3-.9.4-.5.3.5.4-1 .3-.5.4.8.3-.4.4.9.3.3.4.8.3.3.4.9.3.3.4-.4.3-.4.4-.6.3.7.4-.3.3.4.4.4.3.1.4 0 .3.5.4.7.3-.5.4-.1.3-1.3.4.3.3-.8.4-1.2.3.1.4.5.3-.2.4.3.3 0 .4-.1.3 0 .4 1.4.3.8.4-.6.3.6.4-.9.3 1 .4.4.3-.3.4-.2.3-.6.4.5.3.1.4.3.3-.9.4.1.3.4.4-.2.3.4.4.4.3-1 .4-.2.3.1.4-.5.3-.6.4-.6.3.2.4.2.3.5.4.6.3-.3.4-.6.3.1.4.4.3-.2.4-.5.3.3.4-.3.3.1.4.6.3-.9.4.3.3.6.4.6.3 0 .4-.4.3 0 .4.2.3.1.4-.3.3.1.4-.1.3.3.4-.8.3.7.4-.1.3 1.1.4.3.3-.8.4.1.3-.4.4-.1.3.2.4.3.3-.2.4-.1.3.1.4.4.3-.1.4.4.3 0 .4-.2.3.2.4-.3.3 0 .4 0 .3.4.4-.5.3.1.4-.7.3.2.4.1.3.5.4-.4.3-.6.4.3.3.1.4.1.3-.9.4.8.3-.7.4.6.3-.5.4.5.3-.6.4.1.3.9.4.3.3.2.4-.1.3-.6.4.6.3-.4.4 0 .3 0 .4-.9.3-.2.4-1.6.3.9.4-1.2.3.4.4 0 .3-.5.4 1.2.3 1 .4 0 .3.1.4.7.3.7.4-.2.3.4.4.4.3 0 .4-.3.3-1 .4-.4.3-.9.4-.1.3-1.5.4-.5.3-.1.4.7.3-.1.4 1" stroke="#231f20" stroke-width="1.05" fill="none" stroke-linejoin="round" />
<path d="M221.2 1319.3l.4.6.3.3.3-.2.4.6.3-.1.4.5.3-.1.4-.8.3.3.4.3.3-.2.4-.9.3.2.4.4.3.4.4.3.3-.6.4-.5.3.1.4.6.3-.7.4-.6.3.1.4 0 .3.6.4.7.3.5.4-.8.3-.5.4.2.3.4.4 1 .3-.6.4-3.2.3-10.1-.2-5.4.3-124.1.4 125.1.5 5-.6-10.4.3.3.4.4.3.4-.1-4 .3-121.8.4 122.8.5 5-.7-2 .3.2.4.8.3 0 0-3.8.3-125 .4 126 .5 5-.8-1.9.3 0 .4.2.3.2.4-.6.3.7.4 0 .3.4.4 1.2.3.8.4 1 .3 1 .4.9.3.9.4.1.3.6.4 1.3.3.7.4.8.3-.4.4.6.3.2.4.5.3.4.4-.4.3.5.4.2.3.5.4.4.3.5.4.1.3.5.4.2.3-.2.4-.9.3-1 .4-.3.3-.5.4-.3.3 1 .4.1.3 1.3.4 0 .3 1 .4 1.2.3.3.4 1.4.3-.4.4.6.3-.2.4-.2.3.2.4.9.3.2.4-.5.3 0 .4 0 .3.8.4.4.3.2.4-.3.3.2.4.1.3.3.4-.8.3.7.4-.1.3-.7.4 1 .3-.1.4.3.3-.2.4.8.3-1.1.4-.2.3.5.4.2.3-.1.4.3.3.1.4-.4.3-.8.4.9.3-.6.4-.4.3-1.2.4-.6.3-.8.4-.2.3 1.1.4-.4.3 1.3.4.7.3.1.4.1.3 1.2.4.5.3.5.4-.2.3-1.4.4-.3.3.3.4.3.3-.7.4.6.3-.3.4.6.3.4.4-.5.3.5.4.1.3.9.4-.3.3-.4.4.3.3-.1.4.3.3.7.4-.3.3-.7.4-1.1.3-.5.4.3.3-.4.4-.2.3-.4.4 1.3.3 0 .4-.6.3 1.2.4-.2.3.7.4.4.3-.2.4-.6.3.6.4.2.3-.5.4-.3.3 0 .4.7.3-.6.4-.3.3.9.4.3.3-.2.4-.8.3.5.4-.9.3.7.4-.9.3-.7.4-.8.3-.9.4-.1.3-.6.4-.8.3.3.4.4.3-.3.4.8.3.3.4 1.2.3-.5.4.3.3-.3.4.6.3.5.4-.8.3.4.4-.2.3.6.4.2.3.4.4-.6.3.4.4.4.3-.8.4 1.2.3-.2.4-1 .3.3.4-.2.3-.2.4.5.3.2.4 0 .3-.4.4.9.3-.3.4.5.3-.4.4-.6.3-.2.4.2.3-.7.4-.1.3.8.4.4.3 1.1.4.3.3.5.4-.5.3.7.4.1.3-.6.4.5.3-1.3.4-.3.3.1.4.6.3-.8.4-.7.3-.1.4-.2.3.6.4-.2.3.6.4-.2.3.8.4-.4.3.1.4.1.3.2.4.1.3-1 .4.4.3.1.4.2.3-.3.4.8.3-1 .4.4.3.1.4-.3.3.3.4.3.3-.1.4-.6.3 1 .4-.6.3-.3.4.7.3-.5.4-.2.3-.3.4-.5.3.4.4.5.3.2.4-.2.3.4.4.5.3-.3.4.5.3-.4.4-.4.3-.2.4.3.3.2.4.1.3 0 .4-1.5.3.5.4.5.3-.6.4-.1.3.2.4-.1.3 0 .4 0 .3.5.4-.3.3-.4.4-.3.3.2.4-.4.3.4.4.1.3-.1.4-2.9.3-7.2.4-7.3.3.1-.2-4.4.4-127.3.4 128.3.5 5-.7-2.5.3.8.4-.2.3.9.4-1 .3.7.4-.5.3.4.4.2.3-.8.4.8.3-.1.4 0 .3-.5.4-.2.3 0 .4-.2.3-.5.4-.2.3-.3.4-.5.3.1.4.8.3.2.4-1 .3-.1.4.1.3-.1.4-.5.3.6.4.3.3.3.4 1 .3.4.4.7.3-.2.4.2.3.4.4.4.3.7.4-.1.3.1.4.2.3-.6.4-.4.3-.1.4.2.3-2.7.4-2.5.3.6.4 1.4.3.6.4 1.3.3 1.3.4 1 .3 1 .4.9.3-.3.4.9.3.5.4 1.8.3-.5.4 1.7.3.1.4.9.3.2.4.2.3.5.4 0 .3 0 .4.2.3-.1.4.1.3-.4.4-.1.3 0 .4-.1.3 1.6.4-.2.3.4.4.9.3.1.4 1.1.3-.1.4-.4.3.1.4.4.3-.7.4.9.3-1.4.4.1.3-.1.4.4.3-.2.4.8.3.7.4.6.3.2.4.3.3 0 .4-.2.3-.3.4 1.3.3 0 .4-.1.3.5.4-.6.3 0 .4.2.3.1.4-.1.3-.8.4.4.3.4.4-.6.3.4.4.3.3.2.4-.4.3.4.4.6.3-.5.4.8.3-.3.4.4.3-.3.4-.1.3 0 .4-.2.3.2.4-1 .3.7.4.9.3-.2.4-.1.3-.4.4.5.3 0 .4.6.3-.5.4.6.3-.3.4.5.3-.5.4.3.3-.1.4-.2.3 1 .4-.5.3-.6.4 1.1.3-1.4.4-.2.3-.2.4-.3.3.2.4-.1.3-.6.4-.2.3.2.4.1.3.7.4.4.3.2.4.8.3-.3.4.2.3-.2.4-.7.3-.2.4 0 .3-.1.4-.6.3.4.4-.1.3-.2.4.1.3-.3.4-.3.3.6.4-.4.3 0 .4-.8.3.5.4-.1.3 0 .4-.3.3.9.4.6.3-.5.4.4.3.4.4-.1.3-.2.4.5.3-1.7.4.6.3.2.4.8.3.5.4-.5.3.2.4-.1.3 0 .4-.2.3.7.4-.1.3-.4.4-.4.3-.1.4.1.3-.1.4.6.3-.7.4.5.3-.7.4.1.3-.1.4.9.3-.2.4.1.3-.2.4-.2.3.3.4.3.3.3.4-.6.3-.8.4.4.3 0 .4-.4.3.3.4-.8.3.2.4-.2.3-1.3.4-.2.3-.3.4.1.3-.7.4 0 .3.8.4.9.3.8.4 1 .3-.1.4-.2.3.3.4.4.3-.6.4-.7.3.2.4-.5.3.4.4-.2.3-.3.4-.7.3.9.4-.4.3-.2.4-.1.3 0 .4.6.3.5.4 0 .3-.1.4.3.3-.2.4.3.3.4.4-.1.3.2.4.3.3-.8.4.4.3-.7.4 0 .3-.3.4-2.5-.2-10.3.4-132.4.4 133.4.5 5-.8-6.7.4-10.7.3 2.1.4 1.4.3 1.7.4 1.8.3.4.4 1.4.3 1.5.4 1.9.3 0 .4 1.8.3.5.4 1.5.3.6.4 1.7.3 1.3.4-.4.3.1.4-.2.3.8.4.4.3-.1.4.4.3-1 .4.6.3.9.4.3.3 1.4.4.2.3-.2.4.9.3 1 .4 0 .3.5.4-.2.3-.9.4.8.3-.1.4-.2.3.6.4-.2.3-.3.4.2.3.3.4.6.3.1.4-.3.3-.1.4.2.3.9.4-1.5.3 1 .4.1.3-.6.4-.2.3.3.4 0 .3-1.4.4.3.3-.8.4.1.3.2.4-.1.3-.5.4-1.2.3.7.4-.4.3-.2.4.7.3.6.4-.5.3.4.4 1 .3-.1.4.4.3 0 .4.2.3-.1.4.6.3-.7.4-.1.3.2.4-.5.3.7.4-.6.3-.1.4.1.3-.4.4-1.6.3.3.4-.3.3-.2.4.4.3-.4.4 1.3.3.8.4.3.3.5.4.2.3-.1.4.3.3-.5.4.8.3.1.4.4.3-.6.4.3.3-.4.4.6.3-.4.4-.4.3.1.4.5.3-.3.4-.4.3-.4.4.6.3-.8.4 0 .3.5.4-.5.3-.3.4-.4.3-.3.4 1 .3.6.4.1.3-.6.4.4.3-.5.4.5.3 0 .4-.1.3-.1.4.1.3.6.4.4.3.3.4-1 .3.7.4-.2.3.9.4-.2.3-.9.4.8.3.3.4 0 .3-.1.4-.3.3-.7.4.1.3-.4.4-.4.3-.4.4.2.3-.6.4.2.3 1.4.4.6.3-1.1.4-.1.3.2.4-.2.3.4.4-.9.3.4.4-1.3.3 1.3.4.2.3.6.4-1.5.3.3.4-.7.3-2 .4-.6.3-1.6.4-.8.3-.5.4.8.3.5.4.6.3 1.9.4.6.3 1.6.4.4.3-.7.4-.4.3.5.4-.2.3 0 .4 0 .3.5.4-1 .3 1 .4.4.3-.6.4.6.3-.8.4-.1.3-.5.4.2.3.4.4.1.3-.1.4-.5.3-.1.4.8.3-.6.4.9.3-.3.4.5.3-.2.4.2.3.6.4-.4.3-.9.4.1.3-1.2.4-1.1.3-1 .4-.9.3-.1.4-1.1.3.3.4.6.3 1.3.4 0 .3-.5.4-.5.3-.5.4.5.3-.1.4-.5.3.4.4 1 .3 1 .4.8.3.3.4 1.6.3 1 .4 1 .3 0 .4-.8.3-.2.4.3.3.1.4-1.5.3.2.4.5.3-1.3.4.4.3.2.4-.2.3.2.4-.5.3.9.4-.3.3.2.4-.9.3.6.4.4.3.5.4.4.3-.1.4.4.3-.2.4-.4.3-.5.4.3.3-.3.4 0 .3.4.4-.2.3.9.4-.3.3-.7.4.1.3-.5.4.1.3-.3.4.1.3-9.8.4-9.8.3-1.8.4-.6-.2-4.2.4-124.6.5 125.6.4 5-.8-2 .4.4.3-.4.4-.2.3-.9.4.6.3-.7.4-.1.3.7.4.6.3-.3.4.2.3.1.4.3.3.1.4 1.4.3-1.2.4-1.4.3.2.4-.4.3-1.1.4 1 .3-1.2.4.4.3.5.4 1 .3 1.1.4-.1.3 1 .4-.9.3 0 .4.5.3-1 .4.1.3.3.4-.1.3-.7.4.2.3.4.4-.9.3-.4.4-.2.3.7.4-.5.3 1.2.4.5.3.3.4.2.3 1.5.4-.3.3 1 .4-.7.3.1.4 0 .3.2.4.6.3.7.4.4.3.3.4.7.3.5.4 1.4.3.3.4.4.3-.7.4 1.1.3.6.4 1 .3.7.4.8.3.4.4.6.3-.3.4-2.8.3-2.3.4-1.2.3-.2.4 1.4.3 0 .4 1.7.3.5.4 2.4.3-.2.4 1.1.3 1.1.4.5.3.9.4.5.3 1.2.4-1.5.3 0 .4-.2.3.1.4-.4.3-.3.4.1.3.3.4.5.3.1.4 1.6.3.1.4.5.3.3.4.9.3-.7.4 1.3.3.4.4-.8.3.8.4-.8.3.5.4-.5.3.5.4-.2.3-.5.4-.3.3.9.4.2.3 1.2.4-.2.3 1.3.4-.5.3.7.4-.6.3-.2.4 0 .3-.1.4.3.3.3.4-.6.3-.6.4.8.3 0 .4.1.3-1 .4-.7.3.1.4-1.1.3-1.3.4-.4.3-.7.4.6.3 1.4.4.1.3.8.4.4.3 1.4.4-.9.3 1.2.4 0 .3.6.4.2.3-.7.4 0 .3.3.4 0 .3.3.4-.3.3-.5.4.6.3-.1.4-.9.3.9.4.1.3.8.4 0 .3-.2.4.8.3-.2.4 0 .3.2.4-.6.3 0 .4.4.3-.3.4.3.3-.7.4.8.3-1.6.4.6.3.6.4-.7.3.3.4.2.3 0 .4-.4.3 1.1.4-.2.3-.9.4.9.3-.5.4-1.4.3.4.4-.3.3.1.4.2.3.4.4-.1.3.5.4.2.3.4.4-.5.3.5.4.7.3-.8.4.3.3-.6.4.2.3-.4.4-.7.3.2.4.1.3.2.4-.7.3.7.4-.1.3-.5.4.3.3-.4.4.5.3.1.4.5.3-.2.4 1.2.3-.4.4-.1.3-.7.4-.3.3.6.4.2.3 0 .4-1.7.3.9.4.5.3.7.4.3.3-1 .4-.4.3.1.4-.6.3.7.4-.9.3-.3.4.2.3-.5.4.4.3.6.4.1.3.5.4-.6.3-.5.4 0 .3.1.4-.7.3 1.1.4-.9.3.7.4-.6.3.2.4 1.2.3-.4.4-.2.3-.1.4.6.3-.1.4-.4.3.8.4-.7.3.3.4.1.3.7.4-.7.3.1.4.5.3.1.4-.7.3.4.4-.2.3.7.4.3.3.3.4-.2.3-.4.4-.2.3.4.4-.1.3-.8.4-.2.3-.6.4.5.3-.4.4.4" stroke="#231f20" stroke-width="1.05" fill="none" stroke-linejoin="round" />
<path d="M221.2 1320.8l.4-.8.3.1.3.1.4-.6.3.8.4.1.3-.9.4.5.3-.4.4.3.3-.3.4.8.3-.4.4.4.3 0 .4-.4.3.2.4.4.3.4.4-.6.3-.4.4-.5.3.5.4.1.3-.3.4-.3.3.3.4.5.3 1.2.4-.3.3-.3.4.3.3.3.4-.7.3-9.6.4-8.6-.1-6.2.3-121.5.4 122.5.5 5-.8-3.7.4.3.3.2.4.2.3 0 0-3.6.3-123.9.4 124.9.5 5-.8-1.8.3.3.4-.5.3.8.4-.4.3 0-.1-3.8.3-122.5.4 123.5.5 5-.7-1.7.3.6.4-.3.3 1.3.4.4.3.2.4 1.8.3.3.4.5.3.5.4.8.3.2.4.7.3.9.4.2.3-.2.4 1.1.3-.4.4.8.3.7.4.1.3.7.4.3.3.7.4.2.3.4.4.1.3-.2.4-.8.3.2.4.7.3-.2.4.5.3.1.4 0 .3 1.1.4.6.3 0 .4.5.3.4.4-.7.3.3.4-.5.3.1.4.2.3.3.4-.4.3 1.7.4.2.3 0 .4.7.3.2.4 0 .3.1.4.1.3.1.4-.7.3-.9.4.6.3-.1.4.4.3-.6.4-.2.3 0 .4.2.3.8.4 0 .3.5.4.1.3-.5.4 1.1.3.3.4-.2.3-.6.4.2.3-.1.4-.4.3-.9.4-.8.3.2.4.5.3 0 .4.1.3-.2.4 1.1.3.2.4.8.3-.4.4.7.3-.9.4.6.3-.3.4-.9.3.1.4-.7.3.6.4.4.3.2.4-.2.3.6.4 0 .3.6.4.8.3-.8.4.1.3.3.4-.9.3.5.4 0 .3-.5.4.3.3.1.4.2.3.8.4-.5.3.9.4-.5.3.5.4-1.1.3-.1.4-.3.3-.3.4-.2.3-1.7.4.9.3-1.1.4 1.5.3.6.4-.1.3.4.4.9.3-.1.4.6.3.3.4.3.3.3.4-.8.3-.1.4.3.3-.2.4-1 .3-.5.4.3.3-.5.4-.1.3-.1.4.5.3.1.4 1.2.3-1.4.4.5.3.3.4.2.3-.4.4-.4.3-.3.4-.1.3.6.4-.2.3.4.4.2.3-.1.4.4.3.2.4.8.3-.3.4.7.3-.8.4 0 .3.4.4-.6.3-.7.4-.2.3.1.4-.3.3.2.4.3.3-1 .4.5.3.1.4.3.3.3.4.3.3-.1.4 0 .3.4.4-.2.3-.6.4 1.1.3-.2.4.1.3-.4.4-.4.3.1.4-.3.3 0 .4-.5.3.2.4-.5.3-.1.4.5.3.2.4-.5.3.6.4 1.1.3-.2.4 1 .3-.2.4-.5.3.1.4.1.3-.3.4.2.3-.7.4-.3.3.1.4-.4.3-.6.4-.2.3.2.4-1 .3 1.3.4-.5.3-.2.4.5.3.2.4-.1.3-.6.4 1.1.3-1 .4-.4.3-.3.4.1.3 0 .4-.3.3 0 .4.5.3.8.4-.1.3.1.4-.5.3-.4.4-.4.3.5.4-.1.3-.6.4-.6.3.6.4.1.3.8.4-.7.3.2.4.1.3.1.4 1 .3.6.4-.4.3-.3.4.6.3-.3.4.6.3-.2.4.7.3.1.4-.4.3-.4.4.4.3-.8.4-.1.3-.2.4 0 .3.6.4-1 .3.8.4.6.3-.5.4-4 .3-7.4.4-5.5.3-.7.4-.6-.2-3.4.4-126 .4 127 .5 5-.8-1.5.4.4.3.3.4.3.3-.4.4.2.3.3.4-.3.3-.7.4 1 .3-.1.4-1 .3 1.3.4.4.3-.9.4 1.9.3-.5.4-.6.3-.1.4.1.3 1 .4-1.7.3.2.4-.5.3.1.4.6.3-.4.4.5.3.2.4.6.3.3.4-.1.3.5.4-.9.3.3.4-.2.3 0 .4.3.3-1.1.4.5.3-3.8.4-3 .3-1.8.4-.9.3.7.4.4.3 1.4.4 1 .3.3.4 1.3.3.8.4 2.7.3.8.4.7.3.5.4.9.3.4.4 1 .3.8.4.1.3.3.4 0 .3 1 .4.5.3.7.4-.1.3-.1.4-.4.3.2.4 0 .3.5.4.4.3-.9.4-.2.3.3.4.1.3-.3.4-.1.3-.4.4-.1.3.7.4 2 .3.4.4.7.3.5.4.9.3.6.4-.3.3.6.4-.4.3.7.4.8.3-.5.4-.8.3-.1.4.5.3-.7.4.6.3-.3.4.3.3 0 .4.6.3-.5.4.4.3.1.4.3.3-.2.4-.2.3.9.4-.8.3 1.4.4 0 .3 0 .4-.1.3.4.4.2.3.1.4-.4.3-.2.4-.6.3.5.4-.3.3-.8.4 1.2.3 0 .4 0 .3.2.4.7.3.3.4.6.3-.7.4-.4.3.3.4.4.3-.4.4-1 .3.1.4-.1.3.1.4.5.3-.4.4.2.3-.1.4-.1.3-.3.4 1 .3.1.4.2.3-.5.4-.3.3.8.4-.2.3.1.4-.4.3.2.4.3.3.1.4.4.3-.7.4-.1.3-.6.4-.2.3.4.4.1.3.6.4-1 .3.9.4 0 .3.7.4-.2.3-1.5.4-.4.3-.6.4.5.3.1.4.1.3.9.4.2.3 1 .4-.5.3.2.4-.5.3-.2.4-.4.3.3.4.3.3-.1.4.4.3.2.4-.2.3.8.4-.1.3-.1.4-.2.3-.3.4-.2.3-1.3.4 1.6.3-.9.4-.8.3 0 .4-.3.3-.4.4-.3.3-.7.4.1.3.5.4.1.3-.2.4.7.3 0 .4-.1.3 1.1.4-.4.3.6.4-.9.3 1.2.4-.6.3.2.4-.6.3-.6.4.3.3.3.4.7.3-.1.4-.8.3-.4.4.2.3-.7.4 0 .3-.5.4-1.2.3-.5.4 1.3.3 0 .4-.4.3 1 .4.3.3-.8.4.6.3 1.1.4-1.3.3 1.3.4.7.3.1.4 1 .3-.9.4 1.5.3-.2.4-1.4.3.2.4.1.3-.6.4-1.5.3.5.4-.6.3.3.4.3.3.4.4-.3.3-.5.4-1 .3-.1.4-.6.3-.4.4.9.3.6.4-.1.3.8.4.5.3.5.4.1.3.9.4 0 .3.6.4.2-.4-4 .4-144.9.5 145.9.4 5-.6-10.1.4-9.8.3-4.1.4 1.8.3 1.5.4 1.4.3 2.4.4.7.3.9.4.4.3.9.4.5.3.5.4.8.3.5.4.5.3.3.4 2 .3-.1.4.6.3.3.4.7.3-.2.4 1.4.3-.9.4 1 .3.3.4-.3.3 1.2.4.8.3-.6.4.4.3-.1.4.4.3-.7.4.3.3-.7.4.1.3-.3.4-.8.3.3.4-1 .3-.1.4.1.3-.1.4.5.3 1.4.4 1.2.3.7.4-.1.3.2.4-.2.3.2.4.9.3-.3.4-1.2.3.1.4.4.3-.8.4.5.3.4.4 1 .3-.7.4-.5.3.4.4-.4.3.2.4.6.3-.8.4-.5.3.5.4-.3.3-.1.4.8.3-.2.4-1.1.3-1.6.4.2.3.3.4-.3.3 0 .4.3.3.3.4.9.3.5.4.3.3-.2.4.4.3-.1.4.9.3.1.4-.5.3.2.4-.1.3.9.4-.9.3.1.4-.5.3.2.4 0 .3-.7.4-.8.3-.1.4.5.3-.2.4.8.3.8.4.1.3 0 .4 0 .3-.2.4.2.3 0 .4-1.2.3.8.4-.1.3-.7.4 1.2.3-.1.4-.1.3.1.4.6.3-.5.4 0 .3.4.4-.5.3.4.4-.9.3-.2.4.9.3-.8.4.2.3.1.4.6.3-.6.4-.3.3.4.4.6.3-1.1.4.4.3.6.4.5.3-.2.4.4.3.1.4-1.1.3.3.4 1 .3-.2.4-.8.3-.5.4-.2.3.1.4 0 .3.7.4-1.1.3-.2.4-.6.3-.6.4.8.3-.4.4.9.3-1.2.4.8.3-.7.4.7.3.3.4-.3.3-.2.4-.3.3.9.4 0 .3.7.4.1.3 0 .4-.2.3.1.4-1.1.3.9.4-1.2.3.5.4-.4.3-.4.4.6.3.4.4-.1.3-.2.4.7.3.6.4.1.3.2.4-.1.3-.3.4.7.3-.5.4.2.3-.1.4-.6.3-.3.4-.6.3.9.4-.1.3-.7.4.4.3-.3.4.3.3.5.4 0 .3-.3.4-.2.3.1.4 0 .3-.8.4-.4.3-.4.4-.5.3-.4.4-1.4.3.6.4.6.3.4.4.7.3.4.4 1.2.3-.4.4 0 .3.3.4-.1.3.4.4.1.3.6.4-1.5.3.9.4-.4.3.9.4-1.2.3.2.4.2.3.6.4-.2.3-.7.4 1.4.3-.5.4-.1.3.7.4.2.3.3.4-.6.3.7.4-.5.3.1.4-.9.3-1 .4 0 .3-.1.4-.6.3-.9.4-.8.3.2.4.4.3-1.1.4-.2.3-.5.4.3.3.7.4 1.1.3.6.4.8.3.5.4.4.3 1.1.4-.2.3 0 .4.1.3-.1.4.1.3-.4.4-.2.3-1.3.4-.6.3.2.4-.2.3-1.1.4.9.3.1.4-2.4.3-8.3.4-8.8.3-1.2.4.4-.2-4.2.3-126.2.5 127.2.4 5-.7-2.5.4-.5.3-.2.4-.1.3.7.4.1.3.3.4-.1.3 1.2.4.5.3.6.4-.1.3-.1.4-.3.3.3.4.5.3.2.4.4.3-.9.4-.3.3.7.4-.6.3.5.4.2.3-1.1.4.2.3.5.4.1.3-.1.4.1.3.6.4 0 .3 0 .4.8.3-.7.4-.7.3-.5.4-.1.3-.4.4.1.3.2.4-.4.3 1 .4-.3.3 2.2.4-.1.3.2.4-.3.3-3.5.4-5 .3-2.6.4.2.3-.3.4 1.2.3.6.4.7.3.6.4-.2.3 0 .4 2.3.3.6.4 1 .3.9.4.1.3 1.4.4.2.3.7.4 1.5.3-.4.4 1.5.3 2.7.4 1.1.3 1.7.4.6.3.3.4.5.3-.1.4.6.3 0 .4-.1.3.1.4.9.3.6.4.7.3.4.4-.5.3.7.4.2.3.3.4-.3.3-.1.4-.2.3-1.6.4 1.1.3-.9.4.2.3.1.4.9.3.6.4.6.3-.2.4.4.3 1.6.4 0 .3.2.4.1.3-.2.4 1 .3-.2.4-.1.3-.2.4 1 .3-.3.4.1.3.6.4.4.3.6.4 1.1.3-.4.4-1 .3.2.4-1 .3-.1.4-.9.3-.6.4-.2.3.1.4-.2.3.7.4.2.3.4.4 1.3.3.4.4-.5.3.3.4-.8.3-.8.4-1.4.3-.7.4-1.7.3 1.6.4 0 .3.7.4 1 .3 1.4.4 1 .3.3.4.2.3-.3.4 1.2.3.2.4-.4.3 0 .4-.9.3-.3.4-1 .3-.3.4-.3.3-.7.4-.2.3-.4.4.8.3 1 .4-.4.3 1.3.4-.8.3-.2.4.6.3.9.4-.4.3.2.4-.2.3-.1.4 1.2.3-.4.4-.6.3 1.2.4-.2.3-.8.4.9.3.1.4.7.3-.4.4-.4.3.1.4-.2.3-.2.4-.6.3.5.4.1.3-.7.4.6.3.2.4-1.2.3 0 .4.3.3.2.4-.1.3-.2.4.1.3 0 .4-.8.3 0 .4 1.1.3.6.4-.4.3.5.4.2.3-.4.4.1.3-.1.4.6.3-.5.4.1.3-.7.4.5.3.1.4-.9.3.2.4.5.3-.7.4-.6.3-.2.4.9.3 0 .4.8.3.3.4-.3.3.2.4-.2.3 1 .4-.4.3-.3.4 0 .3-1.1.4-.3.3.2.4-.3.3 0 .4.5.3.4.4-.7.3.6.4.3.3-.7.4 1.4.3-.7.4-.3.3-.2.4-.2.3.1.4.3.3-.6.4-.3.3.8.4-.5.3.1.4.2.3-.7.4-.7.3.7.4.6.3-.5.4.4.3.1.4.4.3-.2.4 1.2.3-.8.4.3.3-.3.4.6.3-.1.4 0 .3-.1.4 1.2.3-.6.4-.6.3 1.1.4-1 .3 0 .4-.4.3-.5.4-.5.3.3.4.4.3 0 .4.3.3.5.4.3" stroke="#231f20" stroke-width="1.05" fill="none" stroke-linejoin="round" />
<line x1="580.80" y1="1195.00" x2="580.80" y2="1213.00" stroke="#231f20" stroke-width="1.3" />
<text x="588.0" y="1209.0" font-size="21.85" text-anchor="start" font-weight="normal" fill="#231f20" stroke="#231f20" stroke-width="0.3" >10 mV</text>
<line x1="545.30" y1="1387.90" x2="586.00" y2="1387.90" stroke="#231f20" stroke-width="1.3" />
<text x="529.7" y="1412.0" font-size="21.85" text-anchor="start" font-weight="normal" fill="#231f20" stroke="#231f20" stroke-width="0.3" >400 ms</text>
<text x="202.5" y="1351.4" font-size="21.85" text-anchor="start" font-weight="normal" fill="#231f20" stroke="#231f20" stroke-width="0.3" >-72 mV</text>
<polygon points="282.9,1344.7 301.2,1355.3 297.5,1361.6 317.2,1358.6 310.1,1340.0 306.4,1346.3 288.1,1335.7" fill="#d1d3d4"/>
<rect x="330.50" y="1325.90" width="106.00" height="130.20" fill="#fff" stroke="#231f20" stroke-width="1.3" />
<line x1="330.50" y1="1325.90" x2="436.50" y2="1325.90" stroke="#808285" stroke-width="1.5" />
<path d="M333.4 1453.3l14.1 0 0-8.9 85.5 0" stroke="#231f20" stroke-width="1.1" fill="none" stroke-linejoin="round" />
<path d="M333.4 1435.6l.3 0 .3 0 .3 0 .3 0 .3 0 .3 0 .3 0 .3 0 .3 0 .3 0 .3 0 .3 0 .3 0 .3 0 .3 0 .3 0 .3 0 .3 0 .3 0 .3 0 .3 0 .3 0 .3 0 .3 0 .3 0 .3 0 .3 0 .3 0 .3 0 .3 0 .3 0 .3 0 .3 0 .3 0 .3 0 .3 0 .3 0 .3 0 .3 0 .3 0 .3 0 .3 0 .3 0 .3 0 .3 0 .3 0 .3 0 .3 0 .3 0 .3 0 .3 0 .3-.1.3-.2.3-.3.3-.4.3-.4.3-.5.3-.5.3-.6.3-.6.3-.7.3-.7.3-.7.3-.8.3-.8.3-.9.3-.9.3-.9.3-.9-.1-.7.3-90 .5 90 .3 4-.7-4 .3 0 .3 0 .3 1 .3-.3.3-.3.3-.3.3-.3.3-.3.3-.3.3-.3.3-.3.3-.3.3-.3.3-.3.3-.3.3-.3.3-.3.3-.3.3-.3.3-.1.3.2.3.1.3.2.3.2.3.2.3.2.3.1.3.2.3.2.3.1.3.2.3.1.3.2.3.1.3.2.3.1.3.2.3.1.3.2.3.1.3.1.3.2.3.1.3.1.3.2.3.1.3.1.3.1.3.2.3.1.3.1.3.1.3.1.3.1.3.1.3.1.3.1.3.1.3.1.3.1.3.1.3.1.3.1.3.1.3.1.3.1.3.1.3.1.3.1.3 0 .3.1.3.1.3.1.3.1.3 0 .3.1.3.1.3.1.3 0 .3.1.3.1.3 0 .3.1.3.1.3 0 .3-.1.3.3.3.1.3 0 .3.5.3-.2.3-.3.3.2.3-.3.3-.2.3-.2.3-.1.3.3.3.5.3.6.3 0 .3 0 .3-.4.3-.3.3.4.3.1.3.7.3.4.3-.3.3 0 .3-.8.3.1.3.4.3 1 .3.9.3-.2.3-.4.3-1.1.3-.5.3 0 .3-.1.3.6.3.3.3-.2.3.3.3-.4.3 0 .3.1.3-.2.3-.1.3-.4.3-.1.3.5.3.6.3 0 .3.2.3-.3.3 0 .3 0 .3.5.3.2.3.5.3-.4.3-.6.3 0 .3-.3.3.5.3.1.3 0 .3-.1.3.4.3.5.3.1.3-.3.3-.2.3.2.3.2.3.7.3.2.3-.5.3-.1.3.2.3-.2.3.3.3-.3.3-.4.3-.1.3 0 .3 0 .3-.4.3 0 .3 0 .3.1.3.7.3.3.3.2.3 0 .3-.1.3-.3.3-.5.3.3.3-.2.3 0 .3.4.3.1.3.1.3.5.3 0 .3-.1.3-.3.3-.7.3-.3.3-.9.3.1.3.1.3.2.3.5.3.2.3 0 .3-.1.3.5.3-.2.3-.2.3.4.3-.1.3.2.3.3.3-.2.3-.3.3.2.3.1.3-.2.3.2.3-.4.3.2.3-.1.3-.2.3.2.3-.3.3.5.3.1.3 0 .3-.3.3-.1.3.1.3-.5.3.5.3 0 .3-.2.3.2.3-.4.3 0 .3.1.3.2.3.8.3 0 .3 0 .3-.3.3-.3.3.2.3-.3.3.9.3-.2.3-.2.3.1.3-.5.3-.5.3.1.3-.4.3.4.3.4.3-.3.3 1 .3-.4.3.2.3-.2.3-.6.3.3.3.4.3-.3.3 0 .3.1" stroke="#231f20" stroke-width="1.0" fill="none" stroke-linejoin="round" />
<path d="M333.4 1435.6l.3 0 .3 0 .3 0 .3 0 .3 0 .3 0 .3 0 .3 0 .3 0 .3 0 .3 0 .3 0 .3 0 .3 0 .3 0 .3 0 .3 0 .3 0 .3 0 .3 0 .3 0 .3 0 .3 0 .3 0 .3 0 .3 0 .3 0 .3 0 .3 0 .3 0 .3 0 .3 0 .3 0 .3 0 .3 0 .3 0 .3 0 .3 0 .3 0 .3 0 .3 0 .3 0 .3 0 .3 0 .3 0 .3 0 .3 0 .3 0 .3 0 .3 0 .3 0 .3 0 .3 0 .3 0 .3 0 .3 0 .3 0 .3 0 .3 0 .3 0 .3 0 .3 0 .3-.2.3-.3.3-.4.3-.6.3-.7.3-.7.3-.8.3-.9.3-.9.3-1 .3-1.1.3-1.1.3-1.2.1-1.7.3-89 .5 89 .3 4-.9-3.6.3-.4.3 0 .3 1.2.3-.3.3-.3.3-.3.3-.3.3-.3.3-.3.3-.3.3-.3.3-.3.3-.3.3-.3.3-.3.3-.3.3-.3.3-.3.3-.3.3-.3.3 0 .3.3.3.2.3.2.3.2.3.2.3.2.3.2.3.1.3.2.3.2.3.2.3.2.3.1.3.2.3.2.3.1.3.2.3.2.3.1.3.2.3.1.3.2.3.1.3.2.3.1.3.2.3.1.3.1.3.2.3.1.3.1.3.1.3.2.3.1.3.1.3.1.3.2.3.1.3.1.3.1.3.1.3.1.3.1.3.1.3.1.3.1.3.1.3.1.3.1.3.1.3.1.3.1.3.1.3.1.3 0 .3.1.3.1.3.1.3.8.3-.2.3-.1.3-.2.3-.4.3.2.3.1.3.3.3.7.3.3.3 0 .3.1.3-.6.3-.1.3 0 .3.4.3.2.3 0 .3-.1.3-.3.3-.2.3.2.3.2.3.1.3 1 .3 0 .3.2.3 0 .3-.3.3.5.3.4.3.1.3-.5.3-.4.3-.7.3-.2.3.2.3-.3.3.4.3.2.3 0 .3.3.3-.1.3.4.3.4.3-.2.3.3.3-.4.3-.2.3.3.3-.4.3.3.3.6.3-.7.3 1 .3-.6.3-.9.3.1.3-.8.3.3.3.1.3.5.3.5.3 0 .3.5.3.2.3.2.3.2.3.2.3 0 .3-.4.3 0 .3-.1.3.1.3-.3.3 0 .3 0 .3-.1.3.4.3.5.3.2.3-.3.3.3.3-.5.3-.4.3.5.3-.4.3-.2.3.3.3-.1.3.2.3.1.3.1.3-.3.3.1.3.1.3-.4.3-.3.3-.4.3.6.3.3.3.3.3.5.3-.2.3.2.3.2.3-.3.3 0 .3-.1.3.2.3.2.3.2.3-.4.3-.7.3 0 .3-.2.3.4.3.2.3 0 .3-.3.3-.1.3.2.3 0 .3.3.3-.1.3 0 .3.2.3.3.3.2.3.2.3 0 .3.1.3.4.3-.4.3.1.3-.3.3-.2.3-.4.3-.3.3-.4.3-.1.3.7.3.3.3.5.3-.3.3.1.3-.3.3-.5.3 0 .3-.1.3 0 .3.3.3.2.3-.1.3-.1.3.3.3 0 .3-.1.3 0 .3-.4.3-.2.3.4.3.6.3.2.3-.1.3-.3.3-.1.3-.1.3-.1.3.1.3-.3.3.3.3 0 .3.5.3.4.3-.3.3.2" stroke="#231f20" stroke-width="1.0" fill="none" stroke-linejoin="round" />
<path d="M333.4 1435.6l.3 0 .3 0 .3 0 .3 0 .3 0 .3 0 .3 0 .3 0 .3 0 .3 0 .3 0 .3 0 .3 0 .3 0 .3 0 .3 0 .3 0 .3 0 .3 0 .3 0 .3 0 .3 0 .3 0 .3 0 .3 0 .3 0 .3 0 .3 0 .3 0 .3 0 .3 0 .3 0 .3 0 .3 0 .3 0 .3 0 .3 0 .3 0 .3 0 .3 0 .3 0 .3 0 .3 0 .3 0 .3 0 .3 0 .3 0 .3 0 .3 0 .3 0 .3 0 .3 0 .3 0 .3 0 .3 0 .3 0 .3 0 .3 0 .3 0 .3 0 .3 0 .3 0 .3 0 .3 0 .3 0 .3 0 .3 0 .3 0 .3 0 .3 0 .3 0 .3 0 .3-.1.3-.3.3-.3.3-.4.3-.4.3-.6.3-.5.3-.7.3-.6.3-.8.3-.7.3-.8.3-.9.3-.9.3-.9.3-1 .3-1-.1-.7.3-91 .5 91 .3 4-.7-4 .3 0 .3 0 .3 1 .3-.3.3-.3.3-.3.3-.3.3-.3.3-.3.3-.3.3-.3.3-.3.3-.3.3-.3.3-.3.3-.3.3-.3.3-.3.3-.3.3-.1.3.2.3.3.3.2.3.2.3.2.3.3.3.2.3.2.3.2.3.2.3.2.3.2.3.2.3.2.3.2.3.2.3.2.3.1.3.2.3.2.3.2.3.1.3.2.3.2.3.1.3.2.3.1.3.2.3.1.3.2.3.1.3.2.3.1.3.1.3.2.3.1.3.1.3.2.3.1.3.1.3.1.3.2.3.1.3.1.3.1.3-.4.3.3.3.2.3.2.3.8.3 0 .3.3.3.2.3-.5.3.3.3.2.3 0 .3.3.3.6.3-.4.3.1.3.1.3-.6.3.1.3 0 .3-.1.3 0 .3.3.3.6.3.1.3.1.3.2.3-.1.3-.3.3 0 .3-.3.3 0 .3.5.3.2.3.6.3-.2.3-.2.3.1.3-.2.3.6.3-.1.3.2.3 0 .3 0 .3 0 .3-.4.3.4.3.1.3.6.3.3.3-.1.3-.2.3-.5.3.1.3-.3.3-.2.3.2.3-.1.3.2.3.5.3.5.3.4.3-.3.3-.1.3 0 .3-.1.3 0 .3-.8.3-.1.3-.2.3.4.3.4.3.1.3.2.3-.5.3.3.3-.2.3.3.3.6.3.4.3.3.3-.3.3-.3.3-.2.3-.2.3-.3.3-.4.3.2.3.1.3.9.3.4.3.1.3 0 .3-.3.3.2.3 0 .3.1.3-.2.3 0 .3-.3.3-.1.3.2.3 0 .3-.1.3 0 .3-.5.3.3.3.2.3-.7.3.2.3-.1.3-.6.3.8.3.5.3.2.3.8.3-.2.3 0 .3.1.3-.2.3 0 .3-.6.3-.4.3.2.3.3.3.2.3 0 .3-.7.3 0 .3.3.3.8.3.8.3.2.3.2.3-.6.3-.4.3-.2.3-.5.3.3.3 0 .3 0 .3.2.3-.3.3.4.3-1.1.3.4.3.3.3-.4.3.9.3-.3.3.1.3.1.3.1.3-.1.3-.3.3.4.3-.1.3.2.3-.1.3-.5.3 0 .3-.3.3.2.3.1.3-.5.3.3.3.3.3 0 .3.4.3 0 .3-.4.3-.3.3.1.3-.2.3 0 .3.8.3 0" stroke="#231f20" stroke-width="1.0" fill="none" stroke-linejoin="round" />
<path d="M333.4 1435.6l.3 0 .3 0 .3 0 .3 0 .3 0 .3 0 .3 0 .3 0 .3 0 .3 0 .3 0 .3 0 .3 0 .3 0 .3 0 .3 0 .3 0 .3 0 .3 0 .3 0 .3 0 .3 0 .3 0 .3 0 .3 0 .3 0 .3 0 .3 0 .3 0 .3 0 .3 0 .3 0 .3 0 .3 0 .3 0 .3 0 .3 0 .3 0 .3 0 .3 0 .3 0 .3 0 .3 0 .3 0 .3 0 .3 0 .3 0 .3 0 .3 0 .3 0 .3 0 .3 0 .3 0 .3 0 .3 0 .3 0 .3 0 .3 0 .3 0 .3 0 .3 0 .3 0 .3 0 .3 0 .3 0 .3 0 .3 0 .3 0 .3 0 .3 0 .3 0 .3 0 .3 0 .3 0 .3 0 .3 0 .3 0 .3 0 .3 0 .3 0 .3 0 .3-.2.3-.2.3-.3.3-.3.3-.4.3-.4.3-.5.3-.5.3-.6.3-.5.3-.6.3-.7.3-.6.3-.7.3-.8.3-.7.3-.8.3-.8.3-.8.1-1.2.3-91 .5 91 .3 4-.9-3.7.3-.3.3 0 .3 1.2.3-.3.3-.3.3-.3.3-.3.3-.3.3-.3.3-.3.3-.3.3-.3.3-.3.3-.3.3-.3.3-.3.3-.3.3-.3.3-.3.3-.3.3 0 .3.3.3.2.3.2.3.2.3.2.3.2.3.2.3.1.3.2.3.2.3.2.3.2.3.1.3.2.3.2.3.1.3.2.3.2.3.1.3.2.3.1.3.2.3.1.3.2.3.1.3.1.3.2.3.1.3.2.3.1.3.1.3.1.3.2.3.3.3.1.3.3.3-.1.3.4.3 0 .3-.1.3-.2.3-.4.3 0 .3-.2.3.4.3-.1.3.4.3.3.3 0 .3 0 .3.3.3.1.3.3.3-.1.3 0 .3.4.3-.4.3.6.3.1.3 0 .3.8.3.1.3.1.3-.6.3-.4.3-.2.3.2.3.8.3.7.3.4.3.1.3-.4.3-.3.3-.1.3.5.3-.1.3 0 .3 0 .3-.2.3.7.3.2.3.3.3-.2.3-.3.3-.2.3.4.3.5.3.2.3.4.3-.5.3.1.3-.6.3-.4.3.7.3-.5.3.2.3-.2.3-.2.3.4.3.3.3.1.3-.3.3-.4.3.2.3.8.3.2.3.3.3.2.3.1.3-.3.3 0 .3-.7.3-.6.3.7.3-.4.3.3.3.5.3-.1.3-.1.3 0 .3-.3.3-.3.3.9.3.1.3.1.3.5.3-.4.3-.3.3 0 .3-.2.3.1.3.6.3.2.3.1.3-.1.3-.2.3.3.3-.5.3.3.3.1.3-.6.3.4.3-.1.3-.4.3.2.3.2.3-.4.3.4.3.4.3-.1.3 0 .3-.4.3-.8.3.2.3.2.3.4.3.4.3-.4.3.5.3.2.3.5.3-.1.3-.3.3 0 .3-.7.3.1.3-.3.3.1.3.3.3.1.3.4.3-.4.3 0 .3.1.3-.3.3.4.3 0 .3-.6.3.2.3.2.3-.6.3.8.3.1.3-.7.3.6.3-.5.3-.4.3.4.3.1.3-.2.3.3.3-.1.3-.5.3.8.3-.1.3.1.3.6.3-.5.3.3.3-.1.3 0 .3.1.3.2.3.1.3.3.3.4.3-.6.3-.3.3-.3.3 0" stroke="#231f20" stroke-width="1.0" fill="none" stroke-linejoin="round" />
<path d="M333.4 1435.6l.3 0 .3 0 .3 0 .3 0 .3 0 .3 0 .3 0 .3 0 .3 0 .3 0 .3 0 .3 0 .3 0 .3 0 .3 0 .3 0 .3 0 .3 0 .3 0 .3 0 .3 0 .3 0 .3 0 .3 0 .3 0 .3 0 .3 0 .3 0 .3 0 .3 0 .3 0 .3 0 .3 0 .3 0 .3 0 .3 0 .3 0 .3 0 .3 0 .3 0 .3 0 .3 0 .3 0 .3 0 .3 0 .3 0 .3 0 .3 0 .3 0 .3 0 .3 0 .3 0 .3 0 .3 0 .3 0 .3 0 .3 0 .3 0 .3 0 .3 0 .3 0 .3 0 .3 0 .3 0 .3 0 .3 0 .3 0 .3 0 .3 0 .3 0 .3 0 .3 0 .3 0 .3 0 .3 0 .3 0 .3 0 .3 0 .3 0 .3 0 .3 0 .3 0 .3 0 .3 0 .3 0 .3 0 .3 0 .3 0 .3 0 .3-.1.3-.1.3-.2.3-.2.3-.3.3-.3.3-.3.3-.3.3-.4.3-.4.3-.4.3-.4.3-.5.3-.5.3-.5.3-.5.3-.5.3-.6.3-.6.3-.6.3-.6.3-.6.3-.7.3-.6.3-.7 0-.7.3-90.5.5 90.5.3 4-.8-4 .3 0 .3 0 .3 1.1.3-.3.3-.3.3-.3.3-.3.3-.3.3-.3.3-.3.3-.3.3-.3.3-.3.3-.3.3-.3.3-.3.3-.3.3-.3.3-.3.3-.3.3.2.3.2.3.3.3.2.3.2.3.2.3.2.3.2.3.2.3.2.3.2.3.2.3.2.3.1.3.2.3.2.3.2.3.1.3.2.3.2.3.8.3-.8.3.6.3-.7.3.5.3.5.3-.3.3.4.3-.2.3-.1.3.2.3 0 .3 1 .3.5.3.5.3.2.3-.2.3-.1.3-.5.3.2.3-.2.3 1 .3 0 .3 0 .3.4.3-.7.3.5.3.5.3-.1.3-.1.3-.3.3-.2.3.3.3.4.3.8.3 0 .3 0 .3-.2.3-.8.3.4.3-.2.3.5.3.5.3-.6.3 0 .3-.2.3 0 .3.5.3.5.3.1.3.5.3.1.3-.3.3-.3.3-.7.3.3.3.6.3.1.3.4.3-.4.3-.1.3.3.3.3.3.3.3-.5.3-.1.3.1.3.2.3.4.3-.1.3.2.3.7.3 0 .3.8.3-.2.3-.8.3 0 .3-.2.3.4.3.1.3.6.3 0 .3-.2.3.1.3-.4.3 0 .3-.4.3.6.3.1.3-.9.3.7.3-.8.3.1.3.7.3.2.3-.2.3.1.3.4.3-.7.3.8.3.1.3-.4.3-.2.3-.1.3-.4.3.7.3.5.3.2.3.3.3-.4.3-.3.3-.4.3 0 .3-.1.3.4.3.4.3 0 .3.3.3.1.3-.1.3-.2.3-.6.3.2.3.2.3.4.3.2.3.1.3-.2.3-.1.3 0 .3-.4.3-.2.3.1.3 0 .3.1.3.1.3-.5.3.2.3.1.3.2.3-.5.3.3.3 0 .3-.3.3 1.5.3-.3.3.2.3.3.3-1.2.3.4.3-.6.3.3.3.7.3-.6.3-.4.3-.4.3-.3.3.3.3.4.3.4.3.1.3-.1.3.9.3 0 .3 0 .3.3.3-1.1.3-.4.3.1.3-.3.3.2.3.4.3-.1.3 0 .3.1.3-.4.3.4" stroke="#231f20" stroke-width="1.0" fill="none" stroke-linejoin="round" />
<path d="M333.4 1435.6l.3 0 .3 0 .3 0 .3 0 .3 0 .3 0 .3 0 .3 0 .3 0 .3 0 .3 0 .3 0 .3 0 .3 0 .3 0 .3 0 .3 0 .3 0 .3 0 .3 0 .3 0 .3 0 .3 0 .3 0 .3 0 .3 0 .3 0 .3 0 .3 0 .3 0 .3 0 .3 0 .3 0 .3 0 .3 0 .3 0 .3 0 .3 0 .3 0 .3 0 .3 0 .3 0 .3 0 .3 0 .3 0 .3 0 .3 0 .3 0 .3 0 .3 0 .3 0 .3 0 .3 0 .3 0 .3 0 .3 0 .3 0 .3 0 .3 0 .3 0 .3 0 .3 0 .3 0 .3 0 .3 0 .3 0 .3 0 .3 0 .3 0 .3 0 .3 0 .3 0 .3 0 .3 0 .3 0 .3 0 .3 0 .3 0 .3 0 .3 0 .3 0 .3 0 .3 0 .3 0 .3 0 .3 0 .3 0 .3 0 .3 0 .3 0 .3 0 .3 0 .3 0 .3 0 .3 0 .3 0 .3-.1.3-.1.3-.1.3-.1.3-.2.3-.2.3-.2.3-.2.3-.2.3-.2.3-.3.3-.2.3-.3.3-.3.3-.3.3-.3.3-.4.3-.3.3-.3.3-.4.3-.4.3-.4.3-.3.3-.4.3-.5.3-.4.3-.4.3-.4.3-.5.3-.4.3-.5.3-.5.3-.5.3-.5.3-.5-.1-.3.3-91 .5 91 .3 4-.7-4 .3 0 .3 0 .3 1 .3-.3.3-.3.3-.3.3-.3.3-.3.3-.3.3-.3.3-.3.3-.3.3-.3.3-.3.3-.3.3-.3.3-.3.3-.3.3-.3.3-.1.3.2.3.2.3.2.3-.4.3.4.3.7.3.3.3.2.3 0 .3-.5.3 0 .3 0 .3.6.3.4.3.2.3.4.3-.1.3 0 .3.1.3.2.3.4.3.2.3.7.3.2.3.3.3.7.3-.4.3.3.3 0 .3-.2.3 0 .3-.2.3 0 .3.1.3.8.3.2.3.2.3.1.3-.6.3.2.3.1.3.5.3.7.3.1.3-.1.3-.3.3-.3.3.7.3.5.3.1.3.1.3-.7.3-.1.3-.5.3.1.3.3.3.4.3.3.3.4.3.1.3-.1.3.3.3 0 .3.3.3.5.3.1.3-.1.3-.1.3-.7.3.3.3.1.3 0 .3-.2.3.1.3-.2.3.1.3.7.3-.3.3.4.3.1.3-.2.3.2.3.1.3.2.3-.2.3.1.3.3.3-.3.3 0 .3.3.3 0 .3.4.3.4.3-.3.3.2.3.1.3.3.3 0 .3-.2.3-.5.3-.4.3.2.3.1.3.4.3.3.3.5.3-.3.3.2.3-.1.3-.2.3.1.3.2.3.5.3-.6.3.6.3-.5.3-.1.3.4.3-.3.3-.3.3-.3.3.1.3-.4.3.2.3.1.3.1.3.3.3.6.3-.1.3.1.3.4.3-.5.3.4.3-.1.3-.5.3.6.3.1.3 0 .3.5.3-.1.3-.4.3.6.3-.2.3-.4.3 0 .3-.5.3 0 .3.1.3-.3.3.2.3-.2.3.3.3.5.3-.2.3.2.3-.4.3-.1.3.5.3.2.3.1.3.4.3-.5.3-.1.3.6.3-.3.3.4.3.2.3-.3.3 0 .3-.1.3.4.3-.4.3-.7.3-.2.3-.8.3.3.3.3.3.1.3.6.3-.2" stroke="#231f20" stroke-width="1.0" fill="none" stroke-linejoin="round" />
<path d="M333.4 1435.6l.3 0 .3 0 .3 0 .3 0 .3 0 .3 0 .3 0 .3 0 .3 0 .3 0 .3 0 .3 0 .3 0 .3 0 .3 0 .3 0 .3 0 .3 0 .3 0 .3 0 .3 0 .3 0 .3 0 .3 0 .3 0 .3 0 .3 0 .3 0 .3 0 .3 0 .3 0 .3 0 .3 0 .3 0 .3 0 .3 0 .3 0 .3 0 .3 0 .3 0 .3 0 .3 0 .3 0 .3 0 .3 0 .3 0 .3 0 .3 0 .3 0 .3 0 .3 0 .3 0 .3 0 .3 0 .3 0 .3 0 .3 0 .3 0 .3 0 .3 0 .3 0 .3 0 .3 0 .3 0 .3 0 .3 0 .3 0 .3 0 .3 0 .3 0 .3 0 .3 0 .3 0 .3 0 .3 0 .3 0 .3 0 .3 0 .3 0 .3 0 .3 0 .3 0 .3 0 .3 0 .3 0 .3 0 .3 0 .3 0 .3 0 .3 0 .3 0 .3 0 .3 0 .3 0 .3 0 .3 0 .3 0 .3 0 .3 0 .3 0 .3 0 .3 0 .3-.1.3-.1.3-.1.3-.2.3-.1.3-.2.3-.2.3-.2.3-.3.3-.2.3-.3.3-.2.3-.3.3-.3.3-.4.3-.3.3-.3.3-.4.3-.3.3-.4.3-.4.3-.4.3-.4.3-.4.3-.5.3-.4.3-.4.3-.5.3-.5.3-.4.3-.5.3-.5.3-.5.3-.6-.1-.3.3-95.3.5 95.3.3 4-.7-4 .3 0 .3 0 .3 1 .3-.3.3-.3.3-.3.3-.3.3-.3.3-.3.3-.3.3-.3.3-.3.3-.3.3-.3.3-.3.3-.3.3-.3.3-.3.3.8.3-.6.3-.1.3.1.3.2.3-.2.3.1.3.1.3 0 .3.2.3.6.3.1.3.3.3.7.3 0 .3-.3.3-.2.3.2.3 1 .3 1 .3.2.3-.3.3-.6.3-.7.3.1.3.1.3.1.3 0 .3.3.3.1.3.2.3-.1.3-.1.3.4.3-.1.3.3.3.2.3.1.3.1.3.1.3.1.3.8.3.6.3.1.3-.2.3-.1.3-.2.3.4.3.8.3-.8.3-.1.3.1.3.1.3.6.3.3.3 0 .3-.3.3.1.3-.1.3-.1.3 0 .3.2.3.5.3.3.3.1.3.3.3-.1.3.2.3.1.3-.4.3.1.3-.2.3.4.3-.1.3 0 .3.1.3-.5.3.2.3-.3.3-.1.3.3.3.9.3 0 .3.4.3-.1.3-.5.3.2.3-.4.3.6.3.3.3-.4.3.3.3-.5.3-.7.3.5.3.3.3.1.3.6.3.5.3-.2.3.4.3.5.3-1.3.3.1.3.1.3-.5.3.7.3.5.3-.1.3-.5.3.4.3-.4.3-.2.3.2.3-.1.3.2.3-.3.3.2.3.3.3.4.3-.1.3.3.3-.5.3-.6.3.6.3.3.3.2.3-.1.3 0 .3-.3.3.2.3.3.3 0 .3 0 .3-.1.3-.5.3.4.3 0 .3-.1.3.2.3-.3.3.5.3-.2.3-.1.3.1.3-.6.3.2.3.1.3 0 .3.2.3-1.2.3.5.3.1.3-.4.3.6.3 0 .3.4.3.4.3 1.2.3.1.3-.7.3-.3.3-.2.3-.4.3-.1.3.1.3-.3.3.4.3-.3.3-.2.3.4.3.1.3.4.3.2.3-.3.3-.3.3.4" stroke="#231f20" stroke-width="1.0" fill="none" stroke-linejoin="round" />
<rect x="799.60" y="77.00" width="3.00" height="240.00" fill="#8b8c8f" stroke="none" stroke-width="1" />
<path d="M781.5 178.8l.7 0 0 1.3.7 0 0 .7.7 0 0 1.9.7 0 0 1.5.7 0 0 1.7.7 0 0 2.1.3 0 0 .3.4 0 0 1.2.7 0 0 .6.7 0 0 1.1.7 0 0 .6.7 0 0 .5.7 0 0 .2.7 0 0 .6.7 0 0 .6.7 0 0 .4 0 .9.7 0 0 .7.7 0 0 .1.7 0 0-.2.7 0 0 .9.7 0 0 1.1.7 0 0 1.6.7 0 0 .6.4 0 0-1 .3 0 0-.4.7 0 0-2 .7 0 0-.5.5 0 0-2.3.2 0 0-8 .7 0 0-22.3.6 0 0-17 .1 0 0 .4.7 0 0 2.6.7 0 0 2.3.5 0 0 2.5.2 0 0 .1.7 0 0-1.7.7 0 0-2 .7 0 0-2 .7 0 0-1.8.7 0 0-2 .3 0 0-.2.4 0 0-7.3.7 0 0-3.7.7 0 0 .5.7 0 0-3.2.5 0 0-2.9.2 0 0 .7.7 0 0-1.7.7 0 0-1.3.7 0 0-1.6.7 0 0-1 .7 0 0-.7.3 0 0-6 .4 0 0 1.6.7 0 0 1.4.7 0 0 7.5.7 0 0 1.4.7 0 0-.9.7 0 0 1.6.1 0 0 1.7.6 0 0 5.6.7 0 0-1.3.7 0 0 3.6.7 0 0 1.9.7 0 0 2.1.7 0 0 1.6.7 0 0 2.4.7 0 0 1.1.7 0 0 1.9.7 0 0 1.4.1 0 0 5.7.6 0 0 1.6.7 0 0 1 .7 0 0 1.8.7 0 0-3.6.7 0 0 1.9.7 0 0 2.3.7 0 0 4.3.7 0 0 2.1.7 0 0 1 .7 0 0 1.1.1 0 0 1.3.6 0 0 .8.7 0 0 1.2.7 0 0-1.1.7 0 0 1.1.7 0 0 1.3.7 0 0 2.6.7 0 0 .2.7 0 0 .3.7 0 0-.6.7 0 .5 0 0-.7.2 0 0-1 .7 0 0-.8.7 0 0-1 .7 0 0 1.9.7 0 0-2.5.6 0 0-2.7.1 0 0-2.1.7 0 0-2.4.7 0 0-2.5.7 0 0-3 .7 0 0-4.1.7 0 0-7.7.7 0 0-3.7.7 0 0-3 0-4 .7 0 0-4.1.7 0 0 .2.7 0 0-4.9.7 0 0-4.8.7 0 0-4.3.7 0 0-3.9.7 0 0-4.5.1 0 0-3.3.6 0 0-2.4.7 0 0-5 .7 0 0-3.3.7 0 0-1.7.7 0 0-2.7.7 0 0 1.2.7 0 0-1.7.2 0 0-1 .5 0 0-2.3.7 0 0-1.4.7 0 0 .3.7 0 0-.6.7 0 0-1.2.7 0 0-.9 0-.7.7 0 0-.9.7 0 0-2.3.7 0 .7 0 0 .7.2 0 0 2.1.5 0 0 .6.7 0 0 1.4.7 0 0-.1.7 0 0 1.8.4 0 0 1 .3 0 0 1.3.7 0 0 1.3.7 0 0 1.4.7 0 0 .5.7 0 0 1.8.7 0 0 1.1.2 0 0 .6.5 0 0 1.5.7 0 .7 0 0 .9.7 0 0 .9.7 0 0 .4.7 0 0 .4.7 0 0 .5.7 0 0 .5.6 0 0-.3.1 0 0 .5.7 0 0 .6.7 0 0 .1.7 0 0 2.6.7 0 0 1.1.7 0 0 1.9.7 0 0 1.5.7 0 0 1.3.7 0 0-5.9.7 0 0 1.3.6 0 0 1.1.1 0 0 9.3.7 0 0 .8.7 0 0 1.1.7 0 0-1.2.7 0 0 .8.7 0 0 1.5.7 0 0 1.2.7 0 0 1.2.7 0 0 1.1.7 0 0 1.3.7 0 0 1.1.7 0 0 1.5.7 0 0 1.8.7 0 0 .3.7 0 0 1 .1 0 0 2.4.6 0 0 3 .7 0 0 1.5.7 0 0 1.4.7 0 0 1.3.7 0 0 2.1.7 0 0 2.2.7 0 0 1.9.7 0 0 1.6.7 0 0-1.2.7 0 0 1.6.7 0 0 1.9.4 0 0 1 .3 0 0 1.1.7 0 0 3.2.7 0 0 .3.7 0 0 1.8.7 0 0 1.2.7 0 0 1.6.7 0 0 1.8.7 0 0 1 .7 0 0-1.5.7 0 0 1.2.7 0 0 1.6.3 0 0 .9.4 0 0 .3.7 0 0 .5.7 0 0-2.6.7 0 0 .6.7 0 0 5.4.7 0 0 .6.7 0 .7 0 0 .6.7 0 0 .4.7 0 0-.3.7 0 0 2.8.7 0 0 .8.7 0 .6 0 0-1.3.1 0 0-.2.7 0 0-.3.7 0 0 1.3.7 0 0 .6.7 0 .7 0 0 .6.7 0 0 1.2.7 0 0 .6.7 0 0 .1.7 0 0-.1.7 0 0-.9.7 0 0 .6.7 0 0 .4.7 0 0 .5.7 0 0 .5.1 0 0 2.3.6 0 0 1.3.7 0 0 .8.7 0 0-1.7.7 0 0 .9.7 0 0-.1.7 0 0 1.3.7 0 0 .7.7 0 0 .3.7 0 0 2.3.7 0 0 .6.7 0 0 .3.4 0 .3 0 0-1.4.7 0 0-.7.7 0 0-.6.7 0 0-.2.7 0 0-2.2.7 0 0-.3.7 0 0 .1.7 0 0 3.4.7 0 0-.2.7 0 0-3.5.7 0 0-.3.7 0 0 .3 0 .1.7 0 0-.8.7 0 0 .9.7 0 0-1.1.7 0 0-.2.7 0 0 .2.7 0 0-1 .7 0 0-.5.7 0 0-4.6.7 0 .7 0 0-.8.5 0 0 .1.2 0 .7 0 0 1.6.7 0 0 1.9.7 0 0 1.7.7 0 0 .5.7 0 0 .7.7 0 0-.6.7 0 0 .7.7 0 0-.8.7 0 0 1 0 2.2.7 0 0-.2.7 0 0 1.6.7 0 0 .2.7 0 0 .5.7 0 0-.6.7 0 0 .5.7 0 0 .3.7 0 0 .6.7 0 0 .3.7 0 0 1.3.2 0 0 .4.5 0 0 .2.7 0 0 .2.7 0 0-.9.7 0 0-2.8.7 0 0-.9.7 0 0-.3.7 0 0-.7.7 0 0 .3.7 0 0 1.1.7 0 0-.9.7 0 0-.2.7 0 0-.7.7 0 0-.2.7 0 0 .5.7 0 0 .1.7 0 0-1.3.7 0 0-.8.7 0 0-1.1.4 0 0 1.1.3 0 0-1.6.7 0 0-.5.7 0 0-2.1.7 0 0-3.1.7 0 0-1.4.7 0 0-.5.7 0 0-.7.7 0 0 1.6.7 0 0-.3.7 0 0-.6.7 0 0-2 .7 0 0-1.2.7 0 0-1.4.7 0 0-.4.7 0 0-.1.7 0 0-1.3.7 0 0-.7.7 0 0-1.8.7 0 0-.9.7 0 0-3.3.7 0 0-.9.7 0 0 2.3 0-.4.7 0 0-.4.7 0 .7 0 0-1.1.7 0 0-.9.7 0 0-.2.7 0 0-.9.7 0 .7 0 0-.2.7 0 .7 0 0-3.8.7 0 0-.1.7 0 0 .6.7 0 0-.6.7 0 0-.2.7 0 0-.7.7 0 0 1 .7 0 0-.1.7 0 0 .5.7 0 0-1.2.7 0 0 .2.5 0 0-1.4.2 0 0-.2.7 0 0 3.2.7 0 0-.2.7 0 0-1.5.7 0 0 .3.7 0 0 .9.7 0 0 .2.7 0 0-1.2.7 0 0-.1.7 0 0 .5.7 0 0-.1.7 0 0 4 .7 0 0 1.6.7 0 0-.1.7 0 0-.3.7 0 0 .2.7 0 0 .2.7 0 0-2.1.7 0 0 .2.7 0 0-.1.7 0 0 4.2.7 0 0 .4.6 0 0-.2.1 0 0 .4.7 0 0-.3.7 0 0-.6.7 0 0 1.2.7 0 0 .1.7 0 0 .6.7 0 0 .1.7 0 .7 0 0 .3.7 0 0 .5.7 0 .7 0 0 1.8.7 0 0 1.3.7 0 0 .9.7 0 0 1.6.7 0 0 2 .7 0 0 1.1.5 0 0-1.6.2 0 0 .7.7 0 0 1.6.7 0 0 .6.7 0 0 .8.7 0 0 .7.7 0 0 .7.7 0 0-.2.7 0 .7 0 0-.9.7 0 0 .4.7 0 0 .6.7 0 0 .6.7 0 0 1.3.6 0 0 1.8.1 0 0 .5.7 0 0-3.6.7 0 0 .7.7 0 0 3.6.7 0 0 .4.7 0 0 .8.7 0 0-.9.7 0 0 1 .7 0 0 1.3.7 0 0 .4.7 0 0-2.6.7 0 0 .3.7 0 0 .6.7 0 0 .3.7 0 0 .4.5 0 0 .2.2 0 0 4.9.7 0 0 1.2.7 0 0 .1.7 0 0-1.2.7 0 0-.9.7 0 0-2.1.7 0 0-.6.7 0 0 .2.7 0 0 .2.7 0 0 2.2.7 0 0-.7.7 0 0-2.5.7 0 0-.1.7 0 0-.8.7 0 0-.9.7 0 0-.3.7 0 0-1.4.2 0 0 .1.5 0 0 1.1.7 0 0 .4.7 0 0 .6.7 0 0 1.1.7 0 0 .5.7 0 0 2.6.7 0 0 .4.7 0 0-.4.7 0 0 .3.7 0 0 1.5.7 0 0 .9.7 0 0 .3.7 0 0-.4.7 0 0 .3.7 0 0 1.3.7 0 0-.2.7 0 0 1 .7 0 0-.4.6 0 0 .7.1 0 0 1.5.7 0 0 .1.7 0 0-5.4.7 0 .7 0 .7 0 0-.3.7 0 0 .3.7 0 0 2.4.7 0 0-.5.7 0 0 .3.7 0 0 .3.7 0 0-.4.7 0 .7 0 0-.7.7 0 0 .1.7 0 0-.5.7 0 0-.8.7 0 0-.3.7 0 0-1.2.3 0 0-.6.4 0 0 .3.7 0 0-.2.7 0 0-.9.7 0 0-.2.7 0 0-.1.7 0 0 1.4.7 0 .7 0 0 .2.7 0 0 1.6.7 0 0-.5.7 0 0 .4.7 0 0 .5.7 0 0 .3.7 0 0-.1.7 0 0 1 .7 0 0-1.6.7 0 0 .5.7 0 0 .3.7 0 0-4.2.7 0 0 .2.3 0 0-.7.4 0 0 6.7.7 0 0-.7.7 0 0-1.2.7 0 0-.7.7 0 0-2.5.7 0 0-1.1.7 0 0-1.1.7 0 0-1 .7 0 0-.2.7 0 0 2.3.7 0 0-.5.7 0 0-3.5.7 0 0-.8.7 0 0-.3.7 0 .7 0 0-1.1.7 0 0 .8.7 0 0-.4.7 0 0-.1.7 0 0-.9.7 0 0-.7.7 0 0-1.5.7 0 0-.7.7 0 0-.3.5 0 0-5.5.2 0 0-.2.7 0 0 6.9.7 0 0-.4.7 0 0-.8.7 0 0-.9.7 0 0-.2.7 0 .7 0 0-.7.7 0 0-.8.7 0 0 .1.7 0 0-1.3.7 0 0-.8.7 0 0-.8.7 0 0-.3.7 0 0 .2.7 0 0-1.2.7 0 0-.4.7 0 0-.4.7 0 0-.6.7 0 0-.9.7 0 0-1.3.7 0 0-.5.1 0 0-.7.6 0 0 .1.7 0 0-.6.7 0 0-.1.7 0 0-.9.7 0 0-.6.7 0 0-.2.7 0 0-3.7.7 0 0-.7.7 0 0 .6.7 0 0-1.5.7 0 0-.3.7 0 0-.7.7 0 0-.1.7 0 0 4.4.7 0 0-1 .7 0 0-.2.7 0 0 1.2.7 0 .2 0 0-.2.5 0 0 .1.7 0 0-.4.7 0 0 .2.7 0 0 .6.7 0 0 .5.7 0 0-.1.7 0 0 1.2.7 0 0 2 .7 0 0 .8.7 0 0-.3.7 0 0 1.7.7 0 0 1.5.7 0 0 1 .7 0 0 1.2.7 0 0 .3.7 0 0-.1.7 0 0-15.3.6 0 0 .9.1 0 0 .3.7 0 0-.1.7 0 0 .3.7 0 0 16.8.7 0 0 .4.7 0 0-.7.7 0 0 .4.7 0 0 .4.7 0 0 1.5.7 0 0 1.3.7 0 0 1.3.7 0 0-1.5.7 0 0 1.1.7 0 0 .8.7 0 0 1.1.7 0 .7 0 0 .3.7 0 0 .7.7 0 0 .6.7 0 0 2.8.7 0 0 .4.7 0 0 .4.2 0 0-1.3.5 0 0 1.7.7 0 0-.4.7 0 0 .7.7 0 0 .1.7 0 0-.1.7 0 0 .2.7 0 0 .5.7 0 0 .2.7 0 0 .5.7 0 0 .8.7 0 0-5.2.7 0 0 6 .7 0 0 .1.7 0 0 .9.7 0 0-.1.7 0 0-2.9.7 0 0 2.8.7 0 0 .9.7 0 0 1.3.7 0 0 .7.1 0 0 .2.6 0 0 .1.7 0 0-.7.7 0 0 .1.7 0 0 .4.7 0 0-.3.7 0 0 .2.7 0 0 .7.7 0 0 .3.7 0 0-.1.7 0 0-.5.7 0 0-1.3.7 0 .7 0 0 .3.7 0 0-5 .7 0 0-.4.7 0 0-.1.7 0 0 5.1.7 0 0 .4.7 0 .7 0 0 .8.7 0 0-.7.7 0 0 .7.7 0 0-.2.1 0 0-.4.6 0 0-.7.7 0 0 .3.7 0 0 .4.7 0 0-.1.7 0 0-.4.7 0 0 .1.7 0 0 2.2.7 0 0-.1.7 0 0-.2.7 0 0-.6.7 0 0 .8.7 0 0-2.6.7 0 0 .4.7 0 0 .4.7 0 0 .1.7 0 0 1 .7 0 0 1.6.7 0 .5 0 0-3.2.2 0 0 .2.7 0 0 .4.7 0 0 .8.7 0 0 3.3.7 0 0-.6.7 0 0-2.4.7 0 0-.6.7 0 0 .1.7 0 0-.9.7 0 0 1.1.7 0 0 .3.7 0 0 .3.7 0 0-.3.7 0 0 1.8.7 0 0-2.3.7 0 0-.3.7 0 0 .4.6 0 .1 0 0-2.7.7 0 0 2.1.7 0 0-.1.7 0 0-.9.7 0 0 .2.7 0 0-2.3.7 0 0-3.4.7 0 0 .2.7 0 0 3.8.7 0 0 2.3.7 0 .7 0 0-2.1.7 0 0-.3.7 0 0-.1.7 0 0-.1.7 0 0 1.6.7 0 0-.4.7 0 0 .3.7 0 0-1 .7 0 0-1.1.4 0 0 .3.3 0 0-.5.7 0 0-.1.7 0 0 .1.7 0 0-.7.7 0 0 .2.7 0 0 1.6.7 0 0-.4.7 0 0-.1.7 0 0-.5.7 0 0-2 .7 0 0 2.7.7 0 0-5.1.7 0 0-.6.7 0 0 .4.7 0 0-.1.7 0 0 4.3.7 0 0-1 .7 0 0 .2.7 0 0 .6.3 0 0 1.4.4 0 0 .1.7 0 0 .3.7 0 0 .7.7 0 0-.2.7 0 0 .7.7 0 0 .9.7 0 0-.1.7 0 0-.2.7 0 0 .1.7 0 0 .2.7 0 .7 0 0-.2.7 0 0 .4.7 0 0 1.4.7 0 0 .1.7 0 0 .4.7 0 0-.4.7 0 0-1.6.2 0 0 .4.5 0 0-.3.7 0 0-.2.7 0 0-4.8.7 0 0-.6.7 0 0-.6.7 0 0 2.9.7 0 0-1.6.7 0 0-.4.7 0 0 .1.7 0 0-.5.7 0 0 .9.7 0 0-1 .7 0 .7 0 0-.4.7 0 0-1.7.2 0 0-.5.5 0 0-.1.7 0 0-1 .7 0 0 1.1.7 0 0-.3.7 0 0-.6.7 0 .7 0 0-.4.7 0 0 .6.7 0 0-2.9.7 0 0-.4.7 0 0 .2.7 0 0-.5.7 0 0-.5.7 0 0 2.4.7 0 0-.3.7 0 0-.8.7 0 0-.3.1 0 .6 0 0-1 .7 0 0 .1.7 0 0 .3.7 0 0 .2.7 0 0 1.1.7 0 0-.5.7 0 0-.4.7 0 .7 0 0-1.2.7 0 0 .7.7 0 0 1.6.7 0 .7 0 0 .6.7 0 0-.1.7 0 0 .1.7 0 0 1.5.7 0 0-8.7.7 0 0 .8.7 0 0 8.8 0 .7.7 0 0 .1.7 0 0-1.1.7 0 0 .4.7 0 0 .1.7 0 0-.4.7 0 0 .4.7 0 0-1 .7 0 0-.2.7 0 0-.7.7 0 0-.2.7 0 0 .1.7 0 0 1.1.7 0 0 .3.7 0 0-2.1.7 0 0-.6.4 0 0 .5.3 0 0 .7.7 0 0-.2.7 0 0 2.8.7 0 0 1 .7 0 0 .6.7 0 .7 0 0-1.4.7 0 0 .6.7 0 0-.1.7 0 0 .7.7 0 0 .5.7 0 0 1.9.7 0 0-.4.4 0 .3 0 0 .5.7 0 0 .1.7 0 0 .7.7 0 0 .4.7 0 0 .4.7 0 0 1.4.7 0 0-.1.7 0 0 .5.7 0 0-1.7.7 0 0 .2.7 0 0 1.6.7 0 0 .1.7 0 0-.1.7 0 0 1.4.7 0 0-.8.7 0 0 1 .7 0 0-.3 0-2.2.7 0 0 .4.7 0 0 .9.7 0 0-1 .7 0 0-.3.7 0 0-.5.7 0 0-.3.7 0 0-.8.7 0 0-.6.7 0 0 .4.7 0 0-1.6.7 0 0-.1.7 0 0 .2.1 0 0 .1 0 11 0-.1-.1 0 0-.2-.7 0 0 2.2-.7 0 0 .4-.7 0 0 .1-.7 0 0 .6-.7 0 0 .8-.7 0 0-.4-.7 0 0 .4-.7 0 0 2.9-.7 0 0 1-.7 0 0 .8-.7 0 0-.4-.7 0 0-1.8 0-.5-.7 0 0-1-.7 0 0 .8-.7 0 0-.4-.7 0 0 .8-.7 0 0-.1-.7 0 0-.4-.7 0 0-.2-.7 0 0-.7-.7 0 0 .2-.7 0 0 .1-.7 0 0 .1-.7 0 0-1-.7 0 0 .6-.7 0 0-.7-.7 0 0-.2-.7 0 0-.4-.3 0 0-2.9-.4 0 0 .5-.7 0 0 .2-.7 0 0-.5-.7 0 0-1.1-.7 0-.7 0 0-.5-.7 0 0-.8-.7 0 0 3.5-.7 0 0-.7-.7 0 0-1-.7 0 0-4.2-.7 0 0 .9-.7 0 0-.7-.3 0 0-.5-.4 0 0 .6-.7 0-.7 0 0 1.5-.7 0 0 .3-.7 0 0-.1-.7 0 0 .2-.7 0 0-1-.7 0 0 .2-.7 0 0-.1-.7 0 0-.4-.7 0 0 .3-.7 0 0-.1-.7 0 0-.3-.7 0 0 .2-.7 0 0 .2-.7 0 0 .4 0-.4-.7 0 0-.8-.7 0-.7 0 0-.1-.7 0 0-2-.7 0 0 .1-.7 0 0 3.1-.7 0 0 .3-.7 0 0-.3-.7 0 0-.8-.7 0 0 .8-.7 0-.7 0 0 .3-.7 0 0-.4-.7 0 0-1.2-.7 0 0-3.4-.7 0 0-.4-.7 0-.7 0 0-.1-.6 0-.1 0 0 1-.7 0 0 .7-.7 0 0 1.4-.7 0 0-.2-.7 0 0 .5-.7 0 0 .5-.7 0 0-.2-.7 0 0-1-.7 0 0 .1-.7 0 0-.4-.7 0 0 .5-.7 0 0-.1-.7 0 0 .9-.7 0 0 .2-.7 0 0 .4-.7 0 0 1.1-.7 0 0 .8-.5 0 0 .6-.2 0 0 1.7-.7 0 0 .5-.7 0 0-.2-.7 0 0 1.1-.7 0 0 .8-.7 0 0 3.3-.7 0 0-.1-.7 0 0 .4-.7 0 0 1.6-.7 0 0-1.9-.7 0 0 .6-.7 0 0 .7-.7 0-.7 0 0 .2-.7 0 0 1.5-.5 0 0-.4-.2 0 0-.2-.7 0 0 .4-.7 0 0-1.8-.7 0 0-1.5-.7 0 0-1.2-.7 0 0-.4-.7 0 0-.5-.7 0-.7 0 0 .8-.7 0 0-.1-.7 0 0 .1-.7 0 0 .1-.7 0 0 .2-.7 0 0-2.3-.7 0-.7 0 0-.5-.7 0 0-.3-.7 0 0-.1-.4 0 0 .9-.3 0 0-.6-.7 0 0-.3-.7 0 0-.1-.7 0 0-.2-.7 0 0-.7-.7 0 0-.4-.7 0 0 .6-.7 0 0 .5-.7 0 0 .8-.7 0 0 .7-.7 0-.7 0 0 .1-.7 0 0 .4-.7 0 0-1.2-.7 0 0-.1-.7 0 0-.2-.7 0 0-.3-.7 0 0 .1-.7 0 0 .5-.3 0-.4 0 0 1.1-.7 0 0 .8-.7 0 0-.3-.7 0 0-.7-.7 0 0 .1-.7 0 0 .1-.7 0 0 .3-.7 0 0 .4-.7 0 0 .2-.7 0 0 .1-.7 0 0-.7-.7 0 0-.3-.7 0 0 .8-.7 0 0 .2-.7 0 0 .3-.7 0 0-.1-.7 0 0 1.5-.7 0 0 .2-.7 0 0 .2-.7 0-.1 0 0 .3-.6 0 0-.4-.7 0 0 1.5-.7 0 0 1-.7 0 0 .2-.7 0 0-.6-.7 0 0-.2-.7 0 0 .5-.7 0 0-.8-.7 0 0 .9-.7 0 0-1.4-.7 0 0 .6-.7 0-.7 0 0 .5-.7 0 0 .2-.7 0 0-.8-.7 0 0-.4-.7 0 0 .5-.2 0 0-.5-.5 0-.7 0 0 .5-.7 0 0-1-.7 0 0-.1-.7 0 0-.4-.7 0 0-.4-.7 0 0-.3-.7 0 0 3.5-.7 0 0 .6-.7 0 0 2.5-.7 0 0 .1-.7 0 0-.3-.7 0 0-.2-.7 0 0-7.2-.7 0 0 .1-.7 0 0-.4-.7 0 0-.1-.7 0 0 .3-.6 0 0 .4-.1 0 0 .4-.7 0 0-.7-.7 0 0 .2-.7 0 0 .9-.7 0 0-.3-.7 0 0-.5-.7 0-.7 0 0 .1-.7 0 0 .4-.7 0 0-1.7-.7 0 0-.3-.7 0-.7 0 0 .8-.7 0 0 .5-.7 0 0 .4-.7 0 0-.2-.7 0 0 3.5-.7 0 0-.2-.7 0 0 .3-.7 0 0 .4-.7 0 0-3.2-.7 0 0 .7-.7 0 0-.1-.6 0 0-.2-.1 0 0 3.1-.7 0 0-1.3-.7 0 0-.9-.7 0 0-.5-.7 0 0-.5-.7 0 0-3.8-.7 0 0-.9-.7 0 0 .6-.7 0 0-.5-.7 0 0-1.7-.7 0 0-.7-.7 0 0 1-.7 0 0-.2-.7 0 0-.4-.7 0 0-1.3-.7 0 0 .1-.7 0 0-.1-.7 0 0-.2-.7 0 0 6.3-.7 0 0-1.6-.5 0 0-.7-.2 0 0-.5-.7 0 0-4.3-.7 0 0-.4-.7 0 0-.6-.7 0 0-.7-.7 0 0-.3-.7 0 0-1.2-.7 0 0-1.1-.7 0 0-.8-.7 0 0-.5-.7 0-.7 0 0-.5-.7 0 0-1.3-.7 0 0-1.2-.7 0 0-.4-.7 0 0-.4-.7 0 0-.2-.7 0 0-1.2-.7 0 0-.6-.7 0 0-.3-.7 0 0 .2-.7 0 0 .5-.1 0 0-.9-.6 0 0 .6-.7 0 0 .1-.7 0 0-.3-.7 0 0-1.2-.7 0 0 .2-.7 0 0-1.4-.7 0 0-3-.7 0 0-2.9-.7 0 0-.9-.7 0 0-.9-.7 0 0-1.3-.7 0 0 .2-.7 0 0-1-.7 0 0-1.1-.7 0 0-.1-.7 0 0 .4-.7 0-.5 0-.2 0 0 .9-.7 0 0 .6-.7 0 0 .2-.7 0 0 1-.7 0 0 1.4-.7 0 0 .1-.7 0 0 .7-.7 0 0 1.1-.7 0 0-.2-.7 0 0-1.8-.7 0 0 .8-.7 0 0 .5-.7 0 0 .2-.7 0 0 .7-.7 0 0-.5-.7 0 0 .3-.7 0 0 1-.7 0 0-.1-.6 0 0 1.2-.1 0 0 .4-.7 0 0 .2-.7 0 0 .9-.7 0 0 .6-.7 0 0 .1-.7 0 0 .3-.7 0 0 .8-.7 0 0 .6-.7 0 0 .3-.7 0 0 .7-.7 0 0 .9-.7 0 0 1.8-.7 0 0 1-.7 0 0 1.2-.7 0 0 .6-.7 0 0-.2-.7 0 0 .2-.7 0 0 .9-.7 0 0-.2-.7 0 0-1.3-.7 0 0 .4-.7 0 0 .3-.2 0 0 .5-.5 0 0 .1-.7 0 0 .6-.7 0 0-.2-.7 0 0 .7-.7 0 0 1.7-.7 0 0-.8-.7 0 0 .4-.7 0 0 .9-.7 0 0 1.1-.7 0 0 1.5-.7 0 0 .3-.7 0 0 .8-.7 0 0 .4-.7 0 0 .6-.7 0 0-1.3-.7 0 0 .7-.7 0 0 1.2-.7 0 0 1.1-.7 0 0 1.1-.7 0 0 .4-.7 0 0 .7-.7 0 0 .7-.7 0 0 .8-.7 0 0-.2-.4 0 0 1.7-.3 0 0-.2-.7 0 0 3.1-.7 0 0-4.5-.7 0 0-.5-.7 0 0 1.5-.7 0 0-1.9-.7 0 0-1.4-.7 0 0-.1-.7 0 0 5-.7 0 0-.4-.7 0 0 .5-.7 0 0-.3-.7 0 0-.2-.7 0-.7 0 0-4.2-.7 0 0 .1-.7 0 0 .3-.7 0 0-1.1-.7 0 0 1-.7 0 0-2-.4 0 0 .2-.3 0 0 .9-.7 0 0-.1-.7 0 0 .8-.7 0 0 3.2-.7 0 0 5.9-.7 0 0 .7-.7 0 0-6.3-.7 0 0 .4-.7 0 0 .1-.7 0 0 .7-.7 0 0-2.2-.7 0 0 .3-.7 0 0-.3-.7 0 0 .3-.7 0 0-.1-.7 0 0 .1-.7 0 0 2.2-.7 0 0-.6-.7 0 0 1-.1 0 0-.7-.6 0 0 1.3-.7 0 0-4.3-.7 0 0 .1-.7 0 0-.3-.7 0 0-.3-.7 0 0-.2-.7 0 0-.3-.7 0 0-.6-.7 0 0-1.6-.7 0 0-.3-.7 0 0 .5-.7 0 0-.5-.7 0 0 .6-.7 0 0-1.8-.7 0 0-1.1-.7 0-.7 0 0-.5-.7 0 0-2.3-.5 0 0-.1-.2 0 0 2.3-.7 0 0 .4-.7 0 0 .2-.7 0 0 .7-.7 0 0 1.2-.7 0 0 2.3-.7 0 0-1.2-.7 0 0 .5-.7 0 0-.2-.7 0 0 1.8-.7 0 0 .7-.7 0-.7 0 0 .9-.7 0 0 1.2-.7 0 0 5.3-.7 0 0-1.2-.7 0 0-8.1-.2 0 0-.2-.5 0 0-.4-.7 0 0-3-.7 0 0 3.1-.7 0 0-.4-.7 0 0 .2-.7 0 0-.4-.7 0 0-5-.7 0 0-1-.7 0 0-.4-.7 0 0-.8-.7 0 0-.4-.7 0 0 2.6-.7 0 0-.8-.7 0-.7 0 0-2.5-.1 0 0 .2-.6 0 0-1.3-.7 0 0-.6-.7 0 0 3.2-.7 0 0-.3-.7 0-.7 0 0-.1-.7 0 0 .1-.7 0 0-4.8-.7 0 0-.8-.7 0 0-.8-.7 0 0-.6-.7 0 0 .1-.7 0 0-1.6-.2 0 0-.5-.5 0 0-1.2-.7 0 0 2.2-.7 0 0-.8-.7 0 0-3.6-.7 0 0-1.4-.7 0 0 1-.7 0 0 .1-.7 0 0-.5-.7 0 0-.3-.7 0 0-.9-.7 0 0 .1-.7 0 0-.6-.7 0 0-1.7-.7 0 0-1.3-.7 0 0-.9-.7 0 0 1.6-.7 0 0-.6-.1 0 0 .3-.6 0 0-2.6-.7 0 0-.6-.7 0 0 1.9-.7 0 0-.1-.7 0 0-.7-.7 0 0-.2-.7 0 0 3.4-.7 0 0-5.4-.7 0-.7 0 0-1.2-.7 0 0-1-.7 0 0 2.1-.7 0 0-.2-.7 0-.7 0 0-.8-.7 0 0-.2-.7 0 0-1.6-.7 0 0-.3-.7 0 0-.5-.7 0 0 .2-.7 0 0-.1-.7 0 0 2.7-.2 0 0-1.4-.5 0 0-.2-.7 0-.7 0-.7 0 0 .2-.7 0-.7 0 0-.3-.7 0 0 .1-.7 0 0 .2-.7 0 0-.1-.7 0 0 1-.7 0 0 .6-.7 0-.7 0 0 .3-.7 0 0-.1-.7 0 0 1.5-.7 0 0 .2-.7 0 0 .4-.7 0 0 1.2-.7 0-.7 0 0 .9-.7 0 0 .3 0 .3-.7 0 0 .8-.7 0 0 .5-.7 0 0 1.9-.7 0 0 2.5-.7 0 0 .6-.7 0 0 1.3-.7 0 0 .1-.7 0 0-.1-.7 0 0 1.1-.7 0 0 6-.7 0 0 1-.7 0 0 .6-.7 0 0-1.5-.7 0 0 1.8-.7 0 0 .7-.7 0 0 .5-.7 0 0 1.4-.7 0 0-3.6-.7 0 0 .7-.7 0 0 .6-.7 0 0 1.5-.3 0 0 .1-.4 0 0 1.2-.7 0 0 .8-.7 0 0 1.3-.7 0 0-.1-.7 0 0 2.3-.7 0 0 1.3-.7 0 0 .7-.7 0 0-.1-.7 0 0 .9-.7 0 0 .6-.7 0 0-.3-.7 0 0 .7-.7 0 0-2.1-.7 0 0 .9-.7 0 0-.5-.7 0 0 .9-.7 0 0-.2-.7 0 0-.2-.5 0 0-.4-.2 0 0 .2-.7 0 0-.3-.7 0 0 .8-.7 0 0-.2-.7 0 0-.4-.7 0 0-.4-.7 0 0-.5-.7 0 0-.2-.7 0 0-.9-.7 0 0-1-.7 0 0-.7 0-1-.7 0 0-.9-.7 0 0-1.7-.7 0 0-.4-.7 0 0 3.4-.7 0 0-.5-.7 0 0-1-.7 0 0-1.8-.7 0 0-2.1-.7 0-.2 0 0-.2-.5 0 0 .8-.7 0 0-.9-.7 0 0 1.3-.7 0 0 1.6-.7 0 0 1-.7 0 0 .6-.7 0 0 .2-.7 0 0 4.8-.7 0 0-.8-.7 0 0-2.4-.7 0 0 .8 0-.2-.7 0 0 .3-.7 0 0 1.1-.7 0 0-.8-.7 0 0-.1-.7 0 0-.5-.7 0 0 .2-.7 0 0 .1-.7 0 0 .2-.7 0 0 .7-.7 0 0 1-.7 0 0 .4-.3 0-.4 0 0 2.5-.7 0 0-.6-.7 0 0-1.8-.7 0 0-.3-.7 0 0-.8-.7 0 0-2.3-.7 0-.7 0 0 2.8-.7 0 0-.4-.7 0 0-.8-.7 0 0-1.4-.6 0 0-3.6-.1 0 0-.6-.7 0 0 1-.7 0 0-.3-.7 0 0-1.7-.7 0 0-.4-.7 0 0 .1-.7 0 0-.4-.7 0 0-.6-.7 0 0 1.7-.7 0 0-.6-.7 0 0-.1-.7 0 0-.6-.7 0 0-4.2-.7 0 0-.1-.7 0 0 .2-.1 0 0 .1-.6 0-.7 0 0-.7-.7 0 0-1-.7 0 0-.5-.7 0 0-.4-.7 0 0-.6-.7 0-.7 0 0 7.2-.7 0 0-8.1-.7 0 0-.6-.7 0 0-1.6-.7 0 0-.5-.7 0 0-1.2-.4 0 0 5.7-.3 0 0-.5-.7 0 0-.7-.7 0 0-6.5-.7 0 0-1.7-.7 0 0-.9-.7 0 0-1.4-.7 0 0-1.2-.7 0 0-1.2-.7 0 0-.5-.7 0 0-1.4-.7 0 0-1.8-.3 0 0-1-.4 0 0-1.9-.7 0 0-.7-.7 0 0-1.1-.7 0 0 .2-.7 0 0-1.9-.7 0 0-1.4-.7 0 0-2.1-.7 0 0-1.3-.7 0 0-4.7-.7 0 0-1.5-.7 0 0-1.6-.6 0 0-2.4-.1 0 0-1.1-.7 0 0-1.2-.7 0 0-1.7-.7 0 0 2.4-.7 0 0-1.1-.7 0 0-1.3-.7 0 0-1.4-.7 0 0-1.2-.7 0 0-1.2-.7 0 0-1.4-.7 0 0-2.7-.7 0 0-.3-.7 0 0-1.1-.7 0 0-.8-.7 0 0-1.7-.1 0 0-1.1-.6 0 0-1.3-.7 0 0-3.4-.7 0 0-1.2-.7 0 0-1.6-.7 0 0-2-.7 0 0-1-.7 0 0-.6-.7 0 0-1.6-.7 0 0-.6-.7 0 0-.5-.1 0 0-.4-.6 0 0-.5-.7 0 0-.5-.7 0 0-.2-.7 0 0 4.4-.7 0 0-.8-.7 0 0-.9-.7 0 0-.2-.7 0 0-1.5-.5 0 0-5.4-.2 0 0-1.1-.7 0 0-.9-.7 0 0-.9-.7 0 0-1.2-.7 0 0-1.3-.7 0 0-1.4-.3 0 0 .8-.4 0 0-1.1-.7 0 0 .1-.7 0 0-3.9-.7 0 0-.7-.5 0 0-.2-.2 0 0-.7-.7 0-.7 0 0 .4-.7 0 0 .8-.7 0 0 .7 0 1.4-.7 0 0 1.2-.7 0 0 1.4-.7 0 0-.4-.7 0 0 1.4-.7 0 0 4.4-.5 0 0 1-.2 0 0-1-.7 0 0 6.9-.7 0 0 2.7-.7 0 0 1.8-.7 0 0 3.2-.7 0 0 2.6-.7 0 0-3.9-.6 0 0 3.3-.1 0 0 9-.7 0 0 .6-.7 0 0 5.5-.7 0 0 4.1-.7 0 0 3.1-.7 0 0 4.1-.7 0 0 4.1-.7 0 0 4.1 0 2.8-.7 0 0 3.6-.7 0 0 4.1-.7 0 0 5.4-.7 0 0 3-.7 0 0 2.3-.7 0 0 2.4-.7 0 0 2.1-.1 0 0 3.4-.6 0 0 2.6-.7 0 0 .7-.7 0 0 1-.7 0 0 .8-.7 0 0 .5-.2 0 0-.3-.5 0-.7 0 0 .6-.7 0 0-.6-.7 0 0-.2-.7 0 0-.4-.7 0 0-1.3-.7 0 0-1.1-.7 0 0-.1-.7 0 0-1.3-.7 0 0-.8-.6 0 0-3.7-.1 0 0-1.1-.7 0 0-1-.7 0 0-.7-.7 0 0-2-.7 0 0-2.3-.7 0 0-2-.7 0 0-1.4-.7 0 0-1.8-.7 0 0-1-.7 0 0-1.6-.6 0 0-1.8-.1 0 0-1.6-.7 0 0-1.9-.7 0 0-1.9-.7 0 0-1.4-.7 0 0-3.1-.7 0 0-2-.7 0 0-1.9-.7 0 0-1.8-.7 0 0-2.2-.7 0 0-2.1-.6 0 0-1.8-.1 0 0-1.6-.7 0 0-1.9-.7 0 0-1.4-.7 0 0-3.9-.7 0 0-1.4-.7 0 0-1.6-.4 0 0 .6-.3 0 0 5.9-.7 0 0 1-.7 0 0 1.6-.7 0 0 1.9-.7 0 0 1.6-.7 0 0 .6-.2 0 0 2.9-.5 0 0 3.1-.7 0 0-2-.7 0 0 3.6-.7 0 0 1.6-.4 0 0 .2-.3 0 0 2-.7 0 0 1.6-.7 0 0 1.9-.7 0 0 4.2-.7 0 0 6.1-.7 0 0 .5-.2 0 0-2.5-.5 0 0-.7-.7 0 0-2.6-.7 0 0-.4-.1 0 0 19.2-.6 0 0 18.8-.7 0 0 6.5-.2 0 0 2.3-.5 0 0 1.9-.7 0 0-2.6-.7 0 0 .4-.3 0 0-.7-.4 0 0-.5-.7 0 0-1.6-.7 0 0-1.5-.7 0 0-.9-.7 0 0-.2-.7 0 0-.2-.7 0 0 1.5-.7 0 0-1.5-.7 0 0-2.2-.7 0 0-.5-.7 0 0-.3-.7 0 0 .7-.7 0 0 .4-.7 0 0 2.4-.7 0 0-5.3-.7 0 0-.2-.4 0 0-.4-.3 0 0 3-.7 0 0-5.3-.7 0 0-.9-.7 0 0-1.8-.7 0 0-.6-.7 0 0-1.8-.7 0z" fill="#8b8c8f" stroke="#8b8c8f" stroke-width="0.5"/>
<line x1="810.50" y1="170.00" x2="810.50" y2="204.00" stroke="#8b8c8f" stroke-width="1.2" />
<rect x="781.00" y="77.00" width="569.80" height="232.00" fill="none" stroke="#231f20" stroke-width="1.6" />
<line x1="800.80" y1="309.00" x2="800.80" y2="304.20" stroke="#231f20" stroke-width="1.4" />
<line x1="800.80" y1="77.00" x2="800.80" y2="81.80" stroke="#231f20" stroke-width="1.4" />
<text x="800.2" y="336.1" font-size="21.6" text-anchor="middle" font-weight="normal" fill="#231f20" stroke="#231f20" stroke-width="0.3" >0</text>
<line x1="943.15" y1="309.00" x2="943.15" y2="304.20" stroke="#231f20" stroke-width="1.4" />
<line x1="943.15" y1="77.00" x2="943.15" y2="81.80" stroke="#231f20" stroke-width="1.4" />
<text x="942.5" y="336.1" font-size="21.6" text-anchor="middle" font-weight="normal" fill="#231f20" stroke="#231f20" stroke-width="0.3" >100</text>
<line x1="1085.50" y1="309.00" x2="1085.50" y2="304.20" stroke="#231f20" stroke-width="1.4" />
<line x1="1085.50" y1="77.00" x2="1085.50" y2="81.80" stroke="#231f20" stroke-width="1.4" />
<text x="1084.9" y="336.1" font-size="21.6" text-anchor="middle" font-weight="normal" fill="#231f20" stroke="#231f20" stroke-width="0.3" >200</text>
<line x1="1227.85" y1="309.00" x2="1227.85" y2="304.20" stroke="#231f20" stroke-width="1.4" />
<line x1="1227.85" y1="77.00" x2="1227.85" y2="81.80" stroke="#231f20" stroke-width="1.4" />
<text x="1227.2" y="336.1" font-size="21.6" text-anchor="middle" font-weight="normal" fill="#231f20" stroke="#231f20" stroke-width="0.3" >300</text>
<line x1="781.00" y1="99.50" x2="785.80" y2="99.50" stroke="#231f20" stroke-width="1.4" />
<line x1="1350.80" y1="99.50" x2="1346.00" y2="99.50" stroke="#231f20" stroke-width="1.4" />
<text x="771.5" y="107.1" font-size="21.6" text-anchor="end" font-weight="normal" fill="#231f20" stroke="#231f20" stroke-width="0.3" >45</text>
<line x1="781.00" y1="145.70" x2="785.80" y2="145.70" stroke="#231f20" stroke-width="1.4" />
<line x1="1350.80" y1="145.70" x2="1346.00" y2="145.70" stroke="#231f20" stroke-width="1.4" />
<text x="771.5" y="153.3" font-size="21.6" text-anchor="end" font-weight="normal" fill="#231f20" stroke="#231f20" stroke-width="0.3" >35</text>
<line x1="781.00" y1="192.00" x2="785.80" y2="192.00" stroke="#231f20" stroke-width="1.4" />
<line x1="1350.80" y1="192.00" x2="1346.00" y2="192.00" stroke="#231f20" stroke-width="1.4" />
<text x="771.5" y="199.6" font-size="21.6" text-anchor="end" font-weight="normal" fill="#231f20" stroke="#231f20" stroke-width="0.3" >25</text>
<line x1="781.00" y1="238.70" x2="785.80" y2="238.70" stroke="#231f20" stroke-width="1.4" />
<line x1="1350.80" y1="238.70" x2="1346.00" y2="238.70" stroke="#231f20" stroke-width="1.4" />
<text x="771.5" y="246.3" font-size="21.6" text-anchor="end" font-weight="normal" fill="#231f20" stroke="#231f20" stroke-width="0.3" >15</text>
<line x1="781.00" y1="284.60" x2="785.80" y2="284.60" stroke="#231f20" stroke-width="1.4" />
<line x1="1350.80" y1="284.60" x2="1346.00" y2="284.60" stroke="#231f20" stroke-width="1.4" />
<text x="771.5" y="292.2" font-size="21.6" text-anchor="end" font-weight="normal" fill="#231f20" stroke="#231f20" stroke-width="0.3" >0</text>
<text x="1065.5" y="63.9" font-size="21.7" text-anchor="middle" font-weight="bold" fill="#231f20" >0.5 ms</text>
<text x="1063.9" y="364.7" font-size="21.85" text-anchor="middle" font-weight="normal" fill="#231f20" stroke="#231f20" stroke-width="0.3" >Time (ms)</text>
<text x="729.2" y="190.4" font-size="21.85" text-anchor="middle" font-weight="normal" fill="#231f20" stroke="#231f20" stroke-width="0.3" transform="rotate(-90 729.2 190.4)">Stimulus (μA)</text>
<polygon points="793.6,313.8 807.2,313.8 800.4,304.8" fill="#231f20"/>
<line x1="1276.60" y1="94.50" x2="1276.60" y2="183.30" stroke="#231f20" stroke-width="1.5" />
<text x="1294.3" y="123.2" font-size="21.85" text-anchor="start" font-weight="normal" fill="#231f20" stroke="#231f20" stroke-width="0.3" >1 mV</text>
<text x="1264.2" y="237.3" font-size="21.85" text-anchor="start" font-weight="normal" fill="#939598" stroke="#939598" stroke-width="0.3" >45 μA</text>
<defs><linearGradient id="cb76" x1="0" y1="0" x2="0" y2="1"><stop offset="0.000" stop-color="#d63728"/><stop offset="0.017" stop-color="#d83b28"/><stop offset="0.034" stop-color="#da3f28"/><stop offset="0.051" stop-color="#db4428"/><stop offset="0.068" stop-color="#dd4828"/><stop offset="0.085" stop-color="#df4c28"/><stop offset="0.102" stop-color="#e15028"/><stop offset="0.119" stop-color="#e35528"/><stop offset="0.136" stop-color="#e45928"/><stop offset="0.153" stop-color="#e66127"/><stop offset="0.169" stop-color="#e86926"/><stop offset="0.186" stop-color="#ea7026"/><stop offset="0.203" stop-color="#ec7825"/><stop offset="0.220" stop-color="#ed7f24"/><stop offset="0.237" stop-color="#ef8723"/><stop offset="0.254" stop-color="#f18f22"/><stop offset="0.271" stop-color="#f39820"/><stop offset="0.288" stop-color="#f5a01f"/><stop offset="0.305" stop-color="#f7a81d"/><stop offset="0.322" stop-color="#f9b01d"/><stop offset="0.339" stop-color="#fab72f"/><stop offset="0.356" stop-color="#fbbe41"/><stop offset="0.373" stop-color="#fcc453"/><stop offset="0.390" stop-color="#fccc69"/><stop offset="0.407" stop-color="#fdd480"/><stop offset="0.424" stop-color="#fddd97"/><stop offset="0.441" stop-color="#fde4ae"/><stop offset="0.458" stop-color="#feebc3"/><stop offset="0.475" stop-color="#fef2d8"/><stop offset="0.492" stop-color="#fff8ec"/><stop offset="0.508" stop-color="#fffefd"/><stop offset="0.525" stop-color="#f7f7fa"/><stop offset="0.542" stop-color="#efeff4"/><stop offset="0.559" stop-color="#e7e7ef"/><stop offset="0.576" stop-color="#dee0ea"/><stop offset="0.593" stop-color="#d6d8e5"/><stop offset="0.610" stop-color="#ced1e0"/><stop offset="0.627" stop-color="#c6c9db"/><stop offset="0.644" stop-color="#bec2d6"/><stop offset="0.661" stop-color="#b6bbd1"/><stop offset="0.678" stop-color="#aeb4cc"/><stop offset="0.695" stop-color="#a6adc7"/><stop offset="0.712" stop-color="#9da5c2"/><stop offset="0.729" stop-color="#949dbd"/><stop offset="0.746" stop-color="#8b96b9"/><stop offset="0.763" stop-color="#828eb4"/><stop offset="0.780" stop-color="#7986af"/><stop offset="0.797" stop-color="#717faa"/><stop offset="0.814" stop-color="#6978a6"/><stop offset="0.831" stop-color="#6271a1"/><stop offset="0.847" stop-color="#5b6a9d"/><stop offset="0.864" stop-color="#546398"/><stop offset="0.881" stop-color="#4d5d94"/><stop offset="0.898" stop-color="#47578f"/><stop offset="0.915" stop-color="#42528a"/><stop offset="0.932" stop-color="#3d4d85"/><stop offset="0.949" stop-color="#384780"/><stop offset="0.966" stop-color="#33427c"/><stop offset="0.983" stop-color="#2e3d77"/><stop offset="1.000" stop-color="#293872"/></linearGradient></defs>
<rect x="1386.00" y="76.90" width="44.20" height="234.50" fill="url(#cb76)" stroke="#231f20" stroke-width="1.3" />
<line x1="1386.00" y1="110.30" x2="1389.00" y2="110.30" stroke="#231f20" stroke-width="1.2" />
<line x1="1427.20" y1="110.30" x2="1430.20" y2="110.30" stroke="#231f20" stroke-width="1.2" />
<text x="1435.2" y="117.9" font-size="21.6" text-anchor="start" font-weight="normal" fill="#231f20" stroke="#231f20" stroke-width="0.3" >1</text>
<line x1="1386.00" y1="154.00" x2="1389.00" y2="154.00" stroke="#231f20" stroke-width="1.2" />
<line x1="1427.20" y1="154.00" x2="1430.20" y2="154.00" stroke="#231f20" stroke-width="1.2" />
<text x="1435.2" y="161.6" font-size="21.6" text-anchor="start" font-weight="normal" fill="#231f20" stroke="#231f20" stroke-width="0.3" >0.5</text>
<line x1="1386.00" y1="196.50" x2="1389.00" y2="196.50" stroke="#231f20" stroke-width="1.2" />
<line x1="1427.20" y1="196.50" x2="1430.20" y2="196.50" stroke="#231f20" stroke-width="1.2" />
<text x="1435.2" y="204.1" font-size="21.6" text-anchor="start" font-weight="normal" fill="#231f20" stroke="#231f20" stroke-width="0.3" >0</text>
<line x1="1386.00" y1="240.60" x2="1389.00" y2="240.60" stroke="#231f20" stroke-width="1.2" />
<line x1="1427.20" y1="240.60" x2="1430.20" y2="240.60" stroke="#231f20" stroke-width="1.2" />
<text x="1435.2" y="248.2" font-size="21.6" text-anchor="start" font-weight="normal" fill="#231f20" stroke="#231f20" stroke-width="0.3" >−0.5</text>
<line x1="1386.00" y1="284.30" x2="1389.00" y2="284.30" stroke="#231f20" stroke-width="1.2" />
<line x1="1427.20" y1="284.30" x2="1430.20" y2="284.30" stroke="#231f20" stroke-width="1.2" />
<text x="1435.2" y="291.9" font-size="21.6" text-anchor="start" font-weight="normal" fill="#231f20" stroke="#231f20" stroke-width="0.3" >−1</text>
<text x="1358.9" y="335.9" font-size="21.85" text-anchor="start" font-weight="normal" fill="#231f20" stroke="#231f20" stroke-width="0.3" >Mean ΔV</text>
<text x="1442.6" y="347.8" font-size="17.5" text-anchor="start" font-weight="normal" fill="#231f20" stroke="#231f20" stroke-width="0.3" >m</text>
<rect x="799.60" y="433.90" width="3.00" height="240.30" fill="#8b8c8f" stroke="none" stroke-width="1" />
<path d="M781.5 535.2l.7 0 0 1.1.7 0 0 .8.7 0 0 .5.7 0 0 .3.7 0 0 3.5.7 0 0 .3.7 0 0 1 .7 0 0 1.1.7 0 0 .8.7 0 0-5.3.7 0 0 .8.7 0 0 .8.1 0 0-.8.6 0 0 6.8.7 0 0-1.2.7 0 0-.7.7 0 0-1.5.7 0 0-.4.7 0 0-2.2.7 0 0-4.1.7 0 0-.7.7 0 0-.7.7 0 0-1.3.1 0 0-3.6.6 0 0-1.1.7 0 0-2.1.7 0 0 4.1.7 0 0-3.2.3 0 0-.3.4 0 0-9.2.7 0 0-16.4.7 0 0-16.1.7 0 0-17.1.5 0 0-10.7.2 0 0-2.5.7 0 0-6.9.7 0 0-4 .7 0 0-7 .7 0 0-3.2.7 0 .7 0 .7 0 .7 0 .2 0 0 1.1.5 0 0 5.7.7 0 0 6.6.7 0 0 5.2.7 0 0 5.8.7 0 0 6.3.7 0 0-.5 0 .4.7 0 0 4.6.7 0 0 3.4.7 0 0 4.5.7 0 0 4.1.7 0 0 4.8.7 0 0 3.9.7 0 0 2.5.7 0 0 3.3.7 0 0 2.5.3 0 0 3.1.4 0 0 5 .7 0 0 .9.7 0 0 2.8.7 0 0 1.1.7 0 0 1.4.7 0 0 1.1.7 0 0 2.6.7 0 0 .9.7 0 0 2.6.7 0 0 1.2.7 0 0 4.2.7 0 0 .2.3 0 0 2.5.4 0 0 1.8.7 0 0 .5.7 0 0 1.1.7 0 0 1.8.7 0 0-4.2.7 0 0-1.3.7 0 0 .5.7 0 0 .4.7 0 0 .5.7 0 0-.8.7 0 0 3.9.7 0 0 .1.7 0 0 .4.7 0 0 .8.7 0 0 .7.7 0 0-1.1.7 0 0 2.6.7 0 0 1.1.7 0 0-.7.7 0 0-1.6.7 0 0 .4.7 0 0 .7.5 0 0-.4.2 0 0 3.1.7 0 0-.9.7 0 0-.2.7 0 0 1.1.7 0 0 .4.7 0 0-1.4.7 0 0 .2.7 0 0-.1.7 0 0 1.2.7 0 0 .1.7 0 0-7.1.7 0 0 .5.7 0 0-.2.7 0 0 .7.7 0 0 .2.7 0 0 4.6.7 0 0 .7.7 0 0 3.7.7 0 0-.8.7 0 0-.7.7 0 0-.5.7 0 0-2.4.7 0 0-.7.7 0 0-1.7.1 0 .6 0 0 .2.7 0 0-1.8.7 0 0 2.4.7 0 0-.3.7 0 0 .4.7 0 0 2.8.7 0 0 .1.7 0 0 .4.7 0 0-1.4.7 0 0 .1.7 0 0-2.7.7 0 0 3.1.7 0 0 .7.7 0 0-1.5.7 0 0 1.3.7 0 0-.5.7 0 0 .7.7 0 0 .1.7 0 0-.8.7 0 0-.4.7 0 0 .9.7 0 0-2.8.7 0 0-.3.7 0 0 4.6.7 0 0-3 .7 0 0-.2.7 0 0-1.3.7 0 0 1.5.5 0 0-.2.2 0 0 .2.7 0 0 1 .7 0 0-.7.7 0 0 .7.7 0 0 .3.7 0 0-1.9.7 0 0-.5.7 0 0 .8.7 0 0 .2.7 0 0-8 .7 0 0 .3.7 0 0 6 .7 0 0-.7.7 0 0-1.4.7 0 0-.3.7 0 0 .1.7 0 0 1.7.7 0 0 .5.7 0 0 .7.7 0 0-1.6.7 0 0-2.8.7 0 0-2.6.1 0 0-.6.6 0 0-.4.7 0 0 1 .7 0 0-.1.7 0 0-.6.7 0 0-.7.7 0 .7 0 0-2.6.7 0 0-2 .7 0 0-1.2.7 0 0-5.1.1 0 0-1.3.6 0 0-1.2.7 0 0-.9.7 0 0-1.4.7 0 0-2.1.7 0 0-2.4.7 0 0-2.6.7 0 0 1.9.7 0 0-.4.5 0 0-1.6.2 0 0-1.8.7 0 0-1.8.7 0 0-2.8.7 0 0-1.8.7 0 0-2.2.7 0 0-5.9.7 0 0-1.1.7 0 0-2.3.7 0 0-1.9.2 0 0-1.3.5 0 0 .5.7 0 0 .2.7 0 0-.7.7 0 0-2.2.7 0 0-.7.7 0 0-2.1.7 0 0-1 .3 0 0-4.7.4 0 0-1.1.7 0 0-.8.7 0 0-5.1.7 0 0-1.1.7 0 0 6.6.7 0 0-.1.7 0 0-.5.7 0 0 .7.7 0 0 .7 0-.1.7 0 0-.7.7 0 0 .1.7 0 0 .4.7 0 0 .3.7 0 0 .9.7 0 0 .6.7 0 0-1.3.7 0 0 .1.4 0 0 .7.3 0 0 .8.7 0 0 3.5.7 0 0-3.1.7 0 0 1.5.7 0 0 .8.7 0 0 .9.7 0 0 .6.7 0 0-2.3.7 0 0 1.5.1 0 0 5.3.6 0 0 1.8.7 0 0 5.5.7 0 0 1.1.7 0 0 1.1.7 0 0 1 .7 0 0 1.4.7 0 0 2.2.7 0 0 2.1.5 0 0 3.5.2 0 0 2.8.7 0 0 2.1.7 0 0-2.7.7 0 0 1.9.7 0 0 2 .7 0 0 1.4.7 0 0 2 .7 0 0 2.6.7 0 0 2.5.7 0 0 3.6.5 0 0 1.6.2 0 0 1.7.7 0 0 .3.7 0 0 2 .7 0 0 2 .7 0 0-.8.7 0 0 1.6.7 0 0 .4.7 0 0 1.5.7 0 0 1.5.7 0 0 8.5.7 0 0 2.1.7 0 0 .5.7 0 0 1.1 0 .6.7 0 0 1.2.7 0 0-12.1.7 0 0-.4.7 0 0 .2.7 0 0-.3.7 0 0 9.2.7 0 0-.8.7 0 0 .1.7 0 0-1.5.7 0 0-.9.4 0 .3 0 0-5.5.7 0 0-1.1.7 0 0-.2.7 0 0-6.3.7 0 0-.5.7 0 0 6.9.7 0 0-1.6.7 0 0-1.2.7 0 0-.3.7 0 0-1.1.4 0 0-1.6.3 0 0-1.8.7 0 0-1.3.7 0 0-1.8.7 0 0-1.2.7 0 0-.7.7 0 0-5.3.7 0 0-2.1.7 0 0-1.1.7 0 0 2.3.1 0 0-1.8.6 0 0-3.3.7 0 0-2.3.7 0 0-1.9.7 0 0-2 .7 0 0-2.4.7 0 0-3.1.7 0 0-2 .7 0 0-1.5.5 0 0-1.9.2 0 0-5 .7 0 0-2.3.7 0 0-1.5.7 0 0 3.1.7 0 0-1.4.7 0 0-.9.7 0 0-1.4.6 0 0-1 .1 0 0-4.6.7 0 0-1.4.7 0 0-2 .7 0 0-.4.7 0 0-1.1.7 0 0-4.8.7 0 0-.9.7 0 0-1.2 0 .6.7 0 0-1.4.7 0 0 4.1.7 0 0-.9.7 0 0-2.2.7 0 0-1.6.7 0 0 1 .7 0 0-4.9.1 0 .6 0 0 .1.7 0 0 2.3.7 0 0 .5.7 0 0 .5.7 0 0 .5.7 0 0 3.2.7 0 0 .8.7 0 0 .9.5 0 0 .7.2 0 0-3.8.7 0 0 1.3.7 0 0 3.1.7 0 0 .4.7 0 0 1.6.7 0 0 1 .7 0 0 1.3.7 0 0 1.6.7 0 0 2 .2 0 0 1.4.5 0 0 1.4.7 0 0 1.7.7 0 0 2.1.7 0 0-1 .7 0 0 2.2.7 0 0 5.4.7 0 0 1.4.7 0 0 1.2.7 0 0 .9.7 0 0-5 .2 0 0 .5.5 0 0 1.7.7 0 0 .8.7 0 0 1.3.7 0 0 3.3.7 0 0 1.2.7 0 0 3.7.7 0 0 1.4.7 0 0 1 .7 0 0 1.5.7 0 0 1.6.7 0 0 3.9.7 0 0 2.1.7 0 0 1.4.1 0 0 .9.6 0 0-.5.7 0 0 2.1.7 0 0 1 .7 0 0 .4.7 0 0 2 .7 0 0-30.2.7 0 0 34.2.7 0 0 1.5.7 0 0-3.2.7 0 0 1.1.7 0 0 .8.7 0 0 1.7.7 0 0 .8.7 0 0 .7.7 0 0 .8.7 0 0 .5.7 0 0 .1.7 0 0 .2.5 0 0 .7.2 0 0 .2.7 0 0 1 .7 0 0 5.9.7 0 0 .6.7 0 0 .4.7 0 0 .7.7 0 0 .5.7 0 0-.7.7 0 0 1 .7 0 0 .3.7 0 0 .7.7 0 0 .5.7 0 0 .8.7 0 0 .2.7 0 0 .1.7 0 0 .9.7 0 0 1 .7 0 0 1.3.7 0 0-.9.7 0 0-.3.7 0 0 .9.7 0 0 .3.7 0 0 .3.7 0 0-1.7.7 0 0-.1.7 0 0-.7.7 0 0 2.7.6 0 0-.2.1 0 0 .5.7 0 0 .4.7 0 0-.6.7 0 0-2.5.7 0 0-1 .7 0 0 1.3.7 0 0 1.2.7 0 0 2.9.7 0 0-2.9.7 0 0 1.5.7 0 0-.2.7 0 0-.3.7 0 0 2 .7 0 0 .2.7 0 0 .2.7 0 0 .6.7 0 0 1.2.3 0 0-4.6.4 0 0-.4.7 0 0 4 .7 0 0-1.3.7 0 0-1 .7 0 0 .6.7 0 0 .6.7 0 0-1 .7 0 0-.2.7 0 0-.2.7 0 0-3.8.7 0 0-1.5.7 0 0-.8.7 0 0 2.9.7 0 0-1 .7 0 0 .3.7 0 0-.5.7 0 0-1 .7 0 0-2.2.7 0 0-.4.4 0 0-1.7.3 0 0-1.1.7 0 0-1.1.7 0 0-5.6.7 0 0-.3.7 0 0 1.2.7 0 0-1.3.7 0 0-1.1.7 0 0-1.1.7 0 0-1.5.7 0 0-.7.7 0 0 1 .7 0 0-1.2.7 0 0-.4.7 0 0-1.3.6 0 0-1.8.1 0 0-.8.7 0 0-2.8.7 0 0-1.5.7 0 0-1.1.7 0 0-.5.7 0 0-2.9.7 0 0-.3.7 0 0 .4.7 0 0-.3.7 0 0-1 .7 0 0-.3.7 0 0-.1.2 0 0-.7.5 0 .7 0 0 .4.7 0 0-.6.7 0 0-1 .7 0 0-1 .7 0 0-.2.7 0 .7 0 0-1.3.7 0 0 1.8.7 0 0-.4.7 0 0-.2.7 0 0 1.5.7 0 0 .6.7 0 0-2 .7 0 0 .7.7 0 0 .5.7 0 .3 0 0 .2.4 0 0-.8.7 0 0 .1.7 0 0 .2.7 0 0 4 .7 0 0 .6.7 0 0 .2.7 0 .7 0 0 .1.7 0 0-.7.7 0 0-.1.7 0 0-.1.7 0 0-.8.7 0 0 .5.7 0 0-16 .7 0 0 .2.7 0 0 15.4.7 0 0 .6.7 0 0-5.9.7 0 0-.3.7 0 0 2.3.7 0 0 .5.6 0 0-.4.1 0 0 3.2.7 0 0-1.8.7 0 0-.1.7 0 0-4.5.7 0 0 .5.7 0 0 3.6.7 0 0 1.2.7 0 0 .2.7 0 0 .4.7 0 0 .3.7 0 0 .2.7 0 0 1.2.7 0 0-1.7.7 0 0-.4.7 0 0-.2.7 0 0 .6.7 0 0 .9.7 0 0-.7.7 0 0 2.2.7 0 0 .6.7 0 0 1.1.7 0 0 3.1.7 0 0 1.1.5 0 0 1.2.2 0 0 .7.7 0 0 .3.7 0 0-2.8.7 0 0 1.9.7 0 0 3.7.7 0 0-.9.7 0 0 1 .7 0 0 1.2.7 0 0 1.1.7 0 0 2.2.7 0 0 1.3.7 0 0 1.4.7 0 0 1.6.4 0 0 1.5.3 0 0 1.5.7 0 0 .4.7 0 0 1.1.7 0 .7 0 0-6.7.7 0 0 .5.7 0 0 .6.7 0 0 2.9.7 0 0-.6.7 0 0-.8.7 0 0 1.4.7 0 0 .1.7 0 0 .2.7 0 .7 0 0 .4.7 0 0 1.2.7 0 0 3.9.7 0 0 .3.7 0 0-.1.7 0 0 .1.7 0 0-2.2.7 0 0 .7 0 2.7.7 0 0 .2.7 0 0 .6.7 0 0 .7.7 0 0 .2.7 0 0-.4.7 0 0 1.1.7 0 0 .1.7 0 .7 0 0 .2.7 0 0 .7.7 0 0-.9.7 0 .7 0 0-3.9.7 0 0 3.3.7 0 0-.8.7 0 0 .8.7 0 0-4.1.7 0 0-.5.7 0 0 .1.7 0 .7 0 0-.5.7 0 0 4.5.7 0 0 1.3.7 0 0-.7.7 0 0-7 .7 0 0 7.4.7 0 0 .7.7 0 0-2.4.4 0 0-1.8.3 0 0 .6.7 0 0-.3.7 0 0-.9.7 0 0-.4.7 0 0-1.1.7 0 0-.5.7 0 0-.3.7 0 0-1.6.7 0 0-1.2.7 0 0 4.2.7 0 0-.9.7 0 0-1.4.7 0 0-1.6.7 0 0-2.8.7 0 0 .5.7 0 0-1.4.7 0 0 1.7.7 0 0-.5.7 0 0 1.5.7 0 0 .9.7 0 0 .2.7 0 0-3 .7 0 0-.3.3 0 0 .1.4 0 0-.2.7 0 0-.3.7 0 0-17.1.7 0 .7 0 0-.5.7 0 0 12.7.7 0 0-1.4.7 0 0-1.8.7 0 0-.3.7 0 0-.6.7 0 0-.9.7 0 0-.8.7 0 0-.6.7 0 0-1.4.7 0 0 .7.7 0 0 2.1.7 0 0-.2.4 0 0-9.4.3 0 0 1.1.7 0 0-1.4.7 0 0 5.2.7 0 0 .6.7 0 .7 0 0 .2.7 0 0 1.7.7 0 0-.3.7 0 0-.6.7 0 0 .1.7 0 0-1.5.7 0 0 1.3.7 0 0-1.4.7 0 0 1.8.7 0 0-.8.7 0 .7 0 0-.2.5 0 0-1.3.2 0 0 .4.7 0 0 .8.7 0 0 .6.7 0 0-.4.7 0 0 1.2.7 0 0 .3.7 0 0 1 .7 0 0-1.6.7 0 0 1.4.7 0 0 2.8.7 0 0 .8.7 0 0-6.8.7 0 0 .5.7 0 0 .5.7 0 0 .2.7 0 0 .6.7 0 0-4.1.6 0 0-.5.1 0 0 .3.7 0 0 .5.7 0 0 .4.7 0 0 12.1.7 0 0 3.4.7 0 0 .3.7 0 0 .1.7 0 0 .7.7 0 0 .4.7 0 0-11.9.7 0 0 .6.7 0 0 .9.7 0 0 .7.7 0 0 11.9.7 0 0-.6.7 0 0 .7.7 0 0 .8.7 0 0-9.9.7 0 0 .7.3 0 0 .2.4 0 0 .9.7 0 0 5.7.7 0 0 6.4.7 0 0 .9.7 0 0-.1.7 0 0 .6.7 0 0 1.2.7 0 0-.9.7 0 0-.6.7 0 0 .2.7 0 0-.1.7 0 0-4.2.7 0 0-2.7.7 0 0-.9.7 0 0 .4.7 0 .7 0 0 .4.7 0 0 3.5.7 0 0-.3.7 0 0-.7.7 0 0 .5.6 0 0 .4.1 0 0-.3.7 0 0-.1.7 0 .7 0 0 .5.7 0 0-.7.7 0 0 .2.7 0 0-1.2.7 0 0 .2.7 0 .7 0 0 .9.7 0 0-1.4.7 0 0-2.8.7 0 0-4.4.7 0 0-.2.7 0 0 6.6.7 0 0-4.3.7 0 0 5.7.7 0 0 .4.7 0 0 1.1.7 0 0 .4.7 0 0 .8.7 0 0 .1.2 0 0-5.2.5 0 0 .1.7 0 0-12.8.7 0 0 .2.7 0 0 13.9.7 0 0 .1.7 0 0-9.3.7 0 0 10.7.7 0 0-.8.7 0 0-1 .7 0 0-.8.7 0 0-.6.7 0 0-1.6.7 0 0-.3.7 0 .7 0 0 1.7.7 0 0 3 .7 0 0 .9.7 0 0-.5.7 0 0-4.5.7 0 0 .7.7 0 0 3.5.5 0 .2 0 0-.3.7 0 0-2.9.7 0 0-.2.7 0 0 .3.7 0 .7 0 0-.5.7 0 0-.6.7 0 0-.3.7 0 0 1.1.7 0 0 1.7.7 0 0-1.3.7 0 0-.4.7 0 0-.1.7 0 0 1.5.7 0 0-.3.7 0 0-.9.7 0 0-.9.6 0 .1 0 0-4.1.7 0 0-.7.7 0 0 1.9.7 0 0-.9.7 0 0 .3.7 0 0-.3.7 0 0-.9.7 0 0-3 .7 0 0 .2.7 0 0 .2.7 0 0-.3.7 0 0 .2.7 0 0-.8.7 0 0-.4.7 0 0-.6.1 0 0 1.2.6 0 0-.8.7 0 0-.3.7 0 .7 0 0-.7.7 0 0-2 .7 0 0-.1.7 0 0-.4.7 0 0-.8.7 0 0 .4.7 0 0 .8.7 0 0-.4.7 0 0 .5.7 0 0 .8.7 0 0 1.3.7 0 0-.5.7 0 0-4.1.7 0 .2 0 0 2.2.5 0 0 .4.7 0 0-1.3.7 0 0-.2.7 0 0-.1.7 0 0 .4.7 0 0-1.1.7 0 0-.8.7 0 .7 0 0 .4.7 0 0 2.2.7 0 0-.9.7 0 0-1.2.7 0 0-2 .7 0 0 .3.7 0 0 4.3.7 0 0-.3.7 0 0-.8.7 0 0 .6.7 0 0 .2.7 0 0 .5.7 0 0-.5.7 0 0 .2.7 0 0 .8.1 0 0-2.3 0 22.6 0 .3-.1 0 0-.8-.7 0 0-.2-.7 0 0 .4-.7 0 0-1.7-.7 0 0-.2-.7 0 0-.3-.7 0 0 .8-.7 0 0 4.9-.7 0 0 .1-.7 0 0-1.3-.7 0 0 .3-.7 0 0-3.8-.7 0 0 .9-.7 0 0 .5-.7 0 0 3.3-.7 0-.7 0 0-1.6-.7 0 0 .1-.7 0 0-.4-.7 0 0 .1-.7 0 0-.5-.7 0 0 .9-.7 0 0-.5-.5 0 0 .9-.2 0 0 7-.7 0 0-.1-.7 0 0 .5-.7 0 0 .8-.7 0 0 3.6-.7 0 0-.5-.7 0 0 .4-.7 0-.7 0 0-7.6-.7 0 0 .8-.7 0 0-1.9-.7 0 0 .1-.7 0 0 .8-.7 0 0 .7-.7 0 0-2.5-.7 0 0 .3-.7 0 0 .9-.6 0 0 .8-.1 0 0 9.4-.7 0 0 .5-.7 0 0 .3-.7 0 0-.2-.7 0 0 7-.7 0 0-.2-.7 0 0-.2-.7 0 0-16.3-.7 0 0 .9-.7 0 0 .3-.7 0 0-.2-.7 0 0 .8-.7 0 0 1.2-.7 0 0 4.6-.7 0 0 .7-.1 0-.6 0 0 1.5-.7 0 0 .9-.7 0 0 .3-.7 0 0-1.6-.7 0 0 .2-.7 0 0 .4-.7 0 0 3.6-.7 0 0-.2-.7 0 0-1.2-.7 0 0-.3-.7 0 0 .6-.7 0 0-2.3-.7 0 0 .8-.7 0 0-.3-.7 0 0 .2-.7 0 0 .4-.7 0 0-2.2-.2 0 0 .1-.5 0 0-.5-.7 0 0-.7-.7 0 0 1.5-.7 0 0 .5-.7 0 0-.9-.7 0 0-.2-.7 0 0 3-.7 0 0 8-.7 0 0 .3-.7 0 0 .1-.7 0 0 .6-.7 0 0-8.6-.7 0 0 1.1-.7 0 0 .7-.7 0 0-1.3-.7 0 0 .1-.7 0 0 2.1-.7 0 0 .4-.7 0 0-5.2-.7 0 0 .6-.7 0 0-.1-.5 0 0 .5-.2 0 0-.1-.7 0 0-.7-.7 0 0-.5-.7 0 0-1.1-.7 0 0 .3-.7 0 0 6.1-.7 0 0 .2-.7 0 0 .1-.7 0 0-4.8-.7 0 0 4.9-.7 0 0 .1-.7 0 0 .3-.7 0 0-1-.7 0 0-6-.7 0 0-.2-.7 0 0 1.3-.7 0 0 7.8-.7 0 0 .7-.7 0 0-7.4-.7 0-.7 0 0-1.1-.7 0 0 3.7-.1 0 0 .9-.6 0 0-1.8-.7 0 0-1.6-.7 0 0 .3-.7 0 0 .5-.7 0 0 6.8-.7 0 0 .1-.7 0 0-.5-.7 0 0 1-.7 0 0-8-.7 0 0 .8-.7 0-.7 0 0-.2-.7 0 0 .8-.7 0 0 .9-.7 0 0 7.4-.7 0 0-.6-.7 0 0 .1-.7 0 0-.2-.7 0-.7 0-.7 0 0-1-.4 0 0-8.5-.3 0 0-.7-.7 0 0-1.4-.7 0 0 1.9-.7 0 0-1.2-.7 0 0 .6-.7 0 0-.6-.7 0 0-.7-.7 0 0-2.6-.7 0 0 16.9-.7 0-.7 0 0-17.7-.7 0 0-.7-.7 0 0-.1-.7 0 0 1.6-.7 0 0-.9-.7 0 0-2.6-.7 0 0-.3-.7 0 0-.5-.7 0 0-.4-.1 0 0 .5-.6 0 0-2.7-.7 0 0-.7-.7 0 0-.2-.7 0 0-.5-.7 0 0 3-.7 0 0-.5-.7 0 0-.7-.7 0 0 6.6-.7 0 0-1.3-.7 0 0-.5-.7 0 0-.9-.7 0 0-9.3-.7 0 0-1.2-.7 0-.7 0 0 2.6-.7 0 0-.8-.7 0 0-.4-.2 0 0-2.7-.5 0 0-1.3-.7 0-.7 0 0 .8-.7 0 0-.7-.7 0 0 6.2-.7 0 0-.5-.7 0 0 1.6-.7 0 0-.1-.7 0 0 .5-.7 0 0-2-.7 0 0 .3-.7 0 0-.3-.7 0-.7 0 0-.6-.7 0 0-.6-.7 0 0 1.5-.7 0 0-1.1-.3 0 0 .1-.4 0 0 3.9-.7 0 0 .4-.7 0 0-.6-.7 0 0 1.3-.7 0 0 .7-.7 0 0-3.3-.7 0 0 1-.7 0 0 .5-.7 0 0 5.3-.7 0 0 .6-.7 0 0-1.1-.7 0 0 1.1-.7 0 0 .6-.7 0-.7 0 0-.8-.7 0 0 .2-.7 0 0 .3-.4 0 0 2-.3 0 0 .3-.7 0 0 12.7-.7 0 0-.1-.7 0 0-.9-.7 0 0 .4-.7 0 0 .5-.7 0 0-10.8-.7 0 0 1.5-.7 0 0-.6-.7 0 0 .6-.7 0 0 2-.7 0 0 .2-.7 0 0 .9-.7 0 0-.6-.7 0 0 1.1-.7 0 0 1.6-.7 0 0 .1-.7 0 0 2.8-.7 0 0-.8-.7 0 0-.5-.7 0 0 .8-.7 0 0 .4-.7 0 0-2.6-.3 0 0 .1-.4 0 0 2.4-.7 0 0-.7-.7 0 0 .9-.7 0 0 1.2-.7 0 0 .7-.7 0 0-1.3-.7 0-.7 0 0 .6-.7 0 0 7.7-.7 0-.7 0 0-7.5-.7 0 0-2.7-.7 0 0-.8-.7 0 0 .8-.7 0 0-.8-.7 0 0-.3-.7 0 0 1.7-.7 0 0 .9-.7 0 0-.1-.7 0 0-.2-.7 0-.7 0 0-1.3-.7 0 0-.2-.7 0 0 .4-.7 0 0 .1-.7 0 0-.7-.7 0 0-.9-.7 0 0-.3-.7 0 0 .2 0 .6-.7 0 0-.9-.7 0-.7 0 0 .1-.7 0 0-.4-.7 0 0-.6-.7 0 0-1.2-.7 0 0-.4-.7 0 0 .1-.7 0 0-1.1-.7 0 0-.2-.7 0 0-1.4-.7 0 0 .8-.7 0 0 4.6-.7 0 0 .1-.7 0 0-.6-.7 0 0-.6-.7 0 0-3.7-.7 0 0-1.5-.7 0 0-1.2-.7 0 0 1.2-.7 0 0-2.1-.3 0 0-1.5-.4 0 0-.8-.7 0 0-1.4-.7 0 0-2.9-.7 0 0-2.2-.7 0 0-.9-.7 0 0-1.2-.7 0 0 11.7-.7 0 0-11-.7 0 0-1.1-.7 0 0-1.9-.7 0 0-.7-.7 0 0-.3-.7 0 0-.1-.2 0 0-1-.5 0 0-1.1-.7 0 0-.9-.7 0 0-1.1-.7 0 0-1.2-.7 0 0-.7-.7 0 0-1.4-.7 0 0-.8-.7 0 0 2.2-.7 0 0 1.5-.7 0 0 .3-.7 0 0-1.5-.7 0 0-3.2-.7 0 0-.1-.7 0 0-.4-.7 0 0-.3-.7 0 0-.1-.7 0 0 .5-.7 0 0-.4-.7 0 0 .4-.7 0 0 .6-.7 0 0 1-.7 0 0-1.1-.7 0 0-.5-.1 0 0 .4-.6 0 0-2.2-.7 0 0 .6-.7 0 0 12-.7 0 0 .4-.7 0 0-.7-.7 0 0 .9-.7 0 0-.7-.7 0 0-.1-.7 0 0-.5-.7 0 0 .8-.7 0 0-11.6-.7 0 0 2.6-.7 0 0 .7-.7 0 0-.7-.7 0-.7 0 0-.3-.7 0 0-1.2-.7 0 0-.6-.7 0 0-.2-.7 0 0-1.5-.7 0 0-.5-.4 0 0-.3-.3 0 0 .1-.7 0 0-.5-.7 0 0-.3-.7 0 0 .8-.7 0 0-1.6-.7 0 0-.4-.7 0 0 .3-.7 0 0 3.6-.7 0 0 8.5-.7 0 0 .6-.7 0-.7 0 0-.5-.7 0 0-.2-.7 0 0 1-.7 0 0 .6-.7 0 0-4.4-.7 0 0 1.4-.5 0 0 .7-.2 0 0 .1-.7 0 0 .3-.7 0 0-3.7-.7 0 0-.4-.7 0 0 .3-.7 0 0 1.7-.7 0 0 .7-.7 0 0-1.6-.7 0 0 1.1-.7 0 0 6.8-.7 0 0 .5-.7 0 0 .8-.1 0 0 1.6-.6 0 0 1.3-.7 0 0 2.7-.7 0 0-6.4-.7 0 0 1.3-.7 0 0 .7-.7 0 0 1.5-.7 0 0 5.7-.7 0 0 1.2-.7 0 0 3.4-.7 0 0 1.5-.7 0 0-6.1-.7 0 0 .9-.7 0 0 1.1-.7 0 0 2.9-.3 0 0 1.6-.4 0 0 1.1-.7 0 0 .3-.7 0 0 1.3-.7 0 0 .5-.7 0 0-.3-.7 0 0 1-.7 0 0 .3-.7 0 0 2.2-.7 0 0 1.4-.7 0 0-.5-.7 0 0-.3-.7 0 0 .3-.7 0 0 .6-.7 0 0-.6-.7 0 0-.6-.7 0 0 1-.7 0 0 1.3-.7 0 0 2.7-.7 0 0 .4-.4 0 0 3.2-.3 0 0-1.2-.7 0 0 .4-.7 0 0-.2-.7 0 0-.2-.7 0 0-4.3-.7 0 0 .4-.7 0 0 .2-.7 0 0 1-.7 0 0-.3-.7 0 0-.6-.7 0-.7 0 0-1.2-.7 0 0 2.7-.7 0 0-.3-.7 0 0 .6-.7 0 0-1.8-.7 0 0-.6-.1 0 0 .2-.6 0 0-.4-.7 0 0 .6-.7 0 0 3.4-.7 0 0-.2-.7 0 0-.3-.7 0 0-.5-.7 0 0-1-.7 0 0-6.1-.7 0 0-.4-.7 0 0-.9-.7 0 0-.1-.7 0 0-1-.7 0-.7 0 0 .2-.7 0 0-.8-.7 0 0-.5-.7 0 0-.7-.7 0 0-.3-.7 0 0-.2-.7 0 0-.8-.7 0 0-.6-.7 0 0-.7-.7 0 0 .2-.7 0 0-.6-.7 0 0-.8-.7 0 0 2.9-.7 0 0-.2-.2 0 0-.7-.5 0 0-.3-.7 0 0-.4-.7 0 0-1.8-.7 0 0-.9-.7 0 0-4.5-.7 0 0-.8-.7 0 0-1.7-.7 0 0 .2-.7 0 0-1.1-.7 0 0-.1-.7 0 0-1.5-.7 0 0-1.4-.7 0 0-1.7-.7 0 0-1.2-.7 0 0-.3-.7 0 0-1.1-.7 0 0-1.9-.7 0 0-1.7-.6 0 0-.9-.1 0 0-1.3-.7 0 0-2.5-.7 0 0-2.4-.7 0 0-1.6-.7 0 0-1.5-.7 0 0-1.2-.7 0 0-1.5-.7 0 0-1.8-.7 0 0 3.8-.7 0 0-1.6-.7 0 0-1.4-.7 0 0-.7-.7 0 0 1.9-.5 0 0-.5-.2 0 0-.7-.7 0 0-.9-.7 0 0-1.1-.7 0 0-8.7-.7 0 0-2.1-.7 0 0-3.8-.7 0 0-2.1-.7 0 0-1.9-.7 0 0-.1-.7 0 0-1.5-.5 0 0-.6-.2 0 0-1.9-.7 0 0-1.5-.7 0 0-1.3-.7 0 0 4.6-.7 0 0-1.7-.7 0 0-.3-.7 0-.7 0 0-1.4-.7 0 0-9.1-.2 0 0 3.3-.5 0 0-.9-.7 0 0-.8-.7 0 0-2.5-.7 0 0-.5-.7 0 0-.7-.7 0 0-.5-.7 0 0 2.6-.7 0 0-1-.6 0-.1 0 0 1.1-.7 0 0-.1-.7 0 0 1.8-.7 0 0-.6-.7 0 0 1.2-.7 0 0 1.2-.7 0 0 1.4-.7 0 0-1.4 0 .2-.7 0 0 .9-.7 0 0 1-.7 0 0 1.1-.7 0 0 .4-.7 0 0 7.2-.7 0 0 1.4-.7 0 0 2.2-.1 0 0-3.6-.6 0 0 1.4-.7 0 0 .9-.7 0 0 1.1-.7 0 0 .7-.7 0 0 6.4-.7 0 0 4.7-.7 0 0 1.9-.2 0 0 1.9-.5 0 0 1.5-.7 0 0-5.4-.7 0 0 2.4-.7 0 0 2.4-.7 0 0 1.9-.7 0 0 1.9-.7 0 0 8.3-.7 0 0 3.1-.6 0 0 1.8-.1 0 0 1.8-.7 0 0-2.7-.7 0 0 2.1-.7 0 0 2.3-.7 0 0 1.1-.7 0 0 1.3-.7 0 0 .8-.7 0 0 1.3-.7 0 0 1.8-.3 0 0 1.5-.4 0 0 1-.7 0 0 1.9-.7 0 0 1.2-.7 0 0 1.6-.7 0 0 5.4-.7 0 0 .5-.7 0 0 1.5-.7 0 0-1.9-.7 0 0 1.1-.7 0 0 .8-.3 0 0-3.1-.4 0 0 .8-.7 0 0 1.5-.7 0-.7 0 0 .7-.7 0 0 1.3-.7 0 0 .3-.7 0 0-.2-.7 0 0 .4-.7 0 0 .7-.7 0 0-.9-.7 0 0 2.5 0-1-.7 0 0-1-.7 0 0-1-.7 0 0-4-.7 0 0-1.4-.7 0 0 3.8-.7 0 0-2.6-.7 0 0-1.5-.7 0 0-2-.7 0 0-7.7-.7 0 0-2-.7 0 0-1-.7 0 0 1.5-.2 0 0-5.7-.5 0 0-.9-.7 0 0-2.5-.7 0 0-2.7-.7 0 0-2-.7 0 0 .2-.7 0 0-4.3-.7 0 0 .1-.7 0 0-.9-.7 0 0-2.2-.7 0 0-2.7-.2 0 0-3.6-.5 0 0-6-.7 0 0-1.7-.7 0 0-1.5-.7 0 0-1-.7 0 0-1-.7 0 0-1.1-.7 0 0-1.3-.7 0 0 .5-.6 0 0-1.9-.1 0 0-1.4-.7 0 0-.9-.7 0 0-.5-.7 0 0 3.9-.7 0 0-.7-.7 0 0-1.6-.7 0 0-7.6-.7 0 0-1.4-.7 0 0-.8-.3 0 0-.7-.4 0 0-1.1-.7 0 0-.2-.7 0 0 .7-.7 0 0-.9-.7 0 0-.3-.7 0 0-.2-.7 0 0-.1-.7 0 0 1.8-.7 0 0 .1 0-1.9-.7 0 0-.7-.7 0 0 .4-.7 0 0 .1-.7 0 0 .3-.7 0 0 2-.7 0 0 .8-.7 0 0 .7-.7 0 0 .6-.4 0 0 12.5-.3 0 0 .9-.7 0 0 2.1-.7 0 0 .8-.7 0 0-8.6-.7 0 0 .7-.7 0 0 1.5-.7 0 0 2.3-.5 0 0 3.8-.2 0 0 1.9-.7 0 0 2.4-.7 0 0 1.1-.7 0 0 .9-.7 0 0-.4-.7 0 0 1.8-.7 0 0 2.1-.7 0 0 5.7-.7 0 0 14.4-.2 0 0 1.6-.5 0 0 1.1-.7 0 0 1.6-.7 0 0-12.4-.7 0 0 2.1-.7 0 0 2-.7 0 0 1.5-.7 0 0 1.3-.7 0 0 .3-.6 0 0 13.7-.1 0 0-8.3-.7 0 0 1.2-.7 0 0 2-.7 0 0-.7-.7 0 0 1.5-.7 0 0 .7-.7 0 0-1.3-.7 0 0 .1-.7 0 0 .5-.7 0 0 6.6-.6 0 0 .6-.1 0 0 1.9-.7 0 0 .6-.7 0 0-4.1-.7 0 0-.6-.7 0 0-.5-.7 0 0 3.2-.7 0 0-.1-.7 0 0 .3-.7 0 0 1.3-.7 0 0-.4-.7 0 0 1.5-.7 0 0-1.5-.7 0 0 .1-.7 0 0-.2-.7 0 0 1.1-.7 0-.7 0 0 .2-.7 0 0-.2-.7 0 0-.8-.7 0 0-1-.7 0 0-.9-.7 0 0 .5-.2 0 0 .1-.5 0 0 .6-.7 0 0 .5-.7 0 0 2.4-.7 0 0 1.7-.7 0 0 .7-.7 0 0 .3-.7 0-.7 0 0 1.8-.7 0 0-.8-.7 0 0 .9-.7 0 0-3-.7 0 0-.1-.7 0 0-1.4-.7 0 0-1.3-.7 0 0 .1-.7 0 0-.7-.7 0 0-2.3-.7 0 0 .8-.7 0 0 1.7-.7 0 0 1.4-.7 0 0 .4-.7 0 0-.1-.7 0 0 .2-.7 0 0-.4-.7 0 0 .4-.7 0 0-.3-.7 0 0-2.1-.7 0 0-.2-.6 0 0 3.8-.1 0 0-3.7-.7 0 0 .8-.7 0 0-.1-.7 0 0 3.5-.7 0 0 .7-.7 0 0 .8-.7 0 0-.4-.7 0 0-2.2-.7 0 0 .8-.7 0 0-.2-.7 0 0-.8-.7 0 0 .2-.7 0 0-.8-.7 0 0-.9-.7 0 0-.1-.7 0 0-1.2-.7 0 0 .1-.7 0 0-.2-.7 0 0 7.1-.7 0 0-.4-.7 0 0-1.1-.7 0 0-5.2-.7 0 0 .8-.7 0 0 .1-.2 0 0 .4-.5 0 0-.7-.7 0-.7 0 0-.4-.7 0 0-1.8-.7 0 0 2-.7 0 0-1.9-.7 0 0 .6-.7 0 0-.6-.7 0 0-.9-.7 0 0-3.4-.7 0 0-.1-.7 0 0-1.1-.7 0 0 10.6-.7 0 0-.5-.7 0 0-.4-.7 0 0 8-.7 0 0 1.3-.7 0 0-.1-.7 0 0-1.8-.7 0 0-1.1-.7 0 0-19.6-.7 0 0-1.8-.4 0 0-1.4-.3 0 0-.1-.7 0 0-2-.7 0 0 1-.7 0 0-2.6-.7 0 0-.9-.7 0 0-3.2-.7 0 0-.3-.7 0 0-1.4-.7 0 0-1.6-.7 0 0-2.8-.7 0 0-3-.7 0 0-3.6-.4 0 0-3.6-.3 0 0-2.5-.7 0 0-3.4-.7 0 0-.9-.7 0 0-3.9-.7 0 0 8.3-.7 0 0-3.5-.7 0 0-4.5-.7 0 0-4.8-.7 0 0-4.5-.7 0 0-10.8 0-5.4-.7 0 0-5.3-.7 0 0-5.9-.7 0 0-4.7-.7 0 0-6.1-.7 0 0-3.4-.5 0 0-.7-.2 0 0-4.2-.7 0 0-3-.7 0 0-3.7-.7 0 0 .2 0 5.5-.7 0 0 7.1-.7 0 0 7.1-.7 0 0 5.8-.7 0 0 6.2-.7 0 0 2.5-.2 0 0 8.3-.5 0 0 21.1-.7 0 0 13.5-.7 0 0 16.4-.7 0 0 9.2-.4 0 0 .3-.3 0 0 2.5-.7 0 0 1-.7 0 0 2.1-.7 0 0 5.5-.6 0 0-.1-.1 0 0 1.3-.7 0 0 .7-.7 0 0 .7-.7 0 0-1.9-.7 0 0-2-.7 0 0 4.4-.7 0 0 2.2-.7 0 0 .7-.7 0 0 23.4-.7 0 0 .2-.6 0 0-18.8-.1 0 0-.8-.7 0 0-5-.7 0 0 1.2-.7 0 0-.8-.7 0 0-1.1-.7 0 0 3.7-.7 0 0-.3-.7 0 0-.8-.7 0 0-4.3-.7 0 0-.5-.7 0 0-.8-.7 0 0-1.1-.7 0z" fill="#8b8c8f" stroke="#8b8c8f" stroke-width="0.5"/>
<rect x="781.00" y="433.90" width="569.80" height="232.30" fill="none" stroke="#231f20" stroke-width="1.6" />
<line x1="800.80" y1="666.20" x2="800.80" y2="661.40" stroke="#231f20" stroke-width="1.4" />
<line x1="800.80" y1="433.90" x2="800.80" y2="438.70" stroke="#231f20" stroke-width="1.4" />
<text x="800.2" y="692.3" font-size="21.6" text-anchor="middle" font-weight="normal" fill="#231f20" stroke="#231f20" stroke-width="0.3" >0</text>
<line x1="943.15" y1="666.20" x2="943.15" y2="661.40" stroke="#231f20" stroke-width="1.4" />
<line x1="943.15" y1="433.90" x2="943.15" y2="438.70" stroke="#231f20" stroke-width="1.4" />
<text x="942.5" y="692.3" font-size="21.6" text-anchor="middle" font-weight="normal" fill="#231f20" stroke="#231f20" stroke-width="0.3" >100</text>
<line x1="1085.50" y1="666.20" x2="1085.50" y2="661.40" stroke="#231f20" stroke-width="1.4" />
<line x1="1085.50" y1="433.90" x2="1085.50" y2="438.70" stroke="#231f20" stroke-width="1.4" />
<text x="1084.9" y="692.3" font-size="21.6" text-anchor="middle" font-weight="normal" fill="#231f20" stroke="#231f20" stroke-width="0.3" >200</text>
<line x1="1227.85" y1="666.20" x2="1227.85" y2="661.40" stroke="#231f20" stroke-width="1.4" />
<line x1="1227.85" y1="433.90" x2="1227.85" y2="438.70" stroke="#231f20" stroke-width="1.4" />
<text x="1227.2" y="692.3" font-size="21.6" text-anchor="middle" font-weight="normal" fill="#231f20" stroke="#231f20" stroke-width="0.3" >300</text>
<line x1="781.00" y1="457.00" x2="785.80" y2="457.00" stroke="#231f20" stroke-width="1.4" />
<line x1="1350.80" y1="457.00" x2="1346.00" y2="457.00" stroke="#231f20" stroke-width="1.4" />
<text x="771.5" y="464.6" font-size="21.6" text-anchor="end" font-weight="normal" fill="#231f20" stroke="#231f20" stroke-width="0.3" >120</text>
<line x1="781.00" y1="502.80" x2="785.80" y2="502.80" stroke="#231f20" stroke-width="1.4" />
<line x1="1350.80" y1="502.80" x2="1346.00" y2="502.80" stroke="#231f20" stroke-width="1.4" />
<text x="771.5" y="510.4" font-size="21.6" text-anchor="end" font-weight="normal" fill="#231f20" stroke="#231f20" stroke-width="0.3" >100</text>
<line x1="781.00" y1="550.00" x2="785.80" y2="550.00" stroke="#231f20" stroke-width="1.4" />
<line x1="1350.80" y1="550.00" x2="1346.00" y2="550.00" stroke="#231f20" stroke-width="1.4" />
<text x="771.5" y="557.6" font-size="21.6" text-anchor="end" font-weight="normal" fill="#231f20" stroke="#231f20" stroke-width="0.3" >75</text>
<line x1="781.00" y1="596.30" x2="785.80" y2="596.30" stroke="#231f20" stroke-width="1.4" />
<line x1="1350.80" y1="596.30" x2="1346.00" y2="596.30" stroke="#231f20" stroke-width="1.4" />
<text x="771.5" y="603.9" font-size="21.6" text-anchor="end" font-weight="normal" fill="#231f20" stroke="#231f20" stroke-width="0.3" >50</text>
<line x1="781.00" y1="642.60" x2="785.80" y2="642.60" stroke="#231f20" stroke-width="1.4" />
<line x1="1350.80" y1="642.60" x2="1346.00" y2="642.60" stroke="#231f20" stroke-width="1.4" />
<text x="771.5" y="650.2" font-size="21.6" text-anchor="end" font-weight="normal" fill="#231f20" stroke="#231f20" stroke-width="0.3" >0</text>
<text x="1065.3" y="419.5" font-size="21.7" text-anchor="middle" font-weight="bold" fill="#231f20" >0.5 ms</text>
<text x="1063.9" y="720.5" font-size="21.85" text-anchor="middle" font-weight="normal" fill="#231f20" stroke="#231f20" stroke-width="0.3" >Time (ms)</text>
<text x="717.4" y="547.4" font-size="21.85" text-anchor="middle" font-weight="normal" fill="#231f20" stroke="#231f20" stroke-width="0.3" transform="rotate(-90 717.4 547.4)">Stimulus (μA)</text>
<polygon points="793.6,670.8 807.2,670.8 800.4,661.8" fill="#231f20"/>
<line x1="1276.60" y1="451.90" x2="1276.60" y2="507.00" stroke="#231f20" stroke-width="1.5" />
<text x="1292.6" y="476.3" font-size="21.85" text-anchor="start" font-weight="normal" fill="#231f20" stroke="#231f20" stroke-width="0.3" >1 mV</text>
<text x="1265.3" y="594.2" font-size="21.85" text-anchor="start" font-weight="normal" fill="#939598" stroke="#939598" stroke-width="0.3" >120 μA</text>
<defs><linearGradient id="cb433" x1="0" y1="0" x2="0" y2="1"><stop offset="0.000" stop-color="#d63728"/><stop offset="0.017" stop-color="#d83b28"/><stop offset="0.034" stop-color="#da3f28"/><stop offset="0.051" stop-color="#db4428"/><stop offset="0.068" stop-color="#dd4828"/><stop offset="0.085" stop-color="#df4c28"/><stop offset="0.102" stop-color="#e15028"/><stop offset="0.119" stop-color="#e25428"/><stop offset="0.136" stop-color="#e45928"/><stop offset="0.153" stop-color="#e66027"/><stop offset="0.169" stop-color="#e86826"/><stop offset="0.186" stop-color="#ea6f26"/><stop offset="0.203" stop-color="#eb7725"/><stop offset="0.220" stop-color="#ed7e24"/><stop offset="0.237" stop-color="#ef8623"/><stop offset="0.254" stop-color="#f18e22"/><stop offset="0.271" stop-color="#f39620"/><stop offset="0.288" stop-color="#f59f1f"/><stop offset="0.305" stop-color="#f7a71e"/><stop offset="0.322" stop-color="#f9af1c"/><stop offset="0.339" stop-color="#fab62b"/><stop offset="0.356" stop-color="#fbbc3d"/><stop offset="0.373" stop-color="#fcc34f"/><stop offset="0.390" stop-color="#fcca63"/><stop offset="0.407" stop-color="#fcd27a"/><stop offset="0.424" stop-color="#fddb91"/><stop offset="0.441" stop-color="#fde3a8"/><stop offset="0.458" stop-color="#fee9bd"/><stop offset="0.475" stop-color="#fef0d2"/><stop offset="0.492" stop-color="#fff6e6"/><stop offset="0.508" stop-color="#fffdf8"/><stop offset="0.525" stop-color="#fafafb"/><stop offset="0.542" stop-color="#f1f1f6"/><stop offset="0.559" stop-color="#e9e9f0"/><stop offset="0.576" stop-color="#e1e2eb"/><stop offset="0.593" stop-color="#d9dbe6"/><stop offset="0.610" stop-color="#d1d3e2"/><stop offset="0.627" stop-color="#c9ccdd"/><stop offset="0.644" stop-color="#c1c5d8"/><stop offset="0.661" stop-color="#b9bed3"/><stop offset="0.678" stop-color="#b1b7ce"/><stop offset="0.695" stop-color="#a9b0c9"/><stop offset="0.712" stop-color="#a1a8c4"/><stop offset="0.729" stop-color="#98a1c0"/><stop offset="0.746" stop-color="#8f99bb"/><stop offset="0.763" stop-color="#8691b6"/><stop offset="0.780" stop-color="#7d8ab1"/><stop offset="0.797" stop-color="#7482ac"/><stop offset="0.814" stop-color="#6d7ba8"/><stop offset="0.831" stop-color="#6674a3"/><stop offset="0.847" stop-color="#5f6e9f"/><stop offset="0.864" stop-color="#58679a"/><stop offset="0.881" stop-color="#506096"/><stop offset="0.898" stop-color="#4a5a92"/><stop offset="0.915" stop-color="#45548d"/><stop offset="0.932" stop-color="#404f88"/><stop offset="0.949" stop-color="#3b4a83"/><stop offset="0.966" stop-color="#36457e"/><stop offset="0.983" stop-color="#314079"/><stop offset="1.000" stop-color="#2c3b75"/></linearGradient></defs>
<rect x="1386.00" y="433.40" width="44.20" height="234.50" fill="url(#cb433)" stroke="#231f20" stroke-width="1.3" />
<line x1="1386.00" y1="444.20" x2="1389.00" y2="444.20" stroke="#231f20" stroke-width="1.2" />
<line x1="1427.20" y1="444.20" x2="1430.20" y2="444.20" stroke="#231f20" stroke-width="1.2" />
<text x="1435.2" y="451.8" font-size="21.6" text-anchor="start" font-weight="normal" fill="#231f20" stroke="#231f20" stroke-width="0.3" >2</text>
<line x1="1386.00" y1="499.50" x2="1389.00" y2="499.50" stroke="#231f20" stroke-width="1.2" />
<line x1="1427.20" y1="499.50" x2="1430.20" y2="499.50" stroke="#231f20" stroke-width="1.2" />
<text x="1435.2" y="507.1" font-size="21.6" text-anchor="start" font-weight="normal" fill="#231f20" stroke="#231f20" stroke-width="0.3" >1</text>
<line x1="1386.00" y1="554.20" x2="1389.00" y2="554.20" stroke="#231f20" stroke-width="1.2" />
<line x1="1427.20" y1="554.20" x2="1430.20" y2="554.20" stroke="#231f20" stroke-width="1.2" />
<text x="1435.2" y="561.8" font-size="21.6" text-anchor="start" font-weight="normal" fill="#231f20" stroke="#231f20" stroke-width="0.3" >0</text>
<line x1="1386.00" y1="607.70" x2="1389.00" y2="607.70" stroke="#231f20" stroke-width="1.2" />
<line x1="1427.20" y1="607.70" x2="1430.20" y2="607.70" stroke="#231f20" stroke-width="1.2" />
<text x="1435.2" y="615.3" font-size="21.6" text-anchor="start" font-weight="normal" fill="#231f20" stroke="#231f20" stroke-width="0.3" >−1</text>
<line x1="1386.00" y1="661.60" x2="1389.00" y2="661.60" stroke="#231f20" stroke-width="1.2" />
<line x1="1427.20" y1="661.60" x2="1430.20" y2="661.60" stroke="#231f20" stroke-width="1.2" />
<text x="1435.2" y="669.2" font-size="21.6" text-anchor="start" font-weight="normal" fill="#231f20" stroke="#231f20" stroke-width="0.3" >−2</text>
<text x="1358.9" y="692.3" font-size="21.85" text-anchor="start" font-weight="normal" fill="#231f20" stroke="#231f20" stroke-width="0.3" >Mean ΔV</text>
<text x="1442.6" y="704.2" font-size="17.5" text-anchor="start" font-weight="normal" fill="#231f20" stroke="#231f20" stroke-width="0.3" >m</text>
<rect x="799.60" y="793.90" width="3.00" height="240.30" fill="#8b8c8f" stroke="none" stroke-width="1" />
<path d="M781.5 913.6l.7 0 0-.4.7 0 0 .4.7 0 0 .1.7 0 0-.9.7 0 0-.2.7 0 0-.4.7 0 0 .4.7 0 0 .1.7 0 0 .1.7 0 0-.4.7 0 0-.2.7 0 0 .2.1 0 0-.1.6 0 0-1.2.7 0 0-.4.7 0 0-.9.7 0 0-.1.7 0 0 .8.7 0 0-.8.7 0 0-.1.7 0 0-.2.7 0 0-.7.7 0 .1 0 0 .1.6 0 0-1.8.7 0 0-2 .7 0 0-2 .7 0 0-1.6.3 0 0-.6.4 0 0-20.8.7 0 0-36.6.7 0 0-36.2.2 0 0-11.6.5 0 0 1.6.7 0 0 1.2.7 0 0 1.1.7 0 0 1.5.4 0 0 1.1.3 0 0 2.3.7 0 0 6.1.7 0 0 5.8.7 0 0 6.4.6 0 0 5.4.1 0 0-.2.7 0 0 7.5.7 0 0 5.8.5 0 0 5 .2 0 0 1.1.7 0 0 3.3.7 0 0 3.6.7 0 0 5.1.7 0 0 2.7.7 0 0 2.6.7 0 0 1.7.1 0 0 .6.6 0 0 2 .7 0 0 1.6.7 0 0 .8.7 0 0 1.3.7 0 0 .8.7 0 0 1.1.7 0 0 1.4.3 0 0 .7.4 0 0 .7.7 0 0 .3.7 0 0 .6.7 0 0 .2.7 0 0-1.9.7 0 0 .2.7 0 0 .5.7 0 0-.3.7 0 0 .4.7 0 0 1.2.7 0 0 .7.7 0 0-.4.7 0 0 .2.7 0 0 1.8.7 0 0-.1.2 0 0-.6.5 0 0 .5.7 0 0 .5.7 0 0-.2.7 0 0 .6.7 0 0-.2.7 0 0-2.1.7 0 0 .2.7 0 0 .6.7 0 0 2.7.7 0 0 .4.7 0 0-.2.7 0 0-.3.7 0 0-1.5.7 0 0-.3.4 0 0-.6.3 0 0-.1.7 0 0 .3.7 0 0-1.5.7 0 0-.4.7 0 0-.6.7 0 0 2.7.7 0 0-.7.7 0 0-.3.7 0 .7 0 0 .1.7 0 0-.1.7 0 0 .7.7 0 0-.1.7 0 0-.3.6 0 0-.6.1 0 0 .2.7 0 0 .6.7 0 0-.5.7 0 0-1.5.7 0 0 .1.7 0 0 .2.7 0 0-.2.7 0 0 1.6 0 .3.7 0 0-.7.7 0 0 .6.7 0 0-.4.7 0 0 .7.7 0 0 .6.7 0 0 .5.7 0 0 .8.7 0 0 .4.7 0 0-3.9.7 0 0 3.1.7 0 0 .2.7 0 0 .5.7 0 0 .6.7 0 0-.1.2 0 0 .2.5 0 0-.3.7 0 0 1.4.7 0 .7 0 0 .4.7 0 0-1.1.7 0 0 .2.7 0 0 .3.7 0 0 .8.7 0 0 .1.7 0 0-.2.7 0 0-.2.7 0 0 .3.7 0 0-.3.7 0 0 1.7.7 0 0 .8.7 0 0-3.8.7 0 0 .2.7 0 0 3.2.7 0 .7 0 0-.1.7 0 0 .3.5 0 0 .4.2 0 0-.3.7 0 0 .4.7 0 0-.5.7 0 0-.7.7 0 0-.2.7 0 0-.5.7 0 0-2.1.6 0 0-.2.1 0 0-.8.7 0 0 .1.7 0 0 .8.7 0 0-.5.7 0 0 .5.7 0 0-.5.7 0 0-.8.7 0 0 .1.7 0 0 .2.7 0 0 .3.7 0 0 .4.7 0 0 .6.7 0 0-.1.7 0 0 1.9.7 0 0-.4.1 0 0 .6.6 0 0-7.6.7 0 0 .5.7 0 0 .2.7 0 0 .5.7 0 0 8.7.7 0 .7 0 0 .1.7 0 0-.4.7 0 0-2.2.7 0 0 .5.7 0 0 .5.7 0 0 .1.7 0 0 .1.7 0 0 1 .3 0 0 .2.4 0 0 .8.7 0 0 .4.7 0 0 .2.7 0 0 .1.7 0 0 .3.7 0 0 .3.7 0 0 .5.7 0 0-.6.7 0 0-.1.7 0 0 .4.7 0 0 .7.7 0 0 .5.7 0 0 .3.7 0 0-3 .5 0 0 3.4.2 0 0-.2.7 0 0 .2.7 0 .7 0 0-.2.7 0 0-1.6.7 0 0 1.1.7 0 0 .3.7 0 .7 0 0-.5.7 0 0 .4.7 0 0 1.5.7 0 0 .1.7 0 0 .5.7 0 0 .4.7 0 0 .2 0 .1.7 0 0-1 .7 0 0 .3.7 0 0-.4.7 0 0 .6.7 0 0 .6.7 0 0-.1.7 0 0-.1.7 0 0 .1.7 0 0-1.2.7 0 0 .4.7 0 0 .1.7 0 0-1.2.7 0 0 .3.7 0 0-1.1.2 0 0 .3.5 0 0 .6.7 0 0 2.3.7 0 0-.2.7 0 0 .1.7 0 0 .8.7 0 0-.5.7 0 0 .6.7 0 0-.5.7 0 0-.1.7 0 0-.1.7 0 .7 0 0-1 .7 0 0-.7.7 0 0 .3.4 0 0 .1.3 0 0 .1.7 0 0-.4.7 0 0-.1.7 0 0-.4.7 0 0 .6.7 0 0 .8.7 0 0 .2.7 0 0-.6.7 0 0 .4.7 0 0 .2.7 0 0-2.3.7 0 0-.2.7 0 0-.3.7 0 0 .4.6 0 .1 0 0 1.1.7 0 0-.5.7 0 0 .9.7 0 0-.3.7 0 .7 0 0-.2.7 0 0-.6.7 0 0 .1.7 0 0 .6.7 0 0 .6.7 0 0-.2.7 0 0-2 .7 0 0 .3.7 0 0 .1.7 0 0 1.4.1 0 .6 0 0 .9.7 0 0 .6.7 0 0 .1.7 0 0 .3.7 0 0-.1.7 0 0-1.1.7 0 0 .4.7 0 0 .3.7 0 0 .6.7 0 0 2 .7 0 0 .5.7 0 0 .4.7 0 0-.2.7 0 .3 0 0 .2.4 0 .7 0 0 .3.7 0 0-2.3.7 0 .7 0 0-.1.7 0 0-.8.7 0 0 .3.7 0 0 3 .7 0 .7 0 0-.5.7 0 0-3.5.7 0 0-.2.7 0 0 .2.7 0 0 .1.5 0 0 2.7.2 0 0-.1.7 0 0-.4.7 0 0-.8.7 0 0-1.5.7 0 0-2.1.7 0 0-.9.7 0 0-1.3.7 0 0-.8.7 0 0 .6.7 0 0-.8.7 0 0-1.3.7 0 0-.9.7 0 0-.9.7 0 0-1.4.7 0 0-.3.5 0 .2 0 .7 0 0 .1.7 0 0-2.5.7 0 0 .1.7 0 0 .5.7 0 0 .5.7 0 0 1.4.7 0 0 1.4.7 0 0 .2.7 0 0 .7.7 0 0 .7.7 0 0 1 .7 0 0 .4.7 0 0 1.1.7 0 0 1 .7 0 0-1.5.7 0 0 .6.7 0 0 2 .7 0 0 .4.7 0 0 .3.7 0 0-.2.3 0 .4 0 0 .4.7 0 0-.3.7 0 0-.4.7 0 0-2.2.7 0 .7 0 .7 0 0-1.7.7 0 0-.4.7 0 0 1 .7 0 0-.1.7 0 0 1.7.7 0 0 .7.7 0 .7 0 0-.7.5 0 0 1.4.2 0 0-.4.7 0 0-.5.7 0 0-.4.7 0 0-4 .7 0 0 3.7.7 0 0 .1.7 0 0-.1.7 0 0-.6.7 0 0-.5.7 0 0 .3.7 0 0-1.1.7 0 .7 0 0 1.8.7 0 0-.4.7 0 0-.5 0-.7.7 0 .7 0 0-.3.7 0 0-.9.7 0 0 1 .7 0 0-.1.7 0 0 .4.7 0 0 .1.7 0 0 2.6.7 0 0 .8.7 0 0 .4.7 0 0 .9.7 0 0-.9.7 0 0 .3.7 0 0 .3.2 0 0 .2.5 0 0 1.8.7 0 0-1.3.7 0 0 .5.7 0 0 .7.7 0 0 .6.7 0 0 .2.7 0 0 .8.7 0 .7 0 0 .2.7 0 0-1.8.7 0 0-.3.7 0 0 .5.7 0 0 1.5.7 0 0 .2.7 0 .7 0 0-.1.7 0 0 .7.7 0 .7 0 0-2.6.7 0 0 1.1.7 0 0-.2.5 0 0-.4.2 0 0 .7.7 0 0 .4.7 0 0-.4.7 0 0 .4.7 0 0-.2.7 0 0 .2.7 0 0 .7.7 0 0 .2.7 0 0 .6.7 0 0 .3.7 0 0 1.6.7 0 0 .5.7 0 0-.6.7 0 0 .7.7 0 0 1.2.7 0 0 .5.7 0 0 .4.7 0 0-.1.7 0 0 .4.7 0 0 .5.7 0 0-1.3.7 0 0 .3.1 0 0-.2.6 0 0 .4.7 0 0 .1.7 0 0-.1.7 0 0-.1.7 0 0 .7.7 0 0-2.4.7 0 0 .4.7 0 0-.6.7 0 0-.4.7 0 0-.2.7 0 0 1.8.7 0 0-.5.7 0 0 .5.7 0 0-.3.7 0 .7 0 0-.9.7 0 0-2.5.7 0 0-.2.7 0 0-.2.7 0 0 .9.7 0 0 .4.4 0 0 .4.3 0 0 1 .7 0 0 .6.7 0 0 .4.7 0 0 .4.7 0 0 .1.7 0 0 .5.7 0 0 .4.7 0 0 .8.7 0 0 .1.7 0 0 .6.7 0 0 .3.7 0 0 .4.7 0 0 .7.7 0 0 2.1.6 0 0-.1.1 0 0-1.2.7 0 0 .2.7 0 0 .7.7 0 0 1.4.7 0 0 .2.7 0 0-.7.7 0 0 .1.7 0 0 1 0-.1.7 0 0-.7.7 0 0-1.4.7 0 0-1 .7 0 0-.3.7 0 0 .7.7 0 0-.5.7 0 0-.8.7 0 0-.6.7 0 0-3 .7 0 0 .2.7 0 0-.8.7 0 0-1.1.7 0 0-.6.7 0 0-.2.2 0 0-.5.5 0 0-.4.7 0 0 1.3.7 0 0 .2.7 0 0-.2.7 0 0-.1.7 0 0-.5.7 0 0-1.9.7 0 0 .7.7 0 0 .4.7 0 0 .3.7 0 0-.5.7 0 0-5.1.7 0 0 5.3.7 0 0-.3.7 0 0-.7.7 0 0 .4.7 0 0 .2.7 0 .7 0 .7 0 .7 0 0-.3.5 0 0-.3.2 0 0-.1.7 0 0-.4.7 0 0-.3.7 0 0-.4.7 0 0 .5.7 0 0-.7.7 0 0-.7.7 0 0-.5.7 0 0 1.2.7 0 0-.5.7 0 0-.2.7 0 0-5.1.7 0 0-.3.7 0 0-.3.7 0 0 .3.7 0 0 .1.7 0 .7 0 0-.4.7 0 0 4.1.7 0 0-.2.7 0 0 1 .7 0 .1 0 0-.1.6 0 0-.1.7 0 0 .8.7 0 0-.4.7 0 0 .1.7 0 .7 0 0-.7.7 0 0 1.2.7 0 0 .8.7 0 0 .3.7 0 0 1.9.7 0 0 1.1.7 0 0 1 .7 0 0 .1.7 0 0-.2.3 0 0-.1.4 0 .7 0 0 .1.7 0 0-.3.7 0 0-1.1.7 0 0-.1.7 0 .7 0 0-1.1.7 0 0-.2.7 0 0-.9.7 0 0-.3.7 0 0 .2.7 0 0-.1.7 0 0 .2.7 0 .7 0 0-.1.7 0 0 .4.7 0 .7 0 0-.5.7 0 0-2.2.7 0 0-.2.7 0 0-.3.6 0 0 .1.1 0 0 .3.7 0 0 3 .7 0 0-1.6.7 0 0 .9.7 0 0 .4.7 0 0 .1.7 0 0 .7.7 0 0 2 .7 0 0 .5.7 0 0 .4.7 0 0 .3.7 0 0-.7.7 0 0-.9.7 0 0 .6.7 0 0 1.5.1 0 .6 0 .7 0 0 .3.7 0 0 .9.7 0 0 .4.7 0 0 .2.7 0 0 .1.7 0 0-1.2.7 0 0 .6.7 0 0 .2.7 0 .7 0 0 .3.7 0 0 1.4.7 0 0-.1.7 0 0 .4.7 0 0-.3.7 0 0 .2.7 0 .7 0 0 .2.7 0 0 .5.7 0 0-.4.7 0 0-3.9.4 0 0 2.1.3 0 .7 0 0 .1.7 0 0 .4.7 0 0 .3.7 0 0 .8.7 0 0-.5.7 0 0 .1.7 0 0-.3.7 0 0 .6.7 0 0 1.1.7 0 0 .7.7 0 0 .3.7 0 0-.5.7 0 0-.1.7 0 0-.3.7 0 0 .4.7 0 0-.4.7 0 0 .6.7 0 0-.9.7 0 0 .6.7 0 .7 0 0 1.1 0-.3.7 0 0-.1.7 0 0-1.9.7 0 .7 0 0 .1.7 0 0-.1.7 0 0 1.7.7 0 0-.1.7 0 0-.1.7 0 0-.2.7 0 0-3.5.7 0 0 .3.7 0 0-.3.7 0 0-.1.7 0 0 3.1.7 0 0-2.9.7 0 0 2.6.7 0 0-.5.7 0 0-.3.7 0 0 .2.7 0 0 .2.7 0 0-2.9.3 0 0 .1.4 0 0 2.3.7 0 0 .4.7 0 0 .4.7 0 0 .4.7 0 0 1 .7 0 0-.8.7 0 0 .4.7 0 0 .5.7 0 0 .1.7 0 0 .3.7 0 0-.3.7 0 0 .5.7 0 0 .7.7 0 0 .8.7 0 0 .6.7 0 0 .5.7 0 0 .3.7 0 0 1.2.7 0 0-.2.7 0 0 .4.7 0 0 .3.6 0 0 .4.1 0 .7 0 0 .4.7 0 0 .1.7 0 0-.2.7 0 0-.1.7 0 0-.1.7 0 0-.1.7 0 0 .5.7 0 0-.1.7 0 0-1.6.7 0 0-1.1.7 0 0 .3.7 0 0-.3.7 0 0 .2.7 0 0-.4.7 0 0-.3.7 0 0 .4.7 0 0-.2.7 0 0-.7.7 0 0-.6.7 0 0-.1.7 0 0-.4.7 0 0 .1.7 0 0-.8.7 0 0-.1.7 0 0 1.9.7 0 0-.3.7 0 0-.1.7 0 0-1.7.3 0 0-.2.4 0 0 .2.7 0 0 .1.7 0 0 1.6.7 0 0-2.1.7 0 0 .7.7 0 0 .2.7 0 0 2.5.7 0 0 .3.7 0 0-.4.7 0 0-.1.7 0 0 .2.7 0 0-.7.7 0 0-.1.7 0 0-.2.7 0 0-.2.7 0 0-1.4.7 0 0-.6.7 0 0 .1.7 0 0-.3.7 0 0 .1.7 0 .6 0 0 .1.1 0 0-.1.7 0 0-.1.7 0 .7 0 .7 0 0-.7.7 0 0-1.1.7 0 0-.1.7 0 0 .3.7 0 0-.4.7 0 0 .3.7 0 0 1.9.7 0 0-.8.7 0 0-.1.7 0 .7 0 0-.3.7 0 0-1 .7 0 0 .4.7 0 .7 0 .7 0 0-.6.7 0 0-.2.7 0 0-.6.2 0 0 .4.5 0 0 .9.7 0 0-.4.7 0 0-.5.7 0 0 .2.7 0 0 .3.7 0 0-.3.7 0 0 .1.7 0 0-.4.7 0 0-.3.7 0 0-3.4.7 0 0 .2.7 0 0-.1.7 0 0 .5.7 0 0-.2.7 0 0-.1.7 0 0-.5.7 0 0 1.1.7 0 0 .2.7 0 0-.6.7 0 0 .2.7 0 0-.1.5 0 0 .3.2 0 .7 0 0-.2.7 0 0 1.9.7 0 .7 0 0-.1.7 0 0 .3.7 0 .7 0 0-.2.7 0 0 .4.7 0 0-1.3.7 0 0-.5.7 0 0-2.2.7 0 0-.2.7 0 0-.5.7 0 0-.3.7 0 0 2.2.7 0 .7 0 0 .1.7 0 0-.1.7 0 0 .1.7 0 0 .6.7 0 .7 0 0-.2.7 0 0-.7.7 0 0 .4.7 0 0-1.2.7 0 0-.6.7 0 0 .2.7 0 .2 0 0-.3.5 0 0-.4.7 0 0-.5.7 0 0 .3.7 0 0 .5.7 0 0 .5.7 0 0-.3.7 0 0-.1.7 0 0 .3.7 0 0 .9.7 0 0-.5.7 0 0 2.5.7 0 0 .2.7 0 0-.6.7 0 0-.1.7 0 0 2.4.7 0 0-.8.7 0 0 .5.7 0 0-.5.7 0 0 .3.7 0 0 .2.7 0 0 .9.5 0 0-.1.2 0 0 .5.7 0 0-1.5.7 0 0-.4.7 0 0 .3.7 0 0 .2.7 0 0 .2.7 0 0-.1.7 0 0 .7.7 0 0-.6.7 0 0 .1.7 0 0-.8.7 0 0 .2.7 0 0 .5.7 0 0 .3.7 0 0-1 0 .2.7 0 0 1.1.7 0 0-.9.7 0 0-.6.7 0 0 .9.7 0 0 1.3.7 0 0 .1.7 0 0 .3.1 0 0 1.3 0 10.8 0-1.3-.1 0 0-.2-.7 0 0-1.2-.7 0 0-1.3-.7 0 0-.8-.7 0 0-.8-.7 0 0 .1-.7 0 0-.4-.7 0 0-.1 0-1.1-.7 0 0-.3-.7 0 0 2.9-.7 0 0-.2-.7 0 0 .6-.7 0 0-2.1-.7 0 0 1-.7 0 0-.3-.7 0 0 .2-.7 0 0-.5-.7 0 0-.1-.7 0 0-.4-.7 0 0 1-.7 0 0 .3-.7 0 0-1.4-.2 0 0 .2-.5 0 0 4.9-.7 0 0-3.8-.7 0 0-1.3-.7 0 0 1.3-.7 0 0-1.5-.7 0 0 .2-.7 0 0-.1-.7 0 0 .1-.7 0 0-1.3-.7 0 0 .8-.7 0 0 .2-.7 0 0-.2-.7 0 0-.9-.7 0 0-.4-.7 0 0-1.7-.7 0 0-.6-.7 0 0-.4-.7 0 0-.8-.7 0 0-.3-.7 0 0 .1-.7 0 0 .9-.5 0 0 1.1-.2 0 0-1.1-.7 0 0 .6-.7 0 0 .6-.7 0 0 .2-.7 0 0-.5-.7 0 0 .7-.7 0 0 2.4-.7 0-.7 0 0 .3-.7 0 0-2.6-.7 0 0 .2-.7 0 0-.1-.7 0 0-.1-.7 0 0-.1-.7 0 0 2.4 0 .3-.7 0 0 .5-.7 0 0 .3-.7 0 0-1-.7 0 0 .4-.7 0 0 .2-.7 0 0-.4-.7 0 0-1.5-.7 0 0 .1-.7 0 0-.3-.7 0-.7 0-.7 0 0-.3-.7 0 0 .2-.7 0 0-.1-.2 0 0-.2-.5 0 0 .4-.7 0 0-.1-.7 0 0 .5-.7 0 0 .2-.7 0 0-.2-.7 0 0 .4-.7 0-.7 0 0 .2-.7 0 0 .4-.7 0 0 3.4-.7 0 0-.2-.7 0 0 .1-.7 0 0-2.7-.7 0 0 .3-.7 0-.7 0 0 .3-.7 0 0 .6-.7 0 0-.2-.7 0 0 .5-.7 0 0 .3-.7 0 0-.9-.5 0 0-1.1-.2 0 0 .6-.7 0 0 1.3-.7 0 0-.3-.7 0-.7 0 0 .4-.7 0 0-.4-.7 0 0 .1-.7 0 0 .3-.7 0 0-.2-.7 0 0 .1-.7 0 0 .8-.7 0 0 .1-.7 0 0-.3-.7 0 0 1-.7 0 0-.3-.7 0 0 .3-.7 0 0 1.1-.7 0 0 .6-.7 0 0 .4-.7 0 0 .3-.7 0 0 .1-.7 0 0 .1-.1 0 0-.1-.6 0 0 1.9-.7 0-.7 0 0 .2-.7 0 0-.1-.7 0 0 .6-.7 0 0-3.2-.7 0 0 .3-.7 0 0 .1-.7 0 0 .1-.7 0 0 .2-.7 0 0 7.9-.7 0 0 .1-.7 0-.7 0 0-7.2-.7 0 0-.2-.7 0 0-.2-.7 0 0-.5-.7 0 0-.5-.7 0 0-1.1-.7 0 0-.1-.7 0 0-.2-.4 0 0 .1-.3 0 0 .8-.7 0 0 .1-.7 0 0 .3-.7 0 0 .3-.7 0 0 .1-.7 0 0 .5-.7 0 0-.1-.7 0 0-.1-.7 0 0 .1-.7 0 0 .6-.7 0 0 2.8-.7 0 0 .2-.7 0 0-.6-.7 0 0 .2-.7 0 0 .5-.7 0 0-1.3-.7 0 0 .3-.7 0 0 1.6-.7 0 0-1.3-.7 0 0 .8-.7 0 0 1.7-.7 0 0-.4-.7 0 0-.9-.7 0 0 .1-.7 0 0 .1-.7 0 0-1.1-.7 0 0 .6-.7 0 0-1-.7 0-.1 0 0-.5-.6 0 0 .4-.7 0 0-.5-.7 0 0-.2-.7 0 0-1.1-.7 0 0-.3-.7 0 0-.5-.7 0 0-1.6-.7 0 0-.9-.7 0 0-.3-.7 0 0 .4-.7 0 0-.4-.7 0 0 3.6-.7 0 0-3.3-.7 0 0-.4-.7 0 0-.4-.7 0 0 .2-.7 0 0-.9-.7 0 0 .4-.7 0 0-.4-.7 0 0-1.6-.7 0 0 .2-.4 0 0-.1-.3 0 0 .1-.7 0 0 1.4-.7 0 0-.2-.7 0 0 .3-.7 0 0 .5-.7 0 0-.1-.7 0 0-1.5-.7 0 0 .7-.7 0 0 .1-.7 0 0 1.9-.7 0 0-.4-.7 0 0 .4-.7 0 0 .2-.7 0 0-1.3-.7 0 0 .1-.7 0 0-.2-.7 0 0 .2-.7 0 0-.3-.7 0 0 2.9-.7 0-.7 0-.7 0 0-1.5 0 .2-.7 0 0-.1-.7 0 0-.6-.7 0 0 .8-.7 0 0-.6-.7 0-.7 0 0-.3-.7 0 0 .2-.7 0 0 .1-.7 0 0 .1-.7 0 0-1.6-.7 0 0-.7-.7 0-.7 0 0-.6-.7 0 0-.1-.7 0 0-.1-.7 0 0 .5-.7 0 0-.3-.7 0 0-.3-.7 0 0 1.4-.7 0 0-.1-.7 0 0 .1-.3 0 0 .3-.4 0 0 .3-.7 0 0 1.3-.7 0 0-2.6-.7 0 0-.6-.7 0-.7 0 0-.2-.7 0 0-.2-.7 0 0 .4-.7 0 0 .1-.7 0 0-.1-.7 0 0-.3-.7 0 0 4.2-.7 0 0-.3-.7 0 0-.5-.7 0 0-.3-.7 0 0-.1-.7 0 0-4-.7 0 0-.4-.7 0 0 .4-.7 0 0-1.4-.7 0 0 .7-.6 0-.1 0 0-1-.7 0 0-.6-.7 0-.7 0 0 .4-.7 0 0-.3-.7 0 0-.4-.7 0 0-.5-.7 0 0-1.2-.7 0 0-.8-.7 0 0 1.4-.7 0 0-.4-.7 0 0-1-.7 0 0-.9-.7 0 0-.9-.7 0 0-.4-.1 0 0-.1-.6 0-.7 0 0 .3-.7 0 0 .3-.7 0 0 .7-.7 0-.7 0 0-1.1-.7 0-.7 0-.7 0 0-.2-.7 0 0 1.8-.7 0 0-.2-.7 0-.7 0 0 .9-.7 0 0 .3-.7 0 0 2.7-.7 0-.7 0 0 .7-.7 0 0 1.1-.7 0 0 .3-.7 0 0-2.1-.7 0 0 .4-.4 0 0-.5-.3 0 0 .2-.7 0 0 1-.7 0 0-1-.7 0 0-2.1-.7 0 0-1.4-.7 0 0-.5-.7 0 0-.7-.7 0 0-1.3-.7 0 0-.7-.7 0 0-.1-.7 0 0 3.7-.7 0 0 .4-.7 0 0-1-.7 0-.6 0 0 .1-.1 0 0-4.1-.7 0 0 .2-.7 0 0 .2-.7 0 0 .2-.7 0 0 .4-.7 0-.7 0 0-.1-.7 0 0-.3 0 1.8-.7 0 0-1.8-.7 0 0 .3-.7 0 0 .3-.7 0 0 .4-.7 0 0 .5-.7 0-.7 0 0 .6-.7 0 0 3.9-.7 0 0 .8-.7 0 0-.1-.7 0 0 .4-.7 0 0 .3-.7 0 0-1.5-.7 0 0-.5-.2 0 0 .5-.5 0 0-1.2-.7 0 0 .1-.7 0 0-.1-.7 0-.7 0 0-.2-.7 0 0 .8-.7 0 0 .7-.7 0 0 .2-.7 0 0 .2-.7 0 0-1.8-.7 0 0 .6-.7 0 0-.3-.7 0 0-.4-.7 0 0-.2-.7 0-.7 0 0-.1-.7 0 0 .1-.7 0 0 .2-.7 0 0 .7-.7 0-.7 0 0-.1-.5 0 0 .8-.2 0 0 .3-.7 0 0 .7-.7 0 0 1.1-.7 0 0 .8-.7 0 0-.1-.7 0 0 1-.7 0 0 .6-.7 0 0 .8-.7 0 0 3.5-.7 0 0 .6-.7 0 0 .3-.7 0 0 .1-.7 0 0 1.4-.7 0 0 3.3-.7 0 0 .1 0-.2-.7 0 0-.1-.7 0 0-6.1-.7 0 0-.2-.7 0 0-.3-.7 0 0-.1-.7 0 0-.3-.7 0 0 4.4-.1 0 0 .1-.6 0 0-5.3-.7 0 0-.7-.7 0 0-1-.7 0 0-.2-.7 0 0-.7-.7 0 0-.1-.7 0 0-.7-.7 0 0-.3-.7 0 0-.5-.7 0 0-.1-.7 0 0-.5-.7 0 0 2.5-.7 0 0-1.9-.7 0 0-2.3-.3 0 0-.4-.4 0 0-.4-.7 0 0 .1-.7 0 0 .2-.7 0 0 .4-.7 0 0 .2-.7 0 0 .9-.7 0 0 2.2-.7 0 0-2.2-.7 0 0 .1-.7 0 0 .8-.7 0 0 .4-.7 0 0 .2-.7 0 0 2.5-.7 0 0 .5-.7 0 0-.3-.7 0 0 .3-.7 0 0 .1-.7 0 0-2.1-.7 0 0 .2-.7 0 0-.1-.7 0 0-.2-.6 0 0 .2-.1 0 0-.3-.7 0-.7 0 0 1.4-.7 0 0-.5-.7 0 0 .1-.7 0 0-.4-.7 0 0-1.3-.7 0 0-1.1-.7 0 0 .1-.7 0 0-1.4-.7 0 0-1.2-.7 0 0-.7-.7 0 0-.4-.7 0 0-.5-.7 0 0 .9-.7 0 0-.2-.7 0 0-.2-.7 0 0-1.3-.7 0 0 .6-.7 0 0 .4-.7 0 0 .2-.7 0 0 .9-.2 0 0 .4-.5 0 0-.8-.7 0 0-.1-.7 0 0 .7-.7 0-.7 0 0-.7-.7 0 0 .3-.7 0-.7 0 0-.2-.7 0 0-1.8-.7 0 0 .1-.7 0 0 .2-.7 0 0-.1-.7 0 0-.6-.7 0-.7 0 0-.8-.7 0 0-.3-.7 0 0 1.1-.7 0 0-.8-.7 0 0 1-.7 0 0-.3-.7 0 0-.4-.5 0 0-.2-.2 0 0-2-.7 0 0-.1-.7 0 0 .6-.7 0 0-.6-.7 0 0-.4-.7 0 0-.5-.7 0 0-.5-.7 0 0-.5-.7 0 0-.4-.7 0 0 .1-.7 0 0-1-.7 0 0-.1-.7 0 0 1-.7 0-.7 0 0-.8-.7 0 0 .5-.7 0 0-.9-.7 0-.7 0 0 1.6-.7 0 0 .3-.7 0 0 .2-.7 0 0 2.2-.7 0 0 .1-.7 0 0-.1-.7 0 0-.3-.7 0 0-3.4-.7 0 0 .7-.7 0 0 .3-.7 0 0 .4-.2 0 0 .1-.5 0 0-.1-.7 0 0 .1-.7 0 0-1.5-.7 0 0-.4-.7 0-.7 0 0 .1-.7 0 0 .7-.7 0 0 .6-.7 0-.7 0-.7 0 0 .5-.7 0 0 .6-.7 0 0 .3-.7 0 0-.4-.4 0 0 .2-.3 0 0 .2-.7 0-.7 0 0-.4-.7 0 0-.2-.7 0 0 .3-.7 0 0-.6-.7 0 0-1-.7 0 0-1-.7 0 0-.4-.7 0 0-2.1-.7 0 0-.1-.7 0 0-.7-.7 0 0 1.8-.7 0 0-.8-.7 0 0-.8-.7 0 0-.4-.7 0 0-3-.7 0 0-.1-.7 0 0-.2-.7 0-.7 0 0 .3-.2 0-.5 0 0 .3-.7 0 0 1.6-.7 0 0 1-.7 0 0 .8-.7 0 0 1.8-.7 0 0 .8-.7 0 0 1.9-.7 0 0-.2-.7 0 0 1.2-.7 0 0 .9-.7 0 0 1.2-.7 0 0 1.5-.7 0 0 .8-.7 0 0 1.5-.7 0 0 .1-.2 0 0 .7-.5 0-.7 0 0-.3-.7 0 0 .8-.7 0 0-.1-.7 0 0-.2-.7 0-.7 0 0-.4-.7 0 0-.2-.7 0 0 .9-.7 0 0 .2-.7 0 0-.1-.7 0 0 .2-.7 0 0-.3-.7 0 0-.2-.4 0 0-.2-.3 0-.7 0 0-.8-.7 0 0-.4-.7 0 0-.5-.7 0 0 1-.7 0 0-.7-.7 0 0-.3-.7 0 0-.3-.7 0 0-2.2-.7 0 0 .1-.7 0 0-.4-.7 0 0-.6-.7 0 0-.5-.7 0 0-.9-.6 0-.1 0 0 1.8-.7 0-.7 0 0-.4-.7 0-.7 0 0-1.4-.7 0 0-.3-.7 0 0-.6-.7 0 0-.1-.7 0 0 1.7-.7 0 0 .2-.7 0-.7 0-.7 0 0-.9-.7 0 0 .5-.7 0 0 .3-.1 0-.6 0 0-.1-.7 0 0 .2-.7 0 0 .3-.7 0 0 1.9-.7 0 0-.1-.7 0 0-.4-.7 0 0 .6-.7 0 0-2.1-.7 0 0 .2-.7 0 0-.6-.7 0 0 .3-.7 0 0 .2-.7 0 0-.2-.7 0 0 2.1-.3 0 0-.1-.4 0 0-.3-.7 0 0 .4-.7 0 0 .2-.7 0 0-1.1-.7 0-.7 0 0 .1-.7 0 0 .5-.7 0 0-.8-.7 0 0 .5-.7 0 0-.4-.7 0-.7 0 0 .2-.7 0 0 .1-.7 0 0-.9-.5 0 0-.3-.2 0 0 .1-.7 0 0-.3-.7 0 0 1.3-.7 0 0-.3-.7 0 0-.3-.7 0 0 .1-.7 0 0-1.6-.7 0 0 .1-.7 0 0 .1-.7 0 0-.2-.7 0 0 .3-.7 0 0 4.6-.7 0 0-4.1-.7 0 0-.3-.7 0 0-.1-.7 0 0-.2-.7 0 0-.5-.7 0 0-.1-.7 0 0-.3-.7 0 0-1.1-.7 0 0 .6-.7 0 0-.1-.7 0 0-.2-.7 0 0 .3-.7 0 0-.1-.7 0 0 .1-.7 0-.7 0 0-.2-.7 0 0 1.5-.2 0 0-1.4-.5 0 0 1.8-.7 0 0-.2-.7 0 0-.6-.7 0 0-.7-.7 0 0-2.6-.7 0 0 .1-.7 0 0 .2-.7 0 0-.5-.7 0 0-.3-.7 0 0 .7-.7 0 0-.3-.7 0 0-.3-.7 0 0-.3-.7 0 0-.8-.4 0 0-.2-.3 0 0 .1-.7 0 0-.2-.7 0 0 .4-.7 0 0-.6-.7 0 0-1.2-.7 0 0 .5-.7 0 0 .4-.7 0 0 .3-.7 0-.7 0 0-.2-.7 0 0-.5-.7 0 0-.2-.7 0 0-1.3-.7 0 0 .2-.6 0 0-.6-.1 0 0 .4-.7 0 0 .3-.7 0 0 .1-.7 0 0-1.7-.7 0 0-.3-.7 0 0-.4-.7 0 0-.2-.7 0 0-.1-.7 0 0 .3-.7 0 0 .5-.7 0 0-.5-.7 0 0 1.8-.7 0 0-.2-.7 0 0-.1-.7 0 0 .7-.1 0 0 .3-.6 0 0 .3-.7 0 0 .4-.7 0 0 .3-.7 0 0 .6-.7 0 0 .2-.7 0 0 4.9-.7 0 0 .3-.2 0 0-4.4-.5 0 0-.3-.7 0 0 .2-.7 0-.7 0 0-1.1-.7 0 0-.2-.7 0 0-.1-.7 0-.7 0 0-.7-.7 0 0-.7-.7 0 0-.7-.7 0 0 4.6-.7 0 0 .2-.7 0 0-.1-.7 0 0-5.7-.7 0 0-.1-.7 0 0-.1-.7 0 0 1.3-.7 0 0-.2-.7 0-.7 0 0 .3-.7 0 0-.1-.5 0 0-1-.2 0 0-.4-.7 0 0-.5-.7 0 0 .5-.7 0 0-.2-.7 0 0-.7-.7 0 0-.1-.7 0 0-.4-.7 0 0-1-.7 0 0-.3-.7 0 0 .5-.7 0 0-1.4-.7 0 0 .3-.7 0 0 .6-.7 0 0-.1-.7 0 0-.3 0 .3-.7 0 0 .3-.7 0 0-1.1-.7 0 0-.8-.7 0 0 3-.7 0 0 .4-.7 0 0-.6-.7 0 0-1.1-.1 0 0-.2-.6 0 0 .3-.7 0 0-.8-.7 0 0 .2-.7 0 0 .2-.7 0 0-1-.7 0-.7 0 0 .2-.7 0 0 .3-.7 0-.7 0 0 .6-.7 0 0 .8-.7 0 0-.2-.7 0 0-.3-.7 0 0 .1-.3 0 0 .6-.4 0 0 1.5-.7 0 0-.6-.7 0 0 .4-.7 0 0 .1-.7 0 0-.3-.7 0 0 .6-.7 0 0-.6-.7 0 0-.2-.7 0 0 .1-.7 0 0 .2-.7 0 0-.6-.7 0 0-.5-.7 0 0 .2-.7 0 0-.5-.5 0 0-.4-.2 0 0-.1-.7 0 0-.5-.7 0 0 2.5-.7 0 0 .3-.7 0 0-2.6-.7 0 0-.7-.7 0 0-.5-.7 0 0-.1-.7 0 0 .2-.7 0 0-.2-.7 0 0 .2-.7 0 0-.2-.7 0 0-.2-.7 0 0-1.8-.7 0 0-1-.4 0 0-.8-.3 0 0-.8-.7 0 0-1.1-.7 0 0-.8-.7 0 0-1.3-.7 0 0-1.1-.7 0 0-1.2-.7 0 0-2-.6 0 0-.6-.1 0 0-2.8-.7 0 0-2.7-.7 0 0-1.2-.7 0 0-3.5-.7 0 0-3.7-.7 0 0-3.4-.7 0 0-1.1-.2 0 0-5.5-.5 0 0-7.3-.7 0 0-7.4-.7 0 0 .1-.1 0 0-5.4-.6 0 0-6.4-.7 0 0-6.3-.7 0 0-6.1-.7 0 0-2.3-.3 0 0-.4-.4 0 0-.3-.7 0 0-1.1-.7 0 0-1.2-.7 0 0-1.6-.5 0 0 9.3-.2 0 0 36.5-.7 0 0 36.6-.7 0 0 20.9-.4 0 0 1-.3 0 0 2.6-.7 0 0 2.5-.7 0 0 2-.7 0 0 1.8-.6 0 0-.4-.1 0-.7 0 0 .2-.7 0 0 .1-.7 0 0 .2-.7 0 0 .5-.7 0 0 .2-.7 0 0-.5-.7 0 0 .9-.7 0 0 .4-.7 0 0 .2-.6 0 0 .1-.1 0 0 1.1-.7 0 0 .2-.7 0 0 1.5-.7 0 0 .6-.7 0 0-.9-.7 0 0-.5-.7 0 0 .4-.7 0 0-.9-.7 0 0-.1-.7 0-.7 0 0-.5-.7 0 0 .4-.7 0z" fill="#8b8c8f" stroke="#8b8c8f" stroke-width="0.5"/>
<rect x="781.00" y="793.90" width="569.80" height="232.30" fill="none" stroke="#231f20" stroke-width="1.6" />
<line x1="800.80" y1="1026.20" x2="800.80" y2="1021.40" stroke="#231f20" stroke-width="1.4" />
<line x1="800.80" y1="793.90" x2="800.80" y2="798.70" stroke="#231f20" stroke-width="1.4" />
<text x="800.2" y="1052.3" font-size="21.6" text-anchor="middle" font-weight="normal" fill="#231f20" stroke="#231f20" stroke-width="0.3" >0</text>
<line x1="943.15" y1="1026.20" x2="943.15" y2="1021.40" stroke="#231f20" stroke-width="1.4" />
<line x1="943.15" y1="793.90" x2="943.15" y2="798.70" stroke="#231f20" stroke-width="1.4" />
<text x="942.5" y="1052.3" font-size="21.6" text-anchor="middle" font-weight="normal" fill="#231f20" stroke="#231f20" stroke-width="0.3" >100</text>
<line x1="1085.50" y1="1026.20" x2="1085.50" y2="1021.40" stroke="#231f20" stroke-width="1.4" />
<line x1="1085.50" y1="793.90" x2="1085.50" y2="798.70" stroke="#231f20" stroke-width="1.4" />
<text x="1084.9" y="1052.3" font-size="21.6" text-anchor="middle" font-weight="normal" fill="#231f20" stroke="#231f20" stroke-width="0.3" >200</text>
<line x1="1227.85" y1="1026.20" x2="1227.85" y2="1021.40" stroke="#231f20" stroke-width="1.4" />
<line x1="1227.85" y1="793.90" x2="1227.85" y2="798.70" stroke="#231f20" stroke-width="1.4" />
<text x="1227.2" y="1052.3" font-size="21.6" text-anchor="middle" font-weight="normal" fill="#231f20" stroke="#231f20" stroke-width="0.3" >300</text>
<line x1="781.00" y1="817.00" x2="785.80" y2="817.00" stroke="#231f20" stroke-width="1.4" />
<line x1="1350.80" y1="817.00" x2="1346.00" y2="817.00" stroke="#231f20" stroke-width="1.4" />
<text x="771.5" y="824.6" font-size="21.6" text-anchor="end" font-weight="normal" fill="#231f20" stroke="#231f20" stroke-width="0.3" >50</text>
<line x1="781.00" y1="863.20" x2="785.80" y2="863.20" stroke="#231f20" stroke-width="1.4" />
<line x1="1350.80" y1="863.20" x2="1346.00" y2="863.20" stroke="#231f20" stroke-width="1.4" />
<text x="771.5" y="870.8" font-size="21.6" text-anchor="end" font-weight="normal" fill="#231f20" stroke="#231f20" stroke-width="0.3" >35</text>
<line x1="781.00" y1="910.00" x2="785.80" y2="910.00" stroke="#231f20" stroke-width="1.4" />
<line x1="1350.80" y1="910.00" x2="1346.00" y2="910.00" stroke="#231f20" stroke-width="1.4" />
<text x="771.5" y="917.6" font-size="21.6" text-anchor="end" font-weight="normal" fill="#231f20" stroke="#231f20" stroke-width="0.3" >25</text>
<line x1="781.00" y1="956.30" x2="785.80" y2="956.30" stroke="#231f20" stroke-width="1.4" />
<line x1="1350.80" y1="956.30" x2="1346.00" y2="956.30" stroke="#231f20" stroke-width="1.4" />
<text x="771.5" y="963.9" font-size="21.6" text-anchor="end" font-weight="normal" fill="#231f20" stroke="#231f20" stroke-width="0.3" >20</text>
<line x1="781.00" y1="1002.60" x2="785.80" y2="1002.60" stroke="#231f20" stroke-width="1.4" />
<line x1="1350.80" y1="1002.60" x2="1346.00" y2="1002.60" stroke="#231f20" stroke-width="1.4" />
<text x="771.5" y="1010.2" font-size="21.6" text-anchor="end" font-weight="normal" fill="#231f20" stroke="#231f20" stroke-width="0.3" >0</text>
<text x="1065.3" y="779.5" font-size="21.7" text-anchor="middle" font-weight="bold" fill="#231f20" >0.5 ms</text>
<text x="1063.9" y="1080.5" font-size="21.85" text-anchor="middle" font-weight="normal" fill="#231f20" stroke="#231f20" stroke-width="0.3" >Time (ms)</text>
<text x="730.1" y="907.4" font-size="21.85" text-anchor="middle" font-weight="normal" fill="#231f20" stroke="#231f20" stroke-width="0.3" transform="rotate(-90 730.1 907.4)">Stimulus (μA)</text>
<polygon points="793.6,1030.8 807.2,1030.8 800.4,1021.8" fill="#231f20"/>
<line x1="1276.60" y1="811.90" x2="1276.60" y2="880.50" stroke="#231f20" stroke-width="1.5" />
<text x="1292.6" y="836.3" font-size="21.85" text-anchor="start" font-weight="normal" fill="#231f20" stroke="#231f20" stroke-width="0.3" >1 mV</text>
<text x="1263.2" y="954.2" font-size="21.85" text-anchor="start" font-weight="normal" fill="#939598" stroke="#939598" stroke-width="0.3" >50 μA</text>
<defs><linearGradient id="cb793" x1="0" y1="0" x2="0" y2="1"><stop offset="0.000" stop-color="#d63728"/><stop offset="0.017" stop-color="#d83b28"/><stop offset="0.034" stop-color="#da3f28"/><stop offset="0.051" stop-color="#db4428"/><stop offset="0.068" stop-color="#dd4828"/><stop offset="0.085" stop-color="#df4c28"/><stop offset="0.102" stop-color="#e15028"/><stop offset="0.119" stop-color="#e35528"/><stop offset="0.136" stop-color="#e45928"/><stop offset="0.153" stop-color="#e66127"/><stop offset="0.169" stop-color="#e86826"/><stop offset="0.186" stop-color="#ea7026"/><stop offset="0.203" stop-color="#eb7725"/><stop offset="0.220" stop-color="#ed7f24"/><stop offset="0.237" stop-color="#ef8723"/><stop offset="0.254" stop-color="#f18f22"/><stop offset="0.271" stop-color="#f39720"/><stop offset="0.288" stop-color="#f59f1f"/><stop offset="0.305" stop-color="#f7a81d"/><stop offset="0.322" stop-color="#f9b01c"/><stop offset="0.339" stop-color="#fab62e"/><stop offset="0.356" stop-color="#fbbd40"/><stop offset="0.373" stop-color="#fcc451"/><stop offset="0.390" stop-color="#fccb67"/><stop offset="0.407" stop-color="#fcd47e"/><stop offset="0.424" stop-color="#fddc95"/><stop offset="0.441" stop-color="#fde4ac"/><stop offset="0.458" stop-color="#feeac1"/><stop offset="0.475" stop-color="#fef1d6"/><stop offset="0.492" stop-color="#fff8ea"/><stop offset="0.508" stop-color="#fffefc"/><stop offset="0.525" stop-color="#f8f8fa"/><stop offset="0.542" stop-color="#f0f0f4"/><stop offset="0.559" stop-color="#e7e8ef"/><stop offset="0.576" stop-color="#dfe0ea"/><stop offset="0.593" stop-color="#d7d9e5"/><stop offset="0.610" stop-color="#cfd2e0"/><stop offset="0.627" stop-color="#c7cadc"/><stop offset="0.644" stop-color="#bfc3d7"/><stop offset="0.661" stop-color="#b7bcd2"/><stop offset="0.678" stop-color="#afb5cd"/><stop offset="0.695" stop-color="#a7aec8"/><stop offset="0.712" stop-color="#9ea6c3"/><stop offset="0.729" stop-color="#959ebe"/><stop offset="0.746" stop-color="#8d97b9"/><stop offset="0.763" stop-color="#848fb4"/><stop offset="0.780" stop-color="#7b87b0"/><stop offset="0.797" stop-color="#7280ab"/><stop offset="0.814" stop-color="#6b79a6"/><stop offset="0.831" stop-color="#6372a2"/><stop offset="0.847" stop-color="#5c6b9d"/><stop offset="0.864" stop-color="#556599"/><stop offset="0.881" stop-color="#4e5e94"/><stop offset="0.898" stop-color="#485890"/><stop offset="0.915" stop-color="#43538b"/><stop offset="0.932" stop-color="#3e4e86"/><stop offset="0.949" stop-color="#394881"/><stop offset="0.966" stop-color="#34437c"/><stop offset="0.983" stop-color="#2f3e78"/><stop offset="1.000" stop-color="#2a3973"/></linearGradient></defs>
<rect x="1386.00" y="793.40" width="44.20" height="234.50" fill="url(#cb793)" stroke="#231f20" stroke-width="1.3" />
<line x1="1386.00" y1="846.80" x2="1389.00" y2="846.80" stroke="#231f20" stroke-width="1.2" />
<line x1="1427.20" y1="846.80" x2="1430.20" y2="846.80" stroke="#231f20" stroke-width="1.2" />
<text x="1435.2" y="854.4" font-size="21.6" text-anchor="start" font-weight="normal" fill="#231f20" stroke="#231f20" stroke-width="0.3" >1</text>
<line x1="1386.00" y1="913.40" x2="1389.00" y2="913.40" stroke="#231f20" stroke-width="1.2" />
<line x1="1427.20" y1="913.40" x2="1430.20" y2="913.40" stroke="#231f20" stroke-width="1.2" />
<text x="1435.2" y="921.0" font-size="21.6" text-anchor="start" font-weight="normal" fill="#231f20" stroke="#231f20" stroke-width="0.3" >0</text>
<line x1="1386.00" y1="980.70" x2="1389.00" y2="980.70" stroke="#231f20" stroke-width="1.2" />
<line x1="1427.20" y1="980.70" x2="1430.20" y2="980.70" stroke="#231f20" stroke-width="1.2" />
<text x="1435.2" y="988.3" font-size="21.6" text-anchor="start" font-weight="normal" fill="#231f20" stroke="#231f20" stroke-width="0.3" >−1</text>
<text x="1358.9" y="1052.3" font-size="21.85" text-anchor="start" font-weight="normal" fill="#231f20" stroke="#231f20" stroke-width="0.3" >Mean ΔV</text>
<text x="1442.6" y="1064.2" font-size="17.5" text-anchor="start" font-weight="normal" fill="#231f20" stroke="#231f20" stroke-width="0.3" >m</text>
<path d="M781 1345.5l.6.1.6-.6.6-.3.6.4.6-.3.6.1.6-.4.6 1.6.2-1.1.4.5.6-.8.6-.5.6-.8.6.6.2-.5.4.4.6.4.6 0 .4.7.2 0 .6 0 .6.3.6-1.6.6.8.6-.3.6-.5.2.3.4.4.6-.2.6.3.6.1.6.3.2.1.4.8.6-1.2.6-.3.6-.3.1 0 .5 41 .5-65.5.1 5.1.4 20.4.2-.2.6-.5.6-.6.6-.5.2-.2.4-76.8.6-115.2.6 121.5.2 40.5.4-14.5.4-14.5.2 9.7.4 19.3.2-7.7.4-15.3.2 6.6.5 16.4.1-.3.6-1.5.1-.2.5-3.3.6-4 .6-4 .5 7.7.1-.8.6-5.2.6-4.8.6 0 .6.2.6.1.6-.5.6.2.6.1.6-.1.6-.6.6.1.6.2.6.1.6.5.6-.7.6 1.3.6-1.4.6.5.6 0 .6-.5.3.5.3.4.6.3.6.7.6.3.6 1.5.6.2.6.3.6 1.2.6-.5.6 1.6.6.7.6.3.6.8.6.9.6.6.6-.1.6 1.3.6.1.6.5.6 1 .6.3.6 1.1.2-.1.4.7.6-.1.6 1.1.6.8.6.7.6.9.6.3.6-.4.6 1.1.6.7.6 0 .6.9.6.3.6 1 .6 1.3.6 0 .6.2.6.4.6 1 .6 1.7.6-.5.6.7.5.6.1.2.6-.4.6.2.6-.5.6.9.6-.4.6-.5.6 0 .6.2.6-.1.6.5.6-.9.6 1.3.6-.1.6-1.3.6.4.6.5.6.3.6.1.6-.4.6.1.6-.5.2.4.4-.7.6-.4.6-.7.6-.2.6 0 .6-1 .6-1.2.6.3.6-.6.6-1.5.2.3.4 0 .6-1.3.6-.6.6-.1.6-.8.6-.5.6-1.5.6.4.6-2.3.6.4.6-.7.5-.7.1-.7.6-.3.6-.5.6-1.5.6-.3.6-1 .6-.9.6-.8.6-114.8.2-38.2.4 37.2.6 55.9.6 55.8.2 18.6.4-1.2.6-1.9.6-1.8.6-1.3.3-1.5.3.5.6.2.6-.7.6 1.1.6-.7.6.2.6 0 .6.3.6.4.6.6.6.7.6-.6.6-.5.6 1 .6-.7.6 1 .2-.2.4-.1.6 0 .6 1.3.6 0 .6.1.6-.3.6.7.6.3.6 1 .6.5.6 0 .6.6.6.2.6-.4.6.5.6-.4.6 1.2.3-.1.3-.2.6 1.6.6.2.6 0 .6 1.4.6 1.1.6.2.6.9.6.8.6.4.6.6.6.3.6 1.4.6.6.6 1.4.6.2.6.4.6.2.6.4.6 1.3.3.6.3.4.6.2.6.4.6.9.6.1.6.4.6.4.6.5.6.1.6 1.1.6-.1.6.6.6.7.6-.3.6.3.6.9.2-.1.4.7.6-.7.6.7.6-.7.6 0 .6.3.6-.3.6-.3.6.2.6 1.3.6-.9.6.1.6-.7.6.2.6.1.6.2.6.2.6-.8.6.6.6.4.6 0 .6-1.6.6 1.6.6-.6.6-.1.6.8.6.1.6-.8.6.2.6-.3.2.3.4-.2.6-.6.6.6.6.6.6-1 .6.1.6.1.6-.1.6 0 .6.2.6 0 .6-.2.6.1.6 0 .6.2.6-.7.6-.4.6.9.6-.9.6 0 .6.5.6-.6.6.1.6.4.6-.2.2-.1.4.2.6-.6.6 1.1.6-.2.6-.9.6.5.6.3.6.8.6-.6.6.1.6.4.6-.2.6-.2.6.3.6.1.6.2.6-.3.6.2.6.3.6-.6.6-.1.6 1.3.6-1.7.6 1.5.6-.7.6.7.6.1.6-.6.6.4.6 0 .6.1.6.3.6.1.4-.1.2 0 .6.4.6.5.6-.7.6 1.2.6-.3.6-.2.6.3.6 0 .6-.9.6.8.6 0 .6.9.6.2.6.5.6-.1.6 0 .2-.3.4-.2.6-.2.6.1.6 0 .6-.9.6-.5.6.1.6-.1.4-.6.2-1.1.6-1 .6-1.1.6-1.4.6-1.6.6-.8.6-2.9.6-1.1.6-1.1.6-2.2.6.2.6-2.5.6-1.6.6-1.6.6-.7.6-.8.6-2.6.2-.4.4-.2.6.3.6-.1.6-.5.6-.6.6.3.6-.8.6.4.4.1.2.2.6-.4.6-.2.6.2.6-.6.6.8.6-.2.6.2.6.1.6-.5.6 1 .6-.7.6-.7.6 1.2.6-.5.6-.5.6.9.6-.3.6.1.6-.7.6.3.6.2.6-.3.6.4.6.2.4-.2.2.4.6-.2.6-.1.6.1.6.1.6.3.6.7.6-.6.6 1.1.6-.8.6.1.6.3.6-.2.6-.1.6.3.6 1 .6.2.2-.4.4.5.6-.1.6.3.6.6.6.3.6.3.6 0 .6-.4.6 1.2.6-.8.6 1.2.6-.3.6-.1.6 1.1.6 0 .6-.1.6.9.6-.1.6.6.6-.3.6.9.6.3.6-.4.6 1.3.6-.9.2.7.4-.1.6.5.6.2.6.8.6.3.6.2.6.8.6.5.6.1.6.6.6-.3.6 1 .6.4.6 1.4.6-1.1.6 1 .6.2.6.5.6.4.6.2.6-.6.6.8.6.4.6.1.6.4.6 1.5.6-1 .6 1 .6-.1.6.3.6.9.6-.3.6-.2.6.9.6-.1.6 1.3.6-.2.6.1.6.5.6.5.6-.5.6.7.6.1.6.6.6.1.6.9.6-.6.6 1.1.6-.3.6.1.2.5.4.4.6 0 .6 0 .6.6.6 1 .6.1.6-1.1.6 1.2.6.7.6.2.6.8.6.1.6 0 .6.5.6.1.6 1.2.6-.2.6-.3.6.3.6.4.6.1.6-.1.6.8.6-.7.6.8.6.3.6-.5.6-.5.6.8.6-.7.6.5.6-.1.6.3.4.1.2-.1.6.9.6-.8.6-.4.6.5.6-.5.6.4.6.8.6-.1.6-1.2.6.1.6-.1.6.4.6 0 .6.2.6-.7.6.5.6-.3.6-.1.6.9.6-.7.6 1 .6-1.2.6.6.6 0 .6.5.6.4.6 0 .6-.5.6-.1.6 0 .6 0 .6-.8.6-.4.6.4.6-.1.6.7.6.1.6-.4.6-.2.6.6.6.1.6-.2.6.2.6-.8.6.1.6.8.6-.7.6.8.6.4.6-.9.6.3.6-.2.6-.1.6-.2.6.5.6-.3.6 0 .6-.8.6.6.6 0 .6-.1.6-.2.6.3.6.7.6-.6.6-.6.6 0 .6.7.6.2.6-.2.6.2.6-.4.6.4.6-.1.6-.9.6 1.3.6-.3.6-.8.6.6.6 0 .6-.5.6.2.6.2.6-.1.6-.3.6-.2.6 0 .6.2.6-.3.6-.5.6.5.2-.4.4-.7.6.5.6.1.6-.8.6.2.6-.3.6-.6.6.1.6-.8.6.1.6-.8.6.2.6-.1.6.1.6-.8.6-.2.6.8.6-1.3.6 0 .6-.3.6-1 .6.3.6.2.6 0 .6-.8.2-.1.4-.7.6.1.6 0 .6-.7.6-.3.6-.5.6.6.6-.8.4-.3.2.3.6-.6.6.6.6-.9.6.3.6.6.6-1.2.6.1.6.5.6.5.6-.1.6-.1.6-.6.6.2.6.1.6.3.6-.3.6-.2.6-.2.6.5.6-.2.6-.4.6.4.6-.2.6.8.6-1.1.6.1.6.2.6-.5.6.1.6-.2.6.2.6.2.6.1.6-.5.6.3.6.9.6-.6.6.4.6-.1.6.7.6.1.6-.2.6-.3.6.1.6.1.6 0 .6-.6.6.5.6-.3.4.6.2.3.6.3.6-.4.6 1.1.6-.6.6.9.6.1.6.2.6.7.6.3.6-.4.6.5.6.3.6.5.6-.6.6.4.6 1.7.2-.8.4.1.6.1.6.1.6-.2.6.4.6.2.6 0 .6.1.6.1.6 1.5.6-.7.6-.6.6.4.6.4.6-.2.6.6.6-.1.6.5.6-.3.6-.5.6.3.6-.7.6.6.6 1.2.6-1 .6-.3.6 1 .6.5.6.1.6-1.1.6.3.6.3.6.4.6-.6.6.7.6.3.6-.4.6.3.6.5.6-.7.6.6.6-.5.6.2.6.1.6-.1.6.4.6 0 .6 0 .6.1.6.2.2-.2.4-.4.6.4.6.3.6-.7.6.6.6-.4.6.1.6.3.6-.2.6-.2.6.4.6-.1.6-.4.6-.7.6 1.5.6-.8.6.3.6.1.6-.7.6.9.6.1.6-.6.6.2.6.9.6-1.4.6 0 .6.4.6 0 .6-.3.6.4.6-.2.6.7.6 0 .6.2.6.1.6-.9.6-.1.6.8.6-.2.6 0 .6-.8.6.9.6-.2.6-.6.6.5.6-.3.6.2.6.1.6-.4.6.2.6-.2.6.4.6-.2.6.9.6-1.1.6.1.6-.5.6.1.6.3.6.4.6-.9.6.3.6.9.6.2.6-.8.6.4.6-.7.6 1.2.6-.7.6.4.6-.5.6-.1.6-.6.6.6.6 1.3.6-.9.6.1.6-.3.6 0 .6.4.6-.7.6 0 .6.4.6 0 .6-.3.6.3.6.1.6-.3.6.1.6.1.6-.2.6 0 .6-.6.6.5.6.1.6 0 .6.1.6-.5.6.5.6 0 .6-.4.6-.4.6.2.6 0 .6.5.6-.6.6.3.6-.5.6.8.6-.8.6.1.6.4.6-.3.6-1 .6.8.6.5.6-1.4.6 1 .6-.9.6.3.6-.5.6 1.1.6 0 .6-.1.6.9.2-1.2.4-.1.6.3.6-1 .6.5.6-.7.6.9.6-.1.6-.4.6-.5.6-.6.6.4.6.6.6-.9.6.4.6-.3.6.7.6-1.1.6.8.6-1 .6.2.6.4.6-.5.6-.6.6.3.6.1.2 0 .4 0 .6-.4.6-.5.6-.1.6-1 .6-.1.6-.9.6 0 .6-.2.6-.7.6.3.6.6.6-.6.6-1 .6 0 .6-1 .6 0" stroke="#8b8c8f" stroke-width="1.5" fill="none" stroke-linejoin="round" />
<line x1="800.80" y1="1345.00" x2="800.80" y2="1386.00" stroke="#8b8c8f" stroke-width="2.2" />
<rect x="804.30" y="1268.00" width="5.20" height="38.00" fill="#8b8c8f" stroke="none" stroke-width="1" />
<line x1="809.60" y1="1151.00" x2="809.60" y2="1300.00" stroke="#8b8c8f" stroke-width="1.4" />
<rect x="780.50" y="1150.00" width="564.60" height="230.40" fill="none" stroke="#231f20" stroke-width="1.6" />
<line x1="799.20" y1="1380.40" x2="799.20" y2="1375.60" stroke="#231f20" stroke-width="1.4" />
<line x1="799.20" y1="1150.00" x2="799.20" y2="1154.80" stroke="#231f20" stroke-width="1.4" />
<text x="798.6" y="1404.8" font-size="21.6" text-anchor="middle" font-weight="normal" fill="#231f20" stroke="#231f20" stroke-width="0.3" >0</text>
<line x1="940.50" y1="1380.40" x2="940.50" y2="1375.60" stroke="#231f20" stroke-width="1.4" />
<line x1="940.50" y1="1150.00" x2="940.50" y2="1154.80" stroke="#231f20" stroke-width="1.4" />
<text x="939.9" y="1404.8" font-size="21.6" text-anchor="middle" font-weight="normal" fill="#231f20" stroke="#231f20" stroke-width="0.3" >100</text>
<line x1="1081.80" y1="1380.40" x2="1081.80" y2="1375.60" stroke="#231f20" stroke-width="1.4" />
<line x1="1081.80" y1="1150.00" x2="1081.80" y2="1154.80" stroke="#231f20" stroke-width="1.4" />
<text x="1081.2" y="1404.8" font-size="21.6" text-anchor="middle" font-weight="normal" fill="#231f20" stroke="#231f20" stroke-width="0.3" >200</text>
<line x1="1223.10" y1="1380.40" x2="1223.10" y2="1375.60" stroke="#231f20" stroke-width="1.4" />
<line x1="1223.10" y1="1150.00" x2="1223.10" y2="1154.80" stroke="#231f20" stroke-width="1.4" />
<text x="1222.5" y="1404.8" font-size="21.6" text-anchor="middle" font-weight="normal" fill="#231f20" stroke="#231f20" stroke-width="0.3" >300</text>
<line x1="780.50" y1="1172.70" x2="785.30" y2="1172.70" stroke="#231f20" stroke-width="1.4" />
<line x1="1345.10" y1="1172.70" x2="1340.30" y2="1172.70" stroke="#231f20" stroke-width="1.4" />
<text x="771.0" y="1180.3" font-size="21.6" text-anchor="end" font-weight="normal" fill="#231f20" stroke="#231f20" stroke-width="0.3" >40</text>
<line x1="780.50" y1="1217.80" x2="785.30" y2="1217.80" stroke="#231f20" stroke-width="1.4" />
<line x1="1345.10" y1="1217.80" x2="1340.30" y2="1217.80" stroke="#231f20" stroke-width="1.4" />
<text x="771.0" y="1225.4" font-size="21.6" text-anchor="end" font-weight="normal" fill="#231f20" stroke="#231f20" stroke-width="0.3" >35</text>
<line x1="780.50" y1="1265.30" x2="785.30" y2="1265.30" stroke="#231f20" stroke-width="1.4" />
<line x1="1345.10" y1="1265.30" x2="1340.30" y2="1265.30" stroke="#231f20" stroke-width="1.4" />
<text x="771.0" y="1272.9" font-size="21.6" text-anchor="end" font-weight="normal" fill="#231f20" stroke="#231f20" stroke-width="0.3" >25</text>
<line x1="780.50" y1="1310.90" x2="785.30" y2="1310.90" stroke="#231f20" stroke-width="1.4" />
<line x1="1345.10" y1="1310.90" x2="1340.30" y2="1310.90" stroke="#231f20" stroke-width="1.4" />
<text x="771.0" y="1318.5" font-size="21.6" text-anchor="end" font-weight="normal" fill="#231f20" stroke="#231f20" stroke-width="0.3" >15</text>
<line x1="780.50" y1="1356.20" x2="785.30" y2="1356.20" stroke="#231f20" stroke-width="1.4" />
<line x1="1345.10" y1="1356.20" x2="1340.30" y2="1356.20" stroke="#231f20" stroke-width="1.4" />
<text x="771.0" y="1363.8" font-size="21.6" text-anchor="end" font-weight="normal" fill="#231f20" stroke="#231f20" stroke-width="0.3" >0</text>
<text x="1062.3" y="1134.5" font-size="21.7" text-anchor="middle" font-weight="bold" fill="#231f20" >0.5 ms</text>
<text x="1060.8" y="1433.4" font-size="21.85" text-anchor="middle" font-weight="normal" fill="#231f20" stroke="#231f20" stroke-width="0.3" >Time (ms)</text>
<text x="730.1" y="1262.6" font-size="21.85" text-anchor="middle" font-weight="normal" fill="#231f20" stroke="#231f20" stroke-width="0.3" transform="rotate(-90 730.1 1262.6)">Stimulus (μA)</text>
<polygon points="792.4,1385.5 806.0,1385.5 799.2,1376.5" fill="#231f20"/>
<line x1="1272.00" y1="1178.00" x2="1272.00" y2="1182.00" stroke="#231f20" stroke-width="1.5" />
<text x="1288.1" y="1215.2" font-size="21.85" text-anchor="start" font-weight="normal" fill="#231f20" stroke="#231f20" stroke-width="0.3" >1 mV</text>
<text x="1259.4" y="1363.7" font-size="21.85" text-anchor="start" font-weight="normal" fill="#939598" stroke="#939598" stroke-width="0.3" >40 μA</text>
<defs><linearGradient id="cb1148" x1="0" y1="0" x2="0" y2="1"><stop offset="0.000" stop-color="#d63728"/><stop offset="0.017" stop-color="#d83b28"/><stop offset="0.034" stop-color="#da3f28"/><stop offset="0.051" stop-color="#db4428"/><stop offset="0.068" stop-color="#dd4828"/><stop offset="0.085" stop-color="#df4c28"/><stop offset="0.102" stop-color="#e15028"/><stop offset="0.119" stop-color="#e35528"/><stop offset="0.136" stop-color="#e45928"/><stop offset="0.153" stop-color="#e66127"/><stop offset="0.169" stop-color="#e86826"/><stop offset="0.186" stop-color="#ea7026"/><stop offset="0.203" stop-color="#ec7825"/><stop offset="0.220" stop-color="#ed7f24"/><stop offset="0.237" stop-color="#ef8723"/><stop offset="0.254" stop-color="#f18f22"/><stop offset="0.271" stop-color="#f39720"/><stop offset="0.288" stop-color="#f5a01f"/><stop offset="0.305" stop-color="#f7a81d"/><stop offset="0.322" stop-color="#f9b01c"/><stop offset="0.339" stop-color="#fab72e"/><stop offset="0.356" stop-color="#fbbd40"/><stop offset="0.373" stop-color="#fcc452"/><stop offset="0.390" stop-color="#fccc68"/><stop offset="0.407" stop-color="#fdd47f"/><stop offset="0.424" stop-color="#fddc96"/><stop offset="0.441" stop-color="#fde4ad"/><stop offset="0.458" stop-color="#feebc2"/><stop offset="0.475" stop-color="#fef1d7"/><stop offset="0.492" stop-color="#fff8ec"/><stop offset="0.508" stop-color="#fffefd"/><stop offset="0.525" stop-color="#f8f8fa"/><stop offset="0.542" stop-color="#efeff4"/><stop offset="0.559" stop-color="#e7e7ef"/><stop offset="0.576" stop-color="#dfe0ea"/><stop offset="0.593" stop-color="#d7d9e5"/><stop offset="0.610" stop-color="#cfd1e0"/><stop offset="0.627" stop-color="#c7cadb"/><stop offset="0.644" stop-color="#bfc3d6"/><stop offset="0.661" stop-color="#b6bbd1"/><stop offset="0.678" stop-color="#aeb4cc"/><stop offset="0.695" stop-color="#a6adc7"/><stop offset="0.712" stop-color="#9ea6c3"/><stop offset="0.729" stop-color="#959ebe"/><stop offset="0.746" stop-color="#8c96b9"/><stop offset="0.763" stop-color="#838eb4"/><stop offset="0.780" stop-color="#7a87af"/><stop offset="0.797" stop-color="#717faa"/><stop offset="0.814" stop-color="#6a78a6"/><stop offset="0.831" stop-color="#6372a1"/><stop offset="0.847" stop-color="#5c6b9d"/><stop offset="0.864" stop-color="#546499"/><stop offset="0.881" stop-color="#4d5d94"/><stop offset="0.898" stop-color="#47578f"/><stop offset="0.915" stop-color="#42528a"/><stop offset="0.932" stop-color="#3d4d86"/><stop offset="0.949" stop-color="#384881"/><stop offset="0.966" stop-color="#33437c"/><stop offset="0.983" stop-color="#2e3e77"/><stop offset="1.000" stop-color="#293872"/></linearGradient></defs>
<rect x="1380.20" y="1148.40" width="43.80" height="233.20" fill="url(#cb1148)" stroke="#231f20" stroke-width="1.3" />
<line x1="1380.20" y1="1149.60" x2="1383.20" y2="1149.60" stroke="#231f20" stroke-width="1.2" />
<line x1="1421.00" y1="1149.60" x2="1424.00" y2="1149.60" stroke="#231f20" stroke-width="1.2" />
<text x="1429.5" y="1157.2" font-size="21.6" text-anchor="start" font-weight="normal" fill="#231f20" stroke="#231f20" stroke-width="0.3" >60</text>
<line x1="1380.20" y1="1188.60" x2="1383.20" y2="1188.60" stroke="#231f20" stroke-width="1.2" />
<line x1="1421.00" y1="1188.60" x2="1424.00" y2="1188.60" stroke="#231f20" stroke-width="1.2" />
<text x="1429.5" y="1196.2" font-size="21.6" text-anchor="start" font-weight="normal" fill="#231f20" stroke="#231f20" stroke-width="0.3" >40</text>
<line x1="1380.20" y1="1228.00" x2="1383.20" y2="1228.00" stroke="#231f20" stroke-width="1.2" />
<line x1="1421.00" y1="1228.00" x2="1424.00" y2="1228.00" stroke="#231f20" stroke-width="1.2" />
<text x="1429.5" y="1235.6" font-size="21.6" text-anchor="start" font-weight="normal" fill="#231f20" stroke="#231f20" stroke-width="0.3" >20</text>
<line x1="1380.20" y1="1267.50" x2="1383.20" y2="1267.50" stroke="#231f20" stroke-width="1.2" />
<line x1="1421.00" y1="1267.50" x2="1424.00" y2="1267.50" stroke="#231f20" stroke-width="1.2" />
<text x="1429.5" y="1275.1" font-size="21.6" text-anchor="start" font-weight="normal" fill="#231f20" stroke="#231f20" stroke-width="0.3" >0</text>
<line x1="1380.20" y1="1306.50" x2="1383.20" y2="1306.50" stroke="#231f20" stroke-width="1.2" />
<line x1="1421.00" y1="1306.50" x2="1424.00" y2="1306.50" stroke="#231f20" stroke-width="1.2" />
<text x="1429.5" y="1314.1" font-size="21.6" text-anchor="start" font-weight="normal" fill="#231f20" stroke="#231f20" stroke-width="0.3" >−20</text>
<line x1="1380.20" y1="1346.00" x2="1383.20" y2="1346.00" stroke="#231f20" stroke-width="1.2" />
<line x1="1421.00" y1="1346.00" x2="1424.00" y2="1346.00" stroke="#231f20" stroke-width="1.2" />
<text x="1429.5" y="1353.6" font-size="21.6" text-anchor="start" font-weight="normal" fill="#231f20" stroke="#231f20" stroke-width="0.3" >−40</text>
<text x="1352.4" y="1404.8" font-size="21.85" text-anchor="start" font-weight="normal" fill="#231f20" stroke="#231f20" stroke-width="0.3" >Mean ΔV</text>
<text x="1437.6" y="1416.3" font-size="17.5" text-anchor="start" font-weight="normal" fill="#231f20" stroke="#231f20" stroke-width="0.3" >m</text>
<line x1="1594.90" y1="59.40" x2="1594.90" y2="307.30" stroke="#231f20" stroke-width="1.6" />
<line x1="1594.10" y1="306.50" x2="1888.30" y2="306.50" stroke="#231f20" stroke-width="1.6" />
<line x1="1594.90" y1="306.50" x2="1597.40" y2="306.50" stroke="#231f20" stroke-width="1.3" />
<text x="1585.6" y="313.9" font-size="21.35" text-anchor="end" font-weight="normal" fill="#231f20" stroke="#231f20" stroke-width="0.3" >0</text>
<line x1="1594.90" y1="244.72" x2="1597.40" y2="244.72" stroke="#231f20" stroke-width="1.3" />
<text x="1585.6" y="252.1" font-size="21.35" text-anchor="end" font-weight="normal" fill="#231f20" stroke="#231f20" stroke-width="0.3" >0.1</text>
<line x1="1594.90" y1="182.95" x2="1597.40" y2="182.95" stroke="#231f20" stroke-width="1.3" />
<text x="1585.6" y="190.3" font-size="21.35" text-anchor="end" font-weight="normal" fill="#231f20" stroke="#231f20" stroke-width="0.3" >0.2</text>
<line x1="1594.90" y1="121.18" x2="1597.40" y2="121.18" stroke="#231f20" stroke-width="1.3" />
<text x="1585.6" y="128.6" font-size="21.35" text-anchor="end" font-weight="normal" fill="#231f20" stroke="#231f20" stroke-width="0.3" >0.3</text>
<line x1="1594.90" y1="59.40" x2="1597.40" y2="59.40" stroke="#231f20" stroke-width="1.3" />
<text x="1585.6" y="66.8" font-size="21.35" text-anchor="end" font-weight="normal" fill="#231f20" stroke="#231f20" stroke-width="0.3" >0.4</text>
<line x1="1594.90" y1="306.50" x2="1594.90" y2="302.00" stroke="#231f20" stroke-width="1.3" />
<text x="1594.9" y="332.6" font-size="21.35" text-anchor="middle" font-weight="normal" fill="#231f20" stroke="#231f20" stroke-width="0.3" >0</text>
<line x1="1728.20" y1="306.50" x2="1728.20" y2="302.00" stroke="#231f20" stroke-width="1.3" />
<text x="1728.2" y="332.6" font-size="21.35" text-anchor="middle" font-weight="normal" fill="#231f20" stroke="#231f20" stroke-width="0.3" >10</text>
<line x1="1861.50" y1="306.50" x2="1861.50" y2="302.00" stroke="#231f20" stroke-width="1.3" />
<text x="1861.5" y="332.6" font-size="21.35" text-anchor="middle" font-weight="normal" fill="#231f20" stroke="#231f20" stroke-width="0.3" >20</text>
<text x="1738.3" y="360.0" font-size="21.85" text-anchor="middle" font-weight="normal" fill="#231f20" stroke="#231f20" stroke-width="0.3" >Stimulus charge (nC)</text>
<text x="1740.9" y="45.7" font-size="21.35" text-anchor="middle" font-weight="normal" fill="#231f20" stroke="#231f20" stroke-width="0.3" >n = 2</text>
<text transform="translate(1522.3 183.8) rotate(-90)" text-anchor="middle" font-size="22" fill="#231f20">s<tspan font-size="16" dy="9.9">mean ΔV</tspan><tspan font-size="12.5" dy="10.7">m</tspan></text>
<path d="M1594.9 262l66.7-28.4 66.6-29.6 66.7-40.2 66.6-13" stroke="#3a53a4" stroke-width="1.5" fill="none" stroke-linejoin="round" />
<line x1="1594.90" y1="268.20" x2="1594.90" y2="255.84" stroke="#3a53a4" stroke-width="1.4" />
<line x1="1592.10" y1="268.20" x2="1597.70" y2="268.20" stroke="#3a53a4" stroke-width="1.4" />
<line x1="1592.10" y1="255.84" x2="1597.70" y2="255.84" stroke="#3a53a4" stroke-width="1.4" />
<line x1="1661.55" y1="237.31" x2="1661.55" y2="229.28" stroke="#3a53a4" stroke-width="1.4" />
<line x1="1658.75" y1="237.31" x2="1664.35" y2="237.31" stroke="#3a53a4" stroke-width="1.4" />
<line x1="1658.75" y1="229.28" x2="1664.35" y2="229.28" stroke="#3a53a4" stroke-width="1.4" />
<line x1="1728.20" y1="203.95" x2="1728.20" y2="181.10" stroke="#3a53a4" stroke-width="1.4" />
<line x1="1725.40" y1="203.95" x2="1731.00" y2="203.95" stroke="#3a53a4" stroke-width="1.4" />
<line x1="1725.40" y1="181.10" x2="1731.00" y2="181.10" stroke="#3a53a4" stroke-width="1.4" />
<line x1="1794.85" y1="163.80" x2="1794.85" y2="145.88" stroke="#3a53a4" stroke-width="1.4" />
<line x1="1792.05" y1="163.80" x2="1797.65" y2="163.80" stroke="#3a53a4" stroke-width="1.4" />
<line x1="1792.05" y1="145.88" x2="1797.65" y2="145.88" stroke="#3a53a4" stroke-width="1.4" />
<line x1="1861.50" y1="150.83" x2="1861.50" y2="131.68" stroke="#3a53a4" stroke-width="1.4" />
<line x1="1858.70" y1="150.83" x2="1864.30" y2="150.83" stroke="#3a53a4" stroke-width="1.4" />
<line x1="1858.70" y1="131.68" x2="1864.30" y2="131.68" stroke="#3a53a4" stroke-width="1.4" />
<path d="M1594.9 256.8v10.4M1590.6 259.4l8.6 5.2M1590.6 264.6l8.6 -5.2M1590.3 262.0h9.2" stroke="#3a53a4" stroke-width="1.5" fill="none"/>
<path d="M1661.6 228.4v10.4M1657.3 231.0l8.6 5.2M1657.3 236.2l8.6 -5.2M1657.0 233.6h9.2" stroke="#3a53a4" stroke-width="1.5" fill="none"/>
<path d="M1728.2 198.8v10.4M1723.9 201.4l8.6 5.2M1723.9 206.6l8.6 -5.2M1723.6 204.0h9.2" stroke="#3a53a4" stroke-width="1.5" fill="none"/>
<path d="M1794.9 158.6v10.4M1790.6 161.2l8.6 5.2M1790.6 166.4l8.6 -5.2M1790.3 163.8h9.2" stroke="#3a53a4" stroke-width="1.5" fill="none"/>
<path d="M1861.5 145.6v10.4M1857.2 148.2l8.6 5.2M1857.2 153.4l8.6 -5.2M1856.9 150.8h9.2" stroke="#3a53a4" stroke-width="1.5" fill="none"/>
<path d="M1594.9 264.5l66.7-16.7 66.6-35.2 66.7-22.2 66.6-13.6" stroke="#5bb947" stroke-width="1.5" fill="none" stroke-linejoin="round" />
<line x1="1594.90" y1="270.67" x2="1594.90" y2="258.32" stroke="#5bb947" stroke-width="1.4" />
<line x1="1592.10" y1="270.67" x2="1597.70" y2="270.67" stroke="#5bb947" stroke-width="1.4" />
<line x1="1592.10" y1="258.32" x2="1597.70" y2="258.32" stroke="#5bb947" stroke-width="1.4" />
<line x1="1661.55" y1="250.90" x2="1661.55" y2="244.72" stroke="#5bb947" stroke-width="1.4" />
<line x1="1658.75" y1="250.90" x2="1664.35" y2="250.90" stroke="#5bb947" stroke-width="1.4" />
<line x1="1658.75" y1="244.72" x2="1664.35" y2="244.72" stroke="#5bb947" stroke-width="1.4" />
<line x1="1728.20" y1="216.93" x2="1728.20" y2="197.16" stroke="#5bb947" stroke-width="1.4" />
<line x1="1725.40" y1="216.93" x2="1731.00" y2="216.93" stroke="#5bb947" stroke-width="1.4" />
<line x1="1725.40" y1="197.16" x2="1731.00" y2="197.16" stroke="#5bb947" stroke-width="1.4" />
<line x1="1794.85" y1="200.25" x2="1794.85" y2="184.80" stroke="#5bb947" stroke-width="1.4" />
<line x1="1792.05" y1="200.25" x2="1797.65" y2="200.25" stroke="#5bb947" stroke-width="1.4" />
<line x1="1792.05" y1="184.80" x2="1797.65" y2="184.80" stroke="#5bb947" stroke-width="1.4" />
<line x1="1861.50" y1="186.66" x2="1861.50" y2="169.36" stroke="#5bb947" stroke-width="1.4" />
<line x1="1858.70" y1="186.66" x2="1864.30" y2="186.66" stroke="#5bb947" stroke-width="1.4" />
<line x1="1858.70" y1="169.36" x2="1864.30" y2="169.36" stroke="#5bb947" stroke-width="1.4" />
<polygon points="1588.9,268.8 1600.9,268.8 1594.9,258.9" stroke="#5bb947" stroke-width="1.5" fill="none"/>
<polygon points="1655.6,252.1 1667.6,252.1 1661.6,242.2" stroke="#5bb947" stroke-width="1.5" fill="none"/>
<polygon points="1722.2,216.9 1734.2,216.9 1728.2,207.0" stroke="#5bb947" stroke-width="1.5" fill="none"/>
<polygon points="1788.9,194.7 1800.9,194.7 1794.9,184.8" stroke="#5bb947" stroke-width="1.5" fill="none"/>
<polygon points="1855.5,181.1 1867.5,181.1 1861.5,171.2" stroke="#5bb947" stroke-width="1.5" fill="none"/>
<path d="M1594.9 263.3l66.7-18.6 66.6-18.3 66.7-50.2 66.6-10.5" stroke="#e2262b" stroke-width="1.5" fill="none" stroke-linejoin="round" />
<line x1="1594.90" y1="274.38" x2="1594.90" y2="250.90" stroke="#e2262b" stroke-width="1.4" />
<line x1="1592.10" y1="274.38" x2="1597.70" y2="274.38" stroke="#e2262b" stroke-width="1.4" />
<line x1="1592.10" y1="250.90" x2="1597.70" y2="250.90" stroke="#e2262b" stroke-width="1.4" />
<line x1="1661.55" y1="247.81" x2="1661.55" y2="241.64" stroke="#e2262b" stroke-width="1.4" />
<line x1="1658.75" y1="247.81" x2="1664.35" y2="247.81" stroke="#e2262b" stroke-width="1.4" />
<line x1="1658.75" y1="241.64" x2="1664.35" y2="241.64" stroke="#e2262b" stroke-width="1.4" />
<line x1="1728.20" y1="236.94" x2="1728.20" y2="216.31" stroke="#e2262b" stroke-width="1.4" />
<line x1="1725.40" y1="236.94" x2="1731.00" y2="236.94" stroke="#e2262b" stroke-width="1.4" />
<line x1="1725.40" y1="216.31" x2="1731.00" y2="216.31" stroke="#e2262b" stroke-width="1.4" />
<line x1="1794.85" y1="182.95" x2="1794.85" y2="169.36" stroke="#e2262b" stroke-width="1.4" />
<line x1="1792.05" y1="182.95" x2="1797.65" y2="182.95" stroke="#e2262b" stroke-width="1.4" />
<line x1="1792.05" y1="169.36" x2="1797.65" y2="169.36" stroke="#e2262b" stroke-width="1.4" />
<line x1="1861.50" y1="169.36" x2="1861.50" y2="161.95" stroke="#e2262b" stroke-width="1.4" />
<line x1="1858.70" y1="169.36" x2="1864.30" y2="169.36" stroke="#e2262b" stroke-width="1.4" />
<line x1="1858.70" y1="161.95" x2="1864.30" y2="161.95" stroke="#e2262b" stroke-width="1.4" />
<circle cx="1594.9" cy="263.3" r="5.3" stroke="#e2262b" stroke-width="1.5" fill="none"/>
<circle cx="1661.6" cy="244.7" r="5.3" stroke="#e2262b" stroke-width="1.5" fill="none"/>
<circle cx="1728.2" cy="226.4" r="5.3" stroke="#e2262b" stroke-width="1.5" fill="none"/>
<circle cx="1794.9" cy="176.2" r="5.3" stroke="#e2262b" stroke-width="1.5" fill="none"/>
<circle cx="1861.5" cy="165.7" r="5.3" stroke="#e2262b" stroke-width="1.5" fill="none"/>
<line x1="1617.10" y1="85.50" x2="1681.80" y2="85.50" stroke="#3a53a4" stroke-width="1.4" />
<path d="M1649.4 80.3v10.4M1645.1 82.9l8.6 5.2M1645.1 88.1l8.6 -5.2M1644.8 85.5h9.2" stroke="#3a53a4" stroke-width="1.5" fill="none"/>
<text x="1691.0" y="96.0" font-size="21.35" text-anchor="start" font-weight="normal" fill="#231f20" stroke="#231f20" stroke-width="0.3" >0.5</text>
<line x1="1617.10" y1="113.30" x2="1681.80" y2="113.30" stroke="#5bb947" stroke-width="1.4" />
<polygon points="1643.4,117.6 1655.4,117.6 1649.4,107.7" stroke="#5bb947" stroke-width="1.5" fill="none"/>
<text x="1691.0" y="123.8" font-size="21.35" text-anchor="start" font-weight="normal" fill="#231f20" stroke="#231f20" stroke-width="0.3" >0.2</text>
<line x1="1617.10" y1="141.10" x2="1681.80" y2="141.10" stroke="#e2262b" stroke-width="1.4" />
<circle cx="1649.4" cy="141.1" r="5.3" stroke="#e2262b" stroke-width="1.5" fill="none"/>
<text x="1691.0" y="151.6" font-size="21.35" text-anchor="start" font-weight="normal" fill="#231f20" stroke="#231f20" stroke-width="0.3" >0.1</text>
<line x1="1607.00" y1="417.70" x2="1607.00" y2="664.10" stroke="#231f20" stroke-width="1.6" />
<line x1="1606.20" y1="663.30" x2="1888.30" y2="663.30" stroke="#231f20" stroke-width="1.6" />
<line x1="1607.00" y1="663.30" x2="1609.50" y2="663.30" stroke="#231f20" stroke-width="1.3" />
<text x="1598.8" y="670.7" font-size="21.35" text-anchor="end" font-weight="normal" fill="#231f20" stroke="#231f20" stroke-width="0.3" >0.05</text>
<line x1="1607.00" y1="614.18" x2="1609.50" y2="614.18" stroke="#231f20" stroke-width="1.3" />
<text x="1598.8" y="621.6" font-size="21.35" text-anchor="end" font-weight="normal" fill="#231f20" stroke="#231f20" stroke-width="0.3" >0.1</text>
<line x1="1607.00" y1="565.06" x2="1609.50" y2="565.06" stroke="#231f20" stroke-width="1.3" />
<text x="1598.8" y="572.5" font-size="21.35" text-anchor="end" font-weight="normal" fill="#231f20" stroke="#231f20" stroke-width="0.3" >0.15</text>
<line x1="1607.00" y1="515.94" x2="1609.50" y2="515.94" stroke="#231f20" stroke-width="1.3" />
<text x="1598.8" y="523.3" font-size="21.35" text-anchor="end" font-weight="normal" fill="#231f20" stroke="#231f20" stroke-width="0.3" >0.2</text>
<line x1="1607.00" y1="466.82" x2="1609.50" y2="466.82" stroke="#231f20" stroke-width="1.3" />
<text x="1598.8" y="474.2" font-size="21.35" text-anchor="end" font-weight="normal" fill="#231f20" stroke="#231f20" stroke-width="0.3" >0.25</text>
<line x1="1607.00" y1="417.70" x2="1609.50" y2="417.70" stroke="#231f20" stroke-width="1.3" />
<text x="1598.8" y="425.1" font-size="21.35" text-anchor="end" font-weight="normal" fill="#231f20" stroke="#231f20" stroke-width="0.3" >0.3</text>
<line x1="1607.00" y1="663.30" x2="1607.00" y2="658.80" stroke="#231f20" stroke-width="1.3" />
<text x="1607.0" y="688.7" font-size="21.35" text-anchor="middle" font-weight="normal" fill="#231f20" stroke="#231f20" stroke-width="0.3" >0</text>
<line x1="1711.35" y1="663.30" x2="1711.35" y2="658.80" stroke="#231f20" stroke-width="1.3" />
<text x="1711.3" y="688.7" font-size="21.35" text-anchor="middle" font-weight="normal" fill="#231f20" stroke="#231f20" stroke-width="0.3" >10</text>
<line x1="1815.70" y1="663.30" x2="1815.70" y2="658.80" stroke="#231f20" stroke-width="1.3" />
<text x="1815.7" y="688.7" font-size="21.35" text-anchor="middle" font-weight="normal" fill="#231f20" stroke="#231f20" stroke-width="0.3" >20</text>
<text x="1745.4" y="716.6" font-size="21.85" text-anchor="middle" font-weight="normal" fill="#231f20" stroke="#231f20" stroke-width="0.3" >Stimulus charge (nC)</text>
<text x="1746.6" y="401.7" font-size="21.35" text-anchor="middle" font-weight="normal" fill="#231f20" stroke="#231f20" stroke-width="0.3" >n = 3</text>
<text transform="translate(1522.3 541.3) rotate(-90)" text-anchor="middle" font-size="22" fill="#231f20">s<tspan font-size="16" dy="9.9">mean ΔV</tspan><tspan font-size="12.5" dy="10.7">m</tspan></text>
<path d="M1607 621.1l104.3-25.6 52.2-37.3 52.2-27.5 52.2-42.3" stroke="#3a53a4" stroke-width="1.5" fill="none" stroke-linejoin="round" />
<line x1="1607.00" y1="633.83" x2="1607.00" y2="608.29" stroke="#3a53a4" stroke-width="1.4" />
<line x1="1604.20" y1="633.83" x2="1609.80" y2="633.83" stroke="#3a53a4" stroke-width="1.4" />
<line x1="1604.20" y1="608.29" x2="1609.80" y2="608.29" stroke="#3a53a4" stroke-width="1.4" />
<line x1="1711.35" y1="619.09" x2="1711.35" y2="567.02" stroke="#3a53a4" stroke-width="1.4" />
<line x1="1708.55" y1="619.09" x2="1714.15" y2="619.09" stroke="#3a53a4" stroke-width="1.4" />
<line x1="1708.55" y1="567.02" x2="1714.15" y2="567.02" stroke="#3a53a4" stroke-width="1.4" />
<line x1="1763.53" y1="584.71" x2="1763.53" y2="519.87" stroke="#3a53a4" stroke-width="1.4" />
<line x1="1760.73" y1="584.71" x2="1766.33" y2="584.71" stroke="#3a53a4" stroke-width="1.4" />
<line x1="1760.73" y1="519.87" x2="1766.33" y2="519.87" stroke="#3a53a4" stroke-width="1.4" />
<line x1="1815.70" y1="565.06" x2="1815.70" y2="473.70" stroke="#3a53a4" stroke-width="1.4" />
<line x1="1812.90" y1="565.06" x2="1818.50" y2="565.06" stroke="#3a53a4" stroke-width="1.4" />
<line x1="1812.90" y1="473.70" x2="1818.50" y2="473.70" stroke="#3a53a4" stroke-width="1.4" />
<line x1="1867.88" y1="550.32" x2="1867.88" y2="426.54" stroke="#3a53a4" stroke-width="1.4" />
<line x1="1865.08" y1="550.32" x2="1870.67" y2="550.32" stroke="#3a53a4" stroke-width="1.4" />
<line x1="1865.08" y1="426.54" x2="1870.67" y2="426.54" stroke="#3a53a4" stroke-width="1.4" />
<path d="M1607.0 615.9v10.4M1602.7 618.5l8.6 5.2M1602.7 623.7l8.6 -5.2M1602.4 621.1h9.2" stroke="#3a53a4" stroke-width="1.5" fill="none"/>
<path d="M1711.3 590.3v10.4M1707.0 592.9l8.6 5.2M1707.0 598.1l8.6 -5.2M1706.8 595.5h9.2" stroke="#3a53a4" stroke-width="1.5" fill="none"/>
<path d="M1763.5 553.0v10.4M1759.2 555.6l8.6 5.2M1759.2 560.8l8.6 -5.2M1758.9 558.2h9.2" stroke="#3a53a4" stroke-width="1.5" fill="none"/>
<path d="M1815.7 525.5v10.4M1811.4 528.1l8.6 5.2M1811.4 533.3l8.6 -5.2M1811.1 530.7h9.2" stroke="#3a53a4" stroke-width="1.5" fill="none"/>
<path d="M1867.9 483.2v10.4M1863.6 485.8l8.6 5.2M1863.6 491.0l8.6 -5.2M1863.3 488.4h9.2" stroke="#3a53a4" stroke-width="1.5" fill="none"/>
<path d="M1607 622l104.3-15.7 52.2-15.7 52.2-6.9 52.2-41.2" stroke="#5bb947" stroke-width="1.5" fill="none" stroke-linejoin="round" />
<line x1="1607.00" y1="640.70" x2="1607.00" y2="604.36" stroke="#5bb947" stroke-width="1.4" />
<line x1="1604.20" y1="640.70" x2="1609.80" y2="640.70" stroke="#5bb947" stroke-width="1.4" />
<line x1="1604.20" y1="604.36" x2="1609.80" y2="604.36" stroke="#5bb947" stroke-width="1.4" />
<line x1="1711.35" y1="622.04" x2="1711.35" y2="588.64" stroke="#5bb947" stroke-width="1.4" />
<line x1="1708.55" y1="622.04" x2="1714.15" y2="622.04" stroke="#5bb947" stroke-width="1.4" />
<line x1="1708.55" y1="588.64" x2="1714.15" y2="588.64" stroke="#5bb947" stroke-width="1.4" />
<line x1="1763.53" y1="606.32" x2="1763.53" y2="571.94" stroke="#5bb947" stroke-width="1.4" />
<line x1="1760.73" y1="606.32" x2="1766.33" y2="606.32" stroke="#5bb947" stroke-width="1.4" />
<line x1="1760.73" y1="571.94" x2="1766.33" y2="571.94" stroke="#5bb947" stroke-width="1.4" />
<line x1="1815.70" y1="602.39" x2="1815.70" y2="565.06" stroke="#5bb947" stroke-width="1.4" />
<line x1="1812.90" y1="602.39" x2="1818.50" y2="602.39" stroke="#5bb947" stroke-width="1.4" />
<line x1="1812.90" y1="565.06" x2="1818.50" y2="565.06" stroke="#5bb947" stroke-width="1.4" />
<line x1="1867.88" y1="553.27" x2="1867.88" y2="520.85" stroke="#5bb947" stroke-width="1.4" />
<line x1="1865.08" y1="553.27" x2="1870.67" y2="553.27" stroke="#5bb947" stroke-width="1.4" />
<line x1="1865.08" y1="520.85" x2="1870.67" y2="520.85" stroke="#5bb947" stroke-width="1.4" />
<polygon points="1601.0,626.3 1613.0,626.3 1607.0,616.4" stroke="#5bb947" stroke-width="1.5" fill="none"/>
<polygon points="1705.3,610.6 1717.3,610.6 1711.3,600.7" stroke="#5bb947" stroke-width="1.5" fill="none"/>
<polygon points="1757.5,594.9 1769.5,594.9 1763.5,585.0" stroke="#5bb947" stroke-width="1.5" fill="none"/>
<polygon points="1809.7,588.0 1821.7,588.0 1815.7,578.1" stroke="#5bb947" stroke-width="1.5" fill="none"/>
<polygon points="1861.9,546.8 1873.9,546.8 1867.9,536.9" stroke="#5bb947" stroke-width="1.5" fill="none"/>
<path d="M1607 621.1l104.3-13.8 52.2-12.8 52.2-1.9 52.2-52.1" stroke="#e2262b" stroke-width="1.5" fill="none" stroke-linejoin="round" />
<line x1="1607.00" y1="638.74" x2="1607.00" y2="602.39" stroke="#e2262b" stroke-width="1.4" />
<line x1="1604.20" y1="638.74" x2="1609.80" y2="638.74" stroke="#e2262b" stroke-width="1.4" />
<line x1="1604.20" y1="602.39" x2="1609.80" y2="602.39" stroke="#e2262b" stroke-width="1.4" />
<line x1="1711.35" y1="621.06" x2="1711.35" y2="594.53" stroke="#e2262b" stroke-width="1.4" />
<line x1="1708.55" y1="621.06" x2="1714.15" y2="621.06" stroke="#e2262b" stroke-width="1.4" />
<line x1="1708.55" y1="594.53" x2="1714.15" y2="594.53" stroke="#e2262b" stroke-width="1.4" />
<line x1="1763.53" y1="604.36" x2="1763.53" y2="584.71" stroke="#e2262b" stroke-width="1.4" />
<line x1="1760.73" y1="604.36" x2="1766.33" y2="604.36" stroke="#e2262b" stroke-width="1.4" />
<line x1="1760.73" y1="584.71" x2="1766.33" y2="584.71" stroke="#e2262b" stroke-width="1.4" />
<line x1="1815.70" y1="609.27" x2="1815.70" y2="576.85" stroke="#e2262b" stroke-width="1.4" />
<line x1="1812.90" y1="609.27" x2="1818.50" y2="609.27" stroke="#e2262b" stroke-width="1.4" />
<line x1="1812.90" y1="576.85" x2="1818.50" y2="576.85" stroke="#e2262b" stroke-width="1.4" />
<line x1="1867.88" y1="547.38" x2="1867.88" y2="533.62" stroke="#e2262b" stroke-width="1.4" />
<line x1="1865.08" y1="547.38" x2="1870.67" y2="547.38" stroke="#e2262b" stroke-width="1.4" />
<line x1="1865.08" y1="533.62" x2="1870.67" y2="533.62" stroke="#e2262b" stroke-width="1.4" />
<circle cx="1607.0" cy="621.1" r="5.3" stroke="#e2262b" stroke-width="1.5" fill="none"/>
<circle cx="1711.3" cy="607.3" r="5.3" stroke="#e2262b" stroke-width="1.5" fill="none"/>
<circle cx="1763.5" cy="594.5" r="5.3" stroke="#e2262b" stroke-width="1.5" fill="none"/>
<circle cx="1815.7" cy="592.6" r="5.3" stroke="#e2262b" stroke-width="1.5" fill="none"/>
<circle cx="1867.9" cy="540.5" r="5.3" stroke="#e2262b" stroke-width="1.5" fill="none"/>
<line x1="1629.80" y1="442.40" x2="1693.80" y2="442.40" stroke="#3a53a4" stroke-width="1.4" />
<path d="M1661.8 437.2v10.4M1657.5 439.8l8.6 5.2M1657.5 445.0l8.6 -5.2M1657.2 442.4h9.2" stroke="#3a53a4" stroke-width="1.5" fill="none"/>
<text x="1702.0" y="452.9" font-size="21.35" text-anchor="start" font-weight="normal" fill="#231f20" stroke="#231f20" stroke-width="0.3" >0.5</text>
<line x1="1629.80" y1="470.10" x2="1693.80" y2="470.10" stroke="#5bb947" stroke-width="1.4" />
<polygon points="1655.8,474.4 1667.8,474.4 1661.8,464.5" stroke="#5bb947" stroke-width="1.5" fill="none"/>
<text x="1702.0" y="480.6" font-size="21.35" text-anchor="start" font-weight="normal" fill="#231f20" stroke="#231f20" stroke-width="0.3" >0.2</text>
<line x1="1629.80" y1="497.80" x2="1693.80" y2="497.80" stroke="#e2262b" stroke-width="1.4" />
<circle cx="1661.8" cy="497.8" r="5.3" stroke="#e2262b" stroke-width="1.5" fill="none"/>
<text x="1702.0" y="508.3" font-size="21.35" text-anchor="start" font-weight="normal" fill="#231f20" stroke="#231f20" stroke-width="0.3" >0.1</text>
<line x1="1594.90" y1="764.70" x2="1594.90" y2="1021.20" stroke="#231f20" stroke-width="1.6" />
<line x1="1594.10" y1="1020.40" x2="1888.80" y2="1020.40" stroke="#231f20" stroke-width="1.6" />
<line x1="1594.90" y1="1020.40" x2="1597.40" y2="1020.40" stroke="#231f20" stroke-width="1.3" />
<text x="1586.2" y="1027.8" font-size="21.35" text-anchor="end" font-weight="normal" fill="#231f20" stroke="#231f20" stroke-width="0.3" >0</text>
<line x1="1594.90" y1="956.48" x2="1597.40" y2="956.48" stroke="#231f20" stroke-width="1.3" />
<text x="1586.2" y="963.9" font-size="21.35" text-anchor="end" font-weight="normal" fill="#231f20" stroke="#231f20" stroke-width="0.3" >0.1</text>
<line x1="1594.90" y1="892.55" x2="1597.40" y2="892.55" stroke="#231f20" stroke-width="1.3" />
<text x="1586.2" y="899.9" font-size="21.35" text-anchor="end" font-weight="normal" fill="#231f20" stroke="#231f20" stroke-width="0.3" >0.2</text>
<line x1="1594.90" y1="828.62" x2="1597.40" y2="828.62" stroke="#231f20" stroke-width="1.3" />
<text x="1586.2" y="836.0" font-size="21.35" text-anchor="end" font-weight="normal" fill="#231f20" stroke="#231f20" stroke-width="0.3" >0.3</text>
<line x1="1594.90" y1="764.70" x2="1597.40" y2="764.70" stroke="#231f20" stroke-width="1.3" />
<text x="1586.2" y="772.1" font-size="21.35" text-anchor="end" font-weight="normal" fill="#231f20" stroke="#231f20" stroke-width="0.3" >0.4</text>
<line x1="1594.90" y1="1020.40" x2="1594.90" y2="1015.90" stroke="#231f20" stroke-width="1.3" />
<text x="1594.9" y="1046.3" font-size="21.35" text-anchor="middle" font-weight="normal" fill="#231f20" stroke="#231f20" stroke-width="0.3" >0</text>
<line x1="1692.87" y1="1020.40" x2="1692.87" y2="1015.90" stroke="#231f20" stroke-width="1.3" />
<text x="1692.9" y="1046.3" font-size="21.35" text-anchor="middle" font-weight="normal" fill="#231f20" stroke="#231f20" stroke-width="0.3" >10</text>
<line x1="1790.84" y1="1020.40" x2="1790.84" y2="1015.90" stroke="#231f20" stroke-width="1.3" />
<text x="1790.8" y="1046.3" font-size="21.35" text-anchor="middle" font-weight="normal" fill="#231f20" stroke="#231f20" stroke-width="0.3" >20</text>
<line x1="1888.81" y1="1020.40" x2="1888.81" y2="1015.90" stroke="#231f20" stroke-width="1.3" />
<text x="1888.8" y="1046.3" font-size="21.35" text-anchor="middle" font-weight="normal" fill="#231f20" stroke="#231f20" stroke-width="0.3" >30</text>
<text x="1738.2" y="1073.5" font-size="21.85" text-anchor="middle" font-weight="normal" fill="#231f20" stroke="#231f20" stroke-width="0.3" >Stimulus charge (nC)</text>
<text transform="translate(1522.3 893.3) rotate(-90)" text-anchor="middle" font-size="22" fill="#231f20">s<tspan font-size="16" dy="9.9">mean ΔV</tspan><tspan font-size="12.5" dy="10.7">m</tspan></text>
<path d="M1594.9 994.8l98-72.2 24.5-10.9 48.9-62 73.5 12.2" stroke="#3a53a4" stroke-width="1.5" fill="none" stroke-linejoin="round" />
<circle cx="1594.9" cy="994.8" r="3.2" fill="#3a53a4"/>
<circle cx="1692.9" cy="922.6" r="3.2" fill="#3a53a4"/>
<circle cx="1717.4" cy="911.7" r="3.2" fill="#3a53a4"/>
<circle cx="1766.3" cy="849.7" r="3.2" fill="#3a53a4"/>
<circle cx="1839.8" cy="861.9" r="3.2" fill="#3a53a4"/>
<path d="M1594.9 994.8l98-61.3 49-26.2 48.9-27.5 49-16" stroke="#5bb947" stroke-width="1.5" fill="none" stroke-linejoin="round" />
<polygon points="1588.9,999.1 1600.9,999.1 1594.9,989.2" stroke="#5bb947" stroke-width="1.5" fill="none"/>
<polygon points="1686.9,937.8 1698.9,937.8 1692.9,927.9" stroke="#5bb947" stroke-width="1.5" fill="none"/>
<polygon points="1735.9,911.6 1747.9,911.6 1741.9,901.7" stroke="#5bb947" stroke-width="1.5" fill="none"/>
<polygon points="1784.8,884.1 1796.8,884.1 1790.8,874.2" stroke="#5bb947" stroke-width="1.5" fill="none"/>
<polygon points="1833.8,868.1 1845.8,868.1 1839.8,858.2" stroke="#5bb947" stroke-width="1.5" fill="none"/>
<path d="M1594.9 994.8l98-46.6 49-25 48.9-12.1 24.5-12.2" stroke="#e2262b" stroke-width="1.5" fill="none" stroke-linejoin="round" />
<circle cx="1594.9" cy="994.8" r="5.3" stroke="#e2262b" stroke-width="1.5" fill="none"/>
<circle cx="1692.9" cy="948.2" r="5.3" stroke="#e2262b" stroke-width="1.5" fill="none"/>
<circle cx="1741.9" cy="923.2" r="5.3" stroke="#e2262b" stroke-width="1.5" fill="none"/>
<circle cx="1790.8" cy="911.1" r="5.3" stroke="#e2262b" stroke-width="1.5" fill="none"/>
<circle cx="1815.3" cy="898.9" r="5.3" stroke="#e2262b" stroke-width="1.5" fill="none"/>
<line x1="1617.10" y1="792.60" x2="1681.30" y2="792.60" stroke="#3a53a4" stroke-width="1.4" />
<circle cx="1649.2" cy="792.6" r="3.2" fill="#3a53a4"/>
<text x="1690.0" y="803.1" font-size="21.35" text-anchor="start" font-weight="normal" fill="#231f20" stroke="#231f20" stroke-width="0.3" >0.5</text>
<line x1="1617.10" y1="819.80" x2="1681.30" y2="819.80" stroke="#5bb947" stroke-width="1.4" />
<polygon points="1643.2,824.1 1655.2,824.1 1649.2,814.2" stroke="#5bb947" stroke-width="1.5" fill="none"/>
<text x="1690.0" y="830.3" font-size="21.35" text-anchor="start" font-weight="normal" fill="#231f20" stroke="#231f20" stroke-width="0.3" >0.2</text>
<line x1="1617.10" y1="847.00" x2="1681.30" y2="847.00" stroke="#e2262b" stroke-width="1.4" />
<circle cx="1649.2" cy="847.0" r="5.3" stroke="#e2262b" stroke-width="1.5" fill="none"/>
<text x="1690.0" y="857.5" font-size="21.35" text-anchor="start" font-weight="normal" fill="#231f20" stroke="#231f20" stroke-width="0.3" >0.1</text>
<line x1="1577.80" y1="1131.60" x2="1577.80" y2="1378.80" stroke="#231f20" stroke-width="1.6" />
<line x1="1577.00" y1="1378.00" x2="1888.20" y2="1378.00" stroke="#231f20" stroke-width="1.6" />
<line x1="1577.80" y1="1378.00" x2="1580.30" y2="1378.00" stroke="#231f20" stroke-width="1.3" />
<text x="1568.2" y="1385.4" font-size="21.35" text-anchor="end" font-weight="normal" fill="#231f20" stroke="#231f20" stroke-width="0.3" >0</text>
<line x1="1577.80" y1="1316.40" x2="1580.30" y2="1316.40" stroke="#231f20" stroke-width="1.3" />
<text x="1568.2" y="1323.8" font-size="21.35" text-anchor="end" font-weight="normal" fill="#231f20" stroke="#231f20" stroke-width="0.3" >2</text>
<line x1="1577.80" y1="1254.80" x2="1580.30" y2="1254.80" stroke="#231f20" stroke-width="1.3" />
<text x="1568.2" y="1262.2" font-size="21.35" text-anchor="end" font-weight="normal" fill="#231f20" stroke="#231f20" stroke-width="0.3" >4</text>
<line x1="1577.80" y1="1193.20" x2="1580.30" y2="1193.20" stroke="#231f20" stroke-width="1.3" />
<text x="1568.2" y="1200.6" font-size="21.35" text-anchor="end" font-weight="normal" fill="#231f20" stroke="#231f20" stroke-width="0.3" >6</text>
<line x1="1577.80" y1="1131.60" x2="1580.30" y2="1131.60" stroke="#231f20" stroke-width="1.3" />
<text x="1568.2" y="1139.0" font-size="21.35" text-anchor="end" font-weight="normal" fill="#231f20" stroke="#231f20" stroke-width="0.3" >8</text>
<line x1="1577.80" y1="1378.00" x2="1577.80" y2="1373.50" stroke="#231f20" stroke-width="1.3" />
<text x="1577.8" y="1405.0" font-size="21.35" text-anchor="middle" font-weight="normal" fill="#231f20" stroke="#231f20" stroke-width="0.3" >0</text>
<line x1="1718.50" y1="1378.00" x2="1718.50" y2="1373.50" stroke="#231f20" stroke-width="1.3" />
<text x="1718.5" y="1405.0" font-size="21.35" text-anchor="middle" font-weight="normal" fill="#231f20" stroke="#231f20" stroke-width="0.3" >10</text>
<line x1="1859.20" y1="1378.00" x2="1859.20" y2="1373.50" stroke="#231f20" stroke-width="1.3" />
<text x="1859.2" y="1405.0" font-size="21.35" text-anchor="middle" font-weight="normal" fill="#231f20" stroke="#231f20" stroke-width="0.3" >20</text>
<text x="1729.4" y="1432.2" font-size="21.85" text-anchor="middle" font-weight="normal" fill="#231f20" stroke="#231f20" stroke-width="0.3" >Stimulus charge (nC)</text>
<text x="1732.0" y="1116.5" font-size="21.35" text-anchor="middle" font-weight="normal" fill="#231f20" stroke="#231f20" stroke-width="0.3" >n = 4</text>
<text transform="translate(1522.3 1255.6) rotate(-90)" text-anchor="middle" font-size="22" fill="#231f20">s<tspan font-size="16" dy="9.9">mean ΔV</tspan><tspan font-size="12.5" dy="10.7">m</tspan></text>
<path d="M1577.8 1373.4l70.3-49.3 70.4-57 70.3-41.6 70.4-30.8" stroke="#3a53a4" stroke-width="1.5" fill="none" stroke-linejoin="round" />
<line x1="1648.15" y1="1337.96" x2="1648.15" y2="1308.70" stroke="#3a53a4" stroke-width="1.4" />
<line x1="1645.35" y1="1337.96" x2="1650.95" y2="1337.96" stroke="#3a53a4" stroke-width="1.4" />
<line x1="1645.35" y1="1308.70" x2="1650.95" y2="1308.70" stroke="#3a53a4" stroke-width="1.4" />
<line x1="1718.50" y1="1282.52" x2="1718.50" y2="1250.18" stroke="#3a53a4" stroke-width="1.4" />
<line x1="1715.70" y1="1282.52" x2="1721.30" y2="1282.52" stroke="#3a53a4" stroke-width="1.4" />
<line x1="1715.70" y1="1250.18" x2="1721.30" y2="1250.18" stroke="#3a53a4" stroke-width="1.4" />
<line x1="1788.85" y1="1233.24" x2="1788.85" y2="1217.84" stroke="#3a53a4" stroke-width="1.4" />
<line x1="1786.05" y1="1233.24" x2="1791.65" y2="1233.24" stroke="#3a53a4" stroke-width="1.4" />
<line x1="1786.05" y1="1217.84" x2="1791.65" y2="1217.84" stroke="#3a53a4" stroke-width="1.4" />
<line x1="1859.20" y1="1210.14" x2="1859.20" y2="1179.34" stroke="#3a53a4" stroke-width="1.4" />
<line x1="1856.40" y1="1210.14" x2="1862.00" y2="1210.14" stroke="#3a53a4" stroke-width="1.4" />
<line x1="1856.40" y1="1179.34" x2="1862.00" y2="1179.34" stroke="#3a53a4" stroke-width="1.4" />
<path d="M1577.8 1368.2v10.4M1573.5 1370.8l8.6 5.2M1573.5 1376.0l8.6 -5.2M1573.2 1373.4h9.2" stroke="#3a53a4" stroke-width="1.5" fill="none"/>
<path d="M1648.1 1318.9v10.4M1643.8 1321.5l8.6 5.2M1643.8 1326.7l8.6 -5.2M1643.5 1324.1h9.2" stroke="#3a53a4" stroke-width="1.5" fill="none"/>
<path d="M1718.5 1261.9v10.4M1714.2 1264.5l8.6 5.2M1714.2 1269.7l8.6 -5.2M1713.9 1267.1h9.2" stroke="#3a53a4" stroke-width="1.5" fill="none"/>
<path d="M1788.8 1220.3v10.4M1784.5 1222.9l8.6 5.2M1784.5 1228.1l8.6 -5.2M1784.2 1225.5h9.2" stroke="#3a53a4" stroke-width="1.5" fill="none"/>
<path d="M1859.2 1189.5v10.4M1854.9 1192.1l8.6 5.2M1854.9 1197.3l8.6 -5.2M1854.6 1194.7h9.2" stroke="#3a53a4" stroke-width="1.5" fill="none"/>
<path d="M1577.8 1373.4l70.3-78.6 70.4-21.5 70.3-32.4 70.4-47.7" stroke="#5bb947" stroke-width="1.5" fill="none" stroke-linejoin="round" />
<line x1="1648.15" y1="1336.42" x2="1648.15" y2="1253.26" stroke="#5bb947" stroke-width="1.4" />
<line x1="1645.35" y1="1336.42" x2="1650.95" y2="1336.42" stroke="#5bb947" stroke-width="1.4" />
<line x1="1645.35" y1="1253.26" x2="1650.95" y2="1253.26" stroke="#5bb947" stroke-width="1.4" />
<line x1="1718.50" y1="1307.16" x2="1718.50" y2="1239.40" stroke="#5bb947" stroke-width="1.4" />
<line x1="1715.70" y1="1307.16" x2="1721.30" y2="1307.16" stroke="#5bb947" stroke-width="1.4" />
<line x1="1715.70" y1="1239.40" x2="1721.30" y2="1239.40" stroke="#5bb947" stroke-width="1.4" />
<line x1="1788.85" y1="1267.12" x2="1788.85" y2="1217.84" stroke="#5bb947" stroke-width="1.4" />
<line x1="1786.05" y1="1267.12" x2="1791.65" y2="1267.12" stroke="#5bb947" stroke-width="1.4" />
<line x1="1786.05" y1="1217.84" x2="1791.65" y2="1217.84" stroke="#5bb947" stroke-width="1.4" />
<line x1="1859.20" y1="1205.52" x2="1859.20" y2="1182.42" stroke="#5bb947" stroke-width="1.4" />
<line x1="1856.40" y1="1205.52" x2="1862.00" y2="1205.52" stroke="#5bb947" stroke-width="1.4" />
<line x1="1856.40" y1="1182.42" x2="1862.00" y2="1182.42" stroke="#5bb947" stroke-width="1.4" />
<polygon points="1571.8,1377.7 1583.8,1377.7 1577.8,1367.8" stroke="#5bb947" stroke-width="1.5" fill="none"/>
<polygon points="1642.1,1299.1 1654.1,1299.1 1648.1,1289.2" stroke="#5bb947" stroke-width="1.5" fill="none"/>
<polygon points="1712.5,1277.6 1724.5,1277.6 1718.5,1267.7" stroke="#5bb947" stroke-width="1.5" fill="none"/>
<polygon points="1782.8,1245.2 1794.8,1245.2 1788.8,1235.3" stroke="#5bb947" stroke-width="1.5" fill="none"/>
<polygon points="1853.2,1197.5 1865.2,1197.5 1859.2,1187.6" stroke="#5bb947" stroke-width="1.5" fill="none"/>
<path d="M1577.8 1373.4l70.3-30.8 70.4-27.7 70.3-26.2 70.4-37" stroke="#e2262b" stroke-width="1.5" fill="none" stroke-linejoin="round" />
<line x1="1648.15" y1="1368.76" x2="1648.15" y2="1316.40" stroke="#e2262b" stroke-width="1.4" />
<line x1="1645.35" y1="1368.76" x2="1650.95" y2="1368.76" stroke="#e2262b" stroke-width="1.4" />
<line x1="1645.35" y1="1316.40" x2="1650.95" y2="1316.40" stroke="#e2262b" stroke-width="1.4" />
<line x1="1718.50" y1="1345.66" x2="1718.50" y2="1282.52" stroke="#e2262b" stroke-width="1.4" />
<line x1="1715.70" y1="1345.66" x2="1721.30" y2="1345.66" stroke="#e2262b" stroke-width="1.4" />
<line x1="1715.70" y1="1282.52" x2="1721.30" y2="1282.52" stroke="#e2262b" stroke-width="1.4" />
<line x1="1788.85" y1="1319.48" x2="1788.85" y2="1257.88" stroke="#e2262b" stroke-width="1.4" />
<line x1="1786.05" y1="1319.48" x2="1791.65" y2="1319.48" stroke="#e2262b" stroke-width="1.4" />
<line x1="1786.05" y1="1257.88" x2="1791.65" y2="1257.88" stroke="#e2262b" stroke-width="1.4" />
<line x1="1859.20" y1="1274.82" x2="1859.20" y2="1231.70" stroke="#e2262b" stroke-width="1.4" />
<line x1="1856.40" y1="1274.82" x2="1862.00" y2="1274.82" stroke="#e2262b" stroke-width="1.4" />
<line x1="1856.40" y1="1231.70" x2="1862.00" y2="1231.70" stroke="#e2262b" stroke-width="1.4" />
<circle cx="1577.8" cy="1373.4" r="5.3" stroke="#e2262b" stroke-width="1.5" fill="none"/>
<circle cx="1648.1" cy="1342.6" r="5.3" stroke="#e2262b" stroke-width="1.5" fill="none"/>
<circle cx="1718.5" cy="1314.9" r="5.3" stroke="#e2262b" stroke-width="1.5" fill="none"/>
<circle cx="1788.8" cy="1288.7" r="5.3" stroke="#e2262b" stroke-width="1.5" fill="none"/>
<circle cx="1859.2" cy="1251.7" r="5.3" stroke="#e2262b" stroke-width="1.5" fill="none"/>
<line x1="1600.40" y1="1157.50" x2="1664.00" y2="1157.50" stroke="#3a53a4" stroke-width="1.4" />
<path d="M1632.2 1152.3v10.4M1627.9 1154.9l8.6 5.2M1627.9 1160.1l8.6 -5.2M1627.6 1157.5h9.2" stroke="#3a53a4" stroke-width="1.5" fill="none"/>
<text x="1672.7" y="1168.0" font-size="21.35" text-anchor="start" font-weight="normal" fill="#231f20" stroke="#231f20" stroke-width="0.3" >0.5</text>
<line x1="1600.40" y1="1185.25" x2="1664.00" y2="1185.25" stroke="#5bb947" stroke-width="1.4" />
<polygon points="1626.2,1189.5 1638.2,1189.5 1632.2,1179.7" stroke="#5bb947" stroke-width="1.5" fill="none"/>
<text x="1672.7" y="1195.8" font-size="21.35" text-anchor="start" font-weight="normal" fill="#231f20" stroke="#231f20" stroke-width="0.3" >0.2</text>
<line x1="1600.40" y1="1213.00" x2="1664.00" y2="1213.00" stroke="#e2262b" stroke-width="1.4" />
<circle cx="1632.2" cy="1213.0" r="5.3" stroke="#e2262b" stroke-width="1.5" fill="none"/>
<text x="1672.7" y="1223.5" font-size="21.35" text-anchor="start" font-weight="normal" fill="#231f20" stroke="#231f20" stroke-width="0.3" >0.1</text>
</svg>
</body></html>
